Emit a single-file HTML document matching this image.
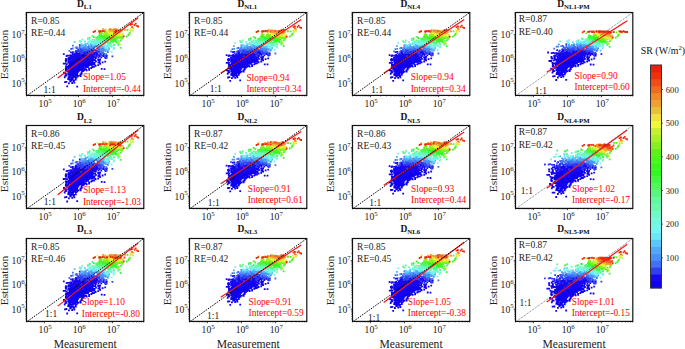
<!DOCTYPE html><html><head><meta charset="utf-8"><style>html,body{margin:0;padding:0;background:#fff;}svg{display:block}</style></head><body>
<svg xmlns="http://www.w3.org/2000/svg" width="685" height="349" viewBox="0 0 685 349" font-family='"Liberation Serif", serif'>
<rect width="685" height="349" fill="#fff"/>
<clipPath id="cp00"><rect x="26.5" y="12.5" width="117.3" height="82.9"/></clipPath>
<g stroke-width="1.8" stroke-linecap="square" fill="none"><path d="M80.8 60.4h0M72.1 62.6h0M78.9 57.2h0M79.7 56.2h0M71.3 62.2h0M78.6 71.2h0M85.4 69.4h0M70.5 55.5h0M78.9 60.8h0M95.1 60.1h0M82.5 63.9h0M85.4 64.0h0M75.1 72.2h0M77.4 62.5h0M82.4 62.9h0M88.0 67.0h0M78.5 65.1h0M82.1 64.0h0M75.1 67.5h0M73.0 70.4h0M92.9 59.0h0M75.9 72.4h0M84.0 64.5h0M80.1 63.3h0M83.7 58.2h0M84.9 60.2h0M77.6 66.3h0M76.7 64.5h0M84.4 61.1h0M77.4 70.0h0M69.3 75.5h0M78.2 65.5h0M72.9 72.0h0M80.7 62.1h0M92.3 55.8h0M77.5 63.7h0M85.7 57.1h0M74.0 76.0h0M72.7 66.3h0M70.3 64.3h0M78.9 67.6h0M81.5 61.0h0M71.7 66.8h0M72.7 60.6h0M77.5 57.9h0M75.2 67.6h0M78.3 67.3h0M81.8 63.8h0M78.1 68.9h0M72.7 63.4h0M89.4 63.0h0M74.4 61.0h0M83.5 60.5h0M73.8 62.9h0M77.9 65.2h0M77.6 67.0h0M76.2 72.0h0M84.4 55.3h0M85.2 61.7h0M77.4 63.1h0M82.4 68.2h0M66.3 66.3h0M85.0 62.9h0M83.2 65.8h0M81.9 64.4h0M81.5 62.8h0M86.3 59.3h0M74.6 73.2h0M82.7 62.2h0M77.8 68.8h0M86.4 58.4h0M76.2 62.3h0M78.5 71.1h0M80.7 66.2h0M78.8 60.9h0M70.4 61.3h0M70.9 66.2h0M80.1 68.4h0M83.2 60.0h0M84.6 66.8h0M98.4 62.7h0M89.8 61.2h0M73.4 58.7h0M80.5 61.1h0M79.0 66.2h0M65.7 60.3h0M76.6 59.6h0M90.1 59.3h0M78.6 64.6h0M81.2 60.0h0M76.8 75.3h0M75.6 70.0h0M80.1 65.9h0M81.0 56.6h0M77.0 65.3h0M80.4 65.8h0M83.9 57.6h0M81.4 62.8h0M88.0 66.1h0M74.6 73.4h0M80.4 63.8h0M80.4 64.0h0M86.6 58.3h0M82.0 56.8h0M75.4 67.9h0M80.8 62.2h0M70.2 76.4h0M77.0 64.1h0M84.4 60.2h0M84.0 70.3h0M76.7 58.8h0M86.4 66.2h0M73.6 65.5h0M71.6 64.9h0M92.3 60.9h0M71.8 62.5h0M78.1 67.2h0M74.0 68.1h0M76.5 73.9h0M75.8 66.8h0M73.5 68.3h0M71.6 75.1h0M83.0 69.4h0M80.3 60.4h0M79.6 70.4h0M79.4 61.8h0M72.8 66.2h0M78.3 56.9h0M73.7 74.6h0M85.3 56.6h0M76.8 59.8h0M66.4 81.8h0M68.4 71.9h0M88.9 65.3h0M76.3 71.7h0M70.2 66.7h0M79.1 60.0h0M80.1 61.9h0M73.4 70.4h0M76.7 63.8h0M81.0 61.0h0M68.2 79.0h0M75.6 60.5h0M77.4 58.5h0M72.8 62.2h0M73.7 72.1h0M64.7 77.4h0M73.7 67.1h0M77.2 56.4h0M70.9 79.6h0M91.5 59.9h0M75.2 69.3h0M76.6 70.0h0M78.1 60.7h0M75.9 70.9h0M76.7 65.4h0M78.8 63.1h0M78.1 61.0h0M94.6 62.7h0M65.9 73.9h0M80.8 56.8h0M68.5 61.3h0M73.5 62.4h0M72.4 75.5h0M76.4 73.4h0M78.3 64.1h0M77.1 74.3h0M74.0 80.3h0M77.7 61.4h0M74.8 76.2h0M72.9 76.4h0M78.7 71.1h0M75.4 62.0h0M86.2 62.9h0M79.6 62.3h0M76.3 59.6h0M76.3 63.8h0M78.2 67.9h0M75.3 68.8h0M71.7 67.6h0M93.9 59.9h0M74.3 61.2h0M73.9 57.4h0M82.3 60.0h0M76.8 70.2h0M77.1 56.5h0M86.8 62.5h0M68.3 59.0h0M78.2 64.9h0M99.6 62.0h0M68.6 61.2h0M81.6 61.0h0M95.8 58.2h0M84.7 62.8h0M78.8 69.4h0M77.3 68.1h0M85.3 65.2h0M73.0 57.4h0M91.2 68.0h0M90.0 64.7h0M71.7 65.1h0M75.9 69.4h0M85.4 57.9h0M78.8 59.7h0M78.0 62.8h0M74.2 66.5h0M75.9 62.4h0M94.2 53.2h0M74.5 71.1h0M76.5 66.2h0M79.1 61.3h0M73.1 70.2h0M76.7 59.9h0M71.8 64.9h0M71.4 78.0h0M74.3 65.4h0M74.4 69.7h0M70.5 74.1h0M78.1 67.7h0M81.6 57.9h0M79.8 61.8h0M90.5 59.9h0M71.5 64.8h0M81.8 61.0h0M77.0 66.0h0M85.2 55.3h0M84.9 54.7h0M75.4 70.1h0M81.8 73.4h0M78.7 62.9h0M68.9 59.0h0M75.6 66.6h0M71.1 70.3h0M65.9 69.7h0M81.1 63.8h0M81.5 56.1h0M80.2 60.6h0M66.4 75.7h0M68.8 61.8h0M100.1 59.5h0M78.1 60.8h0M80.2 65.2h0M73.5 60.0h0M74.8 76.5h0M87.1 65.6h0M78.2 59.6h0M73.4 65.1h0M76.1 69.4h0M81.5 63.4h0M74.6 69.9h0M81.3 63.7h0M75.0 65.0h0M94.5 57.5h0M81.0 59.3h0M82.5 67.3h0M82.9 64.2h0M82.0 58.3h0M73.2 64.1h0M78.8 62.9h0M71.9 68.1h0M83.9 61.8h0M80.1 64.6h0M70.8 68.8h0M83.9 60.0h0M80.8 62.7h0M82.2 58.5h0M91.4 56.3h0M88.0 60.3h0M83.0 66.5h0M77.3 66.1h0M78.6 63.6h0M91.5 65.0h0M77.8 62.6h0M76.2 69.3h0M87.0 61.6h0M73.7 64.4h0M73.4 73.0h0M75.4 65.3h0M81.1 63.0h0M81.4 57.7h0M77.4 67.0h0M76.5 68.4h0M75.4 74.4h0M75.7 73.9h0M74.5 74.8h0M79.6 68.6h0M86.9 56.2h0M75.9 67.8h0M81.4 57.6h0M81.7 59.0h0M75.8 63.6h0M81.3 73.8h0M76.8 60.6h0M89.2 61.4h0M78.1 64.5h0M84.2 61.0h0M77.4 59.8h0M86.5 62.2h0M79.1 63.1h0M79.9 66.7h0M80.6 65.8h0M78.7 56.5h0M82.3 64.5h0M73.2 67.9h0M85.3 62.2h0M79.6 65.2h0M86.9 63.0h0M66.3 60.3h0M78.2 68.0h0M76.4 68.1h0M69.2 76.4h0M86.3 62.1h0M78.5 66.3h0M73.2 77.7h0M87.6 59.0h0M77.0 59.5h0M75.6 70.0h0M73.8 60.6h0M70.0 64.2h0M79.0 61.9h0M69.2 79.3h0M92.2 67.2h0M73.7 65.2h0M75.4 57.0h0M76.4 75.1h0M77.8 58.6h0M76.1 60.8h0M74.4 82.6h0M82.1 58.6h0M66.8 66.7h0M74.1 70.0h0M66.8 64.1h0M80.0 58.9h0M78.1 63.1h0M93.3 60.3h0M76.4 62.2h0M85.1 62.1h0M76.8 67.5h0M74.2 71.8h0M89.6 56.1h0M82.9 61.6h0M98.2 65.2h0M93.7 64.3h0M75.1 57.8h0M72.7 63.8h0M76.5 66.5h0M83.0 68.6h0M75.0 59.5h0M72.6 64.4h0M79.0 64.9h0M76.0 67.0h0M89.1 68.6h0M68.6 79.0h0M69.7 74.3h0M75.7 74.4h0M69.0 58.0h0M71.9 62.1h0M74.7 54.5h0M73.6 64.9h0M84.2 57.9h0M72.5 67.1h0M68.8 67.3h0M74.3 59.4h0M72.9 71.8h0M77.4 65.6h0M88.5 63.9h0M81.3 57.2h0M74.9 70.9h0M87.4 56.4h0M73.3 66.7h0M79.2 62.4h0M73.6 81.1h0M77.7 64.5h0M87.3 58.1h0M75.7 58.2h0M72.9 69.8h0M78.2 66.8h0M80.5 58.5h0M82.2 71.2h0M79.1 68.7h0M77.1 68.0h0M75.8 66.5h0M90.7 60.5h0M77.1 68.4h0M74.0 70.9h0M73.9 63.7h0M70.6 64.1h0M73.6 65.1h0M75.5 60.8h0M74.8 71.4h0M79.0 64.2h0M70.5 70.1h0M63.7 63.7h0M70.8 80.1h0M84.1 54.2h0M71.3 70.5h0M86.0 61.7h0M72.2 77.0h0M67.4 70.4h0M80.8 63.3h0M77.7 61.9h0M76.3 65.8h0M85.9 57.8h0M79.9 64.7h0M76.2 67.4h0M80.1 60.7h0M68.4 66.7h0M75.3 67.0h0M98.4 60.1h0M74.1 69.8h0M71.4 72.5h0M76.8 68.3h0M81.7 70.6h0M73.7 73.3h0M78.5 75.8h0M71.9 70.1h0M79.5 62.5h0M83.4 61.4h0M76.9 61.3h0M81.3 69.2h0M69.7 66.7h0M71.6 65.6h0M72.4 72.8h0M84.7 56.9h0M75.6 68.8h0M79.2 65.0h0M75.6 64.9h0M86.9 59.3h0M74.9 76.7h0M85.2 58.0h0M71.6 64.9h0M70.9 70.2h0M80.4 74.4h0M69.6 63.1h0M77.5 62.1h0M81.7 61.7h0M78.6 60.2h0M73.6 68.0h0M73.7 60.6h0M69.0 65.4h0M94.3 64.3h0M68.7 61.0h0M76.6 62.5h0M72.2 68.0h0M72.6 66.6h0M66.0 59.0h0M75.0 64.2h0M79.2 59.4h0M76.3 70.8h0M80.0 62.6h0M85.6 63.1h0M78.6 63.1h0M87.0 59.1h0M67.4 71.6h0M71.8 66.2h0M78.1 60.0h0M84.4 63.4h0M77.4 76.6h0M89.1 69.8h0M87.7 59.9h0M89.1 57.9h0M88.4 59.2h0M74.0 60.6h0M71.5 68.8h0M70.3 64.9h0M79.7 58.6h0M78.1 61.5h0M85.5 55.6h0M77.6 64.7h0M80.6 67.2h0M83.3 59.6h0M88.1 60.9h0M66.1 66.2h0M81.1 64.2h0M73.3 65.4h0M73.1 65.9h0M73.6 64.3h0M76.6 69.6h0M77.6 65.3h0M73.6 60.2h0M82.1 66.2h0M79.7 69.9h0M75.5 67.7h0M88.2 63.0h0M78.0 61.7h0M88.0 62.2h0M70.2 65.8h0M83.6 66.6h0M88.8 57.7h0M77.4 56.8h0M74.0 76.2h0M67.6 71.6h0M71.1 66.9h0M75.3 65.2h0M77.3 74.6h0M77.0 58.8h0M75.3 67.4h0M76.8 60.1h0M77.9 71.2h0M68.3 62.5h0M71.2 64.0h0M80.0 63.3h0M89.2 62.1h0M75.2 71.9h0M87.1 61.1h0M84.9 66.6h0M95.6 65.8h0M80.6 61.9h0M84.8 56.3h0M70.8 60.2h0M91.0 58.8h0M86.7 70.3h0M79.2 66.0h0M67.8 66.6h0M88.6 60.4h0M79.5 60.9h0M78.9 64.0h0M76.0 73.6h0M75.1 71.0h0M77.4 69.6h0M76.0 70.7h0M72.6 63.8h0M92.1 62.0h0M71.6 65.3h0M74.1 58.9h0M95.9 57.2h0M77.1 73.0h0M69.7 71.4h0M69.4 61.5h0M75.1 61.7h0M81.4 69.6h0M83.6 60.1h0M77.9 68.1h0M82.4 62.3h0M86.1 67.0h0M93.9 54.0h0M74.5 65.2h0M71.0 75.3h0M72.8 66.7h0M86.9 59.2h0M89.5 64.8h0M79.0 65.1h0M72.6 66.4h0M76.0 66.2h0M75.2 66.7h0M81.9 64.8h0M74.9 62.3h0M75.7 68.7h0M74.5 71.1h0M83.3 65.1h0M78.9 61.2h0M78.8 64.3h0M92.7 66.7h0M70.5 59.0h0M74.8 71.1h0M95.3 65.5h0M79.6 68.6h0M79.9 63.9h0M77.0 62.6h0M88.1 57.3h0M76.3 72.2h0M75.6 62.5h0M70.4 81.0h0M83.2 66.4h0M65.0 63.6h0M81.3 58.2h0M65.3 75.9h0M89.2 55.7h0M83.8 64.0h0M74.9 62.1h0M71.5 74.7h0M77.3 61.7h0M77.7 65.1h0M79.1 62.2h0M75.9 60.5h0M77.5 62.6h0M73.5 65.0h0M77.1 65.2h0M73.2 63.8h0M69.4 75.4h0M65.0 82.1h0M92.1 64.4h0M66.1 67.6h0M72.2 83.0h0M76.3 58.1h0M73.2 68.8h0M79.6 66.0h0M75.0 61.4h0M78.2 63.9h0M74.1 63.9h0M91.5 62.3h0M83.8 60.3h0M78.7 58.7h0M80.3 69.2h0M75.8 66.8h0M85.7 63.7h0M99.0 60.5h0M80.6 67.1h0M70.6 71.5h0M70.3 74.3h0M66.3 69.3h0M76.2 56.7h0M100.1 63.8h0M69.2 78.2h0M78.7 67.3h0M83.2 62.5h0M80.8 64.1h0M87.9 59.4h0M77.9 65.7h0M81.1 66.9h0M74.0 72.7h0M70.0 71.8h0M76.2 67.2h0M64.3 73.0h0M75.8 67.4h0M75.0 60.5h0M81.0 63.8h0M87.5 66.5h0M83.4 63.9h0M70.5 72.0h0M75.2 69.3h0M75.8 79.7h0M83.1 63.4h0M77.1 67.8h0M75.1 62.1h0M81.4 60.6h0M80.5 68.8h0M76.4 67.7h0M70.0 65.6h0M71.9 60.9h0M74.3 66.2h0M94.0 55.8h0M80.4 69.8h0M73.9 71.3h0M92.4 63.8h0M80.6 60.9h0M78.5 70.3h0M74.0 70.1h0M77.1 60.6h0M80.9 60.4h0M73.9 60.2h0M72.7 79.7h0M78.9 63.8h0M84.0 65.4h0M72.6 69.8h0M80.0 59.5h0M77.9 64.4h0M74.7 61.3h0M68.2 74.1h0M78.5 65.2h0M78.5 70.7h0M76.7 66.7h0M86.7 57.1h0M73.6 75.8h0M70.2 74.0h0M85.3 56.9h0M74.9 65.3h0M74.6 71.9h0M73.4 60.8h0M83.9 59.4h0M73.7 66.0h0M81.9 62.3h0M78.0 63.9h0M77.5 67.7h0M77.5 67.0h0M82.5 61.0h0M74.4 65.9h0M83.9 56.1h0M72.1 73.5h0M84.1 58.5h0M101.7 68.8h0M71.1 71.7h0M81.8 55.3h0M77.0 70.3h0M82.6 58.2h0M73.9 63.6h0M73.8 66.6h0M84.5 57.6h0M68.2 69.8h0M87.0 58.2h0M83.1 59.5h0M72.4 68.6h0M74.5 68.4h0M92.1 60.9h0M76.6 69.1h0M72.0 77.8h0M81.5 72.8h0M70.5 69.5h0M69.4 67.4h0M80.2 69.3h0M89.0 51.6h0M71.9 66.5h0M78.6 66.5h0M74.6 68.7h0M76.1 75.1h0M68.7 74.2h0M73.8 70.9h0M82.7 62.4h0M93.9 66.9h0M74.2 59.4h0M77.7 65.4h0M73.8 67.5h0M69.4 75.4h0M80.7 56.2h0M79.8 61.5h0M76.4 65.7h0M82.6 69.6h0M81.5 59.2h0M77.0 58.6h0M83.7 56.7h0M73.8 74.5h0M76.5 60.5h0M90.8 62.4h0M80.2 68.6h0M70.5 67.8h0M85.1 53.3h0M92.5 57.4h0M98.1 59.4h0M80.6 68.2h0M88.9 61.0h0M85.3 58.6h0M69.8 71.6h0M70.2 81.4h0M78.5 69.6h0M74.1 68.2h0M74.8 69.2h0M74.6 76.5h0M90.9 63.2h0M77.4 64.2h0M83.5 60.8h0M74.0 65.6h0M73.0 73.8h0M68.7 78.4h0M69.3 65.3h0M75.3 61.1h0M70.3 65.6h0M79.6 57.9h0M75.2 75.7h0M86.5 58.2h0M79.6 65.2h0M77.4 65.5h0M85.9 57.9h0M71.0 69.7h0M77.3 69.2h0M76.2 70.6h0M76.4 59.0h0M75.2 77.1h0M83.4 67.0h0M74.1 61.6h0M85.7 61.6h0M85.5 59.5h0M76.8 66.8h0M78.0 66.4h0M92.6 53.1h0M71.0 67.6h0M73.3 63.6h0M104.5 69.1h0M75.1 67.7h0M85.2 58.9h0M81.7 65.9h0M74.4 58.4h0M81.0 63.7h0M70.2 70.5h0M80.4 74.8h0M75.3 64.9h0M77.3 65.5h0M80.4 64.2h0M76.5 77.6h0M79.8 61.6h0M77.2 63.5h0M72.6 74.1h0M73.8 62.9h0M86.0 64.0h0M72.1 70.6h0M82.2 67.0h0M88.1 65.3h0M76.4 66.9h0M69.2 71.4h0M84.7 68.8h0M80.7 76.0h0M66.0 61.7h0M82.7 71.1h0M84.0 61.5h0M79.4 66.5h0M71.1 68.1h0M72.1 64.8h0M68.9 67.0h0M96.0 61.4h0M89.7 59.9h0M79.3 63.9h0M86.1 69.5h0M75.2 68.2h0M68.6 74.3h0M75.1 67.2h0M79.4 63.2h0M79.9 68.4h0M73.5 62.9h0M68.7 66.5h0M83.0 65.9h0M73.3 64.7h0M79.5 65.2h0M73.5 71.2h0M71.7 58.1h0M72.0 56.6h0M86.9 59.1h0M89.5 61.5h0M77.4 65.3h0M87.0 58.0h0M70.0 77.3h0M78.5 68.8h0M81.6 61.0h0M77.9 72.4h0M82.9 71.2h0M73.5 67.7h0M77.1 63.0h0M79.8 66.5h0M74.4 63.1h0M71.3 70.9h0M77.7 61.8h0M70.5 70.5h0M88.1 58.7h0M86.9 59.1h0M77.9 59.0h0M69.0 67.4h0M81.7 63.6h0M74.1 62.7h0M68.7 74.4h0M83.0 57.7h0M90.2 58.6h0M74.1 72.4h0M82.8 58.3h0M78.1 57.4h0M86.4 61.7h0M73.2 75.2h0M93.3 62.7h0M83.5 65.8h0M94.6 56.5h0M81.4 69.4h0M82.5 69.3h0M81.9 64.2h0M82.8 59.4h0M80.7 65.4h0M78.4 62.4h0M73.1 72.2h0M74.3 66.8h0M79.9 56.7h0M77.7 67.5h0M74.9 62.9h0M79.6 68.9h0M75.0 59.8h0M71.7 70.3h0M70.8 61.4h0M68.5 77.5h0M68.4 73.9h0M70.5 71.6h0M70.6 63.8h0M85.6 59.9h0M92.4 64.3h0M73.8 73.5h0M82.5 64.1h0M84.5 61.3h0M102.6 62.4h0M79.7 64.0h0M85.3 60.9h0M77.7 61.4h0M98.7 62.6h0M68.2 68.1h0M80.3 63.7h0M77.0 64.5h0M70.1 70.8h0M65.8 70.7h0M64.6 73.4h0M82.5 59.1h0M77.5 60.8h0M87.4 59.2h0M78.2 66.6h0M80.1 57.5h0M84.3 57.4h0M74.7 58.7h0M75.6 77.8h0M69.5 72.3h0M76.2 69.3h0M78.0 65.0h0M68.5 62.0h0M75.2 72.7h0M78.5 64.2h0M90.8 64.3h0M78.3 63.9h0M80.2 55.1h0M74.7 70.9h0M74.8 66.3h0M63.9 72.7h0M83.8 63.0h0M75.2 68.4h0M70.0 68.1h0M80.2 59.6h0M82.4 59.2h0M76.7 72.7h0M87.8 64.3h0M81.5 63.4h0M89.2 58.9h0M81.8 64.5h0M81.0 59.8h0M80.1 60.7h0M78.1 63.2h0M81.6 62.0h0M74.8 57.3h0M82.1 64.6h0M68.9 79.2h0M67.2 86.4h0M71.3 80.6h0M74.4 82.6h0M77.2 86.6h0M68.9 83.3h0" stroke="#1000f0"/><path d="M76.2 59.4h0M83.9 57.7h0M92.0 54.4h0M90.4 57.2h0M73.2 54.5h0M91.2 57.5h0M72.3 59.5h0M100.6 54.0h0M88.8 53.7h0M88.6 55.1h0M76.3 63.5h0M93.9 53.5h0M69.0 55.7h0M87.3 49.8h0M72.9 52.2h0M100.0 54.6h0M77.8 57.2h0M87.4 56.4h0M81.4 60.9h0M98.6 52.2h0M81.4 56.8h0M86.6 54.0h0M78.6 55.3h0M77.5 51.0h0M81.7 57.3h0M96.7 55.8h0M83.6 56.9h0M92.6 49.0h0M92.0 49.6h0M106.8 55.8h0M75.6 55.8h0M79.0 57.9h0M89.8 45.8h0M83.1 56.8h0M85.4 55.5h0M98.5 57.2h0M89.6 56.1h0M75.6 55.4h0M83.1 49.8h0M89.1 54.6h0M82.3 55.2h0M105.6 58.2h0M80.0 62.2h0M79.4 57.9h0M82.9 51.5h0M88.0 54.7h0M93.2 53.0h0M82.6 55.6h0M81.5 52.7h0M77.1 57.9h0M92.9 53.9h0M96.2 53.4h0M78.7 58.3h0M76.8 54.0h0M90.7 59.5h0M78.3 55.1h0M80.9 62.6h0M101.9 52.3h0M92.1 54.0h0M72.4 57.2h0M84.6 56.2h0M85.7 55.7h0M81.0 55.5h0M88.8 57.2h0M89.7 57.7h0M84.8 52.2h0M103.1 55.6h0M81.4 55.4h0M95.5 56.6h0M75.9 51.1h0M84.3 56.3h0M71.0 52.3h0M84.8 54.6h0M80.8 56.1h0M99.7 56.0h0M94.8 56.0h0M86.8 57.6h0M87.4 51.4h0M73.7 58.0h0M92.7 56.9h0M81.8 57.5h0M99.6 60.1h0M84.3 59.4h0M87.1 53.5h0M76.7 55.8h0M68.6 58.2h0M86.9 56.8h0M77.6 55.7h0M82.7 53.7h0M79.6 55.8h0M79.2 56.3h0M77.1 57.2h0M95.0 55.6h0M77.8 56.3h0M76.7 56.0h0M103.6 53.9h0M101.3 57.4h0M77.4 56.8h0M76.7 54.9h0M75.9 60.6h0M99.0 55.1h0M85.4 53.5h0M82.9 51.8h0M79.1 55.4h0M73.9 55.8h0M78.0 58.3h0M86.4 56.9h0M91.6 54.9h0M86.1 52.0h0M79.8 53.6h0M103.4 56.2h0M70.9 61.1h0M77.3 61.0h0M88.8 57.2h0M85.0 55.1h0M106.3 56.3h0M96.7 52.2h0M92.6 53.3h0M87.1 50.4h0M86.0 58.2h0M94.1 57.0h0M89.1 58.1h0M83.3 51.6h0M76.1 61.4h0M83.6 52.1h0M86.8 54.7h0M84.4 50.7h0M87.1 53.9h0M87.2 54.2h0M82.9 55.1h0M90.8 59.8h0M87.1 57.3h0M88.1 55.9h0M80.8 52.5h0M87.9 56.2h0M95.8 52.4h0M73.9 59.8h0M89.8 54.4h0M83.9 52.7h0M78.9 58.6h0M76.1 72.8h0M74.8 58.8h0M70.5 57.4h0M73.7 58.3h0M86.2 55.5h0M97.3 54.6h0M75.1 53.8h0M90.7 50.2h0M86.6 55.7h0M86.3 54.3h0M83.6 53.4h0M87.6 50.6h0M85.3 53.1h0M72.6 58.4h0M67.4 55.7h0M89.8 54.1h0M79.6 58.9h0M92.8 51.3h0M93.3 51.7h0M82.5 54.6h0M96.4 54.2h0M74.2 54.7h0M86.4 56.2h0M92.5 55.2h0M84.5 57.9h0M95.2 57.2h0M80.8 52.8h0M78.9 56.5h0M72.6 53.8h0M82.3 56.5h0M92.7 55.1h0M87.6 60.7h0M76.0 53.2h0M94.2 55.8h0M76.8 54.4h0M73.5 55.6h0M88.5 57.9h0M79.0 55.4h0M80.1 62.9h0M93.2 51.2h0M78.7 56.0h0M89.4 57.0h0M82.7 55.3h0M81.2 55.7h0M93.4 56.9h0M71.3 55.7h0M76.9 52.0h0M86.0 51.8h0M90.9 55.4h0M80.4 58.3h0M105.2 61.6h0M85.5 51.9h0M84.3 56.6h0M85.9 54.8h0M83.0 62.1h0M85.8 58.3h0M63.8 54.1h0M81.9 54.5h0M85.0 55.6h0M82.9 53.1h0M79.5 54.6h0M81.0 53.2h0M73.0 56.7h0M92.4 58.3h0M97.4 53.0h0M71.0 55.6h0M93.6 54.3h0M73.1 54.5h0M83.3 58.9h0M89.4 49.0h0M84.2 54.8h0M82.5 56.4h0M85.0 53.7h0M80.8 54.5h0M81.2 50.5h0M83.9 50.6h0M90.5 56.6h0M75.8 56.9h0M85.0 51.2h0M80.6 57.4h0M77.0 55.5h0M96.8 55.4h0M83.9 53.1h0M74.9 55.3h0M92.1 50.3h0M87.5 54.1h0M81.1 59.1h0M74.5 56.7h0M82.5 56.7h0M85.7 60.4h0M93.7 52.4h0M81.6 56.6h0M85.6 51.0h0M88.6 50.8h0M85.2 57.1h0M81.4 54.5h0M83.1 57.7h0M88.5 53.8h0M77.3 55.7h0M92.4 51.5h0M83.1 52.9h0M91.7 55.6h0M74.7 54.5h0M80.9 58.8h0M79.7 58.6h0M82.3 56.2h0M75.4 53.7h0M77.9 56.4h0M83.7 54.1h0M92.5 49.5h0M81.2 57.7h0M77.7 57.5h0M78.9 55.7h0M92.9 56.5h0M96.4 53.6h0M94.8 54.5h0M96.3 53.8h0M75.2 56.9h0M86.7 57.4h0M79.1 55.8h0M83.6 56.6h0M66.6 56.0h0M74.1 57.0h0M81.1 58.4h0M94.1 53.9h0M79.6 52.9h0M98.6 49.6h0M82.8 57.7h0M79.8 55.8h0M88.6 57.5h0M82.5 53.3h0M98.8 51.5h0M80.3 50.3h0M78.4 53.7h0" stroke="#1808f0"/><path d="M95.2 55.7h0M98.5 51.7h0M87.1 48.8h0M89.5 48.8h0M101.7 55.4h0M80.4 51.0h0M80.9 52.0h0M96.7 50.8h0M88.5 49.4h0M91.1 53.1h0M79.5 51.2h0M85.7 50.4h0M101.1 54.5h0M88.2 53.7h0M99.1 51.1h0M90.1 51.8h0M89.2 47.2h0M81.2 53.7h0M112.4 56.3h0M99.4 54.2h0M82.2 49.2h0M80.7 50.1h0M80.9 57.3h0M82.1 53.0h0M79.2 51.8h0M90.1 50.8h0M82.3 50.0h0M78.3 49.4h0M82.6 49.4h0M85.3 48.8h0M89.3 51.1h0M95.5 50.6h0M98.3 50.5h0M98.6 51.4h0M87.2 50.9h0M86.3 52.8h0M103.8 53.7h0M89.0 50.7h0M102.0 48.1h0M89.3 52.0h0M85.1 54.2h0M86.6 50.9h0M87.8 47.2h0M93.1 52.7h0M99.6 51.8h0M77.9 51.2h0M91.5 51.3h0M88.0 49.8h0M99.5 52.0h0M89.3 52.6h0M86.7 51.5h0M89.9 49.5h0M71.2 48.8h0M91.8 53.0h0M84.2 49.8h0M98.0 52.1h0M94.0 50.1h0M84.1 50.1h0M93.5 48.5h0M78.1 49.5h0M79.4 51.5h0M86.8 50.5h0M105.0 55.6h0M97.0 51.2h0M82.4 51.2h0M82.6 53.2h0M97.9 52.1h0M78.3 51.1h0M85.8 54.1h0M92.9 49.2h0M82.8 51.8h0M77.2 50.6h0M75.4 52.1h0M79.8 45.0h0M102.5 52.9h0M81.1 52.5h0M83.7 51.2h0M90.2 49.7h0M79.3 51.1h0M104.9 57.4h0M80.2 48.5h0M90.3 48.9h0M88.8 48.4h0M106.7 57.8h0M86.9 48.9h0M76.7 48.1h0M83.2 51.3h0M76.8 47.3h0M96.9 46.1h0M89.2 50.9h0M81.5 50.2h0M94.5 49.8h0M83.0 50.8h0M83.8 50.0h0M83.5 48.2h0" stroke="#3040f0"/><path d="M101.3 52.0h0M100.0 49.7h0M89.2 47.9h0M106.4 54.4h0M91.5 46.0h0M88.1 48.4h0M92.3 46.1h0M106.4 54.3h0M90.3 44.5h0M82.0 48.4h0M96.0 45.7h0M102.4 53.5h0M89.9 50.0h0M89.2 46.8h0M99.1 47.7h0M89.3 45.0h0M105.7 50.7h0M91.0 46.2h0M81.8 48.7h0M72.7 48.5h0M99.7 48.2h0M91.4 49.0h0M106.1 54.2h0M99.2 47.1h0M100.2 48.0h0M92.7 48.9h0M94.1 46.5h0M89.6 50.6h0M97.5 48.4h0M101.5 50.7h0M91.4 49.2h0M103.3 52.3h0M84.8 47.2h0M104.4 49.6h0M85.1 47.6h0M100.8 47.7h0M72.9 45.7h0M97.6 45.9h0M86.5 48.9h0M93.0 47.0h0M99.5 48.9h0M87.6 49.4h0M98.8 49.8h0M93.7 48.4h0M92.5 49.1h0M101.5 50.4h0M103.1 48.5h0M93.8 47.5h0M81.3 45.6h0M105.5 48.3h0M87.0 47.1h0M99.2 48.8h0M103.6 49.8h0M99.3 48.9h0M93.3 46.6h0M79.6 46.9h0M84.0 50.4h0M79.5 47.9h0M82.4 48.6h0M85.2 50.3h0M107.8 52.0h0M90.2 45.1h0M104.3 49.5h0M92.9 46.8h0M91.9 44.6h0M69.4 50.9h0" stroke="#4070f8"/><path d="M81.9 46.7h0M103.2 50.8h0M103.8 46.9h0M91.4 47.3h0M98.6 45.8h0M97.3 46.7h0M87.2 48.0h0M94.8 44.2h0M91.9 45.6h0M96.2 45.1h0M98.9 47.2h0M101.5 49.9h0M83.3 46.9h0M102.1 46.5h0M100.7 48.8h0M85.7 44.6h0M104.1 50.2h0M95.4 46.3h0M82.3 45.3h0M90.9 47.6h0M84.9 45.7h0M92.6 48.4h0M86.7 46.9h0M93.0 46.3h0M90.0 47.1h0M90.0 45.9h0M95.4 44.8h0M75.6 47.6h0M96.5 42.4h0M85.6 45.7h0M81.2 45.6h0M86.0 47.8h0M100.4 47.9h0M99.2 46.8h0M106.0 48.8h0M84.0 47.8h0M83.1 46.8h0" stroke="#4890f8"/><path d="M95.1 45.0h0M105.0 49.3h0M98.7 45.6h0M86.6 46.8h0M100.4 46.0h0M104.4 44.8h0M105.7 51.1h0M95.3 44.2h0M97.9 44.6h0M97.4 42.9h0M92.6 45.9h0M109.1 48.9h0M92.2 45.4h0M97.1 44.3h0M89.6 45.7h0M96.6 44.2h0M93.8 47.7h0M100.7 47.5h0M90.3 46.9h0M83.6 46.1h0M87.7 43.6h0M103.4 47.7h0M97.5 44.0h0M94.7 45.3h0M94.2 45.3h0" stroke="#50a8f8"/><path d="M103.9 43.3h0M99.7 43.4h0M101.4 42.5h0M103.2 45.5h0M96.4 45.6h0M107.8 48.6h0M81.5 44.1h0M97.4 43.6h0M89.9 43.8h0M102.2 44.4h0M107.3 49.8h0M107.2 46.3h0M108.5 50.6h0M108.8 47.6h0M81.9 45.6h0M85.6 43.6h0M94.1 41.8h0M96.5 44.5h0M101.0 47.0h0M97.5 43.5h0M101.3 44.1h0M98.1 45.3h0M84.2 44.9h0M99.3 46.5h0M102.1 46.4h0M98.6 44.2h0M103.0 46.7h0M74.6 42.2h0" stroke="#58c8f8"/><path d="M102.8 43.1h0M107.7 44.2h0M100.8 42.2h0M107.5 46.1h0M111.2 46.4h0M102.7 44.9h0M84.9 41.5h0M100.7 42.3h0M94.5 44.4h0M89.8 44.4h0M98.2 44.4h0M97.1 41.7h0M100.8 42.5h0M98.5 41.6h0M96.7 44.4h0M101.2 42.8h0M106.5 46.7h0M95.8 41.6h0M96.2 43.5h0M91.7 41.8h0M81.2 41.3h0M93.5 44.8h0M107.1 46.3h0M94.2 43.7h0M98.5 43.5h0M96.6 41.5h0M96.8 43.6h0M92.1 43.6h0" stroke="#68e8f8"/><path d="M100.9 41.1h0M107.2 48.6h0M100.8 43.3h0M104.7 45.0h0M108.3 44.0h0M88.3 42.3h0M105.7 47.5h0M97.3 42.4h0M92.6 43.2h0M97.9 43.8h0M101.0 44.5h0M99.8 43.4h0M102.4 45.0h0M93.7 41.7h0M101.6 43.8h0M102.2 43.6h0M95.8 40.6h0M96.0 42.4h0M93.6 42.2h0M103.8 43.0h0M96.0 42.1h0M113.6 49.0h0M107.9 44.2h0M97.4 41.6h0M99.2 42.9h0M105.3 47.9h0M100.7 40.9h0M99.1 43.9h0M98.6 41.6h0M100.9 42.4h0M102.6 43.1h0M111.6 51.8h0M94.6 42.3h0M89.1 43.6h0M95.4 40.9h0M111.3 45.6h0" stroke="#70f8f0"/><path d="M108.9 46.8h0M109.1 45.1h0M82.2 39.6h0M105.5 41.8h0M101.6 42.0h0M90.2 41.6h0M103.0 42.5h0M98.3 39.6h0M95.0 40.5h0M95.6 42.0h0M98.6 40.7h0M97.8 43.0h0M112.0 46.6h0M99.8 41.5h0M89.7 41.9h0M97.5 43.1h0M100.6 41.2h0M90.5 41.6h0M100.6 41.1h0M109.7 44.9h0M89.4 39.3h0M90.5 40.8h0M111.3 46.4h0M103.5 44.2h0M118.1 45.6h0" stroke="#70f8e0"/><path d="M80.2 42.1h0M98.9 41.1h0M97.9 40.8h0M113.6 44.6h0M105.0 43.3h0M94.1 39.9h0M114.2 47.8h0M110.7 43.8h0M101.5 41.9h0M105.5 41.0h0M108.9 43.3h0M99.4 41.6h0M99.8 42.2h0M103.0 42.1h0M100.8 40.6h0M79.6 40.8h0M97.7 41.6h0M106.1 42.3h0M107.5 42.6h0M96.7 40.4h0M99.4 41.7h0M107.3 41.5h0M100.9 40.3h0M111.0 45.3h0M87.9 39.6h0M110.2 44.2h0M96.5 39.7h0M98.2 39.0h0M108.5 44.5h0M98.3 39.4h0M104.8 44.5h0M107.6 41.6h0" stroke="#70f8c8"/><path d="M103.9 41.1h0M99.0 41.0h0M105.5 42.0h0M105.0 42.7h0M102.4 40.6h0M108.1 43.0h0M105.4 41.8h0M101.4 38.6h0M92.3 39.9h0M102.7 40.7h0M105.4 40.9h0M105.5 40.4h0M88.0 38.2h0M115.4 41.7h0M102.4 40.2h0M98.1 39.3h0M105.3 43.1h0M93.6 41.8h0M105.8 41.0h0M103.9 40.1h0" stroke="#68f8b0"/><path d="M109.0 43.3h0M102.2 38.2h0M108.0 41.3h0M106.8 39.7h0M106.8 41.0h0M98.7 38.5h0M103.3 38.7h0M113.1 42.3h0M105.1 40.6h0M107.5 39.8h0M113.0 41.9h0M102.4 38.1h0M106.5 41.3h0M96.3 38.2h0M107.6 39.3h0M100.4 39.6h0M110.2 42.7h0M106.3 41.2h0M101.9 39.6h0M107.0 40.9h0M106.5 40.9h0" stroke="#60f8a0"/><path d="M103.7 39.4h0M96.8 38.9h0M98.9 38.5h0M100.3 37.0h0M110.6 39.2h0M100.3 39.5h0M111.0 41.5h0M99.4 38.1h0M109.4 42.4h0M112.3 41.3h0M110.2 43.0h0M101.6 38.4h0M114.2 45.0h0M102.8 37.7h0M107.8 39.6h0M98.6 38.9h0M100.0 38.8h0M107.3 42.1h0M118.6 44.2h0M118.7 44.4h0M108.0 41.8h0M99.7 37.6h0M99.6 38.3h0M112.1 40.1h0" stroke="#58f880"/><path d="M108.7 39.6h0M103.3 39.2h0M99.8 37.4h0M96.5 37.6h0M102.0 36.9h0M98.0 36.9h0M104.5 38.9h0M99.2 38.4h0M89.7 37.7h0M110.2 39.3h0M113.4 41.5h0M118.2 43.4h0M108.0 38.5h0M97.9 37.6h0M115.2 39.7h0M106.3 38.0h0M112.5 41.1h0M116.3 42.6h0M92.6 35.8h0M114.8 41.1h0M111.9 37.0h0M103.4 37.0h0" stroke="#50f860"/><path d="M107.2 39.4h0M104.8 37.5h0M111.4 41.5h0M103.0 37.6h0M113.6 39.2h0M112.7 40.9h0M115.5 40.7h0M120.6 47.8h0M110.5 39.9h0M118.5 41.3h0M106.4 37.9h0M101.9 36.3h0M110.3 37.9h0M109.9 37.8h0M120.9 40.5h0" stroke="#40f840"/><path d="M100.6 35.2h0M108.0 37.3h0M114.3 40.1h0M116.4 37.8h0M105.5 37.7h0M114.4 39.7h0M101.9 35.8h0M103.0 36.7h0M102.6 36.5h0M93.9 37.1h0M108.7 36.9h0M113.5 40.2h0M105.0 37.3h0M110.3 36.1h0M115.0 40.0h0M107.8 37.4h0M110.5 39.2h0M106.2 37.5h0M108.5 36.6h0M113.7 37.3h0M104.7 33.5h0M115.8 36.4h0M126.7 36.5h0" stroke="#30f820"/><path d="M113.9 37.5h0M104.9 35.0h0M110.0 36.6h0M114.5 39.0h0M109.2 35.5h0M109.9 37.1h0M109.1 36.8h0M112.6 38.6h0M99.2 35.3h0M108.4 35.2h0M107.1 35.6h0M116.6 38.1h0M111.8 38.6h0M116.9 38.9h0M104.1 34.3h0M112.2 36.5h0M117.9 37.9h0M100.2 35.9h0M100.3 35.3h0M104.5 36.3h0M115.3 36.6h0M107.1 35.0h0M104.2 36.4h0M116.4 41.3h0M111.9 39.9h0M128.5 35.0h0M122.0 38.7h0" stroke="#38f818"/><path d="M121.5 36.5h0M111.0 37.1h0M114.4 35.8h0M108.7 36.0h0M101.3 35.1h0M119.4 36.5h0M115.9 37.6h0M115.0 38.8h0M117.0 38.0h0M120.0 37.8h0M113.7 37.6h0M108.3 35.9h0M115.1 38.1h0M111.6 35.0h0M100.3 34.5h0M100.6 33.7h0M105.9 35.1h0M104.4 36.0h0M113.8 34.5h0M129.7 32.9h0M125.1 29.7h0M122.9 37.4h0" stroke="#48f818"/><path d="M105.0 32.4h0M106.3 34.7h0M112.7 34.7h0M120.3 36.8h0M113.1 36.1h0M101.8 33.0h0M108.6 35.5h0M120.6 36.6h0M110.2 37.8h0M99.7 33.6h0M115.4 36.9h0M106.7 35.2h0M117.3 37.8h0M102.9 36.0h0M107.8 34.0h0M106.1 34.8h0M100.5 34.9h0M108.6 36.0h0M115.8 36.7h0M107.6 35.6h0M119.4 37.3h0M109.5 34.6h0M127.5 30.0h0M129.4 33.8h0" stroke="#60f018"/><path d="M119.1 35.6h0M115.6 34.5h0M121.6 35.3h0M112.0 33.5h0M112.7 35.7h0M110.1 35.0h0M106.5 33.5h0M105.1 34.8h0M110.6 33.8h0M112.2 34.5h0M105.8 32.3h0M109.5 32.6h0M121.4 38.1h0M111.8 36.7h0M118.0 37.1h0M119.5 36.5h0M116.4 37.5h0M112.1 32.5h0M107.5 34.7h0M121.7 37.8h0M100.3 32.2h0M117.0 34.6h0" stroke="#88f020"/><path d="M108.0 32.3h0M113.0 34.9h0M104.5 33.9h0M106.2 32.0h0M118.1 35.7h0M115.1 34.2h0M114.7 34.6h0M109.2 32.8h0M119.8 35.9h0M115.5 35.2h0M109.3 32.5h0M112.0 33.7h0M120.6 35.8h0M110.2 32.6h0M107.2 32.7h0M109.0 35.0h0M107.8 33.6h0M115.3 35.9h0M119.8 44.4h0" stroke="#a8f028"/><path d="M118.4 34.3h0M119.4 34.1h0M116.2 33.8h0M115.0 33.8h0M116.4 33.1h0M110.1 33.4h0M111.4 33.2h0M110.7 33.7h0M116.0 34.2h0M114.5 33.1h0M117.5 34.8h0M115.6 32.4h0M133.0 30.5h0M130.8 30.8h0M119.0 42.5h0" stroke="#c8f030"/><path d="M105.3 30.1h0M115.6 32.9h0M121.4 34.9h0M118.1 33.9h0M108.8 31.2h0M110.5 32.9h0M119.9 33.1h0M118.9 34.6h0M110.6 30.9h0M108.7 32.4h0M112.8 33.7h0M109.3 33.0h0M110.8 35.6h0M113.7 32.1h0M97.5 29.6h0M119.9 32.7h0M121.1 34.4h0M113.9 34.3h0M117.3 32.9h0M109.8 33.1h0M112.1 29.9h0M131.8 29.1h0" stroke="#f0f838"/><path d="M112.7 29.7h0M119.2 32.6h0M113.0 31.6h0M120.8 32.1h0M110.1 30.5h0M113.0 31.1h0M115.7 32.3h0M114.9 32.2h0M119.3 30.6h0M118.9 31.9h0M114.7 31.5h0M108.9 30.9h0M115.5 30.5h0M108.0 30.4h0M107.8 30.8h0M113.1 30.3h0M113.3 32.6h0M113.6 31.6h0M109.2 29.6h0M123.0 34.0h0M109.3 31.9h0M115.2 31.0h0M114.7 32.9h0M111.8 29.7h0M130.3 28.6h0" stroke="#f0e040"/><path d="M110.8 30.3h0M110.3 31.7h0M118.9 30.8h0M117.7 32.8h0M115.8 29.5h0M113.6 29.5h0M113.9 29.5h0M111.9 30.6h0M133.3 27.9h0" stroke="#e8c038"/><path d="M116.0 30.8h0M105.4 29.6h0M103.1 29.2h0M114.1 30.6h0M117.5 30.5h0M111.5 29.6h0M110.3 29.5h0M119.8 31.6h0M110.5 29.9h0M115.8 29.5h0M115.9 30.7h0M113.1 30.5h0M115.0 33.0h0M118.1 30.1h0M124.5 29.7h0M117.6 29.7h0M118.5 30.6h0M117.2 29.5h0M112.1 30.6h0" stroke="#f0a030"/><path d="M109.8 29.6h0M110.1 29.1h0M115.8 30.1h0M121.5 30.5h0M119.9 30.2h0M115.1 30.1h0M113.8 29.6h0M121.8 30.5h0" stroke="#f08a28"/><path d="M119.5 31.6h0M115.4 29.6h0M132.0 27.0h0" stroke="#f06a20"/><path d="M114.4 31.8h0M116.3 31.4h0M104.3 31.1h0M104.4 31.3h0M136.8 25.8h0" stroke="#f04c18"/><path d="M102.8 31.0h0M93.6 32.0h0M95.1 31.1h0M99.1 31.5h0M100.8 31.1h0M130.5 24.8h0M134.6 25.0h0M135.7 23.6h0M123.7 36.3h0" stroke="#f0300e"/><path d="M116.2 30.9h0M99.8 31.5h0M131.9 24.2h0M138.1 26.5h0" stroke="#e8200c"/></g>
<line x1="57.7" y1="77.9" x2="138.2" y2="17.8" stroke="#ff1010" stroke-width="1.2"/>
<line x1="27.3" y1="95.4" x2="143.8" y2="12.5" stroke="#000" stroke-width="1.0" stroke-dasharray="1.5 1.2"/>
<rect x="26.5" y="12.5" width="117.3" height="82.9" fill="none" stroke="#111" stroke-width="1.2"/>
<path d="M26.6 95.4v1.0M30.8 95.4v1.0M26.5 92.9h-1.0M34.1 95.4v1.0M26.5 90.5h-1.0M36.8 95.4v1.0M26.5 88.6h-1.0M39.1 95.4v1.0M26.5 87.0h-1.0M41.1 95.4v1.0M26.5 85.6h-1.0M42.8 95.4v1.0M26.5 84.3h-1.0M44.4 95.4v1.8M26.5 83.2h-1.8M54.7 95.4v1.0M26.5 75.9h-1.0M60.7 95.4v1.0M26.5 71.6h-1.0M64.9 95.4v1.0M26.5 68.6h-1.0M68.2 95.4v1.0M26.5 66.2h-1.0M70.9 95.4v1.0M26.5 64.3h-1.0M73.2 95.4v1.0M26.5 62.7h-1.0M75.2 95.4v1.0M26.5 61.3h-1.0M76.9 95.4v1.0M26.5 60.1h-1.0M78.5 95.4v1.8M26.5 58.9h-1.8M88.8 95.4v1.0M26.5 51.6h-1.0M94.8 95.4v1.0M26.5 47.4h-1.0M99.0 95.4v1.0M26.5 44.3h-1.0M102.3 95.4v1.0M26.5 42.0h-1.0M105.0 95.4v1.0M26.5 40.1h-1.0M107.3 95.4v1.0M26.5 38.4h-1.0M109.3 95.4v1.0M26.5 37.0h-1.0M111.0 95.4v1.0M26.5 35.8h-1.0M112.6 95.4v1.8M26.5 34.7h-1.8M122.9 95.4v1.0M26.5 27.4h-1.0M128.9 95.4v1.0M26.5 23.1h-1.0M133.1 95.4v1.0M26.5 20.1h-1.0M136.4 95.4v1.0M26.5 17.7h-1.0M139.1 95.4v1.0M26.5 15.8h-1.0M141.4 95.4v1.0M26.5 14.2h-1.0M143.4 95.4v1.0M26.5 12.8h-1.0" stroke="#111" stroke-width="0.8" fill="none"/>
<text x="38.6" y="106.9" font-size="9.6" fill="#222">10<tspan font-size="6.8" dy="-4.4">5</tspan></text>
<text x="11.6" y="86.7" font-size="9.6" fill="#222">10<tspan font-size="6.8" dy="-4.4">5</tspan></text>
<text x="72.7" y="106.9" font-size="9.6" fill="#222">10<tspan font-size="6.8" dy="-4.4">6</tspan></text>
<text x="11.6" y="62.4" font-size="9.6" fill="#222">10<tspan font-size="6.8" dy="-4.4">6</tspan></text>
<text x="106.8" y="106.9" font-size="9.6" fill="#222">10<tspan font-size="6.8" dy="-4.4">7</tspan></text>
<text x="11.6" y="38.2" font-size="9.6" fill="#222">10<tspan font-size="6.8" dy="-4.4">7</tspan></text>
<text transform="translate(8.1,54.6) rotate(-90)" text-anchor="middle" font-size="11.4" fill="#222">Estimation</text>
<text x="84.4" y="6.9" text-anchor="middle" font-size="9.5" font-weight="bold" fill="#111">D<tspan font-size="6.8" dy="2.4">L1</tspan></text>
<text x="31.1" y="23.6" font-size="9.5" fill="#222">R=0.85</text>
<text x="31.1" y="36.1" font-size="9.5" fill="#222">RE=0.44</text>
<text x="82.9" y="80.4" font-size="9.4" fill="#f00">Slope=1.05</text>
<text x="82.9" y="91.7" font-size="9.4" fill="#f00">Intercept=-0.44</text>
<text x="43.5" y="92.8" font-size="9.5" fill="#222" clip-path="url(#cp00)">1:1</text>
<clipPath id="cp01"><rect x="189.5" y="12.5" width="117.3" height="82.9"/></clipPath>
<g stroke-width="1.8" stroke-linecap="square" fill="none"><path d="M243.8 59.0h0M234.9 61.4h0M241.7 56.5h0M242.5 55.7h0M234.0 61.0h0M241.6 67.8h0M248.4 65.9h0M232.8 55.4h0M241.8 59.4h0M258.1 57.8h0M248.4 61.7h0M238.1 68.9h0M240.4 60.9h0M245.4 60.9h0M251.0 63.8h0M241.5 63.0h0M245.1 61.8h0M238.1 65.2h0M236.0 67.6h0M255.9 57.1h0M238.9 69.0h0M247.0 62.1h0M243.1 61.4h0M246.7 57.1h0M247.9 58.6h0M240.6 64.0h0M239.7 62.6h0M247.4 59.3h0M240.4 67.0h0M232.3 72.0h0M241.2 63.3h0M235.9 68.9h0M243.7 60.5h0M240.5 62.0h0M248.7 56.1h0M237.0 72.0h0M235.6 64.3h0M233.3 62.9h0M241.9 64.9h0M244.5 59.5h0M234.5 64.8h0M235.6 59.8h0M240.1 57.0h0M238.2 65.3h0M241.3 64.8h0M244.8 61.7h0M241.1 66.1h0M235.3 61.8h0M252.4 60.6h0M237.2 59.9h0M246.5 59.0h0M236.7 61.5h0M240.9 63.1h0M240.6 64.6h0M239.2 68.7h0M247.4 54.8h0M248.2 59.8h0M240.4 61.5h0M245.4 65.2h0M229.3 64.9h0M248.0 60.7h0M246.2 63.2h0M244.9 62.2h0M244.5 60.9h0M249.3 57.8h0M237.6 69.8h0M245.7 60.4h0M240.8 66.0h0M249.4 57.1h0M239.2 60.9h0M241.5 67.8h0M243.7 63.7h0M241.7 59.6h0M233.7 64.3h0M243.1 65.6h0M246.2 58.5h0M247.6 63.9h0M261.4 59.7h0M252.8 59.1h0M236.0 58.0h0M243.5 59.7h0M242.0 63.8h0M227.9 59.6h0M253.1 57.5h0M241.6 62.6h0M244.2 58.7h0M239.8 71.3h0M238.6 67.1h0M243.1 63.6h0M243.8 55.8h0M240.0 63.3h0M243.4 63.4h0M244.4 61.0h0M251.0 63.1h0M237.6 69.9h0M243.4 61.8h0M243.4 62.0h0M244.9 56.0h0M238.4 65.5h0M243.8 60.5h0M233.2 72.6h0M240.0 62.3h0M247.4 58.6h0M247.0 66.8h0M239.6 58.1h0M249.4 63.3h0M236.5 63.6h0M234.5 63.2h0M255.3 58.7h0M234.6 61.3h0M241.1 64.7h0M237.0 65.7h0M239.5 70.2h0M238.8 64.6h0M236.5 65.9h0M234.6 71.5h0M246.0 66.1h0M243.3 59.1h0M242.6 67.1h0M242.4 60.3h0M235.8 64.3h0M241.0 56.2h0M236.7 71.0h0M248.3 55.7h0M239.6 58.6h0M229.4 77.2h0M231.4 69.1h0M251.9 62.4h0M239.3 68.4h0M233.2 64.9h0M242.1 58.9h0M243.1 60.4h0M236.4 67.6h0M239.7 62.1h0M244.0 59.6h0M231.2 74.9h0M238.5 59.5h0M240.2 57.7h0M235.4 60.9h0M236.7 69.0h0M227.7 73.8h0M236.7 64.9h0M240.2 56.1h0M233.9 75.1h0M254.5 57.9h0M238.2 66.6h0M239.6 67.1h0M240.9 59.4h0M238.9 67.8h0M239.7 63.4h0M241.8 61.4h0M241.1 59.7h0M257.6 59.9h0M228.9 70.9h0M243.6 56.0h0M231.3 60.6h0M236.3 61.1h0M235.4 71.7h0M239.4 69.8h0M241.3 62.2h0M240.1 70.5h0M237.0 75.5h0M240.6 60.1h0M237.8 72.1h0M235.9 72.5h0M241.7 67.8h0M238.3 60.7h0M249.2 60.7h0M242.6 60.7h0M239.1 58.6h0M239.3 62.1h0M241.2 65.3h0M238.3 66.2h0M234.7 65.4h0M256.9 57.8h0M237.2 60.1h0M236.6 57.1h0M245.3 58.6h0M239.8 67.2h0M239.6 55.9h0M231.3 58.8h0M241.2 62.8h0M262.6 59.0h0M231.3 60.5h0M244.6 59.5h0M258.8 56.3h0M247.7 60.7h0M241.8 66.4h0M240.3 65.4h0M248.3 62.5h0M235.6 57.1h0M254.2 64.4h0M253.0 61.9h0M234.6 63.4h0M238.9 66.6h0M248.4 56.8h0M241.7 58.6h0M241.0 61.2h0M237.1 64.4h0M238.8 61.0h0M237.5 68.1h0M239.5 64.0h0M242.1 59.9h0M236.1 67.4h0M239.4 58.8h0M234.7 63.3h0M234.4 73.8h0M237.3 63.5h0M237.4 67.0h0M233.5 70.8h0M241.1 65.1h0M244.6 57.0h0M242.8 60.2h0M253.5 58.0h0M234.4 63.2h0M244.8 59.5h0M240.0 63.9h0M248.2 54.6h0M238.4 67.2h0M244.8 69.4h0M241.7 61.2h0M231.6 58.7h0M238.6 64.4h0M234.0 67.7h0M228.7 67.4h0M244.1 61.8h0M244.4 55.5h0M243.2 59.3h0M229.4 72.3h0M231.6 61.0h0M263.1 56.9h0M241.1 59.5h0M243.2 62.9h0M236.4 59.2h0M237.8 72.4h0M250.1 62.8h0M236.3 63.3h0M239.1 66.6h0M244.5 61.4h0M237.6 67.1h0M244.3 61.7h0M238.0 63.2h0M244.0 58.2h0M245.5 64.5h0M245.9 62.0h0M245.0 57.3h0M236.2 62.6h0M241.8 61.2h0M234.9 65.9h0M246.9 60.0h0M243.1 62.5h0M233.8 66.5h0M246.9 58.5h0M243.8 60.9h0M254.4 55.0h0M251.0 58.5h0M246.0 63.8h0M240.3 63.9h0M241.6 61.8h0M254.5 62.0h0M240.8 61.1h0M239.2 66.5h0M250.0 59.6h0M236.6 62.7h0M236.4 69.7h0M238.4 63.4h0M244.1 61.2h0M240.4 64.6h0M239.5 65.8h0M238.4 70.7h0M238.7 70.3h0M237.5 71.1h0M242.6 65.8h0M249.9 55.3h0M238.9 65.3h0M244.7 57.9h0M238.8 62.0h0M244.3 69.7h0M239.6 59.4h0M252.2 59.3h0M241.1 62.5h0M247.2 59.3h0M240.2 58.7h0M249.5 60.1h0M242.1 61.4h0M242.9 64.1h0M243.6 63.4h0M245.3 62.2h0M236.2 65.6h0M248.3 60.2h0M242.6 63.0h0M249.9 60.7h0M229.3 60.0h0M241.2 65.3h0M239.4 65.5h0M232.2 72.7h0M249.3 60.0h0M241.5 63.9h0M236.2 73.5h0M250.6 57.5h0M239.7 58.4h0M238.6 67.1h0M236.7 59.7h0M233.0 62.8h0M242.0 60.4h0M232.2 75.0h0M255.2 63.7h0M236.6 63.4h0M237.7 56.1h0M239.4 71.2h0M240.6 57.8h0M238.9 59.6h0M237.4 77.3h0M245.1 57.6h0M229.6 65.0h0M237.1 67.2h0M243.0 57.9h0M241.1 61.5h0M256.3 58.1h0M239.4 60.8h0M248.1 60.1h0M239.8 65.0h0M237.2 68.7h0M252.6 55.0h0M245.9 59.9h0M261.2 61.6h0M256.7 61.3h0M235.7 62.3h0M239.5 64.2h0M246.0 65.5h0M235.5 62.8h0M242.0 62.8h0M239.0 64.7h0M252.1 65.1h0M231.6 74.8h0M232.7 71.0h0M238.7 70.6h0M231.2 57.5h0M234.5 60.9h0M236.4 63.1h0M247.2 56.8h0M235.5 65.1h0M231.8 65.4h0M236.9 58.5h0M235.9 68.8h0M240.4 63.5h0M251.5 61.3h0M237.9 67.9h0M250.4 55.4h0M236.3 64.6h0M242.2 60.8h0M236.6 76.1h0M240.7 62.6h0M250.3 56.8h0M238.7 57.7h0M235.9 67.1h0M241.2 64.3h0M243.5 57.6h0M245.2 67.6h0M242.1 65.9h0M240.1 65.4h0M238.8 64.3h0M253.7 58.5h0M240.1 65.7h0M237.0 68.0h0M236.8 62.1h0M233.5 62.7h0M236.5 63.3h0M238.3 59.6h0M237.8 68.3h0M242.0 62.2h0M233.5 67.6h0M226.7 62.9h0M233.8 75.5h0M246.9 53.6h0M234.3 67.9h0M249.0 59.8h0M235.2 72.9h0M230.4 68.0h0M243.8 61.4h0M240.6 60.5h0M239.3 63.7h0M248.9 56.6h0M242.9 62.6h0M239.2 65.0h0M243.1 59.4h0M231.3 65.0h0M238.3 64.7h0M261.4 57.5h0M237.1 67.0h0M234.4 69.4h0M239.8 65.6h0M244.7 67.2h0M236.7 69.9h0M241.5 71.6h0M234.8 67.4h0M242.5 60.9h0M246.4 59.7h0M239.8 60.0h0M244.3 66.1h0M232.6 64.9h0M234.5 63.9h0M235.4 69.6h0M247.7 56.0h0M238.6 66.1h0M242.2 62.9h0M238.6 63.0h0M249.9 57.7h0M237.9 72.5h0M248.2 56.9h0M234.4 63.2h0M233.9 67.6h0M243.4 70.3h0M232.2 61.8h0M240.5 60.6h0M244.7 60.1h0M241.5 59.0h0M236.6 65.7h0M236.7 59.7h0M231.7 63.7h0M257.3 61.2h0M231.2 60.2h0M239.6 61.0h0M235.1 65.7h0M235.6 64.6h0M228.8 58.9h0M238.0 62.5h0M242.1 58.3h0M239.3 67.7h0M243.0 60.9h0M248.6 60.9h0M241.6 61.4h0M250.0 57.6h0M230.4 69.0h0M234.7 64.3h0M240.9 58.8h0M247.4 61.2h0M240.4 72.2h0M252.1 66.0h0M252.1 56.5h0M251.4 57.5h0M236.6 59.5h0M234.4 66.4h0M233.3 63.4h0M242.5 57.6h0M241.1 60.1h0M248.5 54.9h0M240.6 62.8h0M243.6 64.5h0M246.3 58.3h0M251.1 58.9h0M228.8 64.7h0M244.1 62.1h0M236.3 63.6h0M236.1 64.0h0M236.6 62.7h0M239.6 66.7h0M240.6 63.2h0M236.6 59.5h0M245.1 63.6h0M242.7 66.8h0M238.5 65.3h0M251.2 60.7h0M240.9 60.3h0M251.0 60.0h0M233.2 64.1h0M246.6 63.8h0M251.8 56.4h0M240.0 56.2h0M237.0 72.2h0M230.6 69.0h0M234.1 65.0h0M238.3 63.3h0M240.3 70.7h0M239.8 58.0h0M238.3 65.1h0M239.5 59.0h0M240.9 68.0h0M231.2 61.6h0M233.9 62.5h0M243.0 61.4h0M252.2 59.8h0M238.2 68.7h0M250.1 59.2h0M247.9 63.7h0M258.6 62.4h0M243.6 60.3h0M247.8 55.5h0M233.3 59.4h0M254.0 57.1h0M249.7 66.6h0M242.2 63.7h0M230.8 64.9h0M251.6 58.5h0M242.5 59.5h0M241.9 62.1h0M239.0 70.0h0M238.1 67.9h0M240.4 66.6h0M239.0 67.6h0M235.5 62.3h0M255.1 59.5h0M234.4 63.6h0M236.8 58.1h0M240.1 69.5h0M232.6 68.6h0M232.4 60.8h0M238.1 60.5h0M244.4 66.4h0M246.6 58.6h0M240.9 65.5h0M245.4 60.5h0M249.1 63.9h0M256.9 53.0h0M237.4 63.4h0M234.0 71.7h0M235.7 64.7h0M249.9 57.7h0M252.5 61.9h0M235.6 64.5h0M239.0 64.0h0M238.2 64.5h0M244.9 62.5h0M237.8 61.0h0M238.7 66.1h0M237.5 68.1h0M246.3 62.7h0M241.9 59.8h0M241.8 62.4h0M255.7 63.3h0M232.9 58.3h0M237.8 68.1h0M258.3 62.1h0M242.6 65.7h0M242.9 61.9h0M240.0 61.0h0M251.1 56.1h0M239.3 68.9h0M238.5 61.0h0M233.4 76.3h0M246.2 63.7h0M228.0 62.8h0M244.3 57.2h0M228.3 72.6h0M252.2 54.7h0M246.8 61.8h0M237.6 60.7h0M234.5 71.1h0M240.3 60.3h0M240.7 63.1h0M242.1 60.6h0M238.6 59.3h0M240.5 61.1h0M236.5 63.2h0M240.1 63.2h0M236.1 62.3h0M232.4 71.9h0M228.0 77.5h0M255.1 61.4h0M229.1 65.8h0M235.2 77.8h0M239.2 57.5h0M236.2 66.3h0M242.6 63.6h0M237.7 60.1h0M241.2 62.0h0M237.0 62.3h0M254.5 59.9h0M246.8 58.8h0M241.5 57.7h0M243.3 66.2h0M238.8 64.5h0M248.7 61.4h0M262.0 57.9h0M243.6 64.4h0M233.6 68.7h0M233.3 70.9h0M229.3 67.2h0M239.0 56.3h0M263.1 60.4h0M232.2 74.1h0M241.7 64.8h0M246.2 60.6h0M243.8 62.0h0M250.9 57.8h0M240.9 63.5h0M244.1 64.3h0M237.0 69.4h0M233.0 69.0h0M239.2 64.8h0M227.3 70.3h0M238.8 65.0h0M237.6 59.3h0M244.0 61.8h0M250.5 63.5h0M246.4 61.7h0M233.5 69.1h0M238.2 66.6h0M238.8 74.8h0M246.1 61.3h0M240.1 65.3h0M237.8 60.7h0M244.4 59.2h0M243.5 65.8h0M239.4 65.2h0M233.0 64.0h0M234.7 60.0h0M237.3 64.1h0M257.0 54.4h0M243.4 66.6h0M236.9 68.3h0M255.4 61.0h0M243.6 59.5h0M241.5 67.2h0M237.0 67.4h0M240.0 59.4h0M243.9 59.1h0M236.8 59.4h0M235.7 75.1h0M241.9 61.9h0M247.0 62.9h0M235.6 67.2h0M243.0 58.4h0M240.9 62.5h0M237.6 60.2h0M231.2 70.9h0M241.5 63.1h0M241.5 67.5h0M239.7 64.4h0M249.7 56.0h0M236.6 71.9h0M233.2 70.7h0M248.3 55.9h0M237.9 63.4h0M237.6 68.7h0M236.4 59.9h0M246.9 58.1h0M236.7 64.0h0M244.9 60.5h0M241.0 62.1h0M240.5 65.1h0M240.5 64.6h0M245.5 59.4h0M237.4 63.9h0M246.8 55.4h0M235.1 70.2h0M247.1 57.3h0M264.7 64.3h0M234.1 68.8h0M244.4 54.6h0M240.0 67.3h0M245.6 57.2h0M236.8 62.1h0M236.7 64.5h0M247.5 56.5h0M231.2 67.5h0M250.0 56.9h0M246.1 58.2h0M235.4 66.2h0M237.5 65.9h0M239.6 66.3h0M235.0 73.6h0M244.5 68.9h0M233.4 67.0h0M232.4 65.5h0M243.2 66.3h0M251.9 51.4h0M234.8 64.6h0M241.6 64.1h0M237.6 66.1h0M239.1 71.1h0M231.7 71.0h0M236.8 68.0h0M245.7 60.5h0M256.9 63.3h0M236.9 58.6h0M240.7 63.3h0M236.8 65.2h0M232.4 71.9h0M243.4 55.4h0M242.8 60.0h0M239.4 63.6h0M245.6 66.3h0M244.5 58.1h0M239.6 57.6h0M246.7 55.9h0M236.8 70.9h0M239.2 59.2h0M253.8 59.9h0M243.2 65.6h0M233.5 65.7h0M247.8 52.9h0M255.5 55.8h0M261.1 57.1h0M243.6 65.3h0M251.9 59.0h0M248.3 57.3h0M232.8 68.8h0M233.2 76.6h0M241.5 66.6h0M237.1 65.8h0M237.8 66.5h0M237.6 72.4h0M253.9 60.6h0M240.4 62.4h0M246.5 59.2h0M237.0 63.7h0M236.0 70.3h0M231.7 74.4h0M232.3 63.8h0M238.0 59.8h0M233.3 64.0h0M242.4 57.0h0M238.2 71.7h0M249.5 56.9h0M242.6 63.0h0M240.4 63.4h0M248.9 56.7h0M234.0 67.2h0M240.3 66.3h0M239.2 67.6h0M239.3 58.3h0M238.2 72.8h0M246.4 64.1h0M236.9 60.4h0M248.7 59.7h0M248.5 58.0h0M239.8 64.5h0M241.0 64.1h0M234.0 65.5h0M236.1 62.0h0M267.5 64.4h0M238.1 65.3h0M248.2 57.6h0M244.7 63.4h0M237.2 57.8h0M244.0 61.7h0M233.2 67.9h0M243.4 70.6h0M238.3 63.1h0M240.3 63.4h0M243.4 62.2h0M239.5 73.1h0M242.8 60.1h0M240.2 61.8h0M235.6 70.6h0M236.7 61.5h0M249.0 61.6h0M235.1 67.9h0M245.2 64.2h0M251.1 62.5h0M239.4 64.6h0M232.2 68.7h0M247.7 65.5h0M243.7 71.6h0M228.5 60.9h0M245.7 67.5h0M247.0 59.7h0M242.4 64.0h0M234.1 65.9h0M235.1 63.2h0M231.7 65.1h0M252.7 58.0h0M242.3 62.0h0M249.1 66.0h0M238.2 65.7h0M231.6 71.1h0M238.1 64.9h0M242.4 61.4h0M242.9 65.5h0M236.5 61.6h0M231.7 64.8h0M246.0 63.3h0M236.1 63.0h0M242.5 63.0h0M236.5 68.2h0M234.2 56.2h0M249.9 57.6h0M252.5 59.3h0M240.4 63.3h0M250.0 56.7h0M233.0 73.3h0M241.5 65.9h0M244.6 59.5h0M240.9 68.9h0M245.9 67.6h0M236.5 65.5h0M240.1 61.4h0M242.8 64.1h0M237.3 61.6h0M234.3 68.1h0M240.7 60.4h0M233.5 67.9h0M251.1 57.2h0M249.9 57.6h0M240.8 58.2h0M232.0 65.5h0M244.7 61.5h0M237.0 61.4h0M231.7 71.1h0M246.0 56.7h0M253.2 56.9h0M237.1 69.1h0M245.8 57.2h0M240.7 56.6h0M249.4 59.7h0M236.2 71.5h0M256.3 60.0h0M246.5 63.2h0M257.6 55.0h0M244.4 66.2h0M245.5 66.1h0M244.9 62.0h0M245.8 58.1h0M243.7 63.1h0M241.4 60.9h0M236.1 69.1h0M237.3 64.7h0M242.5 55.9h0M240.7 65.0h0M237.7 61.5h0M242.6 66.0h0M237.8 58.9h0M234.7 67.6h0M231.5 73.6h0M231.4 70.8h0M233.4 68.7h0M233.3 62.3h0M248.6 58.4h0M255.4 61.4h0M236.8 70.0h0M245.5 61.9h0M247.5 59.5h0M265.6 59.1h0M242.7 62.0h0M248.3 59.1h0M240.7 60.1h0M261.7 59.6h0M231.2 66.1h0M243.3 61.7h0M240.0 62.6h0M233.1 68.1h0M228.6 68.3h0M227.6 70.6h0M245.5 57.9h0M250.4 57.6h0M241.2 64.2h0M242.9 56.7h0M247.3 56.4h0M237.3 57.9h0M238.6 73.4h0M232.5 69.4h0M239.2 66.5h0M241.0 63.0h0M231.4 61.2h0M238.2 69.3h0M241.5 62.3h0M253.8 61.4h0M241.3 62.1h0M243.0 54.7h0M237.7 67.9h0M237.8 64.2h0M226.9 70.1h0M246.8 60.9h0M238.2 65.8h0M233.0 66.0h0M243.2 58.4h0M245.4 58.0h0M239.7 69.2h0M250.8 61.7h0M244.5 61.4h0M244.8 62.3h0M244.0 58.6h0M243.1 59.4h0M241.1 61.5h0M244.6 60.3h0M237.1 56.5h0M245.1 62.4h0M231.9 74.9h0M230.2 80.9h0M234.3 75.9h0M237.4 77.3h0M240.2 80.3h0M231.9 78.2h0" stroke="#1000f0"/><path d="M239.1 58.5h0M245.5 61.7h0M246.9 56.7h0M255.0 53.4h0M253.4 55.8h0M235.9 54.8h0M254.2 56.0h0M255.3 54.6h0M235.0 58.9h0M263.6 52.6h0M251.8 53.1h0M251.6 54.3h0M239.3 61.9h0M256.9 52.6h0M231.0 55.6h0M249.9 49.8h0M234.4 51.8h0M263.0 53.0h0M240.3 56.3h0M250.4 55.4h0M244.4 59.4h0M233.4 60.5h0M244.2 56.0h0M249.5 53.5h0M239.3 58.5h0M241.1 54.7h0M239.4 50.9h0M244.6 56.5h0M259.7 54.3h0M246.9 56.6h0M246.6 56.1h0M249.6 57.0h0M255.5 49.1h0M254.9 49.6h0M269.8 53.6h0M238.5 55.8h0M241.8 57.1h0M246.0 56.0h0M248.4 54.8h0M261.5 55.2h0M252.6 55.0h0M238.3 55.3h0M252.1 53.9h0M244.9 54.5h0M268.6 55.5h0M243.0 60.6h0M242.2 57.0h0M245.2 51.2h0M251.0 54.0h0M256.2 52.2h0M249.8 60.4h0M245.3 54.8h0M244.0 52.5h0M239.9 57.2h0M259.2 52.4h0M241.5 57.4h0M239.1 53.6h0M257.2 52.3h0M253.7 57.6h0M241.2 55.0h0M243.9 60.9h0M264.9 51.1h0M255.1 53.2h0M247.8 54.1h0M234.9 56.7h0M247.6 55.4h0M248.7 55.0h0M243.6 54.8h0M251.8 55.9h0M252.7 56.3h0M241.0 58.5h0M257.5 55.8h0M247.3 51.8h0M266.1 53.6h0M244.2 54.9h0M245.2 57.5h0M258.5 54.9h0M237.9 51.3h0M247.3 55.5h0M232.6 52.1h0M247.6 54.0h0M243.6 55.5h0M257.8 54.5h0M244.4 56.8h0M244.3 56.7h0M249.8 56.4h0M250.1 51.1h0M241.3 55.7h0M236.5 57.6h0M255.7 55.4h0M244.7 56.6h0M262.6 57.5h0M247.3 58.0h0M250.1 53.0h0M239.1 55.2h0M231.1 58.0h0M249.9 55.7h0M240.0 55.0h0M245.2 53.2h0M242.4 55.4h0M229.4 62.8h0M242.2 55.9h0M239.8 56.6h0M258.0 54.2h0M240.3 55.7h0M237.5 57.1h0M239.2 55.5h0M266.6 52.2h0M237.8 58.7h0M264.3 55.3h0M237.0 54.4h0M240.0 56.2h0M238.9 54.3h0M238.9 59.6h0M262.0 53.6h0M244.1 56.4h0M248.2 53.0h0M245.3 51.6h0M241.7 54.9h0M236.5 55.6h0M240.7 57.4h0M249.4 55.9h0M254.6 53.9h0M248.8 51.7h0M242.2 53.2h0M266.4 54.1h0M233.3 60.0h0M240.2 59.8h0M251.8 56.0h0M247.9 54.5h0M269.3 53.9h0M259.7 51.4h0M255.6 52.5h0M249.6 50.2h0M250.7 58.2h0M249.0 57.0h0M257.1 55.4h0M252.1 56.7h0M238.8 60.0h0M249.8 54.1h0M246.7 50.4h0M250.1 53.4h0M250.2 53.6h0M245.7 54.5h0M253.8 57.9h0M250.1 56.2h0M251.1 55.0h0M243.1 52.1h0M250.9 55.2h0M258.8 51.6h0M236.8 59.1h0M252.8 53.6h0M246.4 52.3h0M241.7 57.7h0M239.1 69.3h0M237.8 58.2h0M232.8 56.9h0M236.0 57.4h0M249.2 54.7h0M260.3 53.3h0M258.9 55.5h0M253.6 50.1h0M249.6 54.9h0M249.3 53.7h0M246.2 52.9h0M242.0 62.9h0M250.3 50.4h0M248.0 52.7h0M234.9 57.7h0M229.1 55.3h0M252.8 53.4h0M242.5 57.8h0M255.8 51.0h0M256.3 51.2h0M245.1 54.0h0M259.4 53.0h0M236.3 54.2h0M249.4 55.3h0M255.5 54.1h0M247.5 56.8h0M258.2 55.5h0M243.3 52.6h0M241.6 55.9h0M245.1 55.7h0M255.7 54.0h0M250.6 58.8h0M238.0 52.8h0M257.2 54.4h0M239.0 53.9h0M235.7 55.3h0M251.5 56.5h0M241.6 54.9h0M243.1 61.1h0M241.2 55.3h0M252.4 55.7h0M245.6 54.8h0M244.0 55.1h0M233.2 55.0h0M239.2 52.2h0M248.7 51.5h0M253.9 54.4h0M243.2 57.3h0M268.2 58.3h0M248.1 51.5h0M247.3 55.8h0M248.8 54.2h0M246.0 60.3h0M248.8 57.1h0M226.6 55.2h0M244.5 53.8h0M247.9 54.9h0M245.4 52.8h0M242.0 54.2h0M243.7 53.1h0M235.4 56.3h0M255.4 56.6h0M260.4 51.9h0M233.5 55.7h0M255.1 58.6h0M256.6 53.3h0M235.9 54.8h0M246.3 57.7h0M252.0 49.0h0M247.0 54.2h0M245.5 55.7h0M247.8 53.3h0M243.3 54.0h0M246.4 50.7h0M253.5 55.4h0M238.3 56.2h0M247.4 50.9h0M243.6 56.6h0M239.4 54.8h0M259.8 53.9h0M237.4 55.1h0M255.1 50.2h0M250.5 53.5h0M244.1 58.0h0M237.0 56.3h0M255.6 52.4h0M245.4 55.9h0M248.7 58.8h0M256.7 51.8h0M244.4 55.8h0M251.3 50.6h0M248.2 56.1h0M259.0 58.8h0M244.1 54.2h0M246.1 56.8h0M251.5 53.3h0M240.0 55.4h0M255.4 51.1h0M234.0 57.4h0M245.9 52.7h0M254.7 54.4h0M237.2 54.5h0M243.8 57.8h0M242.7 57.7h0M245.2 55.5h0M237.6 53.6h0M240.4 55.7h0M246.4 53.6h0M255.5 49.5h0M244.1 56.8h0M240.3 56.6h0M241.4 55.0h0M255.9 55.1h0M259.4 52.5h0M233.2 60.3h0M257.8 53.4h0M259.3 52.7h0M238.0 56.6h0M249.7 56.3h0M241.6 55.0h0M246.6 55.8h0M228.7 56.0h0M236.9 56.8h0M244.1 57.4h0M257.1 52.9h0M241.9 52.5h0M240.4 59.6h0M261.6 49.1h0M245.8 56.8h0M242.4 55.2h0M251.6 56.2h0M245.0 52.9h0M261.8 50.7h0M252.2 57.3h0M242.5 50.4h0" stroke="#1808f0"/><path d="M258.2 54.3h0M261.5 50.9h0M249.4 48.7h0M252.1 48.8h0M261.6 51.3h0M264.7 53.6h0M242.5 50.8h0M252.0 46.0h0M243.5 52.1h0M259.7 50.2h0M245.2 49.6h0M251.2 49.4h0M254.1 52.5h0M241.7 51.3h0M255.9 53.0h0M264.1 52.9h0M251.2 53.2h0M262.1 50.3h0M253.1 51.5h0M251.5 47.2h0M243.6 53.2h0M262.4 52.8h0M244.0 49.1h0M242.5 49.8h0M243.8 56.5h0M244.5 52.5h0M242.1 52.3h0M262.7 54.2h0M253.0 50.6h0M244.3 49.7h0M244.6 49.3h0M252.1 50.9h0M258.5 50.2h0M261.6 50.6h0M249.8 50.7h0M249.1 52.4h0M266.8 52.1h0M251.8 50.5h0M265.0 47.7h0M252.3 51.8h0M247.9 53.7h0M249.2 50.7h0M245.7 51.4h0M246.0 51.7h0M250.2 47.5h0M256.1 52.0h0M262.6 50.8h0M240.0 51.2h0M254.5 51.0h0M237.2 53.5h0M250.6 49.7h0M262.5 51.1h0M252.3 52.2h0M249.3 51.2h0M254.8 52.4h0M246.3 49.6h0M261.0 51.2h0M257.0 49.9h0M246.4 50.0h0M234.5 53.5h0M256.2 50.8h0M256.5 48.6h0M256.4 55.3h0M241.6 51.5h0M249.3 50.2h0M268.0 53.5h0M260.0 50.5h0M244.9 51.3h0M245.1 52.7h0M260.9 51.2h0M240.2 50.9h0M248.7 53.6h0M255.9 49.3h0M245.0 51.4h0M239.5 51.0h0M243.2 50.3h0M237.2 51.7h0M246.6 52.8h0M243.6 52.4h0M246.1 51.0h0M248.1 50.7h0M253.0 49.6h0M267.9 55.0h0M253.0 48.8h0M251.3 48.4h0M269.7 55.2h0M249.3 48.8h0M245.5 51.0h0M238.5 47.9h0M259.9 46.5h0M252.1 50.7h0M243.5 50.0h0M257.5 49.6h0M245.3 50.7h0M246.2 50.0h0M240.7 53.3h0" stroke="#3040f0"/><path d="M264.3 50.9h0M263.0 49.1h0M251.7 48.0h0M269.4 52.4h0M253.8 46.2h0M250.4 48.3h0M254.8 46.3h0M269.4 52.4h0M252.4 44.8h0M258.8 46.1h0M265.4 52.0h0M252.7 49.9h0M262.1 47.6h0M248.1 50.2h0M251.4 45.2h0M268.7 49.5h0M275.4 53.5h0M240.3 49.7h0M262.7 48.0h0M254.2 49.0h0M247.4 48.7h0M269.1 52.3h0M261.3 49.9h0M262.2 47.1h0M263.2 47.7h0M255.6 48.9h0M256.8 46.7h0M252.5 50.5h0M260.5 48.2h0M254.2 49.2h0M266.3 51.0h0M246.7 47.2h0M252.6 49.4h0M232.5 49.1h0M247.1 47.6h0M263.8 47.5h0M260.6 46.3h0M239.9 49.5h0M248.8 48.8h0M255.7 47.2h0M262.5 48.5h0M250.1 49.4h0M256.6 48.5h0M255.4 49.2h0M264.5 49.6h0M241.4 45.5h0M266.1 48.0h0M265.5 51.6h0M256.6 47.6h0M268.5 47.6h0M249.1 47.1h0M262.2 48.5h0M241.2 50.9h0M262.3 48.5h0M256.0 46.8h0M241.7 48.4h0M246.3 50.2h0M241.2 48.0h0M247.5 50.1h0M238.0 48.1h0M267.3 48.7h0M255.6 47.0h0M231.0 51.4h0M245.3 48.0h0" stroke="#4070f8"/><path d="M261.7 46.0h0M266.2 49.8h0M243.8 48.3h0M266.8 46.6h0M251.4 46.9h0M254.0 47.4h0M261.6 46.1h0M260.3 46.9h0M249.4 48.0h0M257.2 44.6h0M253.4 46.4h0M243.6 48.6h0M234.2 48.9h0M258.9 45.5h0M261.9 47.2h0M264.5 49.2h0M265.1 46.4h0M263.7 48.4h0M267.1 49.3h0M264.5 49.8h0M258.2 46.6h0M267.4 48.8h0M255.4 48.4h0M248.8 47.1h0M255.6 46.5h0M261.8 49.3h0M252.4 47.2h0M252.2 46.0h0M258.1 45.2h0M237.2 48.3h0M242.7 45.7h0M266.6 49.0h0M248.1 47.7h0M241.4 47.3h0M244.3 48.7h0M270.8 50.4h0M263.4 47.7h0M252.3 45.3h0M262.2 46.8h0M254.1 44.9h0M269.0 48.0h0" stroke="#4890f8"/><path d="M268.0 48.5h0M248.5 46.8h0M243.5 46.9h0M263.4 46.2h0M267.4 44.9h0M268.7 49.9h0M257.8 44.6h0M260.8 45.1h0M260.0 43.6h0M255.1 46.1h0M272.1 47.8h0M254.6 45.7h0M254.3 45.8h0M259.8 44.8h0M259.3 44.6h0M245.0 47.0h0M256.7 47.9h0M247.3 44.8h0M244.1 45.8h0M253.5 47.7h0M246.5 45.8h0M233.9 46.1h0M263.7 47.4h0M252.6 47.0h0M258.9 43.0h0M247.4 46.0h0M242.4 45.6h0M260.3 44.6h0M261.5 44.7h0M257.3 45.6h0M256.8 45.6h0M245.8 47.8h0M244.8 46.9h0" stroke="#50a8f8"/><path d="M266.9 43.7h0M257.7 45.3h0M262.6 44.0h0M263.7 43.0h0M264.3 43.2h0M266.2 45.6h0M259.2 46.0h0M260.0 44.1h0M265.2 44.8h0M270.3 48.7h0M270.2 45.9h0M271.5 49.3h0M251.8 45.9h0M259.2 44.9h0M261.1 42.4h0M264.0 46.9h0M260.1 44.1h0M264.3 44.6h0M264.2 43.5h0M261.1 45.7h0M262.3 46.7h0M245.2 46.1h0M249.3 43.8h0M265.1 46.3h0M266.4 47.3h0M266.0 46.6h0" stroke="#58c8f8"/><path d="M265.8 43.7h0M270.7 44.2h0M270.5 45.7h0M274.2 45.7h0M265.7 45.1h0M270.8 47.7h0M243.2 44.8h0M263.6 43.1h0M251.7 44.0h0M271.8 46.9h0M243.3 45.9h0M257.0 44.8h0M251.7 44.6h0M261.1 44.9h0M259.5 42.4h0M247.0 43.8h0M263.7 43.3h0M256.2 42.4h0M259.4 44.8h0M269.5 46.3h0M258.8 44.1h0M245.7 45.1h0M255.9 45.1h0M261.3 44.1h0M259.0 42.3h0M259.4 44.1h0" stroke="#68e8f8"/><path d="M263.7 42.0h0M270.2 47.7h0M263.8 44.0h0M267.7 45.0h0M271.3 44.0h0M268.7 47.0h0M259.8 43.0h0M264.5 42.8h0M254.7 43.6h0M260.7 44.3h0M264.0 45.0h0M262.7 44.0h0M265.4 45.2h0M264.6 44.3h0M265.2 44.1h0M257.9 41.4h0M258.3 43.0h0M255.7 42.7h0M266.8 43.5h0M258.4 42.8h0M270.9 44.1h0M259.9 42.4h0M258.0 42.2h0M262.0 43.6h0M253.5 42.3h0M268.3 47.3h0M263.4 41.8h0M262.0 44.5h0M261.1 42.3h0M263.9 43.2h0M265.6 43.7h0M270.1 45.9h0M274.6 50.0h0M256.8 42.9h0M256.5 44.1h0M257.4 41.5h0M235.2 42.9h0M274.3 45.1h0M254.2 44.0h0" stroke="#70f8f0"/><path d="M271.9 46.2h0M249.8 42.7h0M268.5 42.4h0M266.0 43.2h0M260.5 40.5h0M246.0 41.9h0M268.0 43.7h0M257.0 41.2h0M255.7 42.2h0M261.1 41.6h0M260.4 43.7h0M275.0 45.8h0M262.5 42.3h0M276.6 47.6h0M260.2 43.7h0M263.4 42.0h0M263.5 41.3h0M263.4 42.0h0M272.7 44.6h0M242.2 42.1h0M274.3 45.7h0M251.0 43.9h0M266.5 44.5h0M281.1 44.6h0" stroke="#70f8e0"/><path d="M266.9 42.0h0M272.1 44.8h0M261.5 41.9h0M251.8 42.1h0M260.3 41.7h0M276.6 44.1h0M265.3 41.5h0M277.2 46.6h0M273.7 43.7h0M257.8 42.6h0M264.4 42.7h0M268.5 41.8h0M271.9 43.4h0M262.1 42.4h0M262.6 43.0h0M266.0 42.9h0M263.5 41.6h0M268.5 41.3h0M260.1 42.3h0M269.1 42.8h0M251.3 42.3h0M270.5 42.9h0M262.0 42.5h0M270.3 42.1h0M252.1 42.0h0M268.3 43.5h0M274.0 44.8h0M268.8 41.8h0M273.2 44.1h0M258.6 40.4h0M266.9 41.2h0M260.4 40.0h0M271.5 44.4h0M260.6 40.4h0M267.8 44.7h0M270.6 42.1h0" stroke="#70f8c8"/><path d="M242.8 40.3h0M261.5 41.8h0M271.0 41.8h0M268.5 42.6h0M268.0 43.2h0M269.8 41.7h0M256.0 40.7h0M271.1 43.2h0M266.0 39.9h0M268.4 42.5h0M263.9 39.7h0M265.6 41.7h0M268.4 41.8h0M258.8 41.1h0M278.4 41.7h0M265.3 41.3h0M260.4 40.3h0M270.6 40.3h0M255.5 42.3h0M250.5 39.8h0M252.0 41.3h0M269.3 41.9h0M269.5 41.7h0" stroke="#68f8b0"/><path d="M272.0 43.4h0M240.8 42.2h0M264.8 39.4h0M273.6 40.0h0M262.8 40.4h0M269.8 40.7h0M260.9 39.5h0M276.1 42.3h0M253.8 40.5h0M268.1 41.5h0M270.5 40.7h0M276.0 41.9h0M240.1 41.2h0M265.3 38.9h0M265.1 39.3h0M269.5 41.9h0M258.2 39.2h0M248.9 40.1h0M263.0 40.6h0M273.2 42.8h0M264.6 40.6h0M261.9 39.4h0M270.0 41.6h0" stroke="#60f8a0"/><path d="M266.5 40.5h0M261.2 39.5h0M262.4 38.2h0M266.0 40.3h0M267.3 40.1h0M273.2 40.1h0M274.0 41.8h0M261.7 39.3h0M272.4 42.7h0M275.3 41.6h0M273.2 43.1h0M264.1 39.6h0M277.2 44.4h0M248.8 38.8h0M270.8 40.5h0M262.5 39.9h0M270.3 42.6h0M281.6 43.4h0M281.7 43.5h0M271.0 42.2h0M262.0 38.8h0M275.1 40.6h0" stroke="#58f880"/><path d="M271.7 40.5h0M258.7 39.7h0M262.1 38.7h0M258.4 38.7h0M264.4 38.3h0M259.9 38.1h0M261.6 39.6h0M276.4 41.7h0M281.2 42.8h0M271.0 39.6h0M259.8 38.5h0M278.2 40.1h0M269.4 39.2h0M269.2 39.3h0M275.5 41.4h0M279.3 42.3h0M260.8 39.9h0M277.8 41.2h0M273.3 39.0h0M274.9 38.1h0M272.9 39.0h0M266.0 38.4h0" stroke="#50f860"/><path d="M270.2 40.4h0M267.5 38.7h0M274.4 41.8h0M268.4 39.0h0M265.6 38.9h0M276.6 39.8h0M275.7 41.2h0M278.5 40.8h0M273.5 40.6h0M281.5 41.1h0M271.7 38.3h0M267.6 38.5h0M270.8 38.8h0M273.5 40.0h0M253.7 36.8h0M264.3 37.7h0M271.5 38.1h0M283.9 40.3h0" stroke="#40f840"/><path d="M267.5 36.6h0M262.5 36.5h0M273.0 37.9h0M271.0 38.7h0M277.3 40.4h0M250.6 38.3h0M279.4 38.4h0M272.1 37.1h0M277.4 40.2h0M264.2 37.2h0M271.3 36.9h0M283.6 46.2h0M265.7 38.1h0M265.2 38.0h0M275.2 37.7h0M276.5 40.6h0M273.3 37.6h0M278.0 40.3h0M267.2 37.8h0M278.3 37.6h0M269.1 38.9h0M266.9 37.9h0M276.7 38.2h0M267.1 35.3h0M278.8 37.4h0M274.9 40.4h0M289.7 36.7h0" stroke="#30f820"/><path d="M276.9 38.4h0M277.5 39.6h0M272.9 38.4h0M272.1 38.2h0M274.0 38.3h0M275.6 39.4h0M277.4 37.0h0M271.6 37.5h0M261.0 36.6h0M269.8 37.1h0M279.6 38.7h0M274.8 39.5h0M279.9 39.3h0M266.5 35.9h0M280.9 38.4h0M255.3 38.0h0M262.4 36.8h0M269.9 36.6h0M278.1 38.8h0M274.6 36.6h0M279.4 41.3h0M266.9 37.4h0M291.5 35.4h0M285.0 38.8h0" stroke="#38f818"/><path d="M284.5 37.0h0M275.7 36.3h0M276.1 37.4h0M271.4 37.0h0M263.5 36.6h0M282.4 37.2h0M278.9 38.3h0M278.0 39.4h0M262.2 37.2h0M280.0 38.6h0M273.2 38.9h0M278.4 37.8h0M280.3 38.4h0M283.0 38.2h0M276.7 38.5h0M265.3 37.4h0M268.8 36.5h0M271.1 37.4h0M271.5 37.5h0M270.4 37.1h0M262.2 36.0h0M262.4 35.3h0M268.5 36.7h0M276.8 36.0h0M272.4 36.3h0M292.7 33.6h0M288.1 31.4h0M285.9 37.7h0" stroke="#48f818"/><path d="M267.4 34.4h0M268.9 36.3h0M283.3 37.4h0M275.0 35.3h0M275.7 37.1h0M273.0 36.6h0M263.7 34.6h0M269.1 35.3h0M267.7 36.4h0M283.6 37.2h0M275.2 36.1h0M272.4 34.6h0M274.8 37.9h0M261.6 35.2h0M269.4 36.8h0M270.3 35.6h0M270.3 36.3h0M262.7 36.5h0M278.8 37.6h0M282.4 37.8h0M290.5 31.4h0M292.4 34.4h0" stroke="#60f018"/><path d="M282.1 36.5h0M270.7 34.3h0M276.0 36.4h0M278.6 35.9h0M284.6 36.1h0M267.1 35.8h0M273.5 35.6h0M268.1 34.1h0M277.7 36.0h0M271.9 34.6h0M284.4 38.3h0M281.0 37.8h0M282.5 37.2h0M278.5 36.4h0M279.4 38.2h0M272.1 34.4h0M275.1 34.5h0M275.0 35.5h0M283.6 36.6h0M269.7 34.6h0M284.7 38.0h0M271.9 36.6h0M262.1 34.0h0M280.0 35.9h0M270.5 35.4h0M278.3 37.0h0" stroke="#88f020"/><path d="M279.2 35.3h0M268.4 33.8h0M281.1 36.7h0M278.1 35.7h0M282.8 36.7h0M279.4 34.7h0M272.9 35.2h0M272.9 34.5h0M274.3 35.1h0M273.6 35.6h0M279.0 35.6h0M280.5 36.0h0M278.6 34.2h0M282.8 43.5h0" stroke="#a8f028"/><path d="M269.4 31.8h0M281.4 35.5h0M282.4 35.3h0M278.6 34.6h0M281.1 35.2h0M271.3 33.2h0M273.4 34.8h0M281.9 35.7h0M273.5 33.2h0M271.4 34.4h0M275.8 35.5h0M278.0 35.4h0M273.8 37.1h0M276.7 34.0h0M276.9 35.8h0M272.7 34.9h0M277.5 34.9h0M275.1 32.4h0M296.0 31.4h0M293.8 31.9h0M282.0 42.0h0" stroke="#c8f030"/><path d="M275.6 32.2h0M267.6 32.4h0M276.0 33.7h0M275.8 33.2h0M284.4 35.8h0M278.7 34.1h0M277.9 34.1h0M282.3 32.5h0M281.9 33.5h0M282.9 34.5h0M277.7 33.5h0M271.6 33.2h0M278.4 32.7h0M270.4 33.1h0M276.0 32.5h0M276.6 33.6h0M272.1 34.9h0M272.0 32.2h0M282.9 34.2h0M284.1 35.4h0M272.1 34.0h0M278.2 33.0h0M280.3 34.5h0M277.7 34.7h0M274.8 32.3h0M294.8 30.4h0" stroke="#f0f838"/><path d="M273.6 32.7h0M282.2 34.1h0M273.1 33.9h0M281.9 32.7h0M283.8 33.6h0M272.8 32.7h0M280.7 34.4h0M278.8 31.9h0M270.6 32.7h0M276.6 32.0h0M276.7 31.8h0M276.2 34.5h0M286.0 35.0h0M258.6 31.5h0M274.9 33.0h0M293.3 30.1h0" stroke="#f0e040"/><path d="M278.9 32.9h0M267.4 31.7h0M280.3 31.2h0M277.1 32.9h0M280.5 32.6h0M269.6 31.4h0M273.0 31.9h0M273.3 32.3h0M278.8 31.8h0M278.9 32.8h0M276.0 32.8h0M273.3 30.7h0M278.0 34.8h0M281.1 32.2h0M280.6 31.9h0M278.3 31.4h0M281.5 32.6h0M277.0 31.2h0M280.2 31.7h0M275.1 33.0h0M270.6 31.9h0M296.3 29.4h0" stroke="#e8c038"/><path d="M281.4 31.1h0M282.2 31.2h0M272.5 32.2h0M265.1 31.5h0M276.5 31.1h0M274.1 31.8h0M272.8 31.6h0M278.8 32.3h0M282.8 33.2h0M284.5 32.3h0M282.9 32.1h0M278.1 32.4h0M268.7 29.8h0M281.7 31.2h0M287.5 31.4h0M276.7 32.0h0M275.1 30.6h0M267.8 31.0h0M284.8 32.2h0M276.6 31.1h0M274.8 31.1h0" stroke="#f0a030"/><path d="M279.1 31.3h0M276.5 31.1h0M275.1 31.0h0M283.6 30.1h0M278.3 31.8h0M272.3 30.3h0" stroke="#f08a28"/><path d="M284.9 30.2h0M274.8 31.0h0M270.8 30.6h0M281.2 30.3h0M270.7 31.6h0M295.0 28.7h0" stroke="#f06a20"/><path d="M282.5 30.4h0M281.7 30.1h0M267.3 31.1h0M267.4 31.3h0M299.8 27.4h0" stroke="#f04c18"/><path d="M265.8 31.0h0M256.6 32.0h0M258.1 31.1h0M262.1 31.5h0M263.8 31.1h0M293.5 27.1h0M297.6 26.9h0M298.7 25.7h0M286.7 36.7h0" stroke="#f0300e"/><path d="M279.2 31.1h0M262.8 31.5h0M294.9 26.5h0M301.1 27.9h0" stroke="#e8200c"/></g>
<line x1="220.7" y1="73.3" x2="301.2" y2="19.5" stroke="#ff1010" stroke-width="1.2"/>
<line x1="190.3" y1="95.4" x2="306.8" y2="12.5" stroke="#000" stroke-width="1.0" stroke-dasharray="1.5 1.2"/>
<rect x="189.5" y="12.5" width="117.3" height="82.9" fill="none" stroke="#111" stroke-width="1.2"/>
<path d="M189.6 95.4v1.0M193.8 95.4v1.0M189.5 92.9h-1.0M197.1 95.4v1.0M189.5 90.5h-1.0M199.8 95.4v1.0M189.5 88.6h-1.0M202.1 95.4v1.0M189.5 87.0h-1.0M204.1 95.4v1.0M189.5 85.6h-1.0M205.8 95.4v1.0M189.5 84.3h-1.0M207.4 95.4v1.8M189.5 83.2h-1.8M217.7 95.4v1.0M189.5 75.9h-1.0M223.7 95.4v1.0M189.5 71.6h-1.0M227.9 95.4v1.0M189.5 68.6h-1.0M231.2 95.4v1.0M189.5 66.2h-1.0M233.9 95.4v1.0M189.5 64.3h-1.0M236.2 95.4v1.0M189.5 62.7h-1.0M238.2 95.4v1.0M189.5 61.3h-1.0M239.9 95.4v1.0M189.5 60.1h-1.0M241.5 95.4v1.8M189.5 58.9h-1.8M251.8 95.4v1.0M189.5 51.6h-1.0M257.8 95.4v1.0M189.5 47.4h-1.0M262.0 95.4v1.0M189.5 44.3h-1.0M265.3 95.4v1.0M189.5 42.0h-1.0M268.0 95.4v1.0M189.5 40.1h-1.0M270.3 95.4v1.0M189.5 38.4h-1.0M272.3 95.4v1.0M189.5 37.0h-1.0M274.0 95.4v1.0M189.5 35.8h-1.0M275.6 95.4v1.8M189.5 34.7h-1.8M285.9 95.4v1.0M189.5 27.4h-1.0M291.9 95.4v1.0M189.5 23.1h-1.0M296.1 95.4v1.0M189.5 20.1h-1.0M299.4 95.4v1.0M189.5 17.7h-1.0M302.1 95.4v1.0M189.5 15.8h-1.0M304.4 95.4v1.0M189.5 14.2h-1.0M306.4 95.4v1.0M189.5 12.8h-1.0" stroke="#111" stroke-width="0.8" fill="none"/>
<text x="201.6" y="106.9" font-size="9.6" fill="#222">10<tspan font-size="6.8" dy="-4.4">5</tspan></text>
<text x="174.6" y="86.7" font-size="9.6" fill="#222">10<tspan font-size="6.8" dy="-4.4">5</tspan></text>
<text x="235.7" y="106.9" font-size="9.6" fill="#222">10<tspan font-size="6.8" dy="-4.4">6</tspan></text>
<text x="174.6" y="62.4" font-size="9.6" fill="#222">10<tspan font-size="6.8" dy="-4.4">6</tspan></text>
<text x="269.8" y="106.9" font-size="9.6" fill="#222">10<tspan font-size="6.8" dy="-4.4">7</tspan></text>
<text x="174.6" y="38.2" font-size="9.6" fill="#222">10<tspan font-size="6.8" dy="-4.4">7</tspan></text>
<text transform="translate(171.1,54.6) rotate(-90)" text-anchor="middle" font-size="11.4" fill="#222">Estimation</text>
<text x="247.3" y="6.9" text-anchor="middle" font-size="9.5" font-weight="bold" fill="#111">D<tspan font-size="6.8" dy="2.4">NL1</tspan></text>
<text x="194.1" y="23.6" font-size="9.5" fill="#222">R=0.85</text>
<text x="194.1" y="36.1" font-size="9.5" fill="#222">RE=0.44</text>
<text x="246.4" y="80.7" font-size="9.4" fill="#f00">Slope=0.94</text>
<text x="246.4" y="92.0" font-size="9.4" fill="#f00">Intercept=0.34</text>
<text x="209.7" y="92.1" font-size="9.5" fill="#222" clip-path="url(#cp01)">1:1</text>
<clipPath id="cp02"><rect x="352.5" y="12.5" width="117.3" height="82.9"/></clipPath>
<g stroke-width="1.8" stroke-linecap="square" fill="none"><path d="M406.8 59.0h0M397.9 61.4h0M404.7 56.5h0M405.5 55.7h0M397.0 61.0h0M404.6 67.8h0M411.4 65.9h0M395.8 55.4h0M404.8 59.4h0M421.1 57.8h0M411.4 61.7h0M401.1 68.9h0M403.4 60.9h0M408.4 60.9h0M414.0 63.8h0M404.5 63.0h0M408.1 61.8h0M401.1 65.2h0M399.0 67.6h0M418.9 57.1h0M401.9 69.0h0M410.0 62.1h0M406.1 61.4h0M409.7 57.1h0M410.9 58.6h0M403.6 64.0h0M402.7 62.6h0M410.4 59.3h0M403.4 67.0h0M395.3 72.0h0M404.2 63.3h0M398.9 68.9h0M406.7 60.5h0M403.5 62.0h0M411.7 56.1h0M400.0 72.0h0M398.6 64.3h0M396.3 62.9h0M404.9 64.9h0M407.5 59.5h0M397.5 64.8h0M398.6 59.8h0M403.1 57.0h0M401.2 65.3h0M404.3 64.8h0M407.8 61.7h0M404.1 66.1h0M398.3 61.8h0M415.4 60.6h0M400.2 59.9h0M409.5 59.0h0M399.7 61.5h0M403.9 63.1h0M403.6 64.6h0M402.2 68.7h0M410.4 54.8h0M411.2 59.8h0M403.4 61.5h0M408.4 65.2h0M392.3 64.9h0M411.0 60.7h0M409.2 63.2h0M407.9 62.2h0M407.5 60.9h0M412.3 57.8h0M400.6 69.8h0M408.7 60.4h0M403.8 66.0h0M412.4 57.1h0M402.2 60.9h0M404.5 67.8h0M406.7 63.7h0M404.7 59.6h0M396.7 64.3h0M406.1 65.6h0M409.2 58.5h0M410.6 63.9h0M424.4 59.7h0M415.8 59.1h0M399.0 58.0h0M406.5 59.7h0M405.0 63.8h0M390.9 59.6h0M416.1 57.5h0M404.6 62.6h0M407.2 58.7h0M402.8 71.3h0M401.6 67.1h0M406.1 63.6h0M406.8 55.8h0M403.0 63.3h0M406.4 63.4h0M407.4 61.0h0M414.0 63.1h0M400.6 69.9h0M406.4 61.8h0M406.4 62.0h0M407.9 56.0h0M401.4 65.5h0M406.8 60.5h0M396.2 72.6h0M403.0 62.3h0M410.4 58.6h0M410.0 66.8h0M402.6 58.1h0M412.4 63.3h0M399.5 63.6h0M397.5 63.2h0M418.3 58.7h0M397.6 61.3h0M404.1 64.7h0M400.0 65.7h0M402.5 70.2h0M401.8 64.6h0M399.5 65.9h0M397.6 71.5h0M409.0 66.1h0M406.3 59.1h0M405.6 67.1h0M405.4 60.3h0M398.8 64.3h0M404.0 56.2h0M399.7 71.0h0M411.3 55.7h0M402.6 58.6h0M392.4 77.2h0M394.4 69.1h0M414.9 62.4h0M402.3 68.4h0M396.2 64.9h0M405.1 58.9h0M406.1 60.4h0M399.4 67.6h0M402.7 62.1h0M407.0 59.6h0M394.2 74.9h0M401.5 59.5h0M403.2 57.7h0M398.4 60.9h0M399.7 69.0h0M390.7 73.8h0M399.7 64.9h0M403.2 56.1h0M396.9 75.1h0M417.5 57.9h0M401.2 66.6h0M402.6 67.1h0M403.9 59.4h0M401.9 67.8h0M402.7 63.4h0M404.8 61.4h0M404.1 59.7h0M420.6 59.9h0M391.9 70.9h0M406.6 56.0h0M394.3 60.6h0M399.3 61.1h0M398.4 71.7h0M402.4 69.8h0M404.3 62.2h0M403.1 70.5h0M400.0 75.5h0M403.6 60.1h0M400.8 72.1h0M398.9 72.5h0M404.7 67.8h0M401.3 60.7h0M412.2 60.7h0M405.6 60.7h0M402.1 58.6h0M402.3 62.1h0M404.2 65.3h0M401.3 66.2h0M397.7 65.4h0M419.9 57.8h0M400.2 60.1h0M399.6 57.1h0M408.3 58.6h0M402.8 67.2h0M402.6 55.9h0M394.3 58.8h0M404.2 62.8h0M425.6 59.0h0M394.3 60.5h0M407.6 59.5h0M421.8 56.3h0M410.7 60.7h0M404.8 66.4h0M403.3 65.4h0M411.3 62.5h0M398.6 57.1h0M417.2 64.4h0M416.0 61.9h0M397.6 63.4h0M401.9 66.6h0M411.4 56.8h0M404.7 58.6h0M404.0 61.2h0M400.1 64.4h0M401.8 61.0h0M400.5 68.1h0M402.5 64.0h0M405.1 59.9h0M399.1 67.4h0M402.4 58.8h0M397.7 63.3h0M397.4 73.8h0M400.3 63.5h0M400.4 67.0h0M396.5 70.8h0M404.1 65.1h0M407.6 57.0h0M405.8 60.2h0M416.5 58.0h0M397.4 63.2h0M407.8 59.5h0M403.0 63.9h0M411.2 54.6h0M401.4 67.2h0M407.8 69.4h0M404.7 61.2h0M394.6 58.7h0M401.6 64.4h0M397.0 67.7h0M391.7 67.4h0M407.1 61.8h0M407.4 55.5h0M406.2 59.3h0M392.4 72.3h0M394.6 61.0h0M426.1 56.9h0M404.1 59.5h0M406.2 62.9h0M399.4 59.2h0M400.8 72.4h0M413.1 62.8h0M399.3 63.3h0M402.1 66.6h0M407.5 61.4h0M400.6 67.1h0M407.3 61.7h0M401.0 63.2h0M407.0 58.2h0M408.5 64.5h0M408.9 62.0h0M408.0 57.3h0M399.2 62.6h0M404.8 61.2h0M397.9 65.9h0M409.9 60.0h0M406.1 62.5h0M396.8 66.5h0M409.9 58.5h0M406.8 60.9h0M417.4 55.0h0M414.0 58.5h0M409.0 63.8h0M403.3 63.9h0M404.6 61.8h0M417.5 62.0h0M403.8 61.1h0M402.2 66.5h0M413.0 59.6h0M399.6 62.7h0M399.4 69.7h0M401.4 63.4h0M407.1 61.2h0M403.4 64.6h0M402.5 65.8h0M401.4 70.7h0M401.7 70.3h0M400.5 71.1h0M405.6 65.8h0M412.9 55.3h0M401.9 65.3h0M407.7 57.9h0M401.8 62.0h0M407.3 69.7h0M402.6 59.4h0M415.2 59.3h0M404.1 62.5h0M410.2 59.3h0M403.2 58.7h0M412.5 60.1h0M405.1 61.4h0M405.9 64.1h0M406.6 63.4h0M408.3 62.2h0M399.2 65.6h0M411.3 60.2h0M405.6 63.0h0M412.9 60.7h0M392.3 60.0h0M404.2 65.3h0M402.4 65.5h0M395.2 72.7h0M412.3 60.0h0M404.5 63.9h0M399.2 73.5h0M413.6 57.5h0M402.7 58.4h0M401.6 67.1h0M399.7 59.7h0M396.0 62.8h0M405.0 60.4h0M395.2 75.0h0M418.2 63.7h0M399.6 63.4h0M400.7 56.1h0M402.4 71.2h0M403.6 57.8h0M401.9 59.6h0M400.4 77.3h0M408.1 57.6h0M392.6 65.0h0M400.1 67.2h0M406.0 57.9h0M404.1 61.5h0M419.3 58.1h0M402.4 60.8h0M411.1 60.1h0M402.8 65.0h0M400.2 68.7h0M415.6 55.0h0M408.9 59.9h0M424.2 61.6h0M419.7 61.3h0M398.7 62.3h0M402.5 64.2h0M409.0 65.5h0M398.5 62.8h0M405.0 62.8h0M402.0 64.7h0M415.1 65.1h0M394.6 74.8h0M395.7 71.0h0M401.7 70.6h0M394.2 57.5h0M397.5 60.9h0M399.4 63.1h0M410.2 56.8h0M398.5 65.1h0M394.8 65.4h0M399.9 58.5h0M398.9 68.8h0M403.4 63.5h0M414.5 61.3h0M400.9 67.9h0M413.4 55.4h0M399.3 64.6h0M405.2 60.8h0M399.6 76.1h0M403.7 62.6h0M413.3 56.8h0M401.7 57.7h0M398.9 67.1h0M404.2 64.3h0M406.5 57.6h0M408.2 67.6h0M405.1 65.9h0M403.1 65.4h0M401.8 64.3h0M416.7 58.5h0M403.1 65.7h0M400.0 68.0h0M399.8 62.1h0M396.5 62.7h0M399.5 63.3h0M401.3 59.6h0M400.8 68.3h0M405.0 62.2h0M396.5 67.6h0M389.7 62.9h0M396.8 75.5h0M409.9 53.6h0M397.3 67.9h0M412.0 59.8h0M398.2 72.9h0M393.4 68.0h0M406.8 61.4h0M403.6 60.5h0M402.3 63.7h0M411.9 56.6h0M405.9 62.6h0M402.2 65.0h0M406.1 59.4h0M394.3 65.0h0M401.3 64.7h0M424.4 57.5h0M400.1 67.0h0M397.4 69.4h0M402.8 65.6h0M407.7 67.2h0M399.7 69.9h0M404.5 71.6h0M397.8 67.4h0M405.5 60.9h0M409.4 59.7h0M402.8 60.0h0M407.3 66.1h0M395.6 64.9h0M397.5 63.9h0M398.4 69.6h0M410.7 56.0h0M401.6 66.1h0M405.2 62.9h0M401.6 63.0h0M412.9 57.7h0M400.9 72.5h0M411.2 56.9h0M397.4 63.2h0M396.9 67.6h0M406.4 70.3h0M395.2 61.8h0M403.5 60.6h0M407.7 60.1h0M404.5 59.0h0M399.6 65.7h0M399.7 59.7h0M394.7 63.7h0M420.3 61.2h0M394.2 60.2h0M402.6 61.0h0M398.1 65.7h0M398.6 64.6h0M391.8 58.9h0M401.0 62.5h0M405.1 58.3h0M402.3 67.7h0M406.0 60.9h0M411.6 60.9h0M404.6 61.4h0M413.0 57.6h0M393.4 69.0h0M397.7 64.3h0M403.9 58.8h0M410.4 61.2h0M403.4 72.2h0M415.1 66.0h0M415.1 56.5h0M414.4 57.5h0M399.6 59.5h0M397.4 66.4h0M396.3 63.4h0M405.5 57.6h0M404.1 60.1h0M411.5 54.9h0M403.6 62.8h0M406.6 64.5h0M409.3 58.3h0M414.1 58.9h0M391.8 64.7h0M407.1 62.1h0M399.3 63.6h0M399.1 64.0h0M399.6 62.7h0M402.6 66.7h0M403.6 63.2h0M399.6 59.5h0M408.1 63.6h0M405.7 66.8h0M401.5 65.3h0M414.2 60.7h0M403.9 60.3h0M414.0 60.0h0M396.2 64.1h0M409.6 63.8h0M414.8 56.4h0M403.0 56.2h0M400.0 72.2h0M393.6 69.0h0M397.1 65.0h0M401.3 63.3h0M403.3 70.7h0M402.8 58.0h0M401.3 65.1h0M402.5 59.0h0M403.9 68.0h0M394.2 61.6h0M396.9 62.5h0M406.0 61.4h0M415.2 59.8h0M401.2 68.7h0M413.1 59.2h0M410.9 63.7h0M421.6 62.4h0M406.6 60.3h0M410.8 55.5h0M396.3 59.4h0M417.0 57.1h0M412.7 66.6h0M405.2 63.7h0M393.8 64.9h0M414.6 58.5h0M405.5 59.5h0M404.9 62.1h0M402.0 70.0h0M401.1 67.9h0M403.4 66.6h0M402.0 67.6h0M398.5 62.3h0M418.1 59.5h0M397.4 63.6h0M399.8 58.1h0M403.1 69.5h0M395.6 68.6h0M395.4 60.8h0M401.1 60.5h0M407.4 66.4h0M409.6 58.6h0M403.9 65.5h0M408.4 60.5h0M412.1 63.9h0M419.9 53.0h0M400.4 63.4h0M397.0 71.7h0M398.7 64.7h0M412.9 57.7h0M415.5 61.9h0M398.6 64.5h0M402.0 64.0h0M401.2 64.5h0M407.9 62.5h0M400.8 61.0h0M401.7 66.1h0M400.5 68.1h0M409.3 62.7h0M404.9 59.8h0M404.8 62.4h0M418.7 63.3h0M395.9 58.3h0M400.8 68.1h0M421.3 62.1h0M405.6 65.7h0M405.9 61.9h0M403.0 61.0h0M414.1 56.1h0M402.3 68.9h0M401.5 61.0h0M396.4 76.3h0M409.2 63.7h0M391.0 62.8h0M407.3 57.2h0M391.3 72.6h0M415.2 54.7h0M409.8 61.8h0M400.6 60.7h0M397.5 71.1h0M403.3 60.3h0M403.7 63.1h0M405.1 60.6h0M401.6 59.3h0M403.5 61.1h0M399.5 63.2h0M403.1 63.2h0M399.1 62.3h0M395.4 71.9h0M391.0 77.5h0M418.1 61.4h0M392.1 65.8h0M398.2 77.8h0M402.2 57.5h0M399.2 66.3h0M405.6 63.6h0M400.7 60.1h0M404.2 62.0h0M400.0 62.3h0M417.5 59.9h0M409.8 58.8h0M404.5 57.7h0M406.3 66.2h0M401.8 64.5h0M411.7 61.4h0M425.0 57.9h0M406.6 64.4h0M396.6 68.7h0M396.3 70.9h0M392.3 67.2h0M402.0 56.3h0M426.1 60.4h0M395.2 74.1h0M404.7 64.8h0M409.2 60.6h0M406.8 62.0h0M413.9 57.8h0M403.9 63.5h0M407.1 64.3h0M400.0 69.4h0M396.0 69.0h0M402.2 64.8h0M390.3 70.3h0M401.8 65.0h0M400.6 59.3h0M407.0 61.8h0M413.5 63.5h0M409.4 61.7h0M396.5 69.1h0M401.2 66.6h0M401.8 74.8h0M409.1 61.3h0M403.1 65.3h0M400.8 60.7h0M407.4 59.2h0M406.5 65.8h0M402.4 65.2h0M396.0 64.0h0M397.7 60.0h0M400.3 64.1h0M420.0 54.4h0M406.4 66.6h0M399.9 68.3h0M418.4 61.0h0M406.6 59.5h0M404.5 67.2h0M400.0 67.4h0M403.0 59.4h0M406.9 59.1h0M399.8 59.4h0M398.7 75.1h0M404.9 61.9h0M410.0 62.9h0M398.6 67.2h0M406.0 58.4h0M403.9 62.5h0M400.6 60.2h0M394.2 70.9h0M404.5 63.1h0M404.5 67.5h0M402.7 64.4h0M412.7 56.0h0M399.6 71.9h0M396.2 70.7h0M411.3 55.9h0M400.9 63.4h0M400.6 68.7h0M399.4 59.9h0M409.9 58.1h0M399.7 64.0h0M407.9 60.5h0M404.0 62.1h0M403.5 65.1h0M403.5 64.6h0M408.5 59.4h0M400.4 63.9h0M409.8 55.4h0M398.1 70.2h0M410.1 57.3h0M427.7 64.3h0M397.1 68.8h0M407.4 54.6h0M403.0 67.3h0M408.6 57.2h0M399.8 62.1h0M399.7 64.5h0M410.5 56.5h0M394.2 67.5h0M413.0 56.9h0M409.1 58.2h0M398.4 66.2h0M400.5 65.9h0M402.6 66.3h0M398.0 73.6h0M407.5 68.9h0M396.4 67.0h0M395.4 65.5h0M406.2 66.3h0M414.9 51.4h0M397.8 64.6h0M404.6 64.1h0M400.6 66.1h0M402.1 71.1h0M394.7 71.0h0M399.8 68.0h0M408.7 60.5h0M419.9 63.3h0M399.9 58.6h0M403.7 63.3h0M399.8 65.2h0M395.4 71.9h0M406.4 55.4h0M405.8 60.0h0M402.4 63.6h0M408.6 66.3h0M407.5 58.1h0M402.6 57.6h0M409.7 55.9h0M399.8 70.9h0M402.2 59.2h0M416.8 59.9h0M406.2 65.6h0M396.5 65.7h0M410.8 52.9h0M418.5 55.8h0M424.1 57.1h0M406.6 65.3h0M414.9 59.0h0M411.3 57.3h0M395.8 68.8h0M396.2 76.6h0M404.5 66.6h0M400.1 65.8h0M400.8 66.5h0M400.6 72.4h0M416.9 60.6h0M403.4 62.4h0M409.5 59.2h0M400.0 63.7h0M399.0 70.3h0M394.7 74.4h0M395.3 63.8h0M401.0 59.8h0M396.3 64.0h0M405.4 57.0h0M401.2 71.7h0M412.5 56.9h0M405.6 63.0h0M403.4 63.4h0M411.9 56.7h0M397.0 67.2h0M403.3 66.3h0M402.2 67.6h0M402.3 58.3h0M401.2 72.8h0M409.4 64.1h0M399.9 60.4h0M411.7 59.7h0M411.5 58.0h0M402.8 64.5h0M404.0 64.1h0M397.0 65.5h0M399.1 62.0h0M430.5 64.4h0M401.1 65.3h0M411.2 57.6h0M407.7 63.4h0M400.2 57.8h0M407.0 61.7h0M396.2 67.9h0M406.4 70.6h0M401.3 63.1h0M403.3 63.4h0M406.4 62.2h0M402.5 73.1h0M405.8 60.1h0M403.2 61.8h0M398.6 70.6h0M399.7 61.5h0M412.0 61.6h0M398.1 67.9h0M408.2 64.2h0M414.1 62.5h0M402.4 64.6h0M395.2 68.7h0M410.7 65.5h0M406.7 71.6h0M391.5 60.9h0M408.7 67.5h0M410.0 59.7h0M405.4 64.0h0M397.1 65.9h0M398.1 63.2h0M394.7 65.1h0M415.7 58.0h0M405.3 62.0h0M412.1 66.0h0M401.2 65.7h0M394.6 71.1h0M401.1 64.9h0M405.4 61.4h0M405.9 65.5h0M399.5 61.6h0M394.7 64.8h0M409.0 63.3h0M399.1 63.0h0M405.5 63.0h0M399.5 68.2h0M397.2 56.2h0M412.9 57.6h0M415.5 59.3h0M403.4 63.3h0M413.0 56.7h0M396.0 73.3h0M404.5 65.9h0M407.6 59.5h0M403.9 68.9h0M408.9 67.6h0M399.5 65.5h0M403.1 61.4h0M405.8 64.1h0M400.3 61.6h0M397.3 68.1h0M403.7 60.4h0M396.5 67.9h0M414.1 57.2h0M412.9 57.6h0M403.8 58.2h0M395.0 65.5h0M407.7 61.5h0M400.0 61.4h0M394.7 71.1h0M409.0 56.7h0M416.2 56.9h0M400.1 69.1h0M408.8 57.2h0M403.7 56.6h0M412.4 59.7h0M399.2 71.5h0M419.3 60.0h0M409.5 63.2h0M420.6 55.0h0M407.4 66.2h0M408.5 66.1h0M407.9 62.0h0M408.8 58.1h0M406.7 63.1h0M404.4 60.9h0M399.1 69.1h0M400.3 64.7h0M405.5 55.9h0M403.7 65.0h0M400.7 61.5h0M405.6 66.0h0M400.8 58.9h0M397.7 67.6h0M394.5 73.6h0M394.4 70.8h0M396.4 68.7h0M396.3 62.3h0M411.6 58.4h0M418.4 61.4h0M399.8 70.0h0M408.5 61.9h0M410.5 59.5h0M428.6 59.1h0M405.7 62.0h0M411.3 59.1h0M403.7 60.1h0M424.7 59.6h0M394.2 66.1h0M406.3 61.7h0M403.0 62.6h0M396.1 68.1h0M391.6 68.3h0M390.6 70.6h0M408.5 57.9h0M413.4 57.6h0M404.2 64.2h0M405.9 56.7h0M410.3 56.4h0M400.3 57.9h0M401.6 73.4h0M395.5 69.4h0M402.2 66.5h0M404.0 63.0h0M394.4 61.2h0M401.2 69.3h0M404.5 62.3h0M416.8 61.4h0M404.3 62.1h0M406.0 54.7h0M400.7 67.9h0M400.8 64.2h0M389.9 70.1h0M409.8 60.9h0M401.2 65.8h0M396.0 66.0h0M406.2 58.4h0M408.4 58.0h0M402.7 69.2h0M413.8 61.7h0M407.5 61.4h0M407.8 62.3h0M407.0 58.6h0M406.1 59.4h0M404.1 61.5h0M407.6 60.3h0M400.1 56.5h0M408.1 62.4h0M394.9 74.9h0M393.2 80.9h0M397.3 75.9h0M400.4 77.3h0M403.2 80.3h0M394.9 78.2h0" stroke="#1000f0"/><path d="M402.1 58.5h0M408.5 61.7h0M409.9 56.7h0M418.0 53.4h0M416.4 55.8h0M398.9 54.8h0M417.2 56.0h0M418.3 54.6h0M398.0 58.9h0M426.6 52.6h0M414.8 53.1h0M414.6 54.3h0M402.3 61.9h0M419.9 52.6h0M394.0 55.6h0M412.9 49.8h0M397.4 51.8h0M426.0 53.0h0M403.3 56.3h0M413.4 55.4h0M407.4 59.4h0M396.4 60.5h0M407.2 56.0h0M412.5 53.5h0M402.3 58.5h0M404.1 54.7h0M402.4 50.9h0M407.6 56.5h0M422.7 54.3h0M409.9 56.6h0M409.6 56.1h0M412.6 57.0h0M418.5 49.1h0M417.9 49.6h0M432.8 53.6h0M401.5 55.8h0M404.8 57.1h0M409.0 56.0h0M411.4 54.8h0M424.5 55.2h0M415.6 55.0h0M401.3 55.3h0M415.1 53.9h0M407.9 54.5h0M431.6 55.5h0M406.0 60.6h0M405.2 57.0h0M408.2 51.2h0M414.0 54.0h0M419.2 52.2h0M412.8 60.4h0M408.3 54.8h0M407.0 52.5h0M402.9 57.2h0M422.2 52.4h0M404.5 57.4h0M402.1 53.6h0M420.2 52.3h0M416.7 57.6h0M404.2 55.0h0M406.9 60.9h0M427.9 51.1h0M418.1 53.2h0M410.8 54.1h0M397.9 56.7h0M410.6 55.4h0M411.7 55.0h0M406.6 54.8h0M414.8 55.9h0M415.7 56.3h0M404.0 58.5h0M420.5 55.8h0M410.3 51.8h0M429.1 53.6h0M407.2 54.9h0M408.2 57.5h0M421.5 54.9h0M400.9 51.3h0M410.3 55.5h0M395.6 52.1h0M410.6 54.0h0M406.6 55.5h0M420.8 54.5h0M407.4 56.8h0M407.3 56.7h0M412.8 56.4h0M413.1 51.1h0M404.3 55.7h0M399.5 57.6h0M418.7 55.4h0M407.7 56.6h0M425.6 57.5h0M410.3 58.0h0M413.1 53.0h0M402.1 55.2h0M394.1 58.0h0M412.9 55.7h0M403.0 55.0h0M408.2 53.2h0M405.4 55.4h0M392.4 62.8h0M405.2 55.9h0M402.8 56.6h0M421.0 54.2h0M403.3 55.7h0M400.5 57.1h0M402.2 55.5h0M429.6 52.2h0M400.8 58.7h0M427.3 55.3h0M400.0 54.4h0M403.0 56.2h0M401.9 54.3h0M401.9 59.6h0M425.0 53.6h0M407.1 56.4h0M411.2 53.0h0M408.3 51.6h0M404.7 54.9h0M399.5 55.6h0M403.7 57.4h0M412.4 55.9h0M417.6 53.9h0M411.8 51.7h0M405.2 53.2h0M429.4 54.1h0M396.3 60.0h0M403.2 59.8h0M414.8 56.0h0M410.9 54.5h0M432.3 53.9h0M422.7 51.4h0M418.6 52.5h0M412.6 50.2h0M413.7 58.2h0M412.0 57.0h0M420.1 55.4h0M415.1 56.7h0M401.8 60.0h0M412.8 54.1h0M409.7 50.4h0M413.1 53.4h0M413.2 53.6h0M408.7 54.5h0M416.8 57.9h0M413.1 56.2h0M414.1 55.0h0M406.1 52.1h0M413.9 55.2h0M421.8 51.6h0M399.8 59.1h0M415.8 53.6h0M409.4 52.3h0M404.7 57.7h0M402.1 69.3h0M400.8 58.2h0M395.8 56.9h0M399.0 57.4h0M412.2 54.7h0M423.3 53.3h0M421.9 55.5h0M416.6 50.1h0M412.6 54.9h0M412.3 53.7h0M409.2 52.9h0M405.0 62.9h0M413.3 50.4h0M411.0 52.7h0M397.9 57.7h0M392.1 55.3h0M415.8 53.4h0M405.5 57.8h0M418.8 51.0h0M419.3 51.2h0M408.1 54.0h0M422.4 53.0h0M399.3 54.2h0M412.4 55.3h0M418.5 54.1h0M410.5 56.8h0M421.2 55.5h0M406.3 52.6h0M404.6 55.9h0M408.1 55.7h0M418.7 54.0h0M413.6 58.8h0M401.0 52.8h0M420.2 54.4h0M402.0 53.9h0M398.7 55.3h0M414.5 56.5h0M404.6 54.9h0M406.1 61.1h0M404.2 55.3h0M415.4 55.7h0M408.6 54.8h0M407.0 55.1h0M396.2 55.0h0M402.2 52.2h0M411.7 51.5h0M416.9 54.4h0M406.2 57.3h0M431.2 58.3h0M411.1 51.5h0M410.3 55.8h0M411.8 54.2h0M409.0 60.3h0M411.8 57.1h0M389.6 55.2h0M407.5 53.8h0M410.9 54.9h0M408.4 52.8h0M405.0 54.2h0M406.7 53.1h0M398.4 56.3h0M418.4 56.6h0M423.4 51.9h0M396.5 55.7h0M418.1 58.6h0M419.6 53.3h0M398.9 54.8h0M409.3 57.7h0M415.0 49.0h0M410.0 54.2h0M408.5 55.7h0M410.8 53.3h0M406.3 54.0h0M409.4 50.7h0M416.5 55.4h0M401.3 56.2h0M410.4 50.9h0M406.6 56.6h0M402.4 54.8h0M422.8 53.9h0M400.4 55.1h0M418.1 50.2h0M413.5 53.5h0M407.1 58.0h0M400.0 56.3h0M418.6 52.4h0M408.4 55.9h0M411.7 58.8h0M419.7 51.8h0M407.4 55.8h0M414.3 50.6h0M411.2 56.1h0M422.0 58.8h0M407.1 54.2h0M409.1 56.8h0M414.5 53.3h0M403.0 55.4h0M418.4 51.1h0M397.0 57.4h0M408.9 52.7h0M417.7 54.4h0M400.2 54.5h0M406.8 57.8h0M405.7 57.7h0M408.2 55.5h0M400.6 53.6h0M403.4 55.7h0M409.4 53.6h0M418.5 49.5h0M407.1 56.8h0M403.3 56.6h0M404.4 55.0h0M418.9 55.1h0M422.4 52.5h0M396.2 60.3h0M420.8 53.4h0M422.3 52.7h0M401.0 56.6h0M412.7 56.3h0M404.6 55.0h0M409.6 55.8h0M391.7 56.0h0M399.9 56.8h0M407.1 57.4h0M420.1 52.9h0M404.9 52.5h0M403.4 59.6h0M424.6 49.1h0M408.8 56.8h0M405.4 55.2h0M414.6 56.2h0M408.0 52.9h0M424.8 50.7h0M415.2 57.3h0M405.5 50.4h0" stroke="#1808f0"/><path d="M421.2 54.3h0M424.5 50.9h0M412.4 48.7h0M415.1 48.8h0M424.6 51.3h0M427.7 53.6h0M405.5 50.8h0M415.0 46.0h0M406.5 52.1h0M422.7 50.2h0M408.2 49.6h0M414.2 49.4h0M417.1 52.5h0M404.7 51.3h0M418.9 53.0h0M427.1 52.9h0M414.2 53.2h0M425.1 50.3h0M416.1 51.5h0M414.5 47.2h0M406.6 53.2h0M425.4 52.8h0M407.0 49.1h0M405.5 49.8h0M406.8 56.5h0M407.5 52.5h0M405.1 52.3h0M425.7 54.2h0M416.0 50.6h0M407.3 49.7h0M407.6 49.3h0M415.1 50.9h0M421.5 50.2h0M424.6 50.6h0M412.8 50.7h0M412.1 52.4h0M429.8 52.1h0M414.8 50.5h0M428.0 47.7h0M415.3 51.8h0M410.9 53.7h0M412.2 50.7h0M408.7 51.4h0M409.0 51.7h0M413.2 47.5h0M419.1 52.0h0M425.6 50.8h0M403.0 51.2h0M417.5 51.0h0M400.2 53.5h0M413.6 49.7h0M425.5 51.1h0M415.3 52.2h0M412.3 51.2h0M417.8 52.4h0M409.3 49.6h0M424.0 51.2h0M420.0 49.9h0M409.4 50.0h0M397.5 53.5h0M419.2 50.8h0M419.5 48.6h0M419.4 55.3h0M404.6 51.5h0M412.3 50.2h0M431.0 53.5h0M423.0 50.5h0M407.9 51.3h0M408.1 52.7h0M423.9 51.2h0M403.2 50.9h0M411.7 53.6h0M418.9 49.3h0M408.0 51.4h0M402.5 51.0h0M406.2 50.3h0M400.2 51.7h0M409.6 52.8h0M406.6 52.4h0M409.1 51.0h0M411.1 50.7h0M416.0 49.6h0M430.9 55.0h0M416.0 48.8h0M414.3 48.4h0M432.7 55.2h0M412.3 48.8h0M408.5 51.0h0M401.5 47.9h0M422.9 46.5h0M415.1 50.7h0M406.5 50.0h0M420.5 49.6h0M408.3 50.7h0M409.2 50.0h0M403.7 53.3h0" stroke="#3040f0"/><path d="M427.3 50.9h0M426.0 49.1h0M414.7 48.0h0M432.4 52.4h0M416.8 46.2h0M413.4 48.3h0M417.8 46.3h0M432.4 52.4h0M415.4 44.8h0M421.8 46.1h0M428.4 52.0h0M415.7 49.9h0M425.1 47.6h0M411.1 50.2h0M414.4 45.2h0M431.7 49.5h0M438.4 53.5h0M403.3 49.7h0M425.7 48.0h0M417.2 49.0h0M410.4 48.7h0M432.1 52.3h0M424.3 49.9h0M425.2 47.1h0M426.2 47.7h0M418.6 48.9h0M419.8 46.7h0M415.5 50.5h0M423.5 48.2h0M417.2 49.2h0M429.3 51.0h0M409.7 47.2h0M415.6 49.4h0M395.5 49.1h0M410.1 47.6h0M426.8 47.5h0M423.6 46.3h0M402.9 49.5h0M411.8 48.8h0M418.7 47.2h0M425.5 48.5h0M413.1 49.4h0M419.6 48.5h0M418.4 49.2h0M427.5 49.6h0M404.4 45.5h0M429.1 48.0h0M428.5 51.6h0M419.6 47.6h0M431.5 47.6h0M412.1 47.1h0M425.2 48.5h0M404.2 50.9h0M425.3 48.5h0M419.0 46.8h0M404.7 48.4h0M409.3 50.2h0M404.2 48.0h0M410.5 50.1h0M401.0 48.1h0M430.3 48.7h0M418.6 47.0h0M394.0 51.4h0M408.3 48.0h0" stroke="#4070f8"/><path d="M424.7 46.0h0M429.2 49.8h0M406.8 48.3h0M429.8 46.6h0M414.4 46.9h0M417.0 47.4h0M424.6 46.1h0M423.3 46.9h0M412.4 48.0h0M420.2 44.6h0M416.4 46.4h0M406.6 48.6h0M397.2 48.9h0M421.9 45.5h0M424.9 47.2h0M427.5 49.2h0M428.1 46.4h0M426.7 48.4h0M430.1 49.3h0M427.5 49.8h0M421.2 46.6h0M430.4 48.8h0M418.4 48.4h0M411.8 47.1h0M418.6 46.5h0M424.8 49.3h0M415.4 47.2h0M415.2 46.0h0M421.1 45.2h0M400.2 48.3h0M405.7 45.7h0M429.6 49.0h0M411.1 47.7h0M404.4 47.3h0M407.3 48.7h0M433.8 50.4h0M426.4 47.7h0M415.3 45.3h0M425.2 46.8h0M417.1 44.9h0M432.0 48.0h0" stroke="#4890f8"/><path d="M431.0 48.5h0M411.5 46.8h0M406.5 46.9h0M426.4 46.2h0M430.4 44.9h0M431.7 49.9h0M420.8 44.6h0M423.8 45.1h0M423.0 43.6h0M418.1 46.1h0M435.1 47.8h0M417.6 45.7h0M417.3 45.8h0M422.8 44.8h0M422.3 44.6h0M408.0 47.0h0M419.7 47.9h0M410.3 44.8h0M407.1 45.8h0M416.5 47.7h0M409.5 45.8h0M396.9 46.1h0M426.7 47.4h0M415.6 47.0h0M421.9 43.0h0M410.4 46.0h0M405.4 45.6h0M423.3 44.6h0M424.5 44.7h0M420.3 45.6h0M419.8 45.6h0M408.8 47.8h0M407.8 46.9h0" stroke="#50a8f8"/><path d="M429.9 43.7h0M420.7 45.3h0M425.6 44.0h0M426.7 43.0h0M427.3 43.2h0M429.2 45.6h0M422.2 46.0h0M423.0 44.1h0M428.2 44.8h0M433.3 48.7h0M433.2 45.9h0M434.5 49.3h0M414.8 45.9h0M422.2 44.9h0M424.1 42.4h0M427.0 46.9h0M423.1 44.1h0M427.3 44.6h0M427.2 43.5h0M424.1 45.7h0M425.3 46.7h0M408.2 46.1h0M412.3 43.8h0M428.1 46.3h0M429.4 47.3h0M429.0 46.6h0" stroke="#58c8f8"/><path d="M428.8 43.7h0M433.7 44.2h0M433.5 45.7h0M437.2 45.7h0M428.7 45.1h0M433.8 47.7h0M406.2 44.8h0M426.6 43.1h0M414.7 44.0h0M434.8 46.9h0M406.3 45.9h0M420.0 44.8h0M414.7 44.6h0M424.1 44.9h0M422.5 42.4h0M410.0 43.8h0M426.7 43.3h0M419.2 42.4h0M422.4 44.8h0M432.5 46.3h0M421.8 44.1h0M408.7 45.1h0M418.9 45.1h0M424.3 44.1h0M422.0 42.3h0M422.4 44.1h0" stroke="#68e8f8"/><path d="M426.7 42.0h0M433.2 47.7h0M426.8 44.0h0M430.7 45.0h0M434.3 44.0h0M431.7 47.0h0M422.8 43.0h0M427.5 42.8h0M417.7 43.6h0M423.7 44.3h0M427.0 45.0h0M425.7 44.0h0M428.4 45.2h0M427.6 44.3h0M428.2 44.1h0M420.9 41.4h0M421.3 43.0h0M418.7 42.7h0M429.8 43.5h0M421.4 42.8h0M433.9 44.1h0M422.9 42.4h0M421.0 42.2h0M425.0 43.6h0M416.5 42.3h0M431.3 47.3h0M426.4 41.8h0M425.0 44.5h0M424.1 42.3h0M426.9 43.2h0M428.6 43.7h0M433.1 45.9h0M437.6 50.0h0M419.8 42.9h0M419.5 44.1h0M420.4 41.5h0M398.2 42.9h0M437.3 45.1h0M417.2 44.0h0" stroke="#70f8f0"/><path d="M434.9 46.2h0M412.8 42.7h0M431.5 42.4h0M429.0 43.2h0M423.5 40.5h0M409.0 41.9h0M431.0 43.7h0M420.0 41.2h0M418.7 42.2h0M424.1 41.6h0M423.4 43.7h0M438.0 45.8h0M425.5 42.3h0M439.6 47.6h0M423.2 43.7h0M426.4 42.0h0M426.5 41.3h0M426.4 42.0h0M435.7 44.6h0M405.2 42.1h0M437.3 45.7h0M414.0 43.9h0M429.5 44.5h0M444.1 44.6h0" stroke="#70f8e0"/><path d="M429.9 42.0h0M435.1 44.8h0M424.5 41.9h0M414.8 42.1h0M423.3 41.7h0M439.6 44.1h0M428.3 41.5h0M440.2 46.6h0M436.7 43.7h0M420.8 42.6h0M427.4 42.7h0M431.5 41.8h0M434.9 43.4h0M425.1 42.4h0M425.6 43.0h0M429.0 42.9h0M426.5 41.6h0M431.5 41.3h0M423.1 42.3h0M432.1 42.8h0M414.3 42.3h0M433.5 42.9h0M425.0 42.5h0M433.3 42.1h0M415.1 42.0h0M431.3 43.5h0M437.0 44.8h0M431.8 41.8h0M436.2 44.1h0M421.6 40.4h0M429.9 41.2h0M423.4 40.0h0M434.5 44.4h0M423.6 40.4h0M430.8 44.7h0M433.6 42.1h0" stroke="#70f8c8"/><path d="M405.8 40.3h0M424.5 41.8h0M434.0 41.8h0M431.5 42.6h0M431.0 43.2h0M432.8 41.7h0M419.0 40.7h0M434.1 43.2h0M429.0 39.9h0M431.4 42.5h0M426.9 39.7h0M428.6 41.7h0M431.4 41.8h0M421.8 41.1h0M441.4 41.7h0M428.3 41.3h0M423.4 40.3h0M433.6 40.3h0M418.5 42.3h0M413.5 39.8h0M415.0 41.3h0M432.3 41.9h0M432.5 41.7h0" stroke="#68f8b0"/><path d="M435.0 43.4h0M403.8 42.2h0M427.8 39.4h0M436.6 40.0h0M425.8 40.4h0M432.8 40.7h0M423.9 39.5h0M439.1 42.3h0M416.8 40.5h0M431.1 41.5h0M433.5 40.7h0M439.0 41.9h0M403.1 41.2h0M428.3 38.9h0M428.1 39.3h0M432.5 41.9h0M421.2 39.2h0M411.9 40.1h0M426.0 40.6h0M436.2 42.8h0M427.6 40.6h0M424.9 39.4h0M433.0 41.6h0" stroke="#60f8a0"/><path d="M429.5 40.5h0M424.2 39.5h0M425.4 38.2h0M429.0 40.3h0M430.3 40.1h0M436.2 40.1h0M437.0 41.8h0M424.7 39.3h0M435.4 42.7h0M438.3 41.6h0M436.2 43.1h0M427.1 39.6h0M440.2 44.4h0M411.8 38.8h0M433.8 40.5h0M425.5 39.9h0M433.3 42.6h0M444.6 43.4h0M444.7 43.5h0M434.0 42.2h0M425.0 38.8h0M438.1 40.6h0" stroke="#58f880"/><path d="M434.7 40.5h0M421.7 39.7h0M425.1 38.7h0M421.4 38.7h0M427.4 38.3h0M422.9 38.1h0M424.6 39.6h0M439.4 41.7h0M444.2 42.8h0M434.0 39.6h0M422.8 38.5h0M441.2 40.1h0M432.4 39.2h0M432.2 39.3h0M438.5 41.4h0M442.3 42.3h0M423.8 39.9h0M440.8 41.2h0M436.3 39.0h0M437.9 38.1h0M435.9 39.0h0M429.0 38.4h0" stroke="#50f860"/><path d="M433.2 40.4h0M430.5 38.7h0M437.4 41.8h0M431.4 39.0h0M428.6 38.9h0M439.6 39.8h0M438.7 41.2h0M441.5 40.8h0M436.5 40.6h0M444.5 41.1h0M434.7 38.3h0M430.6 38.5h0M433.8 38.8h0M436.5 40.0h0M416.7 36.8h0M427.3 37.7h0M434.5 38.1h0M446.9 40.3h0" stroke="#40f840"/><path d="M430.5 36.6h0M425.5 36.5h0M436.0 37.9h0M434.0 38.7h0M440.3 40.4h0M413.6 38.3h0M442.4 38.4h0M435.1 37.1h0M440.4 40.2h0M427.2 37.2h0M434.3 36.9h0M446.6 46.2h0M428.7 38.1h0M428.2 38.0h0M438.2 37.7h0M439.5 40.6h0M436.3 37.6h0M441.0 40.3h0M430.2 37.8h0M441.3 37.6h0M432.1 38.9h0M429.9 37.9h0M439.7 38.2h0M430.1 35.3h0M441.8 37.4h0M437.9 40.4h0M452.7 36.7h0" stroke="#30f820"/><path d="M439.9 38.4h0M440.5 39.6h0M435.9 38.4h0M435.1 38.2h0M437.0 38.3h0M438.6 39.4h0M440.4 37.0h0M434.6 37.5h0M424.0 36.6h0M432.8 37.1h0M442.6 38.7h0M437.8 39.5h0M442.9 39.3h0M429.5 35.9h0M443.9 38.4h0M418.3 38.0h0M425.4 36.8h0M432.9 36.6h0M441.1 38.8h0M437.6 36.6h0M442.4 41.3h0M429.9 37.4h0M454.5 35.4h0M448.0 38.8h0" stroke="#38f818"/><path d="M447.5 37.0h0M438.7 36.3h0M439.1 37.4h0M434.4 37.0h0M426.5 36.6h0M445.4 37.2h0M441.9 38.3h0M441.0 39.4h0M425.2 37.2h0M443.0 38.6h0M436.2 38.9h0M441.4 37.8h0M443.3 38.4h0M446.0 38.2h0M439.7 38.5h0M428.3 37.4h0M431.8 36.5h0M434.1 37.4h0M434.5 37.5h0M433.4 37.1h0M425.2 36.0h0M425.4 35.3h0M431.5 36.7h0M439.8 36.0h0M435.4 36.3h0M455.7 33.6h0M451.1 31.4h0M448.9 37.7h0" stroke="#48f818"/><path d="M430.4 34.4h0M431.9 36.3h0M446.3 37.4h0M438.0 35.3h0M438.7 37.1h0M436.0 36.6h0M426.7 34.6h0M432.1 35.3h0M430.7 36.4h0M446.6 37.2h0M438.2 36.1h0M435.4 34.6h0M437.8 37.9h0M424.6 35.2h0M432.4 36.8h0M433.3 35.6h0M433.3 36.3h0M425.7 36.5h0M441.8 37.6h0M445.4 37.8h0M453.5 31.4h0M455.4 34.4h0" stroke="#60f018"/><path d="M445.1 36.5h0M433.7 34.3h0M439.0 36.4h0M441.6 35.9h0M447.6 36.1h0M430.1 35.8h0M436.5 35.6h0M431.1 34.1h0M440.7 36.0h0M434.9 34.6h0M447.4 38.3h0M444.0 37.8h0M445.5 37.2h0M441.5 36.4h0M442.4 38.2h0M435.1 34.4h0M438.1 34.5h0M438.0 35.5h0M446.6 36.6h0M432.7 34.6h0M447.7 38.0h0M434.9 36.6h0M425.1 34.0h0M443.0 35.9h0M433.5 35.4h0M441.3 37.0h0" stroke="#88f020"/><path d="M442.2 35.3h0M431.4 33.8h0M444.1 36.7h0M441.1 35.7h0M445.8 36.7h0M442.4 34.7h0M435.9 35.2h0M435.9 34.5h0M437.3 35.1h0M436.6 35.6h0M442.0 35.6h0M443.5 36.0h0M441.6 34.2h0M445.8 43.5h0" stroke="#a8f028"/><path d="M432.4 31.8h0M444.4 35.5h0M445.4 35.3h0M441.6 34.6h0M444.1 35.2h0M434.3 33.2h0M436.4 34.8h0M444.9 35.7h0M436.5 33.2h0M434.4 34.4h0M438.8 35.5h0M441.0 35.4h0M436.8 37.1h0M439.7 34.0h0M439.9 35.8h0M435.7 34.9h0M440.5 34.9h0M438.1 32.4h0M459.0 31.4h0M456.8 31.9h0M445.0 42.0h0" stroke="#c8f030"/><path d="M438.6 32.2h0M430.6 32.4h0M439.0 33.7h0M438.8 33.2h0M447.4 35.8h0M441.7 34.1h0M440.9 34.1h0M445.3 32.5h0M444.9 33.5h0M445.9 34.5h0M440.7 33.5h0M434.6 33.2h0M441.4 32.7h0M433.4 33.1h0M439.0 32.5h0M439.6 33.6h0M435.1 34.9h0M435.0 32.2h0M445.9 34.2h0M447.1 35.4h0M435.1 34.0h0M441.2 33.0h0M443.3 34.5h0M440.7 34.7h0M437.8 32.3h0M457.8 30.4h0" stroke="#f0f838"/><path d="M436.6 32.7h0M445.2 34.1h0M436.1 33.9h0M444.9 32.7h0M446.8 33.6h0M435.8 32.7h0M443.7 34.4h0M441.8 31.9h0M433.6 32.7h0M439.6 32.0h0M439.7 31.8h0M439.2 34.5h0M449.0 35.0h0M421.6 31.5h0M437.9 33.0h0M456.3 30.1h0" stroke="#f0e040"/><path d="M441.9 32.9h0M430.4 31.7h0M443.3 31.2h0M440.1 32.9h0M443.5 32.6h0M432.6 31.4h0M436.0 31.9h0M436.3 32.3h0M441.8 31.8h0M441.9 32.8h0M439.0 32.8h0M436.3 30.7h0M441.0 34.8h0M444.1 32.2h0M443.6 31.9h0M441.3 31.4h0M444.5 32.6h0M440.0 31.2h0M443.2 31.7h0M438.1 33.0h0M433.6 31.9h0M459.3 29.4h0" stroke="#e8c038"/><path d="M444.4 31.1h0M445.2 31.2h0M435.5 32.2h0M428.1 31.5h0M439.5 31.1h0M437.1 31.8h0M435.8 31.6h0M441.8 32.3h0M445.8 33.2h0M447.5 32.3h0M445.9 32.1h0M441.1 32.4h0M431.7 29.8h0M444.7 31.2h0M450.5 31.4h0M439.7 32.0h0M438.1 30.6h0M430.8 31.0h0M447.8 32.2h0M439.6 31.1h0M437.8 31.1h0" stroke="#f0a030"/><path d="M442.1 31.3h0M439.5 31.1h0M438.1 31.0h0M446.6 30.1h0M441.3 31.8h0M435.3 30.3h0" stroke="#f08a28"/><path d="M447.9 30.2h0M430.4 31.9h0M437.8 31.0h0M433.8 30.6h0M444.2 30.3h0M458.0 28.7h0" stroke="#f06a20"/><path d="M445.5 30.4h0M444.7 30.1h0M430.3 31.1h0M430.4 31.3h0M462.8 27.4h0" stroke="#f04c18"/><path d="M428.8 31.0h0M419.6 32.0h0M421.1 31.1h0M425.1 31.5h0M426.8 31.1h0M456.5 27.1h0M460.6 26.9h0M461.7 25.7h0M449.7 36.7h0" stroke="#f0300e"/><path d="M425.8 31.5h0M457.9 26.5h0M464.1 27.9h0" stroke="#e8200c"/></g>
<line x1="383.7" y1="73.3" x2="464.2" y2="19.5" stroke="#ff1010" stroke-width="1.2"/>
<line x1="353.3" y1="95.4" x2="469.8" y2="12.5" stroke="#000" stroke-width="1.0" stroke-dasharray="1.5 1.2"/>
<rect x="352.5" y="12.5" width="117.3" height="82.9" fill="none" stroke="#111" stroke-width="1.2"/>
<path d="M352.6 95.4v1.0M356.8 95.4v1.0M352.5 92.9h-1.0M360.1 95.4v1.0M352.5 90.5h-1.0M362.8 95.4v1.0M352.5 88.6h-1.0M365.1 95.4v1.0M352.5 87.0h-1.0M367.1 95.4v1.0M352.5 85.6h-1.0M368.8 95.4v1.0M352.5 84.3h-1.0M370.4 95.4v1.8M352.5 83.2h-1.8M380.7 95.4v1.0M352.5 75.9h-1.0M386.7 95.4v1.0M352.5 71.6h-1.0M390.9 95.4v1.0M352.5 68.6h-1.0M394.2 95.4v1.0M352.5 66.2h-1.0M396.9 95.4v1.0M352.5 64.3h-1.0M399.2 95.4v1.0M352.5 62.7h-1.0M401.2 95.4v1.0M352.5 61.3h-1.0M402.9 95.4v1.0M352.5 60.1h-1.0M404.5 95.4v1.8M352.5 58.9h-1.8M414.8 95.4v1.0M352.5 51.6h-1.0M420.8 95.4v1.0M352.5 47.4h-1.0M425.0 95.4v1.0M352.5 44.3h-1.0M428.3 95.4v1.0M352.5 42.0h-1.0M431.0 95.4v1.0M352.5 40.1h-1.0M433.3 95.4v1.0M352.5 38.4h-1.0M435.3 95.4v1.0M352.5 37.0h-1.0M437.0 95.4v1.0M352.5 35.8h-1.0M438.6 95.4v1.8M352.5 34.7h-1.8M448.9 95.4v1.0M352.5 27.4h-1.0M454.9 95.4v1.0M352.5 23.1h-1.0M459.1 95.4v1.0M352.5 20.1h-1.0M462.4 95.4v1.0M352.5 17.7h-1.0M465.1 95.4v1.0M352.5 15.8h-1.0M467.4 95.4v1.0M352.5 14.2h-1.0M469.4 95.4v1.0M352.5 12.8h-1.0" stroke="#111" stroke-width="0.8" fill="none"/>
<text x="364.6" y="106.9" font-size="9.6" fill="#222">10<tspan font-size="6.8" dy="-4.4">5</tspan></text>
<text x="337.6" y="86.7" font-size="9.6" fill="#222">10<tspan font-size="6.8" dy="-4.4">5</tspan></text>
<text x="398.7" y="106.9" font-size="9.6" fill="#222">10<tspan font-size="6.8" dy="-4.4">6</tspan></text>
<text x="337.6" y="62.4" font-size="9.6" fill="#222">10<tspan font-size="6.8" dy="-4.4">6</tspan></text>
<text x="432.8" y="106.9" font-size="9.6" fill="#222">10<tspan font-size="6.8" dy="-4.4">7</tspan></text>
<text x="337.6" y="38.2" font-size="9.6" fill="#222">10<tspan font-size="6.8" dy="-4.4">7</tspan></text>
<text transform="translate(334.1,54.6) rotate(-90)" text-anchor="middle" font-size="11.4" fill="#222">Estimation</text>
<text x="410.3" y="6.9" text-anchor="middle" font-size="9.5" font-weight="bold" fill="#111">D<tspan font-size="6.8" dy="2.4">NL4</tspan></text>
<text x="357.1" y="23.6" font-size="9.5" fill="#222">R=0.85</text>
<text x="357.1" y="36.1" font-size="9.5" fill="#222">RE=0.44</text>
<text x="410.7" y="80.2" font-size="9.4" fill="#f00">Slope=0.94</text>
<text x="410.7" y="91.5" font-size="9.4" fill="#f00">Intercept=0.34</text>
<text x="371.0" y="93.0" font-size="9.5" fill="#222" clip-path="url(#cp02)">1:1</text>
<clipPath id="cp03"><rect x="515.5" y="12.5" width="117.3" height="82.9"/></clipPath>
<g stroke-width="1.8" stroke-linecap="square" fill="none"><path d="M569.8 58.6h0M559.6 60.0h0M567.0 55.6h0M567.8 54.8h0M558.5 59.5h0M567.6 67.4h0M574.4 65.6h0M556.4 53.1h0M567.7 58.9h0M584.1 57.8h0M564.2 57.6h0M571.5 61.4h0M574.4 61.4h0M564.1 68.3h0M566.2 60.3h0M571.4 60.6h0M577.0 63.6h0M567.5 62.5h0M571.1 61.5h0M572.9 56.3h0M564.1 64.6h0M561.8 66.9h0M581.9 57.0h0M564.9 68.5h0M573.0 61.8h0M569.1 61.0h0M572.7 56.7h0M573.9 58.3h0M566.6 63.5h0M565.7 62.1h0M573.4 59.0h0M566.4 66.5h0M579.4 55.7h0M557.6 71.1h0M567.2 62.8h0M561.9 68.2h0M569.7 60.1h0M581.3 54.5h0M566.5 61.5h0M574.7 55.8h0M563.0 71.4h0M560.8 63.4h0M558.1 61.9h0M567.9 64.5h0M570.5 59.1h0M560.0 63.8h0M560.0 58.5h0M565.4 56.0h0M564.2 64.7h0M567.3 64.3h0M570.8 61.3h0M567.1 65.6h0M589.6 52.7h0M560.6 60.7h0M578.4 60.4h0M562.1 58.7h0M572.5 58.6h0M561.8 60.6h0M566.9 62.6h0M566.6 64.1h0M565.2 68.1h0M573.4 54.5h0M565.3 61.3h0M574.2 59.5h0M566.4 60.9h0M571.4 64.8h0M553.3 63.5h0M574.0 60.4h0M572.2 62.8h0M570.9 61.8h0M570.5 60.5h0M575.3 57.5h0M566.1 55.6h0M563.6 69.2h0M571.7 60.1h0M566.8 65.5h0M575.4 56.8h0M564.7 60.1h0M570.4 59.0h0M567.5 67.3h0M569.7 63.3h0M567.6 59.0h0M558.0 59.4h0M558.5 63.1h0M569.1 65.1h0M572.2 58.2h0M573.6 63.6h0M587.4 59.7h0M570.0 55.5h0M578.8 58.9h0M560.6 56.4h0M569.5 59.2h0M568.0 63.3h0M551.4 57.0h0M564.7 57.5h0M579.1 57.4h0M567.6 62.1h0M566.6 53.7h0M570.2 58.3h0M565.8 70.7h0M564.6 66.6h0M570.4 55.9h0M569.1 63.1h0M569.6 55.2h0M585.7 54.3h0M566.0 62.8h0M569.4 63.0h0M572.9 56.3h0M570.4 60.6h0M577.0 62.9h0M563.6 69.3h0M569.4 61.4h0M572.6 55.7h0M569.4 61.6h0M575.6 56.7h0M570.7 55.5h0M564.4 64.9h0M569.8 60.1h0M558.9 71.8h0M566.0 61.8h0M573.4 58.3h0M573.0 66.4h0M564.9 57.3h0M575.4 63.1h0M561.9 62.7h0M559.3 62.1h0M581.3 58.6h0M559.0 60.0h0M567.1 64.2h0M562.9 65.1h0M565.5 69.7h0M564.8 64.0h0M562.2 65.1h0M560.4 70.7h0M572.0 65.7h0M569.3 58.6h0M568.6 66.7h0M568.4 59.9h0M561.0 63.3h0M566.3 55.2h0M562.7 70.3h0M574.3 55.4h0M565.2 57.8h0M554.7 76.2h0M556.4 67.9h0M577.9 62.2h0M565.3 67.9h0M557.9 63.7h0M568.1 58.4h0M569.1 59.9h0M571.9 55.6h0M562.4 66.9h0M565.7 61.6h0M570.0 59.2h0M556.6 74.0h0M563.6 58.5h0M565.4 56.6h0M560.5 59.6h0M562.7 68.3h0M587.5 55.3h0M552.5 72.6h0M562.3 64.2h0M565.6 55.5h0M559.9 74.4h0M580.5 57.8h0M564.2 66.0h0M565.6 66.5h0M566.7 58.7h0M564.9 67.3h0M565.7 62.8h0M567.8 60.9h0M566.8 59.1h0M583.6 59.9h0M553.3 69.7h0M569.4 55.4h0M554.8 58.8h0M561.4 59.9h0M561.4 71.1h0M565.4 69.2h0M567.3 61.7h0M566.1 69.9h0M563.0 74.9h0M566.4 59.4h0M563.8 71.5h0M569.0 60.1h0M561.9 71.8h0M567.7 67.3h0M563.6 59.8h0M575.2 60.4h0M568.6 60.2h0M564.3 57.6h0M565.3 61.5h0M567.2 64.8h0M564.3 65.6h0M559.9 64.4h0M582.9 57.7h0M562.1 59.0h0M560.8 55.6h0M571.3 58.3h0M565.8 66.7h0M564.7 54.7h0M575.8 60.1h0M554.7 57.2h0M567.2 62.4h0M588.6 59.1h0M554.8 58.7h0M571.3 54.5h0M570.6 59.1h0M584.8 56.3h0M564.9 56.2h0M573.7 60.4h0M567.8 65.9h0M566.3 64.9h0M574.3 62.3h0M559.6 55.5h0M580.2 64.3h0M579.0 61.7h0M559.5 62.3h0M564.9 66.1h0M574.4 56.5h0M567.4 57.9h0M567.0 56.6h0M567.0 60.7h0M562.7 63.6h0M564.3 60.2h0M583.2 52.3h0M563.5 67.5h0M565.5 63.5h0M568.0 59.4h0M562.1 66.8h0M564.8 57.9h0M559.5 62.2h0M560.4 73.1h0M563.0 62.8h0M563.4 66.4h0M559.1 70.0h0M567.1 64.6h0M570.5 56.5h0M568.8 59.8h0M579.5 57.8h0M559.1 61.9h0M570.8 59.1h0M566.0 63.3h0M569.9 60.4h0M574.2 54.3h0M581.1 53.1h0M573.7 53.8h0M564.4 66.6h0M570.8 69.0h0M567.7 60.7h0M573.6 55.1h0M554.9 56.8h0M577.8 55.7h0M564.6 63.8h0M559.4 66.7h0M552.7 65.8h0M570.1 61.4h0M570.0 54.9h0M569.2 58.8h0M554.3 71.2h0M555.3 59.3h0M589.1 57.1h0M566.8 58.9h0M578.7 56.1h0M569.2 62.5h0M560.9 58.0h0M563.8 71.8h0M576.1 62.6h0M566.6 57.7h0M561.6 62.4h0M565.1 66.1h0M570.5 61.0h0M563.6 66.5h0M570.3 61.3h0M563.7 62.4h0M583.5 55.7h0M570.0 57.8h0M571.5 64.1h0M571.9 61.6h0M571.0 56.9h0M561.5 61.7h0M567.8 60.7h0M560.2 65.0h0M572.9 59.6h0M569.1 62.1h0M559.1 65.6h0M572.9 58.2h0M569.8 60.5h0M571.2 57.1h0M580.4 54.9h0M577.0 58.3h0M572.0 63.4h0M566.3 63.4h0M567.6 61.3h0M580.5 61.8h0M566.8 60.6h0M565.2 66.0h0M583.8 54.5h0M576.0 59.4h0M561.9 61.7h0M562.4 69.1h0M564.2 62.7h0M570.1 60.8h0M570.2 56.3h0M566.4 64.1h0M565.5 65.2h0M564.4 70.1h0M564.7 69.7h0M563.5 70.5h0M568.6 65.3h0M575.9 55.1h0M564.9 64.8h0M570.2 56.2h0M570.7 57.5h0M575.8 56.2h0M564.4 61.2h0M570.3 69.3h0M565.2 58.6h0M578.2 59.1h0M567.1 62.0h0M573.2 59.0h0M565.7 57.8h0M575.5 59.9h0M568.1 60.9h0M568.9 63.7h0M569.6 63.0h0M566.9 54.9h0M571.3 61.9h0M561.8 64.8h0M574.3 59.9h0M568.6 62.5h0M575.9 60.5h0M552.7 58.5h0M567.2 64.8h0M565.4 65.0h0M557.7 71.8h0M588.6 57.6h0M575.3 59.8h0M576.1 52.8h0M567.5 63.4h0M562.2 72.8h0M576.6 57.3h0M565.1 57.5h0M564.6 66.5h0M561.4 58.6h0M557.4 61.6h0M568.0 59.9h0M558.1 74.2h0M581.2 63.6h0M575.9 55.5h0M561.9 62.4h0M563.2 55.1h0M565.4 70.6h0M565.9 56.8h0M564.3 58.6h0M563.4 76.7h0M571.1 57.2h0M553.5 63.3h0M563.1 66.6h0M569.0 57.4h0M567.1 61.0h0M582.3 58.0h0M564.9 60.1h0M567.8 55.3h0M574.1 59.8h0M565.8 64.5h0M563.2 68.1h0M578.6 54.8h0M571.9 59.5h0M587.2 61.7h0M582.7 61.2h0M562.5 55.8h0M560.6 61.3h0M565.5 63.7h0M572.0 65.1h0M562.6 57.4h0M560.4 61.7h0M568.0 62.3h0M565.0 64.1h0M578.1 64.9h0M557.1 73.9h0M558.1 70.1h0M564.7 70.1h0M555.1 55.3h0M559.4 59.4h0M565.1 55.0h0M562.0 62.2h0M573.2 56.5h0M560.8 64.1h0M556.4 64.3h0M561.8 57.1h0M561.8 68.1h0M564.1 58.7h0M588.0 53.7h0M566.4 63.0h0M577.5 61.1h0M569.9 55.8h0M563.9 67.3h0M576.4 55.2h0M561.8 63.9h0M568.2 60.3h0M574.2 52.8h0M562.6 75.5h0M566.7 62.1h0M576.3 56.6h0M563.6 56.7h0M561.7 66.4h0M567.2 63.8h0M569.5 57.1h0M571.2 67.2h0M568.1 65.4h0M566.1 64.9h0M564.8 63.7h0M579.7 58.3h0M566.1 65.2h0M563.0 67.4h0M562.2 61.1h0M558.0 61.4h0M561.8 62.4h0M563.6 58.6h0M563.8 67.7h0M568.0 61.8h0M558.7 66.6h0M549.4 61.0h0M559.8 74.8h0M572.7 53.2h0M559.6 67.0h0M575.0 59.5h0M561.2 72.3h0M555.3 66.9h0M569.8 61.0h0M566.4 59.8h0M565.3 63.2h0M574.9 56.4h0M568.9 62.2h0M565.2 64.4h0M569.1 59.0h0M555.6 63.6h0M564.3 64.1h0M587.4 57.6h0M563.1 66.4h0M560.0 68.7h0M565.8 65.1h0M570.7 66.8h0M562.7 69.3h0M567.5 71.1h0M560.4 66.6h0M568.5 60.4h0M572.4 59.3h0M565.4 59.3h0M570.3 65.7h0M557.2 63.6h0M559.4 62.8h0M561.2 68.9h0M573.7 55.7h0M564.6 65.6h0M568.2 62.4h0M564.4 62.4h0M575.9 57.5h0M563.9 71.9h0M574.2 56.6h0M559.7 62.0h0M559.1 66.7h0M569.4 69.9h0M556.8 60.1h0M566.4 60.0h0M570.7 59.7h0M567.4 58.3h0M562.4 65.0h0M561.9 58.9h0M556.4 62.1h0M583.3 61.2h0M554.9 58.1h0M565.3 60.3h0M560.5 64.8h0M560.9 63.8h0M551.5 56.8h0M563.6 61.7h0M567.8 57.7h0M565.3 67.1h0M569.0 60.4h0M574.6 60.6h0M567.6 60.9h0M576.0 57.4h0M554.9 67.8h0M559.7 63.2h0M566.7 58.1h0M573.4 60.9h0M566.4 71.7h0M578.1 65.8h0M576.7 58.0h0M578.1 56.3h0M577.4 57.3h0M561.7 58.2h0M575.0 56.7h0M559.6 65.4h0M578.1 56.5h0M558.3 62.4h0M568.2 56.9h0M566.9 59.5h0M574.5 54.6h0M566.6 62.3h0M569.6 64.1h0M572.3 57.9h0M577.1 58.7h0M552.4 62.8h0M570.1 61.7h0M561.6 62.7h0M561.4 63.1h0M561.8 61.8h0M565.6 66.2h0M566.6 62.7h0M561.4 58.4h0M571.1 63.2h0M568.7 66.3h0M564.5 64.7h0M577.2 60.4h0M566.7 59.7h0M577.0 59.8h0M557.8 62.9h0M572.6 63.5h0M577.8 56.2h0M565.0 55.1h0M563.0 71.6h0M555.2 67.8h0M559.0 64.0h0M576.1 55.9h0M564.0 62.6h0M566.3 70.2h0M565.0 56.9h0M564.3 64.5h0M565.0 58.1h0M566.9 67.5h0M567.3 56.9h0M554.9 59.9h0M558.8 61.1h0M569.0 61.0h0M563.0 57.4h0M578.2 59.6h0M564.2 68.1h0M576.1 58.9h0M573.9 63.4h0M584.6 62.4h0M569.6 59.8h0M573.8 55.2h0M557.7 57.5h0M580.0 57.0h0M575.7 66.3h0M568.2 63.2h0M554.9 63.4h0M577.6 58.3h0M568.5 59.1h0M567.9 61.6h0M565.0 69.4h0M564.1 67.4h0M566.4 66.1h0M565.0 67.1h0M560.3 61.2h0M581.1 59.4h0M559.2 62.4h0M561.5 56.6h0M584.9 55.5h0M566.1 68.9h0M558.1 67.6h0M575.6 54.7h0M556.3 59.3h0M563.3 59.6h0M570.4 66.0h0M572.6 58.3h0M566.9 65.0h0M571.4 60.1h0M575.1 63.7h0M582.9 53.0h0M563.0 62.6h0M559.8 70.9h0M561.0 63.7h0M575.9 57.4h0M578.5 61.8h0M568.0 62.5h0M560.8 63.5h0M565.0 63.5h0M564.2 64.0h0M570.9 62.1h0M576.3 50.2h0M563.1 60.1h0M564.7 65.5h0M563.5 67.5h0M572.3 62.3h0M567.9 59.4h0M567.8 61.9h0M581.7 63.2h0M557.1 56.3h0M563.8 67.5h0M584.3 62.1h0M568.6 65.2h0M568.9 61.5h0M565.8 60.4h0M577.1 55.9h0M565.3 68.3h0M564.0 60.1h0M559.4 75.6h0M572.2 63.3h0M551.1 61.0h0M570.3 56.8h0M553.0 71.4h0M582.3 51.2h0M578.2 54.6h0M572.8 61.4h0M563.1 59.7h0M571.0 53.5h0M585.4 53.0h0M560.3 70.4h0M566.0 59.7h0M566.7 62.6h0M568.1 60.2h0M564.2 58.3h0M566.4 60.5h0M562.1 62.5h0M566.1 62.7h0M561.2 61.3h0M557.9 71.0h0M553.1 76.4h0M581.1 61.3h0M552.9 64.2h0M561.2 77.1h0M564.3 56.6h0M561.8 65.6h0M568.6 63.2h0M584.2 55.5h0M563.0 59.1h0M567.2 61.5h0M562.2 61.4h0M566.9 55.0h0M580.5 59.7h0M572.8 58.4h0M567.2 57.0h0M569.3 65.8h0M564.8 64.0h0M574.7 61.1h0M588.0 58.0h0M569.6 64.0h0M558.9 67.8h0M559.0 70.1h0M553.3 65.8h0M563.6 54.9h0M583.2 54.4h0M589.1 60.6h0M557.9 73.3h0M567.7 64.3h0M572.2 60.2h0M569.8 61.6h0M576.9 57.6h0M566.9 63.0h0M570.1 63.9h0M563.0 68.7h0M558.4 68.0h0M565.2 64.3h0M551.2 68.9h0M564.8 64.5h0M562.9 58.3h0M570.0 61.4h0M576.5 63.3h0M572.4 61.4h0M559.0 68.2h0M564.2 66.0h0M564.8 74.3h0M572.1 61.0h0M569.1 60.7h0M566.1 64.8h0M563.3 59.7h0M570.4 58.8h0M569.5 65.4h0M565.4 64.7h0M557.5 62.9h0M569.5 54.4h0M559.0 58.7h0M563.0 63.5h0M583.0 54.4h0M569.4 66.2h0M562.9 67.6h0M581.4 60.9h0M569.6 59.1h0M567.5 66.7h0M563.0 66.7h0M565.4 58.6h0M569.9 58.7h0M561.6 58.3h0M561.7 74.5h0M567.9 61.4h0M573.0 62.5h0M561.3 66.4h0M569.0 58.0h0M566.9 62.0h0M573.3 55.4h0M562.6 59.2h0M556.4 69.9h0M567.5 62.6h0M567.5 67.0h0M565.7 63.9h0M575.7 55.7h0M562.6 71.3h0M558.7 69.9h0M574.3 55.6h0M563.6 62.7h0M563.6 68.1h0M561.1 58.7h0M572.9 57.7h0M562.3 63.3h0M570.9 60.1h0M567.0 61.6h0M566.5 64.6h0M566.5 64.0h0M571.5 59.0h0M563.1 63.2h0M572.7 55.0h0M561.0 69.5h0M573.1 57.0h0M590.7 64.5h0M559.6 68.0h0M570.4 54.2h0M566.0 66.7h0M571.6 56.8h0M562.0 61.0h0M581.4 56.5h0M562.2 63.7h0M573.5 56.2h0M556.1 66.4h0M576.0 56.6h0M572.1 57.8h0M561.0 65.5h0M563.5 65.3h0M581.1 58.5h0M565.6 65.8h0M561.0 72.9h0M570.5 68.5h0M558.4 65.9h0M557.0 64.3h0M569.2 65.8h0M577.9 51.2h0M559.9 63.6h0M572.3 57.3h0M567.6 63.6h0M563.6 65.5h0M565.1 70.6h0M556.8 70.0h0M562.8 67.4h0M571.7 60.2h0M582.9 63.3h0M561.7 57.2h0M566.7 62.8h0M562.5 64.5h0M557.9 71.0h0M569.1 54.8h0M571.3 55.2h0M568.8 59.6h0M565.4 63.1h0M571.6 66.0h0M570.5 57.7h0M565.3 56.8h0M572.7 55.6h0M562.8 70.3h0M564.8 58.4h0M579.8 59.8h0M569.2 65.2h0M558.4 64.7h0M573.7 52.4h0M581.5 55.7h0M587.1 57.1h0M569.6 64.9h0M577.9 58.8h0M574.3 57.0h0M558.1 67.9h0M559.2 75.9h0M567.5 66.1h0M563.0 65.2h0M563.8 65.9h0M563.6 71.8h0M579.9 60.5h0M566.4 61.8h0M572.5 58.9h0M562.6 63.0h0M562.0 69.7h0M557.2 73.5h0M556.8 62.7h0M563.6 58.9h0M557.8 62.7h0M568.1 56.3h0M564.2 71.2h0M575.5 56.7h0M568.6 62.6h0M566.4 62.9h0M574.9 56.5h0M559.8 66.4h0M566.3 65.8h0M565.2 67.0h0M564.5 57.4h0M564.2 72.2h0M572.4 63.8h0M561.9 59.2h0M574.7 59.4h0M576.5 53.3h0M574.5 57.8h0M565.8 63.9h0M567.0 63.6h0M581.6 52.3h0M559.0 64.6h0M561.4 60.9h0M593.5 64.6h0M564.1 64.7h0M574.2 57.3h0M570.7 63.0h0M561.7 56.6h0M570.0 61.3h0M558.4 67.0h0M569.4 70.2h0M564.1 62.4h0M566.3 62.9h0M569.4 61.7h0M565.5 72.6h0M568.8 59.6h0M566.1 61.2h0M561.6 70.0h0M561.7 60.5h0M575.0 61.3h0M560.7 67.1h0M571.2 63.8h0M577.1 62.2h0M565.4 64.1h0M557.3 67.7h0M573.7 65.2h0M569.7 71.2h0M551.7 58.6h0M571.7 67.1h0M573.0 59.4h0M568.4 63.6h0M559.2 64.9h0M560.1 62.2h0M556.2 63.7h0M585.0 58.8h0M578.7 57.9h0M568.3 61.6h0M575.1 65.7h0M564.2 65.1h0M556.7 70.1h0M564.1 64.3h0M568.4 60.9h0M568.9 65.1h0M561.9 60.8h0M556.2 63.7h0M572.0 63.0h0M561.5 61.9h0M568.5 62.6h0M562.5 67.6h0M558.4 55.6h0M558.5 54.3h0M575.9 57.4h0M578.5 59.1h0M566.4 62.7h0M576.0 56.4h0M558.7 72.5h0M567.5 65.5h0M570.6 59.1h0M566.9 68.4h0M571.9 67.2h0M562.2 64.7h0M565.9 60.8h0M568.8 63.6h0M562.5 60.7h0M560.2 67.4h0M566.7 59.9h0M558.7 66.9h0M577.1 57.0h0M575.9 57.3h0M566.4 57.5h0M556.7 64.4h0M570.7 61.2h0M562.2 60.4h0M557.0 70.2h0M572.0 56.4h0M579.2 56.8h0M563.1 68.5h0M571.8 56.9h0M568.6 57.2h0M566.0 55.6h0M575.4 59.4h0M562.2 70.8h0M582.3 59.9h0M572.5 62.9h0M583.6 55.0h0M569.9 56.3h0M570.4 65.8h0M571.5 65.7h0M570.9 61.6h0M571.8 57.8h0M569.7 62.6h0M567.4 60.4h0M581.9 55.0h0M562.1 68.4h0M563.0 63.9h0M568.4 55.3h0M566.7 64.5h0M563.1 60.5h0M568.6 65.5h0M562.7 57.7h0M560.6 66.9h0M557.9 58.6h0M556.9 72.7h0M583.8 53.4h0M562.6 55.4h0M556.7 69.8h0M558.9 67.8h0M558.2 60.8h0M574.6 58.1h0M581.4 61.3h0M562.8 69.4h0M575.7 56.0h0M571.5 61.6h0M573.5 59.2h0M591.6 59.3h0M568.7 61.5h0M574.3 58.9h0M566.7 59.6h0M587.7 59.6h0M555.6 64.8h0M569.3 61.3h0M566.0 62.1h0M570.0 56.9h0M558.4 67.2h0M583.1 52.9h0M553.0 66.6h0M551.7 69.3h0M571.5 57.5h0M566.0 58.8h0M576.4 57.4h0M567.2 63.7h0M568.5 56.0h0M573.3 56.1h0M562.1 56.5h0M564.6 72.8h0M557.7 68.4h0M565.2 66.0h0M587.6 49.2h0M567.0 62.5h0M555.1 59.5h0M564.2 68.7h0M567.5 61.8h0M579.8 61.3h0M567.3 61.6h0M568.2 53.8h0M563.7 67.3h0M567.9 54.4h0M563.6 63.5h0M551.2 68.7h0M572.8 60.6h0M564.2 65.3h0M558.1 65.1h0M569.2 58.0h0M571.4 57.6h0M565.7 68.7h0M576.8 61.5h0M570.5 61.0h0M578.2 57.1h0M570.8 61.9h0M570.0 58.1h0M569.1 58.9h0M567.1 61.0h0M570.6 59.9h0M562.4 55.2h0M571.1 62.0h0M557.9 74.2h0M556.2 80.0h0M560.3 75.2h0M563.4 76.7h0M566.2 79.8h0M557.9 77.5h0" stroke="#1000f0"/><path d="M584.2 54.3h0M575.6 48.6h0M581.0 53.3h0M559.5 53.2h0M580.2 55.9h0M559.2 57.3h0M578.3 48.8h0M577.8 52.9h0M577.6 54.1h0M582.9 52.6h0M554.6 53.1h0M575.7 49.4h0M559.8 50.6h0M589.0 53.2h0M576.4 55.2h0M587.6 51.4h0M590.7 53.8h0M575.5 53.3h0M564.6 49.6h0M581.6 49.1h0M578.8 45.0h0M580.9 49.5h0M595.8 53.9h0M563.2 54.7h0M567.2 56.3h0M578.7 46.5h0M574.4 54.5h0M578.6 54.9h0M562.6 53.9h0M571.4 49.4h0M578.1 53.7h0M580.1 52.3h0M570.9 54.1h0M594.6 55.8h0M568.0 56.3h0M571.2 50.8h0M577.0 53.8h0M582.2 52.2h0M569.2 51.6h0M581.9 52.9h0M585.2 52.4h0M590.1 53.1h0M564.1 52.3h0M577.2 53.0h0M579.7 57.5h0M566.3 54.1h0M590.9 51.2h0M559.1 54.8h0M574.7 54.7h0M569.4 54.3h0M579.1 51.4h0M577.9 47.4h0M569.3 52.6h0M573.4 51.5h0M592.1 53.8h0M569.7 54.1h0M588.4 52.9h0M584.5 54.9h0M562.2 49.5h0M570.1 48.8h0M568.6 49.5h0M573.3 55.2h0M557.2 50.2h0M573.6 53.7h0M569.1 54.7h0M569.5 55.9h0M570.6 52.2h0M566.9 51.3h0M588.7 54.3h0M579.1 50.5h0M576.2 51.0h0M560.8 56.3h0M581.7 55.3h0M570.6 56.1h0M573.3 57.7h0M564.3 54.0h0M554.2 56.0h0M565.5 54.0h0M571.3 52.9h0M567.6 54.4h0M553.5 60.7h0M564.7 55.3h0M584.0 54.2h0M565.5 54.6h0M564.1 54.3h0M592.6 52.5h0M590.3 55.4h0M561.3 52.6h0M564.4 53.3h0M578.2 50.8h0M571.0 50.9h0M566.8 53.9h0M560.6 53.8h0M566.2 56.5h0M575.4 55.6h0M587.6 50.7h0M575.8 50.4h0M580.6 53.8h0M574.7 51.4h0M575.1 52.2h0M577.9 50.5h0M567.6 52.2h0M592.4 54.3h0M558.0 58.3h0M565.9 59.1h0M578.3 51.6h0M577.8 55.8h0M573.9 54.2h0M595.3 54.3h0M585.7 51.4h0M573.9 53.4h0M581.6 52.4h0M575.9 50.2h0M583.1 55.4h0M571.4 50.7h0M564.4 59.2h0M572.0 51.3h0M575.8 53.8h0M572.8 50.1h0M576.1 53.1h0M576.2 53.4h0M571.5 54.0h0M579.8 57.8h0M582.1 52.0h0M577.1 54.8h0M568.9 51.5h0M576.9 55.0h0M584.8 51.6h0M561.4 57.9h0M578.8 53.4h0M572.4 51.9h0M565.1 68.7h0M556.7 54.8h0M561.0 56.0h0M575.2 54.5h0M580.5 50.9h0M586.3 53.3h0M562.1 51.9h0M579.7 50.0h0M578.3 52.1h0M575.3 53.5h0M572.2 52.6h0M575.5 51.1h0M573.9 52.3h0M559.5 56.0h0M553.0 52.8h0M578.8 53.2h0M568.2 57.2h0M580.8 52.3h0M581.8 50.9h0M561.4 52.8h0M583.0 49.8h0M572.3 49.5h0M575.4 55.0h0M581.5 54.0h0M573.5 56.5h0M568.5 51.5h0M571.0 55.2h0M581.7 53.9h0M576.6 58.6h0M563.4 51.7h0M564.5 52.9h0M560.1 53.5h0M577.5 56.3h0M566.7 53.9h0M582.2 50.7h0M566.7 54.3h0M578.4 55.6h0M571.3 54.2h0M582.4 55.3h0M558.3 53.5h0M563.5 50.5h0M574.7 51.3h0M579.9 54.2h0M569.1 56.7h0M594.2 58.5h0M574.2 51.4h0M575.5 50.2h0M574.8 53.9h0M572.0 60.0h0M574.8 56.8h0M548.1 52.5h0M570.7 53.6h0M573.9 54.6h0M571.0 52.0h0M567.2 53.1h0M586.0 50.6h0M570.0 50.3h0M568.8 52.1h0M559.7 54.5h0M586.4 52.0h0M556.8 53.5h0M574.7 53.3h0M582.6 53.2h0M571.2 51.2h0M559.6 53.2h0M578.3 49.0h0M573.1 53.9h0M573.6 52.9h0M568.9 53.2h0M569.1 49.8h0M562.6 50.6h0M571.7 49.8h0M579.5 55.2h0M563.6 55.0h0M573.6 50.7h0M569.3 56.0h0M564.7 53.7h0M585.8 54.0h0M572.3 52.1h0M561.7 53.4h0M581.1 50.1h0M570.1 57.6h0M561.5 54.7h0M571.2 55.4h0M574.7 58.5h0M582.7 51.7h0M570.2 55.2h0M574.2 50.5h0M577.4 50.5h0M579.1 49.5h0M574.2 55.8h0M569.5 53.3h0M572.1 56.4h0M577.5 53.1h0M564.7 54.0h0M581.4 51.0h0M571.3 52.0h0M580.7 54.3h0M561.3 52.6h0M569.8 57.3h0M577.6 48.5h0M595.7 55.5h0M571.0 55.0h0M562.1 51.9h0M565.8 54.7h0M572.3 53.2h0M581.5 49.5h0M566.0 55.8h0M567.1 54.2h0M585.4 52.6h0M585.3 52.7h0M567.3 54.3h0M572.6 55.4h0M551.6 53.1h0M561.2 55.5h0M567.4 51.5h0M571.8 56.4h0M577.6 56.0h0M570.8 52.4h0M587.8 50.8h0M567.4 49.1h0M565.7 52.1h0M571.9 48.3h0" stroke="#1808f0"/><path d="M590.3 51.0h0M587.5 51.0h0M589.0 49.3h0M577.7 47.8h0M595.4 52.8h0M580.4 46.6h0M577.0 48.6h0M581.3 46.7h0M595.4 52.7h0M568.2 50.0h0M592.8 46.9h0M568.4 50.9h0M584.9 46.2h0M585.7 50.3h0M591.4 52.2h0M577.0 49.0h0M566.6 49.9h0M578.9 49.9h0M578.0 47.3h0M588.1 47.7h0M574.2 50.0h0M577.8 45.4h0M588.1 50.4h0M583.8 45.1h0M601.4 54.0h0M586.4 44.0h0M569.8 48.3h0M570.5 49.5h0M588.7 48.1h0M570.5 48.8h0M580.4 49.0h0M573.8 48.7h0M595.1 52.6h0M584.5 50.2h0M587.3 49.9h0M588.2 47.2h0M589.2 47.9h0M592.8 52.3h0M591.0 47.9h0M581.7 48.9h0M582.9 46.8h0M575.1 50.4h0M578.5 50.4h0M574.0 45.1h0M586.5 48.3h0M575.6 46.8h0M590.5 50.0h0M588.6 50.9h0M580.3 49.1h0M564.8 49.7h0M592.3 51.2h0M576.7 49.5h0M588.5 51.2h0M572.9 47.1h0M578.8 49.4h0M573.5 47.6h0M572.4 49.4h0M587.0 51.2h0M559.0 51.6h0M589.8 47.7h0M586.6 46.4h0M582.5 48.5h0M565.2 48.4h0M575.1 48.7h0M566.5 50.1h0M581.8 47.3h0M594.0 53.8h0M588.5 48.6h0M571.0 52.2h0M586.9 51.3h0M565.8 50.0h0M581.9 49.2h0M563.6 49.2h0M582.7 48.5h0M581.5 49.1h0M590.5 49.8h0M566.3 44.1h0M592.1 48.2h0M591.5 51.8h0M582.8 47.7h0M585.4 43.5h0M568.8 51.3h0M571.8 50.4h0M594.5 47.9h0M575.3 47.1h0M588.2 48.6h0M566.9 50.1h0M593.9 55.2h0M588.3 48.6h0M582.3 47.0h0M567.9 48.0h0M579.2 48.9h0M572.3 49.9h0M573.6 49.9h0M575.4 48.7h0M563.7 47.2h0M571.4 50.6h0M562.6 45.9h0M585.9 46.5h0M578.1 50.5h0M578.7 45.5h0M593.3 49.0h0M581.8 47.1h0M580.7 45.3h0M569.3 49.4h0M583.5 49.6h0M570.8 49.9h0M571.6 49.1h0" stroke="#3040f0"/><path d="M587.7 46.1h0M575.1 47.1h0M592.2 50.0h0M570.0 48.1h0M584.3 45.0h0M594.7 49.8h0M580.3 47.6h0M587.6 46.2h0M586.3 47.0h0M575.7 48.0h0M586.9 45.3h0M579.7 46.5h0M581.4 46.3h0M598.1 48.2h0M581.1 46.1h0M580.8 46.2h0M564.8 48.0h0M586.1 45.1h0M585.2 45.7h0M587.9 47.3h0M590.5 49.4h0M585.5 44.9h0M591.1 46.6h0M582.8 47.9h0M589.7 48.5h0M593.1 49.5h0M584.4 46.7h0M556.7 46.7h0M593.4 49.0h0M579.8 47.8h0M573.2 46.1h0M581.6 48.5h0M574.7 46.8h0M576.1 49.1h0M581.8 46.6h0M587.8 49.4h0M579.2 47.4h0M578.7 47.4h0M578.9 46.6h0M584.4 45.5h0M576.5 44.7h0M568.7 45.3h0M592.6 49.2h0M568.9 45.6h0M574.4 47.7h0M566.2 45.8h0M586.5 44.8h0M566.7 47.1h0M570.0 48.0h0M596.8 50.8h0M589.4 47.8h0M588.2 47.0h0M595.0 48.3h0M554.2 48.7h0M572.1 47.7h0M570.8 46.6h0" stroke="#4070f8"/><path d="M584.0 45.7h0M588.7 44.2h0M594.0 48.7h0M569.4 46.3h0M589.4 46.3h0M593.4 45.1h0M594.7 50.2h0M590.4 43.4h0M585.4 46.2h0M586.4 44.5h0M578.9 45.0h0M558.2 46.6h0M597.5 49.6h0M578.4 46.3h0M574.1 44.5h0M571.0 46.7h0M582.8 42.9h0M585.4 45.1h0M587.5 42.9h0M590.0 47.1h0M586.5 44.4h0M590.3 44.7h0M569.1 44.5h0M558.8 44.4h0M589.7 47.5h0M587.1 45.8h0M561.1 46.2h0M588.3 46.8h0M571.7 46.2h0M591.1 46.5h0M573.3 45.5h0M592.4 47.5h0M587.6 44.9h0M583.6 45.9h0M585.6 42.9h0M583.2 46.0h0" stroke="#4890f8"/><path d="M592.9 44.0h0M596.7 44.5h0M589.8 43.2h0M596.5 46.1h0M592.2 45.8h0M581.3 44.1h0M596.8 48.0h0M589.7 43.3h0M591.2 45.0h0M596.3 49.0h0M596.2 46.2h0M597.8 47.2h0M569.3 45.3h0M583.4 45.1h0M578.7 45.3h0M587.2 45.1h0M586.1 43.0h0M584.8 42.2h0M585.0 43.6h0M589.8 43.5h0M585.7 45.1h0M585.0 43.4h0M590.2 43.7h0M584.8 43.0h0M585.2 44.5h0M580.3 43.0h0M571.9 44.9h0M582.4 45.5h0M583.2 44.7h0M584.4 42.4h0M587.5 44.4h0M592.0 46.8h0M585.8 44.5h0M580.8 44.4h0" stroke="#50a8f8"/><path d="M589.9 42.3h0M596.2 48.0h0M591.8 43.9h0M589.8 44.1h0M593.7 45.3h0M600.2 46.2h0M576.9 43.4h0M586.3 43.5h0M591.7 45.3h0M586.9 44.6h0M587.3 41.3h0M590.0 45.1h0M572.8 42.3h0M588.8 44.2h0M591.4 45.4h0M584.0 42.1h0M582.5 43.0h0M587.6 42.1h0M591.2 44.3h0M582.5 43.4h0M578.6 43.3h0M595.5 46.6h0M586.4 42.9h0M588.2 43.9h0M594.3 47.6h0M579.5 43.1h0M589.7 42.2h0M588.1 44.6h0M587.6 42.8h0M591.6 43.9h0M596.1 46.3h0M578.3 41.2h0M600.6 50.5h0M583.3 43.3h0M577.6 44.3h0" stroke="#58c8f8"/><path d="M597.3 44.3h0M594.7 47.2h0M590.6 43.0h0M578.7 42.7h0M592.0 43.4h0M586.9 42.2h0M568.1 43.4h0M583.1 41.7h0M584.5 43.2h0M588.4 42.8h0M586.8 44.0h0M590.6 44.5h0M592.8 43.8h0M588.8 42.7h0M602.6 48.1h0M596.9 44.5h0M586.5 44.1h0M589.6 42.4h0M589.9 41.7h0M589.6 42.4h0M589.9 43.4h0M567.9 41.3h0M579.4 42.5h0M585.3 41.2h0M592.5 44.7h0M587.2 40.8h0M560.2 41.3h0M600.3 45.5h0" stroke="#68e8f8"/><path d="M597.9 46.6h0M568.3 43.2h0M598.1 45.2h0M569.2 40.2h0M594.5 42.7h0M588.0 42.3h0M587.9 42.4h0M594.0 43.9h0M590.5 42.9h0M601.0 46.3h0M581.0 41.5h0M588.8 43.3h0M592.0 43.1h0M589.8 42.0h0M586.7 42.9h0M585.7 41.9h0M576.9 40.6h0M588.4 42.9h0M587.1 41.0h0M585.3 40.3h0M582.5 43.2h0M598.7 45.0h0M576.4 41.3h0M600.3 46.1h0M587.3 41.1h0M593.8 44.9h0" stroke="#70f8f0"/><path d="M592.9 42.2h0M594.5 42.9h0M594.0 43.4h0M587.7 40.4h0M591.4 41.9h0M603.2 47.2h0M599.7 44.1h0M594.4 42.8h0M594.5 42.1h0M597.9 43.7h0M590.4 40.3h0M591.7 42.0h0M566.8 41.3h0M594.5 41.6h0M595.1 43.1h0M596.5 43.3h0M591.4 41.6h0M596.3 42.4h0M594.3 43.8h0M581.6 38.5h0M600.0 45.2h0M589.4 41.2h0M594.8 42.1h0M599.2 44.5h0M592.9 41.4h0M597.5 44.7h0M596.6 42.4h0M607.1 45.2h0" stroke="#70f8e0"/><path d="M591.2 39.9h0M585.7 40.7h0M589.3 39.1h0M585.5 39.7h0M589.3 41.1h0M602.6 44.6h0M595.8 42.0h0M597.1 43.6h0M592.3 40.3h0M588.4 40.1h0M594.4 42.0h0M591.8 39.6h0M591.4 39.9h0M595.3 42.2h0M588.7 39.6h0M590.9 41.1h0M588.6 40.1h0M595.5 42.0h0" stroke="#70f8c8"/><path d="M592.7 40.9h0M598.0 43.7h0M587.9 40.3h0M597.0 42.2h0M587.0 39.1h0M588.2 40.3h0M578.7 40.1h0M595.8 41.0h0M602.1 42.8h0M586.8 39.5h0M594.1 41.8h0M590.6 40.2h0M595.5 42.2h0M604.4 42.2h0M596.6 40.7h0M587.6 40.7h0M589.0 40.6h0M599.2 43.2h0M596.0 42.0h0" stroke="#68f8b0"/><path d="M592.3 40.7h0M588.8 39.4h0M591.0 39.0h0M593.5 40.5h0M600.0 42.3h0M596.5 41.1h0M598.4 43.0h0M602.0 42.4h0M599.2 43.5h0M603.2 44.9h0M596.8 40.9h0M590.9 38.5h0M596.3 42.9h0M597.0 42.6h0M592.4 39.0h0" stroke="#60f8a0"/><path d="M589.6 37.6h0M599.6 40.4h0M592.0 39.5h0M588.2 37.8h0M582.5 39.1h0M601.3 42.1h0M595.3 39.7h0M607.6 44.1h0M607.7 44.2h0" stroke="#58f880"/><path d="M597.7 40.8h0M596.2 40.7h0M593.8 39.3h0M600.4 42.2h0M599.2 40.5h0M602.4 42.2h0M594.5 39.5h0M590.9 38.1h0M607.2 43.5h0M592.0 38.7h0M591.6 38.6h0M597.0 40.0h0M589.2 38.3h0M595.4 39.6h0M594.0 39.1h0M589.3 37.7h0M601.5 41.9h0M605.3 42.9h0M603.8 41.8h0M593.7 36.1h0M601.1 41.1h0" stroke="#50f860"/><path d="M593.9 37.3h0M601.7 41.7h0M609.6 46.9h0M590.3 37.6h0M599.5 41.0h0M593.1 36.7h0M588.7 36.4h0M604.2 40.7h0M593.5 38.4h0M596.8 39.1h0M595.2 39.3h0M589.3 37.1h0M593.2 38.4h0M597.5 38.5h0M589.6 36.5h0M599.3 39.4h0M600.9 38.6h0M598.9 39.4h0M609.9 41.1h0" stroke="#40f840"/><path d="M597.0 39.0h0M603.3 41.0h0M602.6 40.3h0M604.5 41.4h0M597.4 37.3h0M596.1 37.7h0M607.5 41.8h0M597.7 38.6h0M591.9 38.2h0M596.1 37.2h0M589.5 37.4h0M599.5 40.4h0M593.4 38.1h0M615.7 37.6h0" stroke="#30f820"/><path d="M599.0 38.3h0M598.2 37.5h0M598.9 38.8h0M590.8 35.8h0M598.1 38.6h0M603.4 40.7h0M600.8 39.9h0M602.5 41.1h0M599.3 38.0h0M604.0 40.9h0M595.1 37.1h0M589.3 35.3h0M602.7 38.8h0M605.4 41.9h0M594.9 37.4h0M600.9 40.9h0M617.5 36.3h0M611.0 39.5h0" stroke="#38f818"/><path d="M602.9 38.9h0M594.0 35.2h0M595.3 37.0h0M603.5 40.1h0M605.4 39.0h0M600.0 38.7h0M601.6 39.9h0M597.7 37.9h0M594.1 37.1h0M601.2 38.2h0M595.7 37.4h0M604.3 38.2h0M596.8 36.4h0M597.3 37.9h0M597.6 37.9h0M596.6 37.7h0M600.6 37.0h0M604.8 38.0h0M618.7 34.6h0M614.1 32.2h0M611.9 38.5h0" stroke="#48f818"/><path d="M602.1 37.9h0M597.6 37.5h0M593.5 36.4h0M603.4 37.5h0M595.5 36.0h0M605.6 39.3h0M605.9 39.9h0M606.9 39.0h0M594.8 35.1h0M604.0 39.9h0M599.2 39.3h0M602.7 39.0h0M596.5 37.0h0M604.1 39.3h0M586.5 33.3h0M602.8 36.5h0M598.5 36.8h0M616.5 32.3h0M618.4 35.3h0" stroke="#60f018"/><path d="M601.7 36.8h0M597.0 35.0h0M601.0 35.8h0M601.7 37.5h0M599.1 37.1h0M595.2 34.8h0M599.6 36.1h0M601.2 36.6h0M604.9 38.9h0M598.5 35.2h0M598.2 35.4h0M600.8 38.4h0M606.0 39.2h0M604.4 38.4h0M606.3 39.0h0M598.3 35.1h0M596.2 35.3h0M598.0 37.1h0M596.8 36.0h0" stroke="#88f020"/><path d="M594.3 33.4h0M602.0 36.9h0M608.4 37.9h0M609.0 38.9h0M605.4 38.8h0M601.1 35.0h0M601.0 36.0h0M599.1 35.8h0M604.8 38.2h0M599.2 35.2h0M608.4 38.5h0M608.8 44.2h0" stroke="#a8f028"/><path d="M608.1 37.2h0M610.5 37.8h0M609.3 38.1h0M604.6 36.4h0M597.8 34.1h0M609.6 37.9h0M604.1 36.2h0M603.7 36.6h0M610.4 39.1h0M599.6 33.8h0M607.0 38.4h0M604.5 37.0h0M597.7 35.1h0M606.0 36.5h0M600.4 35.6h0M599.7 36.0h0M604.3 37.6h0M622.0 32.5h0M619.8 32.9h0M608.0 42.7h0" stroke="#c8f030"/><path d="M610.6 36.9h0M599.5 35.4h0M607.1 37.3h0M597.9 33.8h0M608.5 37.9h0M597.0 33.5h0M596.8 33.8h0M601.8 36.0h0M609.6 37.3h0M605.4 35.3h0M598.3 35.5h0M610.7 38.8h0M599.8 37.6h0M602.9 36.3h0M598.3 34.6h0M598.8 35.5h0M605.0 36.2h0M603.5 35.4h0M606.5 36.6h0M604.6 34.8h0M620.8 31.5h0" stroke="#f0f838"/><path d="M607.4 36.2h0M599.3 34.4h0M608.4 36.0h0M605.2 35.9h0M599.1 33.5h0M602.0 33.9h0M604.6 35.2h0M603.7 34.1h0M608.8 37.4h0M602.1 33.2h0M604.0 35.9h0M602.6 34.2h0M602.7 34.6h0M619.3 31.1h0" stroke="#f0e040"/><path d="M599.8 33.3h0M602.0 34.2h0M604.7 34.7h0M607.1 35.8h0M603.9 34.7h0M608.9 35.1h0M607.9 36.4h0M604.5 33.3h0M602.3 35.0h0M608.9 34.8h0M604.2 33.7h0M606.3 35.1h0M603.7 35.2h0M600.9 33.5h0" stroke="#e8c038"/><path d="M605.0 33.5h0M608.2 34.8h0M607.9 33.4h0M609.8 34.3h0M610.4 36.5h0M608.3 33.1h0M606.7 35.0h0M607.9 34.2h0M604.9 33.4h0M602.1 33.3h0M610.1 36.2h0M601.1 33.5h0" stroke="#f0a030"/><path d="M603.1 33.4h0M606.5 33.2h0M604.0 35.3h0M612.0 35.7h0M607.5 33.2h0" stroke="#f08a28"/><path d="M601.8 32.0h0M600.5 31.7h0M599.3 31.9h0M608.8 33.9h0M608.9 31.7h0M607.2 31.4h0" stroke="#f06a20"/><path d="M603.4 31.3h0M608.2 31.3h0M598.8 31.1h0M604.8 31.5h0M610.5 33.0h0M609.6 31.9h0M607.1 31.9h0M601.5 31.7h0M606.6 32.0h0M603.1 31.3h0M593.3 31.4h0M593.4 31.6h0" stroke="#f04c18"/><path d="M592.1 32.1h0M594.1 32.1h0M605.2 31.7h0M604.8 32.2h0M607.7 31.4h0M613.5 32.2h0M591.8 31.3h0M582.6 32.3h0M584.1 31.4h0M588.1 31.8h0M589.8 31.4h0M596.8 31.5h0M619.5 31.3h0M625.8 32.0h0M621.0 31.9h0M624.7 31.9h0M622.3 31.8h0M612.7 37.5h0" stroke="#f0300e"/><path d="M608.5 31.9h0M596.2 31.4h0M602.6 31.6h0M599.1 32.0h0M599.7 31.4h0M604.4 31.8h0M610.8 32.1h0M588.8 31.8h0M600.8 31.5h0M620.9 31.4h0M623.6 31.2h0M627.1 32.0h0" stroke="#e8200c"/></g>
<line x1="546.7" y1="72.3" x2="627.2" y2="20.7" stroke="#ff1010" stroke-width="1.2"/>
<line x1="516.3" y1="95.4" x2="632.8" y2="12.5" stroke="#555" stroke-width="0.75" stroke-dasharray="1 0.9"/>
<rect x="515.5" y="12.5" width="117.3" height="82.9" fill="none" stroke="#111" stroke-width="1.2"/>
<path d="M515.6 95.4v1.0M519.8 95.4v1.0M515.5 92.9h-1.0M523.1 95.4v1.0M515.5 90.5h-1.0M525.8 95.4v1.0M515.5 88.6h-1.0M528.1 95.4v1.0M515.5 87.0h-1.0M530.1 95.4v1.0M515.5 85.6h-1.0M531.8 95.4v1.0M515.5 84.3h-1.0M533.4 95.4v1.8M515.5 83.2h-1.8M543.7 95.4v1.0M515.5 75.9h-1.0M549.7 95.4v1.0M515.5 71.6h-1.0M553.9 95.4v1.0M515.5 68.6h-1.0M557.2 95.4v1.0M515.5 66.2h-1.0M559.9 95.4v1.0M515.5 64.3h-1.0M562.2 95.4v1.0M515.5 62.7h-1.0M564.2 95.4v1.0M515.5 61.3h-1.0M565.9 95.4v1.0M515.5 60.1h-1.0M567.5 95.4v1.8M515.5 58.9h-1.8M577.8 95.4v1.0M515.5 51.6h-1.0M583.8 95.4v1.0M515.5 47.4h-1.0M588.0 95.4v1.0M515.5 44.3h-1.0M591.3 95.4v1.0M515.5 42.0h-1.0M594.0 95.4v1.0M515.5 40.1h-1.0M596.3 95.4v1.0M515.5 38.4h-1.0M598.3 95.4v1.0M515.5 37.0h-1.0M600.0 95.4v1.0M515.5 35.8h-1.0M601.6 95.4v1.8M515.5 34.7h-1.8M611.9 95.4v1.0M515.5 27.4h-1.0M617.9 95.4v1.0M515.5 23.1h-1.0M622.1 95.4v1.0M515.5 20.1h-1.0M625.4 95.4v1.0M515.5 17.7h-1.0M628.1 95.4v1.0M515.5 15.8h-1.0M630.4 95.4v1.0M515.5 14.2h-1.0M632.4 95.4v1.0M515.5 12.8h-1.0" stroke="#111" stroke-width="0.8" fill="none"/>
<text x="527.6" y="106.9" font-size="9.6" fill="#222">10<tspan font-size="6.8" dy="-4.4">5</tspan></text>
<text x="500.6" y="86.7" font-size="9.6" fill="#222">10<tspan font-size="6.8" dy="-4.4">5</tspan></text>
<text x="561.7" y="106.9" font-size="9.6" fill="#222">10<tspan font-size="6.8" dy="-4.4">6</tspan></text>
<text x="500.6" y="62.4" font-size="9.6" fill="#222">10<tspan font-size="6.8" dy="-4.4">6</tspan></text>
<text x="595.8" y="106.9" font-size="9.6" fill="#222">10<tspan font-size="6.8" dy="-4.4">7</tspan></text>
<text x="500.6" y="38.2" font-size="9.6" fill="#222">10<tspan font-size="6.8" dy="-4.4">7</tspan></text>
<text transform="translate(497.1,54.6) rotate(-90)" text-anchor="middle" font-size="11.4" fill="#222">Estimation</text>
<text x="573.4" y="6.9" text-anchor="middle" font-size="9.5" font-weight="bold" fill="#111">D<tspan font-size="6.8" dy="2.4">NL1-PM</tspan></text>
<text x="518.7" y="22.0" font-size="9.5" fill="#222">R=0.87</text>
<text x="518.7" y="34.5" font-size="9.5" fill="#222">RE=0.40</text>
<text x="574.6" y="78.9" font-size="9.4" fill="#f00">Slope=0.90</text>
<text x="574.6" y="90.2" font-size="9.4" fill="#f00">Intercept=0.60</text>
<text x="534.8" y="93.5" font-size="9.5" fill="#222" clip-path="url(#cp03)">1:1</text>
<clipPath id="cp10"><rect x="26.5" y="125.5" width="117.3" height="82.9"/></clipPath>
<g stroke-width="1.8" stroke-linecap="square" fill="none"><path d="M80.8 174.7h0M72.1 177.5h0M78.9 171.6h0M79.7 170.6h0M71.3 177.1h0M78.6 185.6h0M85.4 183.4h0M70.5 170.4h0M78.9 175.2h0M95.1 173.6h0M76.2 174.0h0M82.5 178.1h0M85.4 178.1h0M75.1 186.8h0M77.4 177.0h0M82.4 177.1h0M88.0 180.9h0M78.5 179.5h0M82.1 178.2h0M83.9 171.8h0M75.1 182.2h0M73.0 185.1h0M92.9 172.6h0M75.9 187.0h0M84.0 178.7h0M80.1 177.6h0M83.7 172.3h0M84.9 174.3h0M77.6 180.8h0M76.7 179.0h0M84.4 175.2h0M77.4 184.5h0M69.3 190.5h0M78.2 180.0h0M72.9 186.7h0M80.7 176.5h0M92.3 169.4h0M77.5 178.2h0M85.7 171.1h0M74.0 190.7h0M72.7 181.0h0M70.3 179.2h0M78.9 182.0h0M81.5 175.3h0M71.7 181.7h0M72.7 175.4h0M77.5 172.4h0M75.2 182.3h0M78.3 181.8h0M81.8 178.0h0M78.1 183.4h0M72.7 178.2h0M89.4 176.9h0M74.4 175.7h0M83.5 174.7h0M73.8 177.6h0M77.9 179.7h0M77.6 181.5h0M76.2 186.6h0M84.4 169.5h0M85.2 175.8h0M77.4 177.6h0M82.4 182.4h0M66.3 181.5h0M85.0 176.9h0M83.2 180.0h0M81.9 178.7h0M81.5 177.1h0M86.3 173.3h0M72.9 167.0h0M77.8 171.7h0M74.6 187.9h0M82.7 176.5h0M77.8 183.3h0M86.4 172.4h0M76.2 176.9h0M78.5 185.6h0M80.7 180.5h0M78.8 175.4h0M70.4 176.2h0M70.9 181.1h0M80.1 182.8h0M83.2 174.1h0M84.6 180.9h0M98.4 176.0h0M89.8 175.0h0M73.4 173.5h0M80.5 175.5h0M79.0 180.6h0M65.7 175.5h0M76.6 174.1h0M90.1 173.1h0M78.6 179.0h0M78.6 169.8h0M81.2 174.3h0M76.8 189.9h0M75.6 184.6h0M81.7 171.5h0M80.1 180.3h0M81.0 170.9h0M77.0 179.9h0M80.4 180.2h0M83.9 171.8h0M81.4 177.1h0M88.0 180.0h0M74.6 188.1h0M80.4 178.2h0M80.4 178.4h0M86.6 172.3h0M82.0 171.1h0M75.4 182.6h0M80.8 176.5h0M70.2 191.3h0M77.0 178.7h0M84.4 174.3h0M84.0 184.5h0M76.7 173.4h0M86.4 180.2h0M73.6 180.2h0M71.6 179.7h0M92.3 174.6h0M71.8 177.3h0M78.1 181.7h0M74.0 182.8h0M76.5 188.5h0M75.8 181.5h0M73.5 183.0h0M71.6 189.9h0M83.0 183.6h0M80.3 174.7h0M79.6 184.7h0M79.4 176.2h0M72.8 181.0h0M78.3 171.3h0M73.7 189.3h0M85.3 170.7h0M76.8 174.3h0M66.4 197.0h0M68.4 186.9h0M88.9 179.1h0M76.3 186.3h0M70.2 181.6h0M79.1 174.5h0M80.1 176.3h0M73.4 185.1h0M76.7 178.4h0M81.0 175.4h0M68.2 194.1h0M75.6 175.1h0M77.4 173.0h0M72.8 177.0h0M73.7 186.8h0M64.7 192.6h0M73.7 181.8h0M77.2 170.9h0M70.9 194.5h0M91.5 173.6h0M75.2 183.9h0M76.6 184.6h0M78.1 175.1h0M75.9 185.5h0M76.7 180.0h0M78.8 177.5h0M78.1 175.5h0M94.6 176.2h0M65.9 189.1h0M80.8 171.1h0M68.5 176.3h0M73.5 177.2h0M72.4 190.3h0M76.4 187.9h0M78.3 178.5h0M77.1 188.8h0M74.0 195.0h0M77.7 175.9h0M74.8 190.8h0M80.0 176.6h0M72.9 191.2h0M78.7 185.5h0M75.4 176.6h0M86.2 176.9h0M79.6 176.7h0M76.3 174.2h0M76.3 178.4h0M78.2 182.4h0M75.3 183.5h0M71.7 182.4h0M93.9 173.5h0M74.3 175.8h0M73.9 172.2h0M82.3 174.2h0M76.8 184.7h0M77.1 171.0h0M86.8 176.5h0M68.3 174.0h0M78.2 179.4h0M99.6 175.3h0M68.6 176.2h0M81.6 175.3h0M95.8 171.7h0M77.1 172.4h0M84.7 176.9h0M78.8 183.8h0M77.3 182.6h0M85.3 179.2h0M73.0 172.2h0M91.2 181.7h0M90.0 178.5h0M71.7 179.9h0M75.9 184.0h0M85.4 172.0h0M78.8 174.1h0M78.7 172.7h0M78.0 177.3h0M74.2 181.2h0M75.9 177.0h0M94.2 166.7h0M74.5 185.8h0M76.5 180.8h0M79.1 175.7h0M73.1 184.9h0M76.7 174.5h0M71.8 179.8h0M71.4 192.9h0M74.3 180.1h0M74.4 184.4h0M70.5 189.1h0M78.1 182.2h0M81.6 172.2h0M79.8 176.2h0M90.5 173.7h0M71.5 179.6h0M81.8 175.3h0M77.0 180.6h0M85.2 169.4h0M84.9 168.8h0M75.4 184.7h0M81.8 187.7h0M78.7 177.3h0M68.9 174.0h0M75.6 181.2h0M71.1 185.2h0M65.9 184.8h0M81.1 178.1h0M81.5 170.4h0M80.2 175.0h0M66.4 190.8h0M68.8 176.8h0M100.1 172.7h0M78.1 175.2h0M89.7 171.5h0M80.2 179.5h0M73.5 174.7h0M74.8 191.2h0M87.1 179.6h0M78.2 174.1h0M73.4 179.9h0M76.1 184.0h0M81.5 177.7h0M74.6 184.6h0M81.3 178.0h0M75.0 179.7h0M94.5 171.0h0M81.0 173.6h0M82.5 181.5h0M82.9 178.4h0M82.0 172.6h0M73.2 178.8h0M78.8 177.3h0M71.9 182.9h0M83.9 175.9h0M80.1 179.0h0M70.8 183.7h0M83.9 174.1h0M80.8 177.0h0M82.2 172.8h0M91.4 170.0h0M88.0 174.2h0M83.0 180.7h0M77.3 180.6h0M78.6 178.1h0M91.5 178.7h0M77.8 177.1h0M76.2 183.9h0M87.0 175.6h0M73.7 179.1h0M73.4 187.8h0M75.4 179.9h0M81.1 177.3h0M81.4 172.0h0M77.4 181.5h0M76.5 183.0h0M75.4 189.0h0M75.7 188.6h0M74.5 189.5h0M79.6 183.0h0M86.9 170.2h0M75.9 182.4h0M81.4 171.9h0M81.7 173.3h0M75.8 178.2h0M81.3 188.1h0M76.8 175.2h0M89.2 175.3h0M78.1 179.0h0M84.2 175.1h0M77.4 174.3h0M86.5 176.2h0M79.1 177.5h0M79.9 181.0h0M80.6 180.2h0M78.7 170.9h0M82.3 178.7h0M73.2 182.7h0M85.3 176.3h0M79.6 179.6h0M86.9 177.0h0M66.3 175.5h0M78.2 182.5h0M76.4 182.7h0M69.2 191.4h0M86.3 176.1h0M78.5 180.7h0M73.2 192.5h0M87.6 173.0h0M77.0 174.0h0M75.6 184.6h0M68.6 173.3h0M73.8 175.4h0M70.0 179.1h0M79.0 176.3h0M69.2 194.3h0M92.2 180.9h0M86.9 170.7h0M73.7 179.9h0M75.4 171.6h0M76.4 189.7h0M77.8 173.1h0M76.1 175.4h0M74.4 197.3h0M82.1 172.9h0M66.8 181.8h0M74.1 184.7h0M66.8 179.2h0M80.0 173.2h0M78.1 177.6h0M93.3 173.9h0M76.4 176.8h0M85.1 176.2h0M76.8 182.0h0M74.2 186.5h0M89.6 169.9h0M82.9 175.8h0M98.2 178.5h0M93.7 177.9h0M75.1 172.5h0M72.7 178.6h0M76.5 181.0h0M83.0 182.8h0M75.0 174.2h0M72.6 179.2h0M79.0 179.3h0M76.0 181.6h0M89.1 182.5h0M68.6 194.0h0M69.7 189.3h0M75.7 189.0h0M69.0 173.0h0M71.9 177.0h0M74.7 169.2h0M77.4 171.3h0M73.6 179.7h0M84.2 172.0h0M72.5 181.9h0M68.8 182.3h0M74.3 174.1h0M72.9 186.6h0M75.9 175.2h0M77.4 180.1h0M88.5 177.8h0M81.3 171.5h0M74.9 185.5h0M87.4 170.4h0M73.3 181.4h0M79.2 176.8h0M73.6 195.8h0M77.7 179.0h0M87.3 172.1h0M75.7 172.8h0M72.9 184.5h0M78.2 181.2h0M80.5 172.8h0M82.2 185.4h0M79.1 183.2h0M77.1 182.5h0M75.8 181.1h0M90.7 174.3h0M77.1 182.9h0M74.0 185.6h0M73.9 178.4h0M70.6 179.0h0M73.6 179.9h0M75.5 175.4h0M74.8 186.0h0M79.0 178.6h0M70.5 185.0h0M63.7 179.0h0M70.8 195.0h0M84.1 168.3h0M71.3 185.4h0M86.0 175.7h0M72.2 191.8h0M67.4 185.5h0M80.8 177.7h0M77.7 176.4h0M76.3 180.4h0M85.9 171.8h0M79.9 179.1h0M76.2 182.0h0M80.1 175.1h0M68.4 181.7h0M75.3 181.6h0M98.4 173.4h0M74.1 184.5h0M71.4 187.4h0M76.8 182.8h0M81.7 184.9h0M73.7 188.0h0M78.5 190.3h0M71.9 184.9h0M79.5 176.9h0M83.4 175.6h0M76.9 175.8h0M81.3 183.5h0M69.7 181.7h0M71.6 180.5h0M70.9 176.0h0M72.4 187.6h0M84.7 171.0h0M75.6 183.4h0M79.2 179.5h0M75.6 179.5h0M86.9 173.3h0M74.9 191.3h0M85.2 172.1h0M71.6 179.7h0M70.9 185.1h0M80.4 188.7h0M69.6 178.1h0M77.5 176.6h0M81.7 176.0h0M78.6 174.6h0M73.6 182.8h0M73.7 175.3h0M69.0 180.4h0M94.3 177.8h0M68.7 176.0h0M76.6 177.0h0M72.2 182.8h0M72.6 181.4h0M66.0 174.1h0M75.0 178.8h0M79.2 173.8h0M76.3 185.3h0M80.0 176.9h0M85.6 177.2h0M78.6 177.6h0M87.0 173.1h0M67.4 186.7h0M71.8 181.0h0M78.1 174.5h0M84.4 177.5h0M77.4 191.1h0M89.1 183.7h0M87.7 173.9h0M89.1 171.8h0M88.4 173.0h0M74.0 175.3h0M71.5 183.6h0M89.1 172.0h0M70.3 179.8h0M79.7 173.0h0M78.1 176.0h0M85.5 169.7h0M77.6 179.2h0M80.6 181.5h0M83.3 173.8h0M88.1 174.8h0M66.1 181.4h0M81.1 178.5h0M73.3 180.1h0M73.1 180.7h0M73.6 179.0h0M76.6 184.1h0M77.6 179.8h0M73.6 175.0h0M82.1 180.4h0M79.7 184.3h0M75.5 182.3h0M88.2 176.9h0M78.0 176.2h0M88.0 176.1h0M70.2 180.7h0M83.6 180.8h0M88.8 171.6h0M77.4 171.4h0M74.0 190.9h0M67.6 186.7h0M71.1 181.8h0M87.1 171.3h0M75.3 179.8h0M77.3 189.1h0M77.0 173.3h0M75.3 182.0h0M76.8 174.7h0M77.9 185.7h0M78.9 173.1h0M68.3 177.5h0M71.2 178.8h0M80.0 177.6h0M74.8 173.5h0M89.2 175.9h0M75.2 186.6h0M87.1 175.1h0M84.9 180.6h0M95.6 179.3h0M80.6 176.2h0M84.8 170.4h0M70.8 175.1h0M91.0 172.6h0M86.7 184.3h0M79.2 180.4h0M67.8 181.6h0M88.6 174.3h0M79.5 175.3h0M78.9 178.4h0M76.0 188.2h0M75.1 185.6h0M77.4 184.1h0M76.0 185.3h0M72.6 178.6h0M92.1 175.6h0M71.6 180.2h0M74.1 173.6h0M95.9 170.7h0M77.1 187.6h0M69.7 186.3h0M69.4 176.5h0M75.1 176.3h0M81.4 183.9h0M83.6 174.3h0M77.9 182.6h0M82.4 176.5h0M86.1 181.0h0M93.9 167.6h0M74.5 179.9h0M71.0 190.1h0M72.8 181.5h0M86.9 173.2h0M89.5 178.6h0M79.0 179.5h0M72.6 181.2h0M76.0 180.8h0M75.2 181.4h0M81.9 179.0h0M87.6 164.5h0M74.9 177.0h0M75.7 183.3h0M74.5 185.8h0M72.6 173.2h0M83.3 179.3h0M78.9 175.6h0M78.8 178.8h0M92.7 180.4h0M70.5 173.9h0M74.8 185.8h0M95.3 179.0h0M79.6 182.9h0M79.9 178.3h0M77.0 177.1h0M88.1 171.2h0M76.3 186.8h0M75.6 177.1h0M70.4 196.0h0M83.2 180.6h0M65.0 178.8h0M81.3 172.4h0M65.3 191.1h0M89.2 169.6h0M83.8 178.2h0M74.9 176.8h0M71.5 189.5h0M77.3 176.2h0M77.7 179.6h0M79.1 176.6h0M75.9 175.1h0M77.5 177.1h0M73.5 179.7h0M77.1 179.8h0M73.2 178.6h0M69.4 190.4h0M65.0 197.3h0M92.1 178.1h0M66.1 182.7h0M72.2 197.8h0M76.3 172.7h0M73.2 183.5h0M79.6 180.4h0M75.0 176.0h0M78.2 178.4h0M74.1 178.6h0M78.9 171.0h0M91.5 176.0h0M83.8 174.4h0M78.7 173.2h0M80.3 183.6h0M75.8 181.4h0M85.7 177.8h0M99.0 173.8h0M80.6 181.4h0M70.6 186.4h0M70.3 189.2h0M66.3 184.4h0M76.2 171.3h0M94.2 169.3h0M100.1 177.1h0M69.2 193.2h0M78.7 181.8h0M83.2 176.7h0M80.8 178.4h0M87.9 173.3h0M77.9 180.1h0M81.1 181.2h0M74.0 187.4h0M70.0 186.8h0M76.2 181.8h0M64.3 188.2h0M75.8 182.0h0M75.0 175.2h0M81.0 178.1h0M87.5 180.5h0M83.4 178.1h0M70.5 186.9h0M75.2 183.9h0M75.8 194.3h0M83.1 177.6h0M77.1 182.4h0M75.1 176.8h0M81.4 174.9h0M80.5 183.1h0M76.4 182.2h0M70.0 180.5h0M71.9 175.7h0M74.3 180.9h0M94.0 169.3h0M71.3 170.6h0M80.4 184.2h0M73.9 186.0h0M92.4 177.5h0M80.6 175.3h0M78.5 184.8h0M74.0 184.9h0M77.1 175.1h0M80.9 174.8h0M73.9 175.0h0M72.7 194.5h0M78.9 178.2h0M84.0 179.6h0M72.6 184.6h0M80.0 173.9h0M77.9 178.9h0M74.7 176.0h0M68.2 189.1h0M78.5 179.7h0M78.5 185.2h0M76.7 181.2h0M86.7 171.1h0M73.6 190.5h0M70.2 188.9h0M85.3 170.9h0M74.9 179.9h0M74.6 186.6h0M73.4 175.5h0M83.9 173.5h0M73.7 180.7h0M81.9 176.5h0M78.0 178.4h0M77.5 182.2h0M77.5 181.5h0M82.5 175.2h0M74.4 180.6h0M83.9 170.3h0M72.1 188.3h0M84.1 172.6h0M101.7 181.9h0M71.1 186.6h0M81.8 169.6h0M77.0 184.9h0M82.6 172.5h0M73.9 178.3h0M92.4 172.0h0M73.8 181.3h0M84.5 171.7h0M68.2 184.8h0M87.0 172.2h0M83.1 173.7h0M72.4 183.4h0M74.5 183.1h0M92.1 174.6h0M76.6 183.6h0M72.0 192.6h0M81.5 187.0h0M70.5 184.4h0M69.4 182.4h0M80.2 183.7h0M89.0 165.5h0M71.9 181.4h0M83.3 173.1h0M78.6 181.0h0M74.6 183.3h0M76.1 189.7h0M68.7 189.3h0M73.8 185.6h0M82.7 176.6h0M93.9 180.5h0M74.2 174.1h0M77.7 179.9h0M73.8 182.2h0M69.4 190.4h0M80.7 170.5h0M82.5 170.7h0M79.8 175.9h0M76.4 180.3h0M82.6 183.9h0M81.5 173.5h0M77.0 173.2h0M83.7 170.9h0M73.8 189.3h0M76.5 175.0h0M90.8 176.1h0M80.2 182.9h0M70.5 182.7h0M85.1 167.4h0M92.5 171.0h0M98.1 172.8h0M80.6 182.5h0M88.9 174.9h0M85.3 172.7h0M69.8 186.5h0M70.2 196.3h0M78.5 184.1h0M74.1 182.9h0M74.8 183.8h0M74.6 191.1h0M90.9 177.0h0M77.4 178.7h0M83.5 175.0h0M74.0 180.3h0M73.0 188.6h0M68.7 193.5h0M69.3 180.3h0M75.3 175.8h0M70.3 180.5h0M79.6 172.3h0M75.2 190.4h0M86.5 172.2h0M79.6 179.6h0M77.4 180.0h0M85.9 172.0h0M71.0 184.6h0M77.3 183.7h0M76.2 185.2h0M76.4 173.6h0M75.2 191.7h0M83.4 181.1h0M74.1 176.3h0M85.7 175.7h0M85.5 173.6h0M76.8 181.3h0M74.5 171.4h0M78.0 180.9h0M92.6 166.7h0M71.0 182.5h0M73.3 178.3h0M104.5 182.1h0M75.1 182.4h0M85.2 173.0h0M81.7 180.2h0M74.4 173.1h0M81.0 178.0h0M70.2 185.4h0M80.4 189.2h0M75.3 179.6h0M77.3 180.0h0M80.4 178.6h0M76.5 192.1h0M79.8 176.0h0M77.2 178.0h0M72.6 188.9h0M73.8 177.6h0M86.0 178.0h0M72.1 185.4h0M82.2 181.2h0M88.1 179.2h0M76.4 181.5h0M69.2 186.3h0M84.7 182.9h0M80.7 190.4h0M66.0 176.9h0M82.7 185.3h0M84.0 175.6h0M79.4 180.9h0M71.1 183.0h0M72.1 179.6h0M68.9 182.1h0M96.0 174.9h0M89.7 173.7h0M79.3 178.4h0M86.1 183.5h0M75.2 182.8h0M68.6 189.3h0M75.1 181.8h0M79.4 177.6h0M79.9 182.8h0M73.5 177.6h0M68.7 181.5h0M83.0 180.1h0M73.3 179.4h0M79.5 179.6h0M73.5 185.9h0M71.7 172.9h0M72.0 171.5h0M86.9 173.1h0M89.5 175.3h0M77.4 179.9h0M87.0 171.9h0M70.0 192.2h0M78.5 183.2h0M81.6 175.3h0M77.9 186.9h0M82.9 185.4h0M73.5 182.5h0M77.1 177.5h0M79.8 180.9h0M74.4 177.8h0M71.3 185.7h0M77.7 176.3h0M70.5 185.4h0M88.1 172.6h0M86.9 173.1h0M77.9 173.5h0M69.0 182.4h0M81.7 177.8h0M74.1 177.4h0M68.7 189.4h0M83.0 171.9h0M90.2 172.4h0M74.1 187.1h0M82.8 172.5h0M78.1 171.8h0M86.4 175.7h0M73.2 190.0h0M93.3 176.3h0M83.5 180.0h0M94.6 170.1h0M81.2 172.0h0M81.4 183.7h0M82.5 183.5h0M81.9 178.4h0M82.8 173.6h0M80.7 179.7h0M78.4 176.9h0M92.9 170.2h0M73.1 187.0h0M74.3 181.5h0M79.9 171.1h0M77.7 182.0h0M74.9 177.6h0M79.6 183.3h0M75.0 174.5h0M71.7 185.1h0M70.8 176.3h0M68.5 192.5h0M75.2 171.5h0M68.4 188.9h0M70.5 186.5h0M70.6 178.7h0M85.6 174.0h0M92.4 178.0h0M73.8 188.2h0M82.5 178.3h0M84.5 175.4h0M102.6 175.5h0M79.7 178.3h0M85.3 175.0h0M77.7 175.9h0M98.7 175.9h0M68.2 183.1h0M80.3 178.0h0M77.0 179.1h0M81.1 172.7h0M70.1 185.7h0M94.1 167.4h0M65.8 185.9h0M64.6 188.6h0M82.5 173.3h0M77.5 175.3h0M87.4 173.1h0M78.2 181.1h0M80.1 171.9h0M84.3 171.5h0M74.7 173.4h0M75.6 192.4h0M69.5 187.2h0M76.2 183.9h0M78.0 179.5h0M68.5 177.0h0M75.2 187.3h0M78.5 178.7h0M90.8 178.0h0M78.3 178.4h0M80.2 169.4h0M74.7 185.6h0M74.8 180.9h0M63.9 187.9h0M83.8 177.1h0M75.2 183.0h0M70.0 183.1h0M80.2 174.0h0M82.4 173.4h0M76.7 187.3h0M87.8 178.2h0M81.5 177.7h0M89.2 172.8h0M81.8 178.8h0M81.0 174.1h0M80.1 175.1h0M78.1 177.7h0M81.6 176.3h0M74.8 172.0h0M82.1 178.9h0M68.9 194.2h0M67.2 201.5h0M71.3 195.5h0M74.4 197.3h0M77.2 201.1h0M68.9 198.3h0" stroke="#1000f0"/><path d="M95.2 169.2h0M92.0 168.0h0M90.4 171.0h0M73.2 169.3h0M91.2 171.2h0M72.3 174.3h0M100.6 167.2h0M88.8 167.6h0M88.6 169.0h0M76.3 178.1h0M93.9 167.1h0M69.0 170.7h0M87.3 163.8h0M100.0 167.8h0M87.4 170.4h0M81.4 175.2h0M98.6 165.5h0M81.4 171.1h0M86.6 168.0h0M77.5 165.5h0M96.7 169.2h0M83.6 171.1h0M92.6 162.7h0M92.0 163.3h0M106.8 168.7h0M75.6 170.5h0M79.0 172.3h0M89.8 159.7h0M83.1 171.0h0M85.4 169.6h0M98.5 170.5h0M89.6 169.9h0M75.6 170.0h0M83.1 164.0h0M89.1 168.5h0M82.3 169.4h0M105.6 171.1h0M79.4 172.3h0M82.9 165.7h0M88.0 168.6h0M93.2 166.6h0M82.6 169.8h0M81.5 167.0h0M92.9 167.5h0M96.2 166.9h0M76.8 168.6h0M90.7 173.2h0M78.3 169.6h0M80.9 177.0h0M101.9 165.4h0M92.1 167.7h0M72.4 172.0h0M84.6 170.3h0M85.7 169.7h0M81.0 169.8h0M88.8 171.0h0M84.8 166.2h0M103.1 168.6h0M81.4 169.7h0M95.5 170.0h0M75.9 165.7h0M82.2 163.5h0M84.3 170.4h0M71.0 167.2h0M84.8 168.7h0M80.8 170.4h0M99.7 169.2h0M94.8 169.5h0M86.8 171.6h0M87.4 165.3h0M73.7 172.7h0M92.7 170.5h0M81.8 171.7h0M99.6 173.3h0M84.3 173.5h0M87.1 167.4h0M76.7 170.4h0M77.6 170.2h0M82.7 168.0h0M79.6 170.2h0M79.2 170.7h0M77.1 171.7h0M95.0 169.1h0M77.8 170.8h0M76.7 170.6h0M103.6 166.9h0M101.3 170.6h0M76.7 169.5h0M99.0 168.4h0M85.4 167.6h0M82.9 166.0h0M79.1 169.8h0M73.9 170.5h0M78.0 172.8h0M86.4 170.9h0M87.2 164.8h0M91.6 168.6h0M86.1 166.1h0M79.8 168.0h0M103.4 169.2h0M77.3 175.5h0M89.3 165.9h0M88.8 171.1h0M85.0 169.2h0M106.3 169.1h0M96.7 165.7h0M92.6 166.9h0M87.1 164.3h0M86.0 172.2h0M94.1 170.6h0M83.3 165.8h0M76.1 176.0h0M83.6 166.2h0M86.8 168.7h0M84.4 164.8h0M87.1 167.8h0M87.2 168.1h0M82.9 169.3h0M90.8 173.6h0M88.1 169.8h0M80.8 166.8h0M87.9 170.1h0M95.8 165.9h0M73.9 174.6h0M89.8 168.2h0M83.9 166.9h0M76.1 187.3h0M70.5 172.3h0M73.7 173.0h0M86.2 169.5h0M97.3 168.0h0M75.1 168.5h0M90.7 164.0h0M86.6 169.7h0M89.3 166.5h0M86.3 168.3h0M83.6 167.6h0M86.7 165.5h0M85.3 167.2h0M67.4 170.8h0M89.8 167.9h0M79.6 173.3h0M92.8 165.0h0M93.3 165.3h0M82.5 168.9h0M96.4 167.6h0M74.2 169.4h0M84.1 164.3h0M86.4 170.2h0M92.5 168.9h0M84.5 172.0h0M95.2 170.7h0M80.8 167.1h0M72.6 168.6h0M82.3 170.7h0M92.7 168.7h0M87.6 174.6h0M76.0 167.8h0M76.8 169.0h0M73.5 170.3h0M88.5 171.7h0M79.0 169.8h0M80.1 177.2h0M93.2 164.8h0M78.7 170.4h0M89.4 170.8h0M82.7 169.5h0M81.2 170.0h0M93.4 170.5h0M76.9 166.6h0M86.0 165.8h0M90.9 169.2h0M80.4 172.6h0M105.2 174.5h0M85.5 165.9h0M84.3 170.7h0M85.9 168.8h0M83.0 176.3h0M85.8 172.4h0M63.8 169.4h0M81.9 168.7h0M85.0 169.7h0M82.9 167.3h0M79.5 169.0h0M81.0 167.5h0M73.0 171.5h0M97.4 166.3h0M71.0 170.5h0M78.3 165.6h0M93.6 167.9h0M73.1 169.2h0M89.4 162.9h0M84.2 168.9h0M85.0 167.8h0M80.8 168.8h0M81.2 164.8h0M75.4 166.7h0M79.8 159.4h0M83.9 164.8h0M90.5 170.4h0M75.8 171.5h0M85.0 165.3h0M80.6 171.7h0M77.0 170.0h0M96.8 168.8h0M83.9 167.3h0M74.9 170.0h0M92.1 163.9h0M87.5 168.0h0M81.1 173.4h0M82.5 170.9h0M85.7 174.5h0M93.7 166.0h0M81.6 170.8h0M85.6 165.0h0M88.6 164.7h0M90.2 163.4h0M85.2 171.2h0M81.4 168.8h0M83.1 171.9h0M88.5 167.7h0M77.3 170.2h0M92.4 165.2h0M83.1 167.1h0M91.7 169.3h0M74.7 169.2h0M80.9 173.1h0M79.7 173.0h0M82.3 170.4h0M75.4 168.3h0M77.9 170.9h0M83.7 168.3h0M92.5 163.2h0M77.7 172.0h0M78.9 170.1h0M96.4 167.1h0M94.8 168.1h0M96.3 167.2h0M86.7 171.4h0M79.1 170.2h0M83.6 170.8h0M66.6 171.1h0M74.1 171.7h0M79.6 167.3h0M98.6 162.9h0M82.8 171.9h0M79.8 170.2h0M88.6 171.4h0M82.5 167.6h0M98.8 164.8h0M80.3 164.6h0M78.4 168.1h0" stroke="#1808f0"/><path d="M101.3 165.1h0M98.5 165.1h0M87.1 162.8h0M88.1 162.3h0M92.3 159.8h0M89.5 162.6h0M101.7 168.5h0M90.3 158.3h0M80.4 165.3h0M80.9 166.3h0M96.0 159.2h0M96.7 164.2h0M88.5 163.3h0M91.1 166.8h0M79.5 165.6h0M89.9 163.8h0M85.7 164.5h0M89.3 158.9h0M101.1 167.7h0M88.2 167.6h0M99.1 164.4h0M90.1 165.6h0M89.2 161.0h0M81.2 168.0h0M112.4 168.8h0M99.4 167.5h0M80.7 164.4h0M80.9 171.6h0M82.1 167.3h0M79.2 166.2h0M90.1 164.6h0M82.3 164.3h0M78.3 163.9h0M82.6 163.6h0M85.3 162.9h0M89.3 165.0h0M95.5 164.1h0M98.3 163.8h0M98.6 164.7h0M86.3 166.8h0M103.8 166.7h0M89.0 164.6h0M102.0 161.2h0M85.1 168.3h0M86.6 164.9h0M87.8 161.1h0M93.1 166.3h0M99.6 165.0h0M77.9 165.7h0M91.5 165.0h0M88.0 163.7h0M99.5 165.3h0M89.9 163.3h0M71.2 163.7h0M91.8 166.7h0M85.1 161.7h0M84.2 164.0h0M98.0 165.4h0M94.0 163.7h0M93.5 162.1h0M78.1 164.0h0M86.5 162.9h0M79.4 165.9h0M86.8 164.5h0M105.0 168.6h0M97.0 164.6h0M82.4 165.4h0M82.6 167.4h0M97.9 165.5h0M85.8 168.1h0M92.9 162.9h0M82.8 166.0h0M77.2 165.1h0M102.5 166.0h0M81.1 166.8h0M83.7 165.4h0M79.3 165.5h0M104.9 170.3h0M80.2 162.9h0M90.3 162.6h0M88.8 162.3h0M106.7 170.7h0M79.5 162.3h0M86.9 162.9h0M76.7 162.7h0M83.2 165.5h0M76.8 161.9h0M96.9 159.5h0M89.2 164.7h0M81.5 164.5h0M94.5 163.3h0M83.0 165.0h0M83.8 164.2h0M69.4 165.9h0M83.5 162.4h0" stroke="#3040f0"/><path d="M100.0 162.9h0M89.2 161.7h0M106.4 167.3h0M91.5 159.7h0M106.4 167.2h0M82.0 162.7h0M102.4 166.6h0M89.2 160.7h0M99.1 161.0h0M105.7 163.6h0M87.2 162.0h0M91.0 159.9h0M81.8 163.0h0M72.7 163.3h0M99.7 161.5h0M91.4 162.7h0M106.1 167.1h0M99.2 160.3h0M100.2 161.2h0M92.7 162.5h0M94.1 160.1h0M89.6 164.5h0M85.7 158.7h0M97.5 161.7h0M101.5 163.9h0M91.4 162.9h0M103.3 165.3h0M84.8 161.3h0M104.4 162.6h0M100.8 160.9h0M72.9 160.5h0M97.6 159.3h0M86.7 160.9h0M93.0 160.7h0M99.5 162.1h0M87.6 163.4h0M98.8 163.1h0M93.7 162.0h0M92.5 162.8h0M101.5 163.6h0M103.1 161.6h0M75.6 162.3h0M93.8 161.1h0M81.3 159.8h0M105.5 161.2h0M87.0 161.0h0M99.2 162.1h0M103.6 162.8h0M99.3 162.2h0M93.3 160.2h0M81.2 159.9h0M86.0 161.8h0M79.6 161.3h0M84.0 164.6h0M82.4 162.9h0M85.2 164.4h0M107.8 164.8h0M90.2 158.9h0M104.3 162.5h0M92.9 160.4h0M91.9 158.3h0" stroke="#4070f8"/><path d="M86.6 160.8h0M81.9 161.0h0M103.2 163.8h0M103.8 159.9h0M91.4 161.0h0M98.6 159.1h0M97.3 160.1h0M94.8 157.7h0M92.6 159.6h0M91.9 159.3h0M96.2 158.5h0M98.9 160.4h0M101.5 163.0h0M83.3 161.1h0M102.1 159.6h0M100.7 162.0h0M104.1 163.2h0M95.4 159.8h0M82.3 159.5h0M90.9 161.3h0M84.9 159.8h0M92.6 162.0h0M93.0 159.9h0M90.3 160.7h0M90.0 160.9h0M90.0 159.7h0M95.4 158.3h0M96.5 155.9h0M85.6 159.7h0M100.4 161.1h0M99.2 160.0h0M106.0 161.7h0M84.0 162.0h0M83.1 161.0h0" stroke="#4890f8"/><path d="M95.1 158.5h0M105.0 162.3h0M98.7 159.0h0M100.4 159.2h0M104.4 157.7h0M105.7 164.1h0M95.3 157.7h0M97.9 157.9h0M97.4 156.3h0M109.1 161.6h0M92.2 159.1h0M97.1 157.7h0M89.6 159.5h0M85.6 157.7h0M96.6 157.6h0M93.8 161.3h0M96.5 157.9h0M101.0 160.2h0M100.7 160.7h0M84.2 159.0h0M83.6 160.2h0M87.7 157.5h0M103.4 160.7h0M97.5 157.4h0M98.6 157.5h0M94.7 158.8h0M94.2 158.9h0" stroke="#50a8f8"/><path d="M103.9 156.3h0M99.7 156.6h0M101.4 155.6h0M103.2 158.6h0M96.4 159.0h0M107.8 161.4h0M81.5 158.4h0M97.4 156.9h0M89.9 157.6h0M102.2 157.5h0M107.3 162.6h0M107.2 159.1h0M108.5 163.4h0M81.9 159.9h0M89.8 158.2h0M94.1 155.4h0M98.5 155.0h0M97.5 156.9h0M101.3 157.2h0M98.1 158.6h0M93.5 158.4h0M99.3 159.8h0M102.1 159.5h0M103.0 159.8h0M74.6 156.9h0" stroke="#58c8f8"/><path d="M102.8 156.2h0M107.7 157.0h0M100.8 155.4h0M107.5 158.9h0M111.2 159.0h0M92.6 156.8h0M102.7 158.0h0M84.9 155.6h0M100.7 155.5h0M108.8 160.4h0M94.5 158.0h0M98.2 157.7h0M97.1 155.1h0M100.8 155.7h0M96.7 157.8h0M101.2 155.9h0M106.5 159.5h0M95.8 155.1h0M96.2 156.9h0M91.7 155.5h0M81.2 155.6h0M107.1 159.2h0M94.6 155.9h0M94.2 157.2h0M95.4 154.3h0M98.5 156.8h0M96.6 154.9h0M96.8 157.0h0M92.1 157.3h0" stroke="#68e8f8"/><path d="M100.9 154.3h0M107.2 161.4h0M100.8 156.5h0M104.7 157.9h0M108.3 156.7h0M88.3 156.2h0M105.7 160.4h0M97.3 155.8h0M97.9 157.1h0M101.0 157.7h0M99.8 156.6h0M102.4 158.1h0M93.7 155.3h0M101.6 156.9h0M102.2 156.7h0M95.8 154.1h0M96.0 155.9h0M93.6 155.8h0M103.8 156.0h0M96.0 155.6h0M113.6 161.5h0M89.7 155.8h0M107.9 156.9h0M97.4 155.0h0M99.2 156.2h0M105.3 160.8h0M90.5 155.4h0M100.7 154.1h0M99.1 157.1h0M98.6 154.9h0M100.9 155.6h0M102.6 156.1h0M111.6 164.4h0M89.1 157.5h0M111.3 158.2h0" stroke="#70f8f0"/><path d="M108.9 159.5h0M80.2 156.4h0M82.2 153.9h0M101.6 155.1h0M90.2 155.4h0M103.0 155.5h0M98.3 152.9h0M97.9 154.1h0M95.0 154.0h0M95.6 155.5h0M98.6 154.0h0M97.8 156.4h0M112.0 159.2h0M99.8 154.7h0M97.5 156.5h0M100.6 154.4h0M100.9 153.5h0M100.6 154.3h0M109.7 157.6h0M89.4 153.1h0M90.5 154.6h0M111.3 159.0h0M103.5 157.2h0M118.1 157.8h0" stroke="#70f8e0"/><path d="M109.1 157.8h0M105.5 154.7h0M98.9 154.4h0M113.6 157.1h0M105.0 156.2h0M94.1 153.5h0M114.2 160.3h0M110.7 156.4h0M101.5 155.0h0M105.5 153.9h0M108.9 156.0h0M99.4 154.8h0M99.8 155.5h0M103.0 155.2h0M100.8 153.8h0M79.6 155.2h0M97.7 155.0h0M106.1 155.2h0M107.5 155.4h0M96.7 153.8h0M99.4 155.0h0M107.3 154.3h0M93.6 155.4h0M111.0 157.9h0M87.9 153.5h0M110.2 156.9h0M96.5 153.1h0M98.2 152.3h0M108.5 157.2h0M98.3 152.8h0M104.8 157.5h0M107.6 154.4h0" stroke="#70f8c8"/><path d="M103.9 154.1h0M99.0 154.3h0M105.5 154.9h0M105.0 155.6h0M102.4 153.7h0M108.1 155.8h0M103.3 151.7h0M105.4 154.8h0M101.4 151.7h0M92.3 153.5h0M102.7 153.8h0M105.4 153.9h0M105.5 153.3h0M88.0 152.1h0M115.4 154.1h0M102.4 153.3h0M98.1 152.6h0M96.3 151.7h0M105.3 156.0h0M105.8 153.9h0M103.9 153.1h0" stroke="#68f8b0"/><path d="M102.2 151.3h0M108.0 154.0h0M100.3 152.7h0M106.8 152.6h0M106.8 153.9h0M98.7 151.8h0M113.1 154.8h0M105.1 153.6h0M113.0 154.3h0M102.4 151.2h0M106.5 154.1h0M107.6 152.1h0M100.4 152.8h0M110.2 155.3h0M106.3 154.0h0M101.9 152.7h0M99.6 151.5h0M107.0 153.8h0M106.5 153.8h0" stroke="#60f8a0"/><path d="M103.7 152.4h0M109.0 156.0h0M96.8 152.3h0M98.9 151.7h0M100.3 150.2h0M96.5 151.0h0M110.6 151.9h0M111.0 154.1h0M99.4 151.4h0M97.9 150.9h0M107.5 152.6h0M109.4 155.1h0M112.3 153.9h0M110.2 155.7h0M101.6 151.5h0M114.2 157.4h0M102.8 150.8h0M107.8 152.4h0M98.6 152.2h0M100.0 152.0h0M92.6 149.4h0M118.6 156.4h0M118.7 156.5h0M108.0 154.5h0M99.7 150.9h0" stroke="#58f880"/><path d="M108.7 152.3h0M103.3 152.2h0M99.8 150.6h0M102.0 150.1h0M98.0 150.3h0M104.5 151.9h0M99.2 151.7h0M89.7 151.5h0M110.2 151.9h0M113.4 154.0h0M118.2 155.6h0M108.0 151.3h0M115.2 152.1h0M106.3 150.9h0M112.5 153.6h0M116.3 154.9h0M107.3 154.9h0M114.8 153.5h0M111.9 149.5h0M103.4 150.1h0M112.1 152.6h0" stroke="#50f860"/><path d="M107.2 152.2h0M104.8 150.4h0M111.4 154.1h0M103.0 150.7h0M112.7 153.4h0M115.5 153.0h0M120.6 159.9h0M118.5 153.5h0M93.9 150.7h0M106.4 150.8h0M101.9 149.4h0M110.3 150.6h0M109.9 150.5h0M120.9 152.6h0" stroke="#40f840"/><path d="M100.6 148.4h0M108.0 150.1h0M114.3 152.5h0M105.5 150.7h0M114.4 152.2h0M113.6 151.6h0M101.9 148.9h0M103.0 149.7h0M102.6 149.6h0M110.5 152.5h0M108.7 149.6h0M105.0 150.2h0M115.0 152.4h0M107.8 150.2h0M110.5 151.9h0M106.2 150.4h0M108.5 149.4h0M113.7 149.7h0M104.7 146.5h0M126.7 148.2h0" stroke="#30f820"/><path d="M113.9 150.0h0M104.9 148.0h0M110.0 149.2h0M116.4 150.1h0M109.2 148.2h0M109.9 149.8h0M109.1 149.6h0M112.6 151.2h0M99.2 148.6h0M108.4 148.0h0M107.1 148.4h0M111.8 151.2h0M116.9 151.2h0M104.1 147.3h0M112.2 149.0h0M117.9 150.1h0M100.2 149.2h0M113.5 152.7h0M110.3 148.8h0M100.3 148.5h0M104.5 149.3h0M115.3 149.0h0M107.1 147.8h0M104.2 149.4h0M116.4 153.6h0M115.8 148.8h0M111.9 152.4h0M128.5 146.6h0M122.0 150.7h0" stroke="#38f818"/><path d="M114.5 151.4h0M111.0 149.7h0M114.4 148.2h0M108.7 148.7h0M101.3 148.3h0M116.6 150.4h0M115.9 149.9h0M117.0 150.3h0M113.7 150.0h0M115.1 150.5h0M111.6 147.6h0M100.3 147.7h0M100.6 146.9h0M104.4 149.0h0M129.7 144.5h0M125.1 141.5h0M122.9 149.4h0" stroke="#48f818"/><path d="M121.5 148.5h0M105.0 145.4h0M106.3 147.5h0M112.7 147.2h0M120.3 148.9h0M113.1 148.6h0M101.8 146.1h0M108.6 148.2h0M119.4 148.6h0M115.0 151.2h0M110.2 150.5h0M99.7 146.9h0M115.4 149.3h0M106.7 148.1h0M117.3 150.1h0M120.0 149.8h0M102.9 149.1h0M107.8 146.8h0M106.1 147.7h0M108.3 148.7h0M100.5 148.1h0M108.6 148.7h0M115.8 149.0h0M107.6 148.4h0M119.4 149.4h0M105.9 148.0h0M113.8 147.0h0M109.5 147.3h0M127.5 141.6h0M129.4 145.4h0" stroke="#60f018"/><path d="M121.6 147.3h0M112.0 146.0h0M112.7 148.2h0M110.1 147.7h0M106.5 146.3h0M105.1 147.7h0M120.6 148.7h0M112.2 147.0h0M105.8 145.2h0M109.5 145.3h0M121.4 150.1h0M111.8 149.3h0M118.0 149.3h0M119.5 148.7h0M116.4 149.8h0M107.5 147.5h0M121.7 149.8h0M100.3 145.4h0" stroke="#88f020"/><path d="M119.1 147.8h0M108.0 145.1h0M113.0 147.4h0M115.6 146.8h0M104.5 146.8h0M110.6 146.4h0M114.7 147.0h0M109.2 145.5h0M115.5 147.5h0M109.3 145.2h0M112.1 145.0h0M112.0 146.3h0M120.6 147.8h0M110.2 145.3h0M107.2 145.5h0M109.0 147.7h0M117.0 146.9h0M107.8 146.3h0M115.3 148.3h0M119.8 156.6h0" stroke="#a8f028"/><path d="M118.4 146.5h0M106.2 144.8h0M118.1 147.9h0M115.1 146.6h0M119.8 148.0h0M116.4 145.4h0M110.1 146.1h0M111.4 145.8h0M110.7 146.4h0M116.0 146.5h0M117.5 147.0h0M133.0 141.8h0M130.8 142.3h0M119.0 154.6h0" stroke="#c8f030"/><path d="M105.3 143.0h0M119.4 146.2h0M116.2 146.1h0M115.6 145.3h0M121.4 146.9h0M118.1 146.1h0M108.8 143.9h0M110.5 145.6h0M118.9 146.7h0M110.6 143.6h0M108.7 145.1h0M112.8 146.2h0M115.0 146.2h0M110.8 148.2h0M113.7 144.5h0M97.5 143.0h0M113.9 146.7h0M109.8 145.7h0M114.5 145.5h0M115.6 144.8h0M112.1 142.4h0M131.8 140.5h0" stroke="#f0f838"/><path d="M112.7 142.2h0M113.0 144.1h0M113.0 143.6h0M114.9 144.6h0M119.3 142.7h0M118.9 144.0h0M119.9 145.2h0M114.7 143.9h0M108.9 143.6h0M115.5 142.9h0M108.0 143.2h0M107.8 143.6h0M113.1 142.7h0M113.6 144.0h0M109.3 145.7h0M109.2 142.3h0M119.9 144.8h0M121.1 146.5h0M109.3 144.6h0M115.2 143.4h0M117.3 145.2h0M114.7 145.3h0M130.3 140.1h0" stroke="#f0e040"/><path d="M110.8 142.9h0M119.2 144.8h0M110.3 144.3h0M118.9 143.0h0M120.8 144.1h0M110.1 143.1h0M115.7 144.7h0M117.7 145.1h0M113.3 145.1h0M123.0 145.9h0M111.9 143.2h0M111.8 142.2h0M133.3 139.3h0" stroke="#e8c038"/><path d="M116.0 143.1h0M105.4 142.5h0M103.1 142.2h0M117.5 142.8h0M110.3 142.2h0M110.5 142.5h0M115.9 143.1h0M113.1 143.0h0M118.1 142.3h0M118.5 142.8h0M112.1 143.2h0" stroke="#f0a030"/><path d="M109.8 142.3h0M114.1 143.1h0M111.5 142.2h0M115.8 142.4h0M119.8 143.7h0M121.5 142.6h0M119.9 142.3h0M115.0 145.4h0M115.1 142.5h0M113.8 142.1h0" stroke="#f08a28"/><path d="M115.4 144.4h0M121.8 142.5h0M132.0 138.4h0" stroke="#f06a20"/><path d="M120.6 145.5h0M118.8 144.5h0M112.5 143.6h0M118.7 143.3h0M104.3 144.1h0M104.4 144.3h0M136.8 136.9h0" stroke="#f04c18"/><path d="M106.5 144.0h0M102.8 144.0h0M93.6 145.0h0M95.1 144.1h0M99.1 144.5h0M100.8 144.1h0M130.5 136.3h0M134.6 136.2h0M135.7 134.8h0M123.7 148.1h0" stroke="#f0300e"/><path d="M112.2 144.6h0M110.1 145.3h0M110.7 144.2h0M114.1 144.3h0M99.8 144.5h0M118.2 144.4h0M131.9 135.6h0M138.1 137.6h0" stroke="#e8200c"/></g>
<line x1="57.7" y1="194.7" x2="138.2" y2="130" stroke="#ff1010" stroke-width="1.2"/>
<line x1="27.3" y1="208.4" x2="143.8" y2="125.5" stroke="#000" stroke-width="1.0" stroke-dasharray="1.5 1.2"/>
<rect x="26.5" y="125.5" width="117.3" height="82.9" fill="none" stroke="#111" stroke-width="1.2"/>
<path d="M26.6 208.4v1.0M30.8 208.4v1.0M26.5 205.9h-1.0M34.1 208.4v1.0M26.5 203.5h-1.0M36.8 208.4v1.0M26.5 201.6h-1.0M39.1 208.4v1.0M26.5 200.0h-1.0M41.1 208.4v1.0M26.5 198.6h-1.0M42.8 208.4v1.0M26.5 197.3h-1.0M44.4 208.4v1.8M26.5 196.2h-1.8M54.7 208.4v1.0M26.5 188.9h-1.0M60.7 208.4v1.0M26.5 184.6h-1.0M64.9 208.4v1.0M26.5 181.6h-1.0M68.2 208.4v1.0M26.5 179.2h-1.0M70.9 208.4v1.0M26.5 177.3h-1.0M73.2 208.4v1.0M26.5 175.7h-1.0M75.2 208.4v1.0M26.5 174.3h-1.0M76.9 208.4v1.0M26.5 173.1h-1.0M78.5 208.4v1.8M26.5 171.9h-1.8M88.8 208.4v1.0M26.5 164.6h-1.0M94.8 208.4v1.0M26.5 160.4h-1.0M99.0 208.4v1.0M26.5 157.3h-1.0M102.3 208.4v1.0M26.5 155.0h-1.0M105.0 208.4v1.0M26.5 153.1h-1.0M107.3 208.4v1.0M26.5 151.4h-1.0M109.3 208.4v1.0M26.5 150.0h-1.0M111.0 208.4v1.0M26.5 148.8h-1.0M112.6 208.4v1.8M26.5 147.7h-1.8M122.9 208.4v1.0M26.5 140.4h-1.0M128.9 208.4v1.0M26.5 136.1h-1.0M133.1 208.4v1.0M26.5 133.1h-1.0M136.4 208.4v1.0M26.5 130.7h-1.0M139.1 208.4v1.0M26.5 128.8h-1.0M141.4 208.4v1.0M26.5 127.2h-1.0M143.4 208.4v1.0M26.5 125.8h-1.0" stroke="#111" stroke-width="0.8" fill="none"/>
<text x="38.6" y="219.9" font-size="9.6" fill="#222">10<tspan font-size="6.8" dy="-4.4">5</tspan></text>
<text x="11.6" y="199.7" font-size="9.6" fill="#222">10<tspan font-size="6.8" dy="-4.4">5</tspan></text>
<text x="72.7" y="219.9" font-size="9.6" fill="#222">10<tspan font-size="6.8" dy="-4.4">6</tspan></text>
<text x="11.6" y="175.4" font-size="9.6" fill="#222">10<tspan font-size="6.8" dy="-4.4">6</tspan></text>
<text x="106.8" y="219.9" font-size="9.6" fill="#222">10<tspan font-size="6.8" dy="-4.4">7</tspan></text>
<text x="11.6" y="151.2" font-size="9.6" fill="#222">10<tspan font-size="6.8" dy="-4.4">7</tspan></text>
<text transform="translate(8.1,167.5) rotate(-90)" text-anchor="middle" font-size="11.4" fill="#222">Estimation</text>
<text x="84.4" y="120.4" text-anchor="middle" font-size="9.5" font-weight="bold" fill="#111">D<tspan font-size="6.8" dy="2.4">L2</tspan></text>
<text x="31.1" y="136.6" font-size="9.5" fill="#222">R=0.86</text>
<text x="31.1" y="149.1" font-size="9.5" fill="#222">RE=0.45</text>
<text x="82.9" y="193.2" font-size="9.4" fill="#f00">Slope=1.13</text>
<text x="82.9" y="204.5" font-size="9.4" fill="#f00">Intercept=-1.03</text>
<text x="43.8" y="204.9" font-size="9.5" fill="#222" clip-path="url(#cp10)">1:1</text>
<clipPath id="cp11"><rect x="189.5" y="125.5" width="117.3" height="82.9"/></clipPath>
<g stroke-width="1.8" stroke-linecap="square" fill="none"><path d="M243.8 169.9h0M234.9 172.1h0M241.7 167.3h0M234.0 171.7h0M241.6 178.7h0M248.4 176.9h0M241.8 170.3h0M258.1 169.0h0M248.4 172.6h0M238.1 179.7h0M240.4 171.7h0M245.4 171.8h0M251.0 174.8h0M241.5 173.8h0M245.1 172.7h0M238.1 175.9h0M236.0 178.3h0M255.9 168.2h0M238.9 179.8h0M247.0 173.1h0M243.1 172.3h0M247.9 169.5h0M240.6 174.8h0M239.7 173.4h0M247.4 170.3h0M240.4 177.8h0M232.3 182.6h0M241.2 174.1h0M235.9 179.6h0M243.7 171.3h0M240.5 172.8h0M248.7 167.0h0M237.0 182.8h0M235.6 175.0h0M233.3 173.5h0M241.9 175.8h0M244.5 170.4h0M234.5 175.5h0M235.6 170.5h0M240.1 167.8h0M238.2 176.0h0M241.3 175.6h0M244.8 172.6h0M241.1 176.9h0M235.3 172.5h0M252.4 171.6h0M237.2 170.6h0M246.5 169.9h0M236.7 172.2h0M240.9 173.9h0M240.6 175.4h0M239.2 179.4h0M248.2 170.8h0M240.4 172.3h0M245.4 176.1h0M229.3 175.4h0M248.0 171.7h0M246.2 174.1h0M244.9 173.1h0M244.5 171.8h0M249.3 168.8h0M237.6 180.5h0M245.7 171.3h0M240.8 176.8h0M249.4 168.0h0M239.2 171.6h0M241.5 178.6h0M243.7 174.6h0M241.7 170.4h0M233.7 175.0h0M243.1 176.4h0M247.6 174.8h0M261.4 170.9h0M252.8 170.1h0M236.0 168.7h0M243.5 170.5h0M242.0 174.6h0M227.9 170.1h0M253.1 168.6h0M241.6 173.4h0M239.8 182.1h0M238.6 177.9h0M243.1 174.4h0M243.8 166.7h0M240.0 174.1h0M243.4 174.3h0M244.4 171.8h0M251.0 174.2h0M237.6 180.7h0M243.4 172.7h0M243.4 172.9h0M244.9 166.9h0M238.4 176.2h0M243.8 171.4h0M233.2 183.2h0M240.0 173.1h0M247.4 169.6h0M247.0 177.7h0M236.5 174.3h0M234.5 173.9h0M255.3 169.8h0M234.6 171.9h0M241.1 175.5h0M237.0 176.4h0M239.5 181.0h0M238.8 175.3h0M236.5 176.6h0M234.6 182.1h0M246.0 177.0h0M243.3 169.9h0M242.6 178.0h0M242.4 171.1h0M235.8 175.0h0M236.7 181.7h0M239.6 169.4h0M229.4 187.8h0M231.4 179.7h0M251.9 173.4h0M239.3 179.2h0M233.2 175.5h0M242.1 169.7h0M243.1 171.2h0M236.4 178.3h0M239.7 172.9h0M244.0 170.4h0M231.2 185.5h0M238.5 170.2h0M240.2 168.5h0M235.4 171.6h0M236.7 179.7h0M227.7 184.3h0M236.7 175.6h0M240.2 166.9h0M233.9 185.8h0M254.5 169.0h0M238.2 177.3h0M239.6 177.9h0M240.9 170.2h0M238.9 178.6h0M239.7 174.1h0M241.8 172.2h0M241.1 170.5h0M257.6 171.1h0M228.9 181.5h0M243.6 166.8h0M231.3 171.2h0M236.3 171.8h0M235.4 182.4h0M239.4 180.5h0M241.3 173.0h0M240.1 181.2h0M237.0 186.2h0M240.6 170.9h0M237.8 182.8h0M235.9 183.2h0M241.7 178.6h0M238.3 171.4h0M249.2 171.6h0M242.6 171.5h0M239.3 172.9h0M241.2 176.1h0M238.3 177.0h0M234.7 176.1h0M256.9 168.9h0M237.2 170.8h0M236.6 167.8h0M239.8 178.0h0M239.6 166.6h0M231.3 169.4h0M241.2 173.7h0M262.6 170.3h0M231.3 171.1h0M244.6 170.4h0M258.8 167.5h0M247.7 171.7h0M241.8 177.2h0M240.3 176.2h0M248.3 173.5h0M235.6 167.8h0M254.2 175.5h0M253.0 172.9h0M234.6 174.1h0M238.9 177.4h0M248.4 167.7h0M241.7 169.4h0M241.0 172.0h0M237.1 175.1h0M238.8 171.8h0M237.5 178.8h0M239.5 174.8h0M242.1 170.7h0M236.1 178.1h0M239.4 169.6h0M234.7 174.0h0M234.4 184.5h0M237.3 174.3h0M237.4 177.7h0M233.5 181.4h0M241.1 175.9h0M244.6 167.8h0M242.8 171.1h0M253.5 169.1h0M234.4 173.8h0M244.8 170.4h0M240.0 174.6h0M248.2 165.6h0M238.4 178.0h0M244.8 180.3h0M241.7 172.0h0M231.6 169.3h0M238.6 175.2h0M234.0 178.3h0M228.7 178.0h0M244.1 172.7h0M243.2 170.1h0M229.4 182.9h0M231.6 171.6h0M263.1 168.2h0M241.1 170.3h0M243.2 173.8h0M236.4 169.9h0M237.8 183.1h0M250.1 173.8h0M236.3 174.0h0M239.1 177.4h0M244.5 172.3h0M237.6 177.8h0M244.3 172.6h0M238.0 173.9h0M245.5 175.4h0M245.9 172.9h0M236.2 173.3h0M241.8 172.0h0M234.9 176.5h0M246.9 170.9h0M243.1 173.4h0M233.8 177.2h0M246.9 169.4h0M243.8 171.8h0M254.4 166.1h0M251.0 169.5h0M246.0 174.7h0M240.3 174.7h0M241.6 172.6h0M254.5 173.1h0M240.8 171.9h0M239.2 177.3h0M250.0 170.6h0M236.6 173.4h0M236.4 180.4h0M238.4 174.1h0M244.1 172.0h0M240.4 175.4h0M239.5 176.5h0M238.4 181.4h0M238.7 181.0h0M237.5 181.8h0M242.6 176.6h0M238.9 176.1h0M244.7 168.8h0M238.8 172.7h0M244.3 180.6h0M239.6 170.2h0M252.2 170.3h0M241.1 173.3h0M247.2 170.2h0M240.2 169.5h0M249.5 171.1h0M242.1 172.2h0M242.9 175.0h0M243.6 174.3h0M245.3 173.1h0M236.2 176.3h0M248.3 171.1h0M242.6 173.8h0M249.9 171.7h0M241.2 176.1h0M239.4 176.3h0M232.2 183.3h0M249.3 171.0h0M241.5 174.7h0M236.2 184.2h0M250.6 168.5h0M239.7 169.2h0M238.6 177.8h0M236.7 170.5h0M233.0 173.5h0M242.0 171.2h0M232.2 185.6h0M255.2 174.8h0M236.6 174.1h0M239.4 182.0h0M240.6 168.6h0M238.9 170.3h0M237.4 188.0h0M245.1 168.4h0M229.6 175.6h0M237.1 177.9h0M241.1 172.3h0M256.3 169.2h0M239.4 171.6h0M248.1 171.1h0M239.8 175.8h0M237.2 179.4h0M245.9 170.8h0M261.2 172.9h0M256.7 172.4h0M235.7 173.0h0M239.5 175.0h0M246.0 176.4h0M235.5 173.5h0M242.0 173.6h0M239.0 175.4h0M252.1 176.1h0M231.6 185.4h0M232.7 181.6h0M238.7 181.4h0M231.2 168.1h0M234.5 171.5h0M235.5 175.7h0M231.8 176.0h0M236.9 169.3h0M235.9 179.5h0M240.4 174.3h0M251.5 172.4h0M237.9 178.6h0M250.4 166.4h0M236.3 175.3h0M236.6 186.9h0M240.7 173.4h0M238.7 168.4h0M235.9 177.8h0M241.2 175.1h0M245.2 178.5h0M242.1 176.7h0M240.1 176.2h0M238.8 175.1h0M253.7 169.6h0M240.1 176.5h0M237.0 178.7h0M236.8 172.8h0M233.5 173.4h0M236.5 174.1h0M238.3 170.4h0M237.8 179.0h0M242.0 173.1h0M233.5 178.2h0M226.7 173.4h0M233.8 186.2h0M246.9 164.6h0M234.3 178.5h0M249.0 170.7h0M235.2 183.6h0M230.4 178.6h0M243.8 172.3h0M240.6 171.3h0M239.3 174.5h0M248.9 167.6h0M242.9 173.4h0M239.2 175.8h0M243.1 170.3h0M231.3 175.6h0M238.3 175.5h0M261.4 168.8h0M237.1 177.8h0M234.4 180.1h0M239.8 176.4h0M244.7 178.1h0M236.7 180.6h0M241.5 182.4h0M234.8 178.1h0M242.5 171.7h0M246.4 170.6h0M239.8 170.8h0M244.3 177.0h0M232.6 175.5h0M234.5 174.5h0M235.4 180.3h0M238.6 176.9h0M242.2 173.7h0M238.6 173.8h0M237.9 183.2h0M248.2 167.8h0M234.4 173.8h0M233.9 178.2h0M243.4 181.2h0M232.2 172.4h0M240.5 171.4h0M244.7 170.9h0M241.5 169.8h0M236.6 176.4h0M236.7 170.4h0M231.7 174.3h0M257.3 172.4h0M231.2 170.8h0M239.6 171.8h0M235.1 176.4h0M235.6 175.3h0M238.0 173.2h0M239.3 178.5h0M243.0 171.7h0M248.6 171.9h0M241.6 172.2h0M250.0 168.6h0M230.4 179.6h0M234.7 175.0h0M240.9 169.6h0M247.4 172.1h0M240.4 183.0h0M252.1 177.1h0M252.1 167.6h0M251.4 168.6h0M236.6 170.2h0M234.4 177.0h0M233.3 174.1h0M241.1 170.9h0M240.6 173.6h0M243.6 175.4h0M246.3 169.2h0M251.1 169.9h0M228.8 175.2h0M244.1 173.0h0M236.3 174.3h0M236.1 174.7h0M236.6 173.4h0M239.6 177.5h0M240.6 174.0h0M236.6 170.2h0M245.1 174.5h0M242.7 177.6h0M238.5 176.0h0M251.2 171.7h0M240.9 171.1h0M251.0 171.0h0M233.2 174.7h0M246.6 174.8h0M251.8 167.4h0M240.0 167.0h0M237.0 182.9h0M230.6 179.6h0M234.1 175.6h0M238.3 174.0h0M240.3 181.5h0M238.3 175.8h0M239.5 169.8h0M240.9 178.8h0M231.2 172.2h0M233.9 173.1h0M243.0 172.3h0M252.2 170.9h0M238.2 179.4h0M250.1 170.2h0M247.9 174.7h0M258.6 173.6h0M243.6 171.1h0M247.8 166.4h0M249.7 177.6h0M242.2 174.5h0M230.8 175.5h0M251.6 169.5h0M242.5 170.4h0M241.9 172.9h0M239.0 180.8h0M238.1 178.7h0M240.4 177.4h0M239.0 178.4h0M235.5 173.0h0M255.1 170.6h0M234.4 174.3h0M240.1 180.2h0M232.6 179.2h0M232.4 171.4h0M238.1 171.2h0M244.4 177.3h0M246.6 169.6h0M240.9 176.3h0M245.4 171.4h0M249.1 174.9h0M256.9 164.2h0M237.4 174.1h0M234.0 182.3h0M235.7 175.3h0M252.5 173.0h0M235.6 175.1h0M239.0 174.8h0M238.2 175.3h0M244.9 173.4h0M238.7 176.8h0M237.5 178.8h0M246.3 173.6h0M241.9 170.7h0M241.8 173.2h0M255.7 174.4h0M232.9 168.9h0M237.8 178.8h0M258.3 173.3h0M242.6 176.5h0M242.9 172.8h0M240.0 171.8h0M251.1 167.1h0M239.3 179.6h0M238.5 171.8h0M233.4 187.0h0M246.2 174.6h0M228.0 173.3h0M244.3 168.1h0M228.3 183.1h0M246.8 172.7h0M237.6 171.4h0M234.5 181.8h0M240.3 171.1h0M240.7 173.9h0M242.1 171.5h0M238.6 170.0h0M240.5 171.9h0M236.5 173.9h0M240.1 174.0h0M232.4 182.5h0M228.0 188.0h0M255.1 172.6h0M229.1 176.4h0M235.2 188.5h0M236.2 177.0h0M242.6 174.4h0M237.7 170.8h0M241.2 172.9h0M237.0 173.1h0M254.5 171.0h0M246.8 169.7h0M241.5 168.5h0M243.3 177.0h0M238.8 175.3h0M248.7 172.3h0M262.0 169.1h0M243.6 175.3h0M233.6 179.3h0M233.3 181.6h0M229.3 177.8h0M239.0 167.0h0M263.1 171.7h0M232.2 184.7h0M241.7 175.6h0M246.2 171.5h0M243.8 172.9h0M250.9 168.8h0M240.9 174.3h0M244.1 175.1h0M237.0 180.1h0M233.0 179.6h0M239.2 175.6h0M227.3 180.8h0M238.8 175.8h0M237.6 170.1h0M244.0 172.7h0M250.5 174.5h0M246.4 172.6h0M233.5 179.8h0M238.2 177.3h0M238.8 185.6h0M246.1 172.3h0M240.1 176.1h0M237.8 171.4h0M244.4 170.1h0M243.5 176.7h0M239.4 176.0h0M233.0 174.6h0M234.7 170.7h0M237.3 174.9h0M257.0 165.6h0M243.4 177.5h0M236.9 179.0h0M255.4 172.1h0M243.6 170.4h0M241.5 178.0h0M237.0 178.1h0M240.0 170.2h0M243.9 170.0h0M236.8 170.1h0M235.7 185.8h0M241.9 172.7h0M247.0 173.8h0M235.6 177.9h0M243.0 169.2h0M240.9 173.3h0M237.6 170.9h0M231.2 181.5h0M241.5 173.9h0M241.5 178.3h0M239.7 175.2h0M249.7 167.0h0M236.6 182.6h0M233.2 181.4h0M248.3 166.9h0M237.9 174.1h0M237.6 179.5h0M236.4 170.6h0M246.9 169.0h0M236.7 174.7h0M244.9 171.4h0M241.0 172.9h0M240.5 175.9h0M240.5 175.4h0M237.4 174.7h0M246.8 166.3h0M235.1 180.9h0M247.1 168.2h0M264.7 175.6h0M234.1 179.5h0M244.4 165.5h0M240.0 178.1h0M245.6 168.1h0M236.8 172.8h0M236.7 175.2h0M247.5 167.5h0M231.2 178.1h0M250.0 167.9h0M235.4 176.9h0M237.5 176.7h0M239.6 177.1h0M235.0 184.3h0M244.5 179.8h0M233.4 177.6h0M232.4 176.1h0M243.2 177.1h0M251.9 162.4h0M234.8 175.3h0M241.6 174.9h0M237.6 176.8h0M239.1 181.9h0M231.7 181.6h0M236.8 178.7h0M256.9 174.5h0M236.9 169.3h0M240.7 174.1h0M236.8 175.9h0M232.4 182.5h0M243.4 166.3h0M239.4 174.4h0M245.6 177.2h0M244.5 169.0h0M239.6 168.4h0M246.7 166.8h0M236.8 181.6h0M239.2 170.0h0M253.8 171.0h0M243.2 176.5h0M233.5 176.4h0M247.8 163.8h0M261.1 168.3h0M243.6 176.2h0M251.9 170.0h0M248.3 168.3h0M232.8 179.4h0M233.2 187.2h0M241.5 177.4h0M237.1 176.5h0M237.8 177.3h0M237.6 183.1h0M253.9 171.7h0M240.4 173.2h0M246.5 170.2h0M237.0 174.4h0M236.0 181.0h0M231.7 185.0h0M232.3 174.4h0M238.0 170.6h0M233.3 174.6h0M238.2 182.5h0M249.5 167.9h0M242.6 173.9h0M240.4 174.2h0M234.0 177.9h0M240.3 177.1h0M239.2 178.4h0M239.3 169.0h0M238.2 183.6h0M246.4 175.1h0M236.9 171.1h0M248.7 170.7h0M248.5 169.0h0M239.8 175.2h0M241.0 174.9h0M234.0 176.2h0M236.1 172.7h0M267.5 175.7h0M238.1 176.1h0M244.7 174.3h0M244.0 172.6h0M233.2 178.6h0M243.4 181.5h0M238.3 173.8h0M240.3 174.2h0M243.4 173.0h0M239.5 183.9h0M242.8 170.9h0M240.2 172.6h0M235.6 181.3h0M236.7 172.2h0M249.0 172.6h0M235.1 178.5h0M245.2 175.1h0M251.1 173.5h0M239.4 175.4h0M232.2 179.3h0M247.7 176.5h0M243.7 182.4h0M228.5 171.5h0M245.7 178.4h0M247.0 170.7h0M242.4 174.9h0M234.1 176.6h0M235.1 173.9h0M231.7 175.7h0M252.7 169.1h0M249.1 176.9h0M238.2 176.5h0M231.6 181.7h0M238.1 175.7h0M242.4 172.2h0M242.9 176.4h0M236.5 172.3h0M231.7 175.4h0M246.0 174.2h0M236.1 173.7h0M242.5 173.9h0M236.5 178.9h0M234.2 166.8h0M249.9 168.6h0M252.5 170.4h0M233.0 184.0h0M241.5 176.8h0M244.6 170.4h0M240.9 179.7h0M245.9 178.5h0M236.5 176.2h0M242.8 174.9h0M237.3 172.3h0M234.3 178.8h0M240.7 171.2h0M233.5 178.5h0M251.1 168.2h0M249.9 168.6h0M240.8 169.0h0M232.0 176.1h0M244.7 172.4h0M237.0 172.1h0M231.7 181.8h0M253.2 168.0h0M237.1 179.8h0M245.8 168.1h0M249.4 170.7h0M236.2 182.2h0M256.3 171.1h0M246.5 174.2h0M257.6 166.2h0M244.4 177.1h0M245.5 177.0h0M244.9 172.9h0M245.8 169.0h0M243.7 173.9h0M241.4 171.7h0M236.1 179.8h0M237.3 175.4h0M242.5 166.7h0M240.7 175.8h0M237.7 172.2h0M242.6 176.8h0M234.7 178.3h0M231.5 184.2h0M231.4 181.4h0M233.4 179.4h0M233.3 172.9h0M248.6 169.3h0M255.4 172.5h0M236.8 180.8h0M245.5 172.8h0M265.6 170.4h0M242.7 172.8h0M248.3 170.1h0M240.7 170.9h0M261.7 170.8h0M231.2 176.7h0M243.3 172.6h0M240.0 173.4h0M233.1 178.8h0M228.6 178.8h0M227.6 181.1h0M245.5 168.8h0M241.2 175.0h0M242.9 167.6h0M237.3 168.6h0M238.6 184.1h0M232.5 180.0h0M239.2 177.3h0M241.0 173.8h0M231.4 171.8h0M238.2 180.0h0M241.5 173.1h0M253.8 172.5h0M241.3 172.9h0M237.7 178.6h0M237.8 174.9h0M226.9 180.6h0M246.8 171.8h0M238.2 176.6h0M233.0 176.7h0M243.2 169.3h0M245.4 168.9h0M239.7 180.0h0M250.8 172.7h0M244.5 172.3h0M244.8 173.2h0M244.0 169.4h0M243.1 170.2h0M241.1 172.3h0M244.6 171.2h0M245.1 173.3h0M231.9 185.5h0M230.2 191.4h0M234.3 186.6h0M237.4 188.0h0M240.2 191.1h0M231.9 188.8h0" stroke="#1000f0"/><path d="M242.5 166.5h0M232.8 166.1h0M239.1 169.3h0M245.5 172.6h0M246.9 167.6h0M255.0 164.5h0M246.7 168.0h0M253.4 166.9h0M254.2 167.1h0M255.3 165.7h0M235.0 169.5h0M263.6 163.9h0M251.8 164.2h0M251.6 165.3h0M247.4 165.7h0M239.3 172.6h0M231.0 166.2h0M234.4 162.5h0M240.3 167.1h0M250.4 166.4h0M244.4 170.3h0M233.4 171.2h0M246.2 169.5h0M244.2 166.9h0M239.3 169.3h0M241.1 165.5h0M244.2 169.6h0M239.4 161.6h0M244.6 167.3h0M259.7 165.5h0M246.9 167.6h0M246.6 167.0h0M249.6 168.0h0M255.5 160.2h0M239.6 168.9h0M249.4 174.3h0M238.5 166.5h0M241.0 167.0h0M248.3 166.7h0M241.8 167.9h0M246.0 166.9h0M248.4 165.8h0M261.5 166.5h0M252.6 166.1h0M238.3 166.1h0M252.1 164.9h0M244.9 165.4h0M268.6 166.9h0M243.0 171.4h0M239.1 169.4h0M242.2 167.8h0M245.2 162.1h0M251.0 165.0h0M245.3 169.5h0M256.2 163.4h0M249.8 171.3h0M245.3 165.7h0M244.0 163.4h0M239.9 168.0h0M241.5 168.2h0M239.1 164.4h0M257.2 163.5h0M253.7 168.7h0M241.2 165.8h0M243.9 171.7h0M255.1 164.3h0M247.8 165.1h0M234.9 167.4h0M247.6 166.4h0M248.7 165.9h0M243.6 165.7h0M251.8 167.0h0M244.4 166.4h0M252.7 167.3h0M241.0 169.3h0M257.5 166.9h0M244.0 169.1h0M266.1 165.0h0M245.0 168.2h0M244.2 165.7h0M245.2 168.4h0M258.5 166.1h0M247.3 166.5h0M232.6 162.7h0M247.6 165.0h0M243.6 166.3h0M257.8 165.7h0M244.4 167.7h0M249.9 166.3h0M244.3 167.6h0M249.8 167.4h0M250.1 162.1h0M241.3 166.6h0M236.5 168.3h0M255.7 166.5h0M229.3 170.6h0M244.7 167.5h0M262.6 168.8h0M247.3 169.0h0M250.1 164.0h0M239.1 166.0h0M231.1 168.6h0M249.9 166.7h0M237.7 166.8h0M240.0 165.8h0M245.2 164.1h0M242.4 166.2h0M229.4 173.3h0M243.0 168.8h0M242.2 166.7h0M239.8 167.4h0M252.6 166.1h0M258.0 165.4h0M240.3 166.5h0M237.5 167.8h0M239.2 166.3h0M266.6 163.6h0M237.8 169.4h0M264.3 166.6h0M237.0 165.1h0M240.0 166.9h0M236.4 173.8h0M247.2 167.8h0M238.9 165.1h0M238.9 170.3h0M262.0 164.8h0M244.1 167.3h0M242.2 171.6h0M248.2 164.0h0M250.3 167.8h0M243.5 168.4h0M241.7 165.8h0M236.5 166.3h0M240.7 168.2h0M249.4 166.9h0M254.6 165.0h0M248.8 162.7h0M242.2 164.0h0M266.4 165.4h0M233.3 170.6h0M247.7 167.0h0M249.9 168.7h0M240.2 170.5h0M251.8 167.0h0M247.9 165.4h0M269.3 165.4h0M228.8 169.5h0M242.1 169.2h0M255.6 163.6h0M250.7 169.2h0M249.0 167.9h0M257.1 166.6h0M252.1 167.7h0M242.5 168.4h0M248.5 165.9h0M238.8 170.8h0M249.8 165.1h0M250.1 164.4h0M250.2 164.6h0M245.7 165.4h0M253.8 169.0h0M250.1 167.2h0M250.9 166.2h0M258.8 162.8h0M239.8 168.7h0M236.8 169.8h0M252.8 164.7h0M241.7 168.5h0M239.1 180.1h0M237.8 169.0h0M232.8 167.6h0M236.0 168.1h0M233.3 170.0h0M254.0 168.2h0M249.2 165.7h0M260.3 164.5h0M236.8 168.8h0M258.9 166.6h0M249.6 165.9h0M249.3 164.7h0M249.9 168.7h0M242.0 173.7h0M250.3 161.4h0M237.8 171.8h0M248.0 163.6h0M234.9 168.3h0M229.1 165.8h0M252.8 164.4h0M242.5 168.7h0M255.8 162.1h0M256.3 162.4h0M252.2 165.8h0M245.1 164.9h0M259.4 164.2h0M236.3 164.9h0M236.1 173.0h0M249.4 166.3h0M255.5 165.2h0M247.5 167.8h0M239.2 168.3h0M258.2 166.7h0M241.6 166.7h0M245.1 166.6h0M255.7 165.1h0M250.6 169.8h0M238.0 163.5h0M257.2 165.6h0M239.0 164.6h0M235.7 166.0h0M251.5 167.5h0M241.6 165.7h0M243.1 171.9h0M241.2 166.1h0M252.4 166.8h0M245.6 165.7h0M244.0 166.0h0M233.2 165.7h0M239.2 163.0h0M248.7 162.4h0M253.9 165.5h0M243.2 168.2h0M268.2 169.6h0M247.3 166.7h0M248.8 165.2h0M246.0 171.2h0M248.8 168.0h0M226.6 165.7h0M247.9 165.9h0M245.4 163.7h0M245.5 170.3h0M243.7 163.9h0M235.4 167.0h0M255.4 167.7h0M260.4 163.2h0M246.1 169.1h0M233.5 166.3h0M255.1 169.8h0M246.3 168.6h0M245.7 171.4h0M247.0 165.1h0M245.5 166.6h0M242.8 170.9h0M247.8 164.3h0M243.3 164.9h0M255.5 166.9h0M246.4 161.6h0M242.4 167.8h0M253.5 166.5h0M238.3 166.9h0M247.4 161.8h0M243.6 167.5h0M248.9 167.7h0M239.4 165.6h0M259.8 165.1h0M237.4 165.9h0M255.1 161.3h0M250.5 164.5h0M244.1 168.9h0M237.0 167.0h0M255.6 163.5h0M245.4 166.8h0M248.7 169.7h0M256.7 162.9h0M248.2 168.5h0M237.2 168.6h0M244.4 166.7h0M248.2 167.1h0M259.0 170.0h0M244.1 165.0h0M242.3 172.8h0M246.1 167.7h0M251.5 164.3h0M240.0 166.2h0M255.4 162.2h0M234.0 168.0h0M254.7 165.5h0M240.4 174.1h0M237.2 165.2h0M250.0 167.7h0M240.1 172.2h0M243.8 168.6h0M246.0 167.6h0M242.7 168.6h0M240.7 167.4h0M245.2 166.4h0M237.6 164.3h0M240.4 166.5h0M246.4 164.5h0M244.1 167.7h0M240.3 167.4h0M255.9 166.2h0M259.4 163.7h0M237.8 169.7h0M233.2 170.9h0M257.8 164.5h0M238.0 167.4h0M249.7 167.3h0M247.5 170.5h0M241.6 165.9h0M246.6 166.7h0M228.7 166.5h0M244.1 168.3h0M257.1 164.1h0M241.9 163.4h0M240.4 170.4h0M250.4 168.6h0M247.3 167.4h0M261.6 160.4h0M245.8 167.7h0M243.0 165.6h0M242.4 166.1h0M251.6 167.2h0M245.0 163.8h0M261.8 161.9h0M252.2 168.3h0M237.1 167.2h0" stroke="#1808f0"/><path d="M258.2 165.4h0M249.4 159.7h0M235.9 165.5h0M252.1 159.8h0M256.9 163.8h0M249.9 160.8h0M263.0 164.3h0M261.6 162.5h0M264.7 164.9h0M249.5 164.5h0M254.9 160.7h0M269.8 165.0h0M252.0 157.0h0M243.5 162.9h0M259.7 161.4h0M245.2 160.5h0M251.2 160.4h0M254.1 163.6h0M255.9 164.1h0M259.2 163.6h0M264.1 164.2h0M251.2 164.2h0M262.1 161.6h0M264.9 162.4h0M253.1 162.6h0M251.5 158.3h0M243.6 164.1h0M247.3 162.7h0M262.4 164.1h0M237.9 162.0h0M244.0 160.0h0M242.5 160.7h0M243.8 167.4h0M244.5 163.4h0M242.1 163.1h0M262.7 165.4h0M253.0 161.7h0M252.1 162.0h0M258.5 161.3h0M245.3 162.4h0M261.6 161.8h0M249.8 161.7h0M249.1 163.4h0M251.8 161.6h0M252.3 162.8h0M259.7 162.6h0M247.9 164.6h0M249.2 161.7h0M249.6 161.1h0M245.7 162.3h0M246.0 162.6h0M246.7 161.3h0M256.1 163.2h0M251.1 166.0h0M243.1 163.0h0M262.6 162.1h0M246.4 163.2h0M240.0 162.0h0M254.5 162.1h0M237.2 164.2h0M253.6 161.2h0M262.5 162.3h0M252.3 163.3h0M246.2 163.8h0M249.3 162.2h0M254.8 163.5h0M261.0 162.4h0M257.0 161.0h0M246.4 160.9h0M243.3 163.4h0M234.5 164.2h0M256.2 161.9h0M256.4 166.5h0M241.6 162.3h0M248.1 162.5h0M249.3 161.2h0M244.5 164.7h0M242.0 165.0h0M260.0 161.7h0M244.9 162.2h0M240.2 161.7h0M248.7 164.5h0M255.9 160.4h0M256.6 164.4h0M245.0 162.2h0M235.9 165.5h0M239.5 161.8h0M252.0 160.0h0M243.2 161.1h0M237.2 162.4h0M246.6 163.7h0M243.6 163.2h0M246.1 162.0h0M248.1 161.6h0M251.3 161.6h0M253.0 160.6h0M267.9 166.3h0M245.9 163.7h0M269.7 166.6h0M255.5 160.6h0M241.4 165.8h0M245.5 162.0h0M238.5 158.7h0M259.3 163.9h0M236.9 167.5h0M257.5 160.7h0M245.3 161.6h0M246.2 160.9h0M242.5 161.2h0M240.7 164.1h0" stroke="#3040f0"/><path d="M264.3 162.2h0M261.5 162.1h0M251.7 159.0h0M250.4 159.3h0M254.8 157.4h0M269.4 163.8h0M242.5 161.6h0M258.8 157.3h0M265.4 163.4h0M241.7 162.1h0M252.7 161.0h0M262.1 158.8h0M248.1 161.2h0M275.4 165.1h0M244.3 160.6h0M240.3 160.5h0M262.7 159.3h0M244.6 160.1h0M254.2 160.1h0M247.4 159.6h0M261.3 161.1h0M262.2 158.4h0M266.8 163.5h0M265.0 159.0h0M256.8 157.9h0M252.5 161.5h0M250.2 158.5h0M266.3 162.3h0M250.6 160.7h0M252.6 160.5h0M247.1 158.5h0M246.3 160.5h0M256.5 159.7h0M239.9 160.3h0M248.8 159.7h0M268.0 164.9h0M262.5 159.8h0M245.1 163.6h0M260.9 162.5h0M264.5 160.9h0M241.4 156.3h0M266.1 159.3h0M265.5 162.9h0M256.6 158.8h0M268.5 159.0h0M262.2 159.8h0M241.2 161.7h0M256.0 158.0h0M241.7 159.2h0M253.0 159.9h0M251.3 159.4h0M246.3 161.1h0M249.3 159.8h0M238.0 158.8h0M259.9 157.7h0M252.1 161.8h0M255.6 158.1h0M243.5 160.9h0M231.0 162.0h0M245.3 158.9h0" stroke="#4070f8"/><path d="M263.0 160.4h0M269.4 163.9h0M253.8 157.3h0M252.4 155.9h0M266.8 158.0h0M251.4 157.9h0M251.4 156.3h0M268.7 160.9h0M260.3 158.2h0M253.4 157.5h0M243.6 159.4h0M234.2 159.6h0M261.9 158.4h0M269.1 163.7h0M263.2 159.0h0M255.6 160.1h0M263.7 159.7h0M267.1 160.6h0M260.5 159.5h0M264.5 161.2h0M254.2 160.3h0M246.7 158.1h0M258.2 157.8h0M232.5 159.7h0M267.4 160.1h0M263.8 158.8h0M260.6 157.5h0M248.8 158.0h0M255.7 158.3h0M250.1 160.4h0M255.6 157.6h0M261.8 160.5h0M256.6 159.7h0M255.4 160.3h0M237.2 159.1h0M249.1 158.1h0M266.6 160.3h0M262.3 159.8h0M241.4 158.1h0M241.2 158.8h0M244.3 159.6h0M247.5 161.1h0M270.8 161.9h0M252.3 156.4h0M267.3 160.1h0M254.1 156.0h0M269.0 159.4h0" stroke="#4890f8"/><path d="M261.7 157.2h0M243.5 157.7h0M266.2 161.1h0M243.8 159.2h0M254.0 158.5h0M261.6 157.4h0M249.4 159.0h0M260.8 156.3h0M257.2 155.7h0M260.0 154.8h0M255.1 157.3h0M272.1 159.3h0M254.3 156.9h0M258.9 156.7h0M264.5 160.5h0M265.1 157.7h0M256.7 159.0h0M247.3 155.7h0M253.5 158.8h0M233.9 156.8h0M263.7 158.7h0M255.4 159.6h0M252.4 158.2h0M252.2 157.1h0M258.1 156.3h0M258.9 154.2h0M242.7 156.6h0M248.1 158.7h0M263.4 159.0h0M262.2 158.1h0M245.8 158.7h0M244.8 157.8h0" stroke="#50a8f8"/><path d="M257.7 156.5h0M268.0 159.9h0M248.5 157.8h0M263.4 157.5h0M267.4 156.2h0M268.7 161.3h0M264.3 154.5h0M257.8 155.8h0M259.2 157.2h0M254.6 156.8h0M271.5 160.7h0M259.8 156.0h0M259.3 155.8h0M245.0 157.9h0M259.2 156.1h0M264.0 158.2h0M260.1 155.3h0M264.3 155.9h0M244.1 156.7h0M246.5 156.7h0M252.6 158.0h0M262.3 157.9h0M247.4 156.9h0M266.4 158.7h0M242.4 156.5h0M260.3 155.8h0M261.5 156.0h0M257.3 156.8h0M256.8 156.8h0" stroke="#58c8f8"/><path d="M266.9 155.1h0M262.6 155.3h0M270.7 155.6h0M263.7 154.3h0M270.5 157.2h0M274.2 157.3h0M266.2 156.9h0M270.8 159.1h0M260.0 155.3h0M251.7 155.1h0M265.2 156.1h0M270.3 160.1h0M270.2 157.3h0M271.8 158.3h0M251.8 156.9h0M261.1 156.2h0M261.1 153.7h0M259.4 156.0h0M264.2 154.8h0M258.8 155.3h0M261.1 157.0h0M245.7 156.0h0M245.2 157.0h0M249.3 154.8h0M265.1 157.7h0M266.0 157.9h0" stroke="#68e8f8"/><path d="M270.2 159.1h0M265.8 155.0h0M263.8 155.3h0M267.7 156.4h0M265.7 156.4h0M260.7 155.5h0M243.2 155.6h0M264.0 156.3h0M262.7 155.3h0M263.6 154.4h0M265.4 156.5h0M243.3 156.7h0M257.0 156.0h0M251.7 155.7h0M265.2 155.4h0M259.5 153.6h0M247.0 154.7h0M263.7 154.6h0M256.2 153.5h0M269.5 157.7h0M262.0 154.9h0M268.3 158.7h0M262.0 155.7h0M255.9 156.3h0M270.1 157.4h0M256.5 155.2h0M261.3 155.4h0M259.0 153.4h0M259.4 155.3h0" stroke="#70f8f0"/><path d="M263.7 153.3h0M271.3 155.4h0M268.7 158.4h0M259.8 154.2h0M264.5 154.1h0M254.7 154.7h0M260.4 154.9h0M264.6 155.6h0M275.0 157.4h0M257.9 152.5h0M258.3 154.2h0M255.7 153.8h0M266.8 154.9h0M262.5 153.5h0M258.4 154.0h0M276.6 159.2h0M270.9 155.6h0M260.2 154.9h0M259.9 153.6h0M258.0 153.4h0M253.5 153.4h0M263.4 153.0h0M261.1 153.6h0M263.9 154.5h0M272.7 156.1h0M265.6 155.0h0M274.6 161.5h0M256.8 154.0h0M266.5 155.9h0M257.4 152.6h0M235.2 153.6h0M274.3 156.6h0M254.2 155.1h0M281.1 156.2h0" stroke="#70f8e0"/><path d="M271.9 157.6h0M272.1 156.3h0M249.8 153.6h0M268.5 153.8h0M266.0 154.5h0M260.5 151.7h0M260.3 152.9h0M246.0 152.8h0M268.0 155.0h0M277.2 158.2h0M257.0 152.3h0M257.8 153.8h0M255.7 153.3h0M262.1 153.6h0M261.1 152.8h0M262.6 154.3h0M266.0 154.2h0M263.5 152.9h0M269.1 154.2h0M251.3 153.3h0M270.5 154.4h0M263.4 153.3h0M263.5 152.6h0M263.4 153.3h0M242.2 152.9h0M274.3 157.2h0M251.0 155.0h0M267.8 156.1h0" stroke="#70f8c8"/><path d="M266.9 153.4h0M261.5 153.1h0M261.5 153.1h0M251.8 153.1h0M268.5 154.0h0M268.0 154.6h0M276.6 155.7h0M265.3 152.9h0M273.7 155.2h0M268.4 153.9h0M264.4 154.0h0M268.5 153.2h0M271.9 154.8h0M265.6 153.0h0M268.5 152.7h0M260.1 153.6h0M262.0 153.7h0M278.4 153.3h0M265.3 152.6h0M270.3 153.5h0M252.1 153.1h0M268.3 154.9h0M274.0 156.3h0M252.0 152.3h0M268.8 153.2h0M273.2 155.6h0M258.6 151.6h0M266.9 152.5h0M260.4 151.2h0M271.5 155.8h0M260.6 151.6h0M270.6 153.5h0" stroke="#68f8b0"/><path d="M242.8 151.1h0M271.0 153.3h0M269.8 152.1h0M269.8 153.1h0M256.0 151.8h0M271.1 154.7h0M266.0 151.2h0M276.1 153.9h0M263.9 151.0h0M276.0 153.5h0M268.4 153.1h0M258.8 152.3h0M260.4 151.5h0M270.6 151.8h0M255.5 153.4h0M250.5 150.8h0M263.0 151.9h0M269.3 153.3h0M269.5 153.1h0" stroke="#60f8a0"/><path d="M266.5 151.9h0M272.0 154.8h0M240.8 153.0h0M264.8 150.7h0M273.6 151.5h0M262.8 151.7h0M260.9 150.7h0M274.0 153.3h0M253.8 151.5h0M268.1 152.9h0M270.5 152.1h0M272.4 154.1h0M240.1 151.9h0M265.3 150.3h0M265.1 150.6h0M269.5 153.3h0M258.2 150.4h0M248.9 151.0h0M281.6 155.1h0M281.7 155.2h0M273.2 154.3h0M264.6 151.9h0M261.9 150.6h0M270.0 153.1h0" stroke="#58f880"/><path d="M258.7 150.9h0M261.2 150.8h0M262.4 149.5h0M266.0 151.7h0M267.3 151.4h0M273.2 151.6h0M281.2 154.5h0M261.7 150.6h0M275.3 153.1h0M273.2 154.6h0M278.2 151.7h0M264.1 150.9h0M277.2 156.0h0M248.8 149.7h0M270.8 152.0h0M275.5 152.9h0M260.8 151.1h0M262.5 151.2h0M270.3 154.0h0M277.8 152.8h0M271.0 153.7h0M262.0 150.1h0M274.9 149.6h0M266.0 149.7h0M275.1 152.1h0" stroke="#50f860"/><path d="M271.7 151.9h0M270.2 151.8h0M262.1 149.9h0M274.4 153.3h0M258.4 149.9h0M264.4 149.6h0M259.9 149.3h0M261.6 150.9h0M276.4 153.2h0M265.6 150.2h0M275.7 152.7h0M278.5 152.4h0M271.0 151.1h0M281.5 152.8h0M259.8 149.7h0M269.4 150.6h0M269.2 150.7h0M279.3 153.9h0M273.3 150.5h0M272.9 150.4h0M283.9 152.1h0" stroke="#40f840"/><path d="M271.0 150.1h0M267.5 150.1h0M277.3 152.0h0M268.4 150.4h0M276.6 151.3h0M283.6 157.9h0M273.5 152.1h0M271.7 149.7h0M267.6 149.9h0M278.0 151.9h0M270.8 150.2h0M273.5 151.5h0M253.7 147.9h0M264.3 149.0h0M269.1 150.3h0M271.5 149.5h0M276.7 149.8h0M267.1 146.6h0M289.7 148.5h0" stroke="#30f820"/><path d="M276.9 150.0h0M267.5 148.0h0M262.5 147.8h0M273.0 149.4h0M250.6 149.3h0M279.4 150.1h0M272.1 148.5h0M272.9 149.9h0M272.1 149.7h0M277.4 151.7h0M264.2 148.5h0M275.6 150.9h0M271.3 148.3h0M265.7 149.4h0M265.2 149.4h0M274.8 151.0h0M279.9 150.9h0M266.5 147.2h0M275.2 149.2h0M280.9 150.1h0M276.5 152.2h0M273.3 149.1h0M267.2 149.1h0M278.3 149.2h0M269.9 148.0h0M266.9 149.3h0M279.4 152.9h0M278.8 149.0h0M274.9 152.0h0M291.5 147.3h0M285.0 150.5h0" stroke="#38f818"/><path d="M277.5 151.2h0M274.0 149.8h0M277.4 148.6h0M271.6 148.9h0M261.0 147.8h0M269.8 148.5h0M279.6 150.3h0M278.9 149.9h0M255.3 149.1h0M280.0 150.2h0M276.7 150.0h0M262.4 148.0h0M278.1 150.4h0M274.6 148.1h0M266.9 148.8h0M276.8 147.6h0M292.7 145.5h0M288.1 143.2h0M285.9 149.5h0" stroke="#48f818"/><path d="M284.5 148.8h0M268.9 147.7h0M275.7 147.8h0M283.3 149.1h0M276.1 148.9h0M271.4 148.5h0M263.5 147.9h0M282.4 148.9h0M278.0 151.0h0M262.2 148.5h0M273.2 150.4h0M278.4 149.4h0M280.3 150.1h0M283.0 149.9h0M265.3 148.8h0M268.8 147.9h0M271.1 148.9h0M271.5 148.9h0M278.8 149.2h0M270.4 148.6h0M262.2 147.2h0M262.4 146.6h0M282.4 149.5h0M268.5 148.1h0M272.4 147.8h0M290.5 143.3h0M292.4 146.3h0" stroke="#60f018"/><path d="M282.1 148.2h0M267.4 145.7h0M276.0 147.9h0M278.6 147.5h0M284.6 147.8h0M275.0 146.8h0M275.7 148.6h0M273.0 148.1h0M263.7 145.9h0M269.1 146.7h0M267.7 147.8h0M273.5 147.1h0M283.6 148.9h0M275.2 147.6h0M272.4 146.1h0M284.4 150.1h0M274.8 149.4h0M281.0 149.4h0M261.6 146.5h0M282.5 148.9h0M269.4 148.2h0M279.4 149.8h0M275.1 146.0h0M270.3 147.0h0M270.3 147.8h0M262.7 147.8h0M284.7 149.8h0M280.0 147.5h0" stroke="#88f020"/><path d="M270.7 145.8h0M267.1 147.1h0M281.1 148.4h0M278.1 147.3h0M268.1 145.5h0M277.7 147.6h0M271.9 146.1h0M282.8 148.4h0M278.5 148.0h0M272.1 145.9h0M275.0 147.0h0M283.6 148.3h0M272.9 146.0h0M269.7 146.0h0M271.9 148.1h0M262.1 145.3h0M270.5 146.8h0M278.3 148.6h0M282.8 155.2h0" stroke="#a8f028"/><path d="M281.4 147.2h0M282.4 147.0h0M279.2 146.9h0M278.6 146.2h0M268.4 145.2h0M278.0 147.0h0M279.4 146.3h0M272.9 146.7h0M274.3 146.6h0M273.6 147.1h0M279.0 147.2h0M277.5 146.4h0M280.5 147.6h0M278.6 145.8h0M296.0 143.4h0M293.8 143.8h0M282.0 153.7h0" stroke="#c8f030"/><path d="M275.6 143.7h0M267.6 143.8h0M269.4 143.2h0M284.4 147.5h0M281.1 146.8h0M271.3 144.7h0M273.4 146.3h0M282.9 146.2h0M277.7 145.1h0M281.9 147.4h0M273.5 144.7h0M276.0 144.1h0M271.4 145.8h0M275.8 147.0h0M276.6 145.2h0M272.1 146.4h0M272.0 143.7h0M273.8 148.6h0M276.7 145.6h0M282.9 145.9h0M276.9 147.4h0M272.1 145.5h0M280.3 146.1h0M272.7 146.4h0M275.1 144.0h0M294.8 142.4h0" stroke="#f0f838"/><path d="M282.2 145.8h0M276.0 145.3h0M281.9 144.4h0M283.8 145.3h0M272.8 144.2h0M275.8 144.7h0M278.7 145.8h0M277.9 145.7h0M282.3 144.2h0M281.9 145.2h0M271.6 144.7h0M278.4 144.3h0M270.6 144.1h0M270.4 144.5h0M276.2 146.0h0M286.0 146.7h0M258.6 142.7h0M284.1 147.2h0M278.2 144.6h0M277.7 146.3h0M274.9 144.6h0M274.8 143.8h0M293.3 142.1h0" stroke="#f0e040"/><path d="M278.9 144.5h0M273.6 144.2h0M273.1 145.4h0M280.7 146.0h0M278.8 143.5h0M278.9 144.5h0M276.6 143.6h0M276.7 143.3h0M281.5 144.3h0M275.1 144.6h0M296.3 141.4h0" stroke="#e8c038"/><path d="M267.4 143.1h0M281.4 142.7h0M282.2 142.8h0M272.5 143.7h0M265.1 142.8h0M280.3 142.9h0M277.1 144.4h0M280.5 144.2h0M274.1 143.3h0M269.6 142.9h0M273.0 143.4h0M282.8 144.9h0M273.3 143.8h0M278.8 143.4h0M276.0 144.3h0M282.9 143.8h0M273.3 142.2h0M278.0 146.4h0M281.1 143.9h0M278.1 144.0h0M281.7 142.8h0M287.5 143.2h0M280.6 143.6h0M278.3 143.0h0M277.0 142.8h0M280.2 143.4h0M270.6 143.4h0" stroke="#f0a030"/><path d="M276.5 142.7h0M279.1 142.9h0M272.8 143.1h0M278.8 143.9h0M275.1 142.5h0M284.5 144.0h0M276.7 143.6h0M275.1 142.1h0M267.8 142.4h0M284.8 144.0h0M276.6 142.7h0M274.8 142.6h0" stroke="#f08a28"/><path d="M276.5 142.6h0M268.7 144.3h0M281.7 145.0h0M279.2 144.6h0M278.3 143.4h0M295.0 140.6h0" stroke="#f06a20"/><path d="M282.5 142.1h0M274.8 142.6h0M267.3 144.1h0M267.4 144.3h0M270.8 142.0h0M299.8 139.4h0" stroke="#f04c18"/><path d="M265.8 144.0h0M256.6 145.0h0M258.1 144.1h0M262.1 144.5h0M263.8 144.1h0M270.7 144.6h0M293.5 139.0h0M297.6 138.9h0M298.7 137.8h0M286.7 148.5h0" stroke="#f0300e"/><path d="M262.8 144.5h0M294.9 138.5h0M301.1 140.0h0" stroke="#e8200c"/></g>
<line x1="220.7" y1="183.7" x2="301.2" y2="131.6" stroke="#ff1010" stroke-width="1.2"/>
<line x1="190.3" y1="208.4" x2="306.8" y2="125.5" stroke="#000" stroke-width="1.0" stroke-dasharray="1.5 1.2"/>
<rect x="189.5" y="125.5" width="117.3" height="82.9" fill="none" stroke="#111" stroke-width="1.2"/>
<path d="M189.6 208.4v1.0M193.8 208.4v1.0M189.5 205.9h-1.0M197.1 208.4v1.0M189.5 203.5h-1.0M199.8 208.4v1.0M189.5 201.6h-1.0M202.1 208.4v1.0M189.5 200.0h-1.0M204.1 208.4v1.0M189.5 198.6h-1.0M205.8 208.4v1.0M189.5 197.3h-1.0M207.4 208.4v1.8M189.5 196.2h-1.8M217.7 208.4v1.0M189.5 188.9h-1.0M223.7 208.4v1.0M189.5 184.6h-1.0M227.9 208.4v1.0M189.5 181.6h-1.0M231.2 208.4v1.0M189.5 179.2h-1.0M233.9 208.4v1.0M189.5 177.3h-1.0M236.2 208.4v1.0M189.5 175.7h-1.0M238.2 208.4v1.0M189.5 174.3h-1.0M239.9 208.4v1.0M189.5 173.1h-1.0M241.5 208.4v1.8M189.5 171.9h-1.8M251.8 208.4v1.0M189.5 164.6h-1.0M257.8 208.4v1.0M189.5 160.4h-1.0M262.0 208.4v1.0M189.5 157.3h-1.0M265.3 208.4v1.0M189.5 155.0h-1.0M268.0 208.4v1.0M189.5 153.1h-1.0M270.3 208.4v1.0M189.5 151.4h-1.0M272.3 208.4v1.0M189.5 150.0h-1.0M274.0 208.4v1.0M189.5 148.8h-1.0M275.6 208.4v1.8M189.5 147.7h-1.8M285.9 208.4v1.0M189.5 140.4h-1.0M291.9 208.4v1.0M189.5 136.1h-1.0M296.1 208.4v1.0M189.5 133.1h-1.0M299.4 208.4v1.0M189.5 130.7h-1.0M302.1 208.4v1.0M189.5 128.8h-1.0M304.4 208.4v1.0M189.5 127.2h-1.0M306.4 208.4v1.0M189.5 125.8h-1.0" stroke="#111" stroke-width="0.8" fill="none"/>
<text x="201.6" y="219.9" font-size="9.6" fill="#222">10<tspan font-size="6.8" dy="-4.4">5</tspan></text>
<text x="174.6" y="199.7" font-size="9.6" fill="#222">10<tspan font-size="6.8" dy="-4.4">5</tspan></text>
<text x="235.7" y="219.9" font-size="9.6" fill="#222">10<tspan font-size="6.8" dy="-4.4">6</tspan></text>
<text x="174.6" y="175.4" font-size="9.6" fill="#222">10<tspan font-size="6.8" dy="-4.4">6</tspan></text>
<text x="269.8" y="219.9" font-size="9.6" fill="#222">10<tspan font-size="6.8" dy="-4.4">7</tspan></text>
<text x="174.6" y="151.2" font-size="9.6" fill="#222">10<tspan font-size="6.8" dy="-4.4">7</tspan></text>
<text transform="translate(171.1,167.5) rotate(-90)" text-anchor="middle" font-size="11.4" fill="#222">Estimation</text>
<text x="247.3" y="120.4" text-anchor="middle" font-size="9.5" font-weight="bold" fill="#111">D<tspan font-size="6.8" dy="2.4">NL2</tspan></text>
<text x="194.1" y="136.6" font-size="9.5" fill="#222">R=0.87</text>
<text x="194.1" y="149.1" font-size="9.5" fill="#222">RE=0.42</text>
<text x="247.7" y="191.9" font-size="9.4" fill="#f00">Slope=0.91</text>
<text x="247.7" y="203.2" font-size="9.4" fill="#f00">Intercept=0.61</text>
<text x="207.7" y="205.7" font-size="9.5" fill="#222" clip-path="url(#cp11)">1:1</text>
<clipPath id="cp12"><rect x="352.5" y="125.5" width="117.3" height="82.9"/></clipPath>
<g stroke-width="1.8" stroke-linecap="square" fill="none"><path d="M406.8 171.2h0M397.9 173.2h0M404.7 168.3h0M405.5 167.5h0M397.0 172.8h0M404.6 180.4h0M411.4 178.7h0M404.8 171.5h0M421.1 170.6h0M411.4 174.2h0M401.1 181.4h0M403.4 173.0h0M408.4 173.2h0M414.0 176.6h0M404.5 175.2h0M408.1 174.2h0M401.1 177.4h0M399.0 179.9h0M418.9 169.7h0M401.9 181.5h0M410.0 174.6h0M406.1 173.7h0M409.7 169.2h0M410.9 170.9h0M403.6 176.3h0M402.7 174.7h0M410.4 171.7h0M403.4 179.4h0M395.3 184.3h0M404.2 175.6h0M398.9 181.2h0M406.7 172.7h0M403.5 174.1h0M411.7 168.2h0M400.0 184.6h0M398.6 176.4h0M396.3 174.7h0M404.9 177.3h0M407.5 171.7h0M397.5 176.8h0M398.6 171.5h0M403.1 168.9h0M401.2 177.5h0M404.3 177.1h0M407.8 174.0h0M404.1 178.5h0M398.3 173.7h0M415.4 173.2h0M400.2 171.8h0M409.5 171.2h0M399.7 173.5h0M403.9 175.4h0M403.6 176.9h0M402.2 181.2h0M411.2 172.2h0M403.4 173.6h0M408.4 177.8h0M392.3 176.6h0M411.0 173.2h0M409.2 175.7h0M407.9 174.6h0M407.5 173.2h0M412.3 170.1h0M400.6 182.3h0M408.7 172.7h0M403.8 178.5h0M412.4 169.3h0M402.2 172.9h0M404.5 180.3h0M406.7 176.1h0M404.7 171.7h0M396.7 176.3h0M406.1 178.0h0M410.6 176.5h0M424.4 172.7h0M415.8 171.6h0M399.0 169.7h0M406.5 171.8h0M405.0 176.1h0M390.9 171.0h0M416.1 170.0h0M404.6 174.8h0M402.8 184.0h0M401.6 179.5h0M406.1 175.9h0M406.8 167.7h0M403.0 175.5h0M406.4 175.8h0M407.4 173.2h0M414.0 175.9h0M400.6 182.4h0M406.4 174.1h0M406.4 174.3h0M407.9 168.0h0M401.4 177.7h0M406.8 172.7h0M396.2 185.0h0M403.0 174.4h0M410.4 170.9h0M410.0 179.5h0M402.6 170.0h0M412.4 176.0h0M399.5 175.7h0M397.5 175.2h0M418.3 171.3h0M397.6 173.1h0M404.1 177.1h0M400.0 177.9h0M402.5 182.8h0M401.8 176.8h0M399.5 178.1h0M397.6 183.9h0M409.0 178.8h0M406.3 171.2h0M405.6 179.7h0M405.4 172.4h0M398.8 176.3h0M404.0 168.0h0M399.7 183.5h0M411.3 167.9h0M402.6 170.5h0M392.4 189.8h0M394.4 181.3h0M414.9 175.1h0M402.3 180.9h0M396.2 176.8h0M405.1 170.9h0M406.1 172.5h0M399.4 179.9h0M402.7 174.2h0M407.0 171.7h0M394.2 187.4h0M401.5 171.3h0M403.2 169.5h0M398.4 172.7h0M399.7 181.3h0M390.7 186.0h0M399.7 177.0h0M403.2 167.9h0M396.9 187.8h0M417.5 170.5h0M401.2 178.9h0M402.6 179.5h0M403.9 171.4h0M401.9 180.3h0M402.7 175.6h0M404.8 173.5h0M404.1 171.7h0M420.6 172.8h0M391.9 183.1h0M406.6 167.9h0M394.3 172.2h0M399.3 173.0h0M398.4 184.2h0M402.4 182.3h0M404.3 174.4h0M403.1 183.1h0M400.0 188.3h0M403.6 172.1h0M400.8 184.7h0M398.9 185.0h0M404.7 180.3h0M401.3 172.6h0M412.2 173.1h0M405.6 172.9h0M402.1 170.5h0M402.3 174.2h0M404.2 177.6h0M401.3 178.5h0M397.7 177.5h0M419.9 170.4h0M400.2 171.9h0M399.6 168.7h0M402.8 179.6h0M402.6 167.6h0M394.3 170.3h0M404.2 175.1h0M425.6 172.1h0M394.3 172.1h0M407.6 171.7h0M421.8 169.0h0M410.7 173.1h0M404.8 178.9h0M403.3 177.8h0M411.3 175.1h0M398.6 168.7h0M417.2 177.3h0M416.0 174.6h0M397.6 175.4h0M401.9 179.0h0M411.4 169.0h0M404.7 170.5h0M404.0 173.3h0M400.1 176.5h0M401.8 173.0h0M400.5 180.5h0M402.5 176.3h0M405.1 172.0h0M399.1 179.7h0M402.4 170.7h0M397.7 175.2h0M397.4 186.4h0M400.3 175.6h0M400.4 179.3h0M396.5 183.2h0M404.1 177.5h0M407.6 169.0h0M405.8 172.4h0M416.5 170.5h0M397.4 175.1h0M407.8 171.7h0M403.0 176.1h0M411.2 166.7h0M401.4 179.6h0M407.8 182.2h0M404.7 173.3h0M394.6 170.2h0M401.6 176.6h0M397.0 179.9h0M391.7 179.4h0M407.1 174.1h0M406.2 171.4h0M392.4 184.5h0M394.6 172.6h0M426.1 169.9h0M404.1 171.5h0M406.2 175.3h0M399.4 171.0h0M400.8 185.0h0M413.1 175.5h0M399.3 175.3h0M402.1 179.0h0M407.5 173.7h0M400.6 179.4h0M407.3 174.0h0M401.0 175.2h0M408.5 177.0h0M408.9 174.4h0M399.2 174.5h0M404.8 173.3h0M397.9 178.0h0M409.9 172.3h0M406.1 174.8h0M396.8 178.6h0M409.9 170.7h0M406.8 173.1h0M417.4 167.4h0M414.0 170.9h0M409.0 176.3h0M403.3 176.1h0M404.6 174.0h0M417.5 174.8h0M403.8 173.2h0M402.2 178.9h0M413.0 172.1h0M399.6 174.7h0M399.4 182.1h0M401.4 175.5h0M407.1 173.4h0M403.4 176.9h0M402.5 178.1h0M401.4 183.2h0M401.7 182.8h0M400.5 183.6h0M405.6 178.2h0M401.9 177.6h0M407.7 170.0h0M401.8 174.0h0M407.3 182.5h0M402.6 171.3h0M415.2 171.8h0M404.1 174.7h0M410.2 171.6h0M403.2 170.6h0M412.5 172.6h0M405.1 173.5h0M405.9 176.5h0M406.6 175.8h0M408.3 174.6h0M399.2 177.8h0M411.3 172.6h0M405.6 175.3h0M412.9 173.2h0M392.3 171.5h0M404.2 177.7h0M402.4 177.8h0M395.2 185.1h0M412.3 172.5h0M404.5 176.2h0M399.2 186.1h0M413.6 169.9h0M402.7 170.3h0M401.6 179.5h0M399.7 171.6h0M396.0 174.7h0M405.0 172.5h0M395.2 187.6h0M418.2 176.7h0M399.6 175.4h0M402.4 183.8h0M403.6 169.7h0M401.9 171.5h0M400.4 190.2h0M408.1 169.6h0M392.6 176.8h0M400.1 179.5h0M406.0 169.9h0M404.1 173.6h0M419.3 170.7h0M402.4 172.8h0M411.1 172.5h0M402.8 177.3h0M400.2 181.1h0M415.6 167.3h0M408.9 172.2h0M424.2 174.8h0M419.7 174.2h0M398.7 174.3h0M402.5 176.5h0M409.0 178.1h0M398.5 174.8h0M405.0 175.1h0M402.0 176.9h0M415.1 178.0h0M394.6 187.3h0M395.7 183.3h0M401.7 183.2h0M394.2 168.9h0M397.5 172.6h0M399.4 175.1h0M398.5 177.1h0M394.8 177.4h0M399.9 170.3h0M398.9 181.1h0M403.4 175.7h0M414.5 174.0h0M400.9 180.2h0M413.4 167.6h0M399.3 176.7h0M405.2 172.9h0M399.6 189.0h0M403.7 174.8h0M401.7 169.5h0M398.9 179.4h0M404.2 176.7h0M406.5 169.6h0M408.2 180.3h0M405.1 178.3h0M403.1 177.7h0M401.8 176.5h0M416.7 171.1h0M403.1 178.1h0M400.0 180.3h0M399.8 174.0h0M396.5 174.6h0M399.5 175.4h0M401.3 171.5h0M400.8 180.7h0M405.0 174.5h0M396.5 179.7h0M389.7 174.4h0M396.8 188.2h0M409.9 165.6h0M397.3 180.1h0M412.0 172.2h0M398.2 185.5h0M393.4 180.0h0M406.8 173.7h0M403.6 172.5h0M402.3 175.9h0M411.9 168.9h0M405.9 174.9h0M402.2 177.3h0M406.1 171.5h0M394.3 176.9h0M401.3 176.9h0M424.4 170.4h0M400.1 179.3h0M397.4 181.7h0M402.8 178.0h0M407.7 179.9h0M399.7 182.3h0M404.5 184.4h0M397.8 179.6h0M405.5 173.0h0M409.4 172.0h0M402.8 172.0h0M407.3 178.7h0M395.6 176.8h0M397.5 175.8h0M398.4 182.0h0M410.7 168.1h0M401.6 178.5h0M405.2 175.2h0M401.6 175.1h0M412.9 170.1h0M400.9 185.2h0M411.2 169.0h0M397.4 175.1h0M396.9 179.8h0M406.4 183.1h0M395.2 173.5h0M403.5 172.6h0M407.7 172.3h0M404.5 171.0h0M399.6 177.9h0M399.7 171.5h0M394.7 175.5h0M420.3 174.1h0M394.2 171.8h0M402.6 173.0h0M398.1 177.8h0M398.6 176.7h0M391.8 170.3h0M401.0 174.5h0M405.1 170.3h0M402.3 180.1h0M406.0 173.1h0M411.6 173.4h0M404.6 173.6h0M413.0 170.0h0M393.4 181.1h0M397.7 176.3h0M403.9 170.8h0M410.4 173.6h0M403.4 185.0h0M415.1 179.0h0M415.1 168.9h0M414.4 169.9h0M399.6 171.3h0M397.4 178.5h0M396.3 175.3h0M404.1 172.2h0M403.6 175.0h0M406.6 177.0h0M409.3 170.5h0M414.1 171.4h0M391.8 176.4h0M407.1 174.4h0M399.3 175.6h0M399.1 176.1h0M399.6 174.7h0M402.6 179.1h0M403.6 175.4h0M399.6 171.2h0M408.1 176.1h0M405.7 179.3h0M401.5 177.5h0M414.2 173.2h0M403.9 172.4h0M414.0 172.5h0M396.2 176.0h0M409.6 176.4h0M414.8 168.7h0M403.0 168.0h0M400.0 184.8h0M393.6 181.1h0M397.1 177.0h0M401.3 175.4h0M403.3 183.3h0M401.3 177.3h0M402.5 170.9h0M403.9 180.5h0M394.2 173.2h0M396.9 174.3h0M406.0 173.6h0M415.2 172.4h0M401.2 181.1h0M413.1 171.6h0M410.9 176.3h0M421.6 175.4h0M406.6 172.4h0M410.8 167.6h0M396.3 171.0h0M417.0 169.6h0M412.7 179.4h0M405.2 176.0h0M393.8 176.8h0M414.6 171.0h0M405.5 171.6h0M404.9 174.3h0M402.0 182.6h0M401.1 180.3h0M403.4 179.1h0M402.0 180.0h0M398.5 174.2h0M418.1 172.2h0M397.4 175.6h0M403.1 182.0h0M395.6 180.8h0M395.4 172.4h0M401.1 172.4h0M407.4 179.0h0M409.6 170.9h0M403.9 177.8h0M408.4 172.8h0M412.1 176.6h0M419.9 165.4h0M400.4 175.4h0M397.0 184.1h0M398.7 176.7h0M412.9 170.0h0M415.5 174.7h0M398.6 176.5h0M402.0 176.2h0M401.2 176.7h0M407.9 174.9h0M400.8 173.0h0M401.7 178.4h0M400.5 180.5h0M409.3 175.1h0M404.9 171.9h0M404.8 174.6h0M418.7 176.3h0M395.9 169.8h0M400.8 180.5h0M421.3 175.2h0M405.6 178.2h0M405.9 174.2h0M403.0 173.1h0M414.1 168.4h0M402.3 181.4h0M401.5 173.0h0M396.4 189.0h0M409.2 176.2h0M391.0 174.3h0M407.3 169.3h0M391.3 184.8h0M415.2 167.0h0M409.8 174.2h0M400.6 172.6h0M397.5 183.6h0M403.3 172.4h0M403.7 175.3h0M405.1 172.8h0M401.6 171.1h0M403.5 173.1h0M399.5 175.3h0M403.1 175.4h0M399.1 174.3h0M395.4 184.3h0M391.0 190.0h0M418.1 174.3h0M392.1 177.7h0M398.2 190.7h0M402.2 169.3h0M399.2 178.5h0M405.6 176.0h0M400.7 172.0h0M404.2 174.2h0M400.0 174.3h0M417.5 172.5h0M409.8 171.0h0M404.5 169.6h0M406.3 178.7h0M401.8 176.7h0M411.7 173.9h0M425.0 170.8h0M406.6 176.9h0M396.6 180.9h0M396.3 183.3h0M392.3 179.1h0M402.0 168.0h0M426.1 173.6h0M395.2 186.6h0M404.7 177.1h0M409.2 172.9h0M406.8 174.3h0M413.9 170.2h0M403.9 175.7h0M407.1 176.7h0M400.0 181.8h0M396.0 181.2h0M402.2 177.1h0M390.3 182.3h0M401.8 177.3h0M400.6 171.2h0M407.0 174.1h0M413.5 176.2h0M409.4 174.1h0M396.5 181.4h0M401.2 178.9h0M401.8 187.7h0M409.1 173.7h0M403.1 177.6h0M400.8 172.6h0M407.4 171.4h0M406.5 178.3h0M402.4 177.5h0M396.0 175.9h0M397.7 171.8h0M400.3 176.3h0M420.0 166.9h0M406.4 179.2h0M399.9 180.6h0M418.4 173.8h0M406.6 171.6h0M404.5 179.7h0M400.0 179.7h0M403.0 171.4h0M406.9 171.2h0M399.8 171.2h0M398.7 187.8h0M404.9 174.1h0M410.0 175.4h0M398.6 179.4h0M406.0 170.4h0M403.9 174.7h0M400.6 172.1h0M394.2 183.2h0M404.5 175.3h0M404.5 180.0h0M402.7 176.6h0M412.7 168.2h0M399.6 184.4h0M396.2 183.0h0M411.3 168.1h0M400.9 175.5h0M400.6 181.2h0M399.4 171.7h0M409.9 170.3h0M399.7 176.1h0M407.9 172.8h0M404.0 174.3h0M403.5 177.5h0M403.5 176.9h0M408.5 171.6h0M400.4 176.0h0M409.8 167.4h0M398.1 182.6h0M410.1 169.5h0M427.7 177.8h0M397.1 181.1h0M407.4 166.5h0M403.0 179.7h0M408.6 169.3h0M399.8 174.0h0M399.7 176.6h0M410.5 168.7h0M394.2 179.5h0M413.0 169.2h0M409.1 170.3h0M398.4 178.4h0M400.5 178.2h0M402.6 178.7h0M398.0 186.2h0M407.5 181.7h0M396.4 179.1h0M395.4 177.5h0M406.2 178.8h0M414.9 163.4h0M397.8 176.6h0M404.6 176.4h0M400.6 178.4h0M402.1 183.8h0M394.7 183.3h0M399.8 180.3h0M408.7 172.8h0M419.9 176.4h0M399.9 170.3h0M403.7 175.6h0M399.8 177.4h0M395.4 184.3h0M406.4 167.3h0M405.8 172.2h0M402.4 175.8h0M408.6 179.0h0M407.5 170.2h0M402.6 169.4h0M409.7 168.0h0M399.8 183.4h0M402.2 171.1h0M416.8 172.6h0M406.2 178.1h0M396.5 177.8h0M410.8 164.8h0M418.5 168.3h0M424.1 169.9h0M406.6 177.8h0M414.9 171.5h0M411.3 169.5h0M395.8 181.0h0M396.2 189.3h0M404.5 179.1h0M400.1 178.0h0M400.8 178.8h0M400.6 185.0h0M416.9 173.3h0M403.4 174.5h0M409.5 171.5h0M400.0 175.8h0M399.0 182.8h0M394.7 186.9h0M395.3 175.7h0M401.0 171.7h0M396.3 175.9h0M401.2 184.4h0M412.5 169.2h0M405.6 175.3h0M403.4 175.6h0M411.9 169.0h0M397.0 179.4h0M403.3 178.7h0M402.2 180.0h0M402.3 170.1h0M401.2 185.5h0M409.4 176.7h0M399.9 172.3h0M411.7 172.1h0M411.5 170.3h0M402.8 176.7h0M404.0 176.4h0M397.0 177.6h0M399.1 173.9h0M430.5 178.0h0M401.1 177.6h0M411.2 169.8h0M407.7 175.9h0M407.0 174.0h0M396.2 180.1h0M406.4 183.5h0M401.3 175.2h0M403.3 175.6h0M406.4 174.5h0M402.5 185.9h0M405.8 172.2h0M403.2 173.9h0M398.6 183.1h0M399.7 173.4h0M412.0 174.1h0M398.1 180.1h0M408.2 176.7h0M414.1 175.1h0M402.4 176.8h0M395.2 180.8h0M410.7 178.2h0M406.7 184.5h0M391.5 172.4h0M408.7 180.2h0M410.0 172.0h0M405.4 176.4h0M397.1 178.0h0M398.1 175.1h0M394.7 177.0h0M415.7 170.5h0M412.1 178.8h0M401.2 178.0h0M394.6 183.3h0M401.1 177.1h0M405.4 173.6h0M405.9 178.0h0M399.5 173.5h0M394.7 176.7h0M409.0 175.8h0M399.1 174.9h0M405.5 175.3h0M399.5 180.5h0M397.2 167.6h0M412.9 169.9h0M415.5 171.9h0M396.0 185.8h0M404.5 178.4h0M407.6 171.7h0M403.9 181.5h0M408.9 180.3h0M399.5 177.6h0M403.1 173.5h0M405.8 176.4h0M400.3 173.6h0M397.3 180.3h0M403.7 172.4h0M396.5 180.0h0M414.1 169.5h0M412.9 169.9h0M403.8 170.1h0M395.0 177.4h0M407.7 173.9h0M400.0 173.3h0M394.7 183.4h0M409.0 168.8h0M416.2 169.4h0M400.1 181.5h0M408.8 169.3h0M403.7 168.4h0M412.4 172.1h0M399.2 184.0h0M419.3 172.8h0M409.5 175.7h0M420.6 167.5h0M407.4 178.8h0M408.5 178.7h0M407.9 174.4h0M408.8 170.3h0M406.7 175.4h0M404.4 173.0h0M399.1 181.4h0M400.3 176.8h0M405.5 167.7h0M403.7 177.3h0M400.7 173.4h0M405.6 178.5h0M397.7 179.8h0M394.5 186.1h0M394.4 183.0h0M396.4 180.9h0M396.3 174.1h0M411.6 170.7h0M418.4 174.2h0M399.8 182.5h0M408.5 174.3h0M410.5 171.9h0M428.6 172.3h0M405.7 174.2h0M411.3 171.5h0M403.7 172.1h0M424.7 172.6h0M394.2 178.0h0M406.3 174.0h0M403.0 174.8h0M396.1 180.3h0M391.6 180.2h0M390.6 182.7h0M408.5 170.0h0M413.4 170.0h0M404.2 176.5h0M405.9 168.7h0M400.3 169.6h0M401.6 186.1h0M395.5 181.6h0M402.2 178.9h0M404.0 175.2h0M394.4 172.8h0M401.2 181.8h0M404.5 174.5h0M416.8 174.2h0M404.3 174.3h0M406.0 166.5h0M400.7 180.3h0M400.8 176.3h0M389.9 182.1h0M409.8 173.3h0M401.2 178.1h0M396.0 178.1h0M406.2 170.5h0M408.4 170.1h0M402.7 181.8h0M413.8 174.3h0M407.5 173.7h0M407.8 174.7h0M407.0 170.7h0M406.1 171.5h0M404.1 173.6h0M407.6 172.5h0M408.1 174.8h0M394.9 187.5h0M393.2 193.7h0M397.3 188.6h0M400.4 190.2h0M403.2 193.6h0M394.9 191.0h0" stroke="#1000f0"/><path d="M395.8 166.8h0M402.1 170.4h0M408.5 174.1h0M409.9 168.8h0M418.0 165.8h0M416.4 168.2h0M417.2 168.4h0M418.3 167.0h0M398.0 170.5h0M426.6 165.3h0M414.8 165.3h0M414.6 166.5h0M410.4 166.8h0M402.3 173.9h0M419.9 165.0h0M394.0 166.8h0M397.4 163.0h0M426.0 165.7h0M403.3 168.1h0M413.4 167.6h0M407.4 171.6h0M396.4 172.2h0M409.2 170.8h0M407.2 168.0h0M412.5 165.6h0M402.3 170.4h0M404.1 166.4h0M407.2 170.9h0M402.4 162.3h0M407.6 168.5h0M422.7 166.9h0M409.9 168.8h0M409.6 168.1h0M412.6 169.3h0M418.5 161.1h0M417.9 161.6h0M432.8 166.6h0M401.5 167.4h0M404.8 169.0h0M409.0 168.0h0M411.4 166.9h0M424.5 168.0h0M415.6 167.3h0M401.3 166.9h0M415.1 166.1h0M407.9 166.4h0M431.6 168.7h0M406.0 172.8h0M405.2 168.9h0M408.2 162.9h0M414.0 166.2h0M408.3 170.8h0M419.2 164.5h0M412.8 172.8h0M408.3 166.7h0M407.0 164.3h0M402.9 169.0h0M404.5 169.3h0M402.1 165.2h0M420.2 164.7h0M416.7 170.2h0M404.2 166.7h0M406.9 173.1h0M418.1 165.5h0M410.8 166.1h0M397.9 168.3h0M410.6 167.5h0M411.7 167.1h0M406.6 166.7h0M414.8 168.2h0M407.4 167.4h0M415.7 168.6h0M404.0 170.5h0M420.5 168.4h0M407.0 170.3h0M429.1 166.5h0M408.0 169.4h0M407.2 166.7h0M408.2 169.6h0M421.5 167.5h0M400.9 162.6h0M410.3 167.6h0M395.6 163.2h0M410.6 166.0h0M406.6 167.3h0M420.8 167.1h0M407.4 168.8h0M412.9 167.5h0M407.3 168.7h0M412.8 168.7h0M413.1 163.0h0M404.3 167.5h0M399.5 169.2h0M418.7 167.9h0M407.7 168.6h0M425.6 170.4h0M410.3 170.3h0M413.1 165.1h0M402.1 166.9h0M394.1 169.5h0M412.9 167.9h0M400.7 167.7h0M403.0 166.7h0M408.2 165.0h0M405.4 167.2h0M392.4 174.4h0M405.2 167.8h0M402.8 168.3h0M421.0 166.7h0M403.3 167.5h0M400.5 168.8h0M402.2 167.2h0M429.6 165.0h0M400.8 170.5h0M427.3 168.1h0M400.0 165.9h0M403.0 167.9h0M410.2 169.0h0M401.9 165.9h0M401.9 171.5h0M425.0 166.2h0M407.1 168.4h0M411.2 165.0h0M413.3 169.1h0M404.7 166.7h0M399.5 167.2h0M403.7 169.2h0M412.4 168.1h0M417.6 166.2h0M411.8 163.6h0M405.2 164.9h0M429.4 167.0h0M396.3 171.6h0M403.2 171.7h0M414.8 168.3h0M410.9 166.5h0M432.3 167.0h0M422.7 163.8h0M418.6 164.8h0M413.7 170.6h0M412.0 169.2h0M420.1 167.9h0M415.1 169.1h0M405.5 169.6h0M411.5 167.0h0M401.8 172.0h0M412.8 166.2h0M409.7 162.1h0M413.1 165.4h0M413.2 165.7h0M408.7 166.4h0M416.8 170.4h0M413.1 168.4h0M414.1 167.2h0M406.1 163.8h0M413.9 167.4h0M421.8 164.0h0M402.8 169.8h0M399.8 170.8h0M415.8 165.8h0M404.7 169.6h0M402.1 181.8h0M400.8 170.0h0M395.8 168.4h0M399.0 169.0h0M412.2 166.8h0M423.3 165.8h0M399.8 169.8h0M421.9 168.1h0M416.6 162.1h0M412.6 167.1h0M412.3 165.8h0M409.2 164.8h0M405.0 175.2h0M413.3 162.3h0M411.0 164.6h0M397.9 169.3h0M392.1 166.4h0M415.8 165.6h0M405.5 169.8h0M418.8 163.2h0M419.3 163.5h0M408.1 165.9h0M422.4 165.5h0M399.3 165.6h0M412.4 167.5h0M418.5 166.5h0M410.5 169.0h0M421.2 168.1h0M404.6 167.7h0M408.1 167.7h0M418.7 166.3h0M413.6 171.3h0M401.0 164.2h0M420.2 166.9h0M402.0 165.4h0M398.7 166.8h0M414.5 168.8h0M404.6 166.7h0M406.1 173.3h0M404.2 167.1h0M415.4 168.1h0M408.6 166.7h0M407.0 167.0h0M396.2 166.4h0M402.2 163.7h0M411.7 163.3h0M416.9 166.7h0M406.2 169.3h0M431.2 171.5h0M411.1 163.4h0M410.3 167.9h0M411.8 166.3h0M409.0 172.6h0M411.8 169.3h0M389.6 166.2h0M407.5 165.6h0M410.9 167.0h0M408.4 164.6h0M405.0 165.9h0M406.7 164.8h0M398.4 167.8h0M418.4 169.1h0M423.4 164.4h0M396.5 167.1h0M418.1 171.3h0M419.6 165.7h0M398.9 166.2h0M409.3 169.9h0M415.0 160.9h0M410.0 166.1h0M408.5 167.7h0M410.8 165.3h0M406.3 165.8h0M409.4 162.4h0M405.4 168.9h0M416.5 167.7h0M401.3 167.8h0M410.4 162.7h0M406.6 168.6h0M402.4 166.5h0M422.8 166.5h0M400.4 166.7h0M418.1 162.3h0M413.5 165.6h0M407.1 170.1h0M400.0 167.9h0M418.6 164.6h0M408.4 167.9h0M411.7 171.1h0M419.7 164.1h0M400.2 169.6h0M407.4 167.8h0M411.2 168.3h0M422.0 171.6h0M407.1 166.0h0M405.3 174.2h0M409.1 168.9h0M414.5 165.4h0M403.0 167.1h0M418.4 163.3h0M397.0 168.9h0M417.7 166.8h0M403.4 175.5h0M400.2 166.0h0M413.0 169.0h0M406.8 169.8h0M405.7 169.7h0M408.2 167.4h0M400.6 165.0h0M403.4 167.5h0M409.4 165.5h0M418.5 161.6h0M407.1 168.8h0M403.3 168.4h0M404.4 166.7h0M418.9 167.6h0M422.4 165.0h0M400.8 170.7h0M396.2 172.0h0M420.8 165.8h0M422.3 165.1h0M401.0 168.3h0M412.7 168.5h0M404.6 166.8h0M409.6 167.8h0M391.7 167.2h0M399.9 168.4h0M407.1 169.5h0M420.1 165.3h0M404.9 164.2h0M403.4 171.6h0M410.3 168.6h0M424.6 161.5h0M408.8 168.8h0M405.4 167.1h0M414.6 168.5h0M408.0 164.7h0M424.8 163.2h0M415.2 169.7h0M400.1 168.1h0" stroke="#1808f0"/><path d="M421.2 166.8h0M424.5 163.4h0M412.4 160.4h0M398.9 166.2h0M415.1 160.6h0M412.9 161.6h0M424.6 163.8h0M427.7 166.4h0M405.5 162.3h0M415.0 157.7h0M406.5 163.7h0M422.7 162.6h0M408.2 161.2h0M414.2 161.3h0M417.1 164.7h0M418.9 165.3h0M422.2 164.8h0M427.1 165.6h0M414.2 165.3h0M425.1 162.8h0M427.9 163.7h0M416.1 163.6h0M414.5 159.0h0M406.6 165.0h0M410.3 163.6h0M425.4 165.4h0M407.0 160.6h0M405.5 161.3h0M406.8 168.4h0M407.5 164.3h0M405.1 163.9h0M425.7 166.9h0M416.0 162.7h0M415.1 162.9h0M421.5 162.4h0M408.3 163.3h0M424.6 163.0h0M412.8 162.6h0M412.1 164.4h0M414.8 162.5h0M415.3 163.8h0M410.9 165.6h0M412.2 162.6h0M412.6 162.0h0M408.7 163.1h0M409.0 163.5h0M419.1 164.3h0M425.6 163.3h0M409.4 164.1h0M403.0 162.7h0M417.5 163.1h0M400.2 164.9h0M425.5 163.6h0M415.3 164.4h0M412.3 163.1h0M417.8 164.6h0M424.0 163.6h0M420.0 162.1h0M409.4 161.7h0M406.3 164.3h0M397.5 164.8h0M419.2 163.0h0M419.5 160.6h0M419.4 167.8h0M404.6 163.0h0M412.3 162.1h0M431.0 166.5h0M423.0 162.9h0M407.9 163.0h0M408.1 164.5h0M423.9 163.7h0M403.2 162.3h0M411.7 165.6h0M418.9 161.4h0M408.0 163.1h0M402.5 162.4h0M406.2 161.8h0M400.2 163.0h0M409.6 164.6h0M406.6 164.1h0M409.1 162.8h0M411.1 162.5h0M414.3 162.6h0M416.0 161.6h0M430.9 168.0h0M408.9 164.6h0M414.3 160.2h0M432.7 168.3h0M408.5 162.8h0M401.5 159.1h0M422.9 158.6h0M420.5 161.8h0M408.3 162.3h0M409.2 161.7h0M405.5 161.9h0M403.7 165.0h0" stroke="#3040f0"/><path d="M427.3 163.5h0M426.0 161.6h0M414.7 159.8h0M432.4 165.4h0M413.4 160.1h0M417.8 158.2h0M432.4 165.3h0M421.8 158.1h0M428.4 164.8h0M404.7 162.8h0M415.7 161.9h0M425.1 159.9h0M411.1 162.0h0M438.4 166.8h0M407.3 161.3h0M403.3 161.0h0M425.7 160.3h0M407.6 160.8h0M417.2 161.0h0M410.4 160.3h0M432.1 165.3h0M424.3 162.3h0M425.2 159.4h0M426.2 160.1h0M429.8 164.9h0M428.0 160.1h0M419.8 158.7h0M415.5 162.5h0M413.2 159.2h0M417.2 161.2h0M429.3 163.7h0M413.6 161.5h0M415.6 161.4h0M395.5 160.0h0M410.1 159.1h0M409.3 161.3h0M426.8 159.9h0M402.9 160.8h0M411.8 160.5h0M425.5 160.9h0M418.4 161.2h0M427.5 162.1h0M404.4 156.7h0M429.1 160.5h0M428.5 164.3h0M419.6 159.7h0M431.5 160.2h0M412.1 158.7h0M425.2 160.9h0M404.2 162.3h0M425.3 160.9h0M419.0 158.8h0M404.7 159.7h0M416.0 160.8h0M409.3 161.9h0M410.5 161.9h0M412.3 160.6h0M401.0 159.2h0M415.1 162.8h0M430.3 161.3h0M418.6 158.9h0M406.5 161.6h0M394.0 162.4h0M408.3 159.5h0" stroke="#4070f8"/><path d="M416.8 158.0h0M429.2 162.4h0M415.4 156.5h0M429.8 159.1h0M414.4 158.6h0M414.4 156.9h0M431.7 162.3h0M423.3 159.1h0M416.4 158.2h0M406.6 160.0h0M397.2 159.9h0M424.9 159.4h0M427.5 161.7h0M418.6 161.0h0M428.1 158.8h0M426.7 160.8h0M430.1 161.9h0M423.5 160.5h0M427.5 162.4h0M409.7 158.7h0M421.2 158.6h0M430.4 161.4h0M418.4 160.5h0M423.6 158.4h0M411.8 158.7h0M418.7 159.2h0M413.1 161.2h0M418.6 158.4h0M424.8 161.7h0M419.6 160.6h0M400.2 159.5h0M429.6 161.6h0M404.4 158.6h0M404.2 159.3h0M407.3 160.2h0M433.8 163.3h0M415.3 157.0h0M425.2 159.1h0M417.1 156.7h0M432.0 160.7h0" stroke="#4890f8"/><path d="M431.0 161.1h0M424.7 158.2h0M406.5 158.2h0M431.7 162.7h0M406.8 159.7h0M417.0 159.3h0M424.6 158.3h0M412.4 159.7h0M423.8 157.1h0M420.2 156.5h0M423.0 155.5h0M418.1 158.0h0M435.1 160.6h0M417.3 157.6h0M422.8 156.8h0M421.9 157.5h0M422.3 156.6h0M419.7 159.9h0M410.3 156.2h0M416.5 159.6h0M396.9 156.9h0M426.7 159.7h0M415.6 158.8h0M415.4 159.0h0M415.2 157.8h0M421.1 157.1h0M421.9 154.9h0M405.7 157.0h0M405.4 156.8h0M411.1 159.3h0M423.3 156.6h0M426.4 160.0h0M408.8 159.3h0M407.8 158.3h0" stroke="#50a8f8"/><path d="M420.7 157.3h0M425.6 156.1h0M411.5 158.4h0M426.4 158.4h0M430.4 157.3h0M427.3 155.4h0M429.2 158.0h0M420.8 156.5h0M422.2 158.0h0M417.6 157.5h0M433.3 161.4h0M434.5 162.1h0M414.8 157.5h0M408.0 158.4h0M422.2 156.9h0M427.0 159.3h0M423.1 156.0h0M427.3 156.8h0M407.1 157.1h0M409.5 157.2h0M424.1 157.9h0M425.3 158.9h0M428.1 158.7h0M410.4 157.5h0M429.4 159.8h0M424.5 156.8h0M420.3 157.6h0M419.8 157.6h0" stroke="#58c8f8"/><path d="M428.8 155.9h0M429.9 156.0h0M433.7 156.7h0M426.7 155.1h0M433.5 158.3h0M437.2 158.5h0M433.8 160.4h0M423.0 156.1h0M426.6 155.2h0M414.7 155.6h0M428.2 157.0h0M433.2 158.5h0M434.8 159.6h0M424.1 157.0h0M426.7 155.4h0M424.1 154.4h0M422.4 156.8h0M427.2 155.7h0M432.5 158.8h0M421.8 156.0h0M408.7 156.4h0M418.9 157.0h0M408.2 157.4h0M412.3 155.2h0M424.3 156.2h0M429.0 159.0h0M422.0 154.1h0" stroke="#68e8f8"/><path d="M433.2 160.4h0M426.8 156.1h0M430.7 157.4h0M434.3 156.5h0M422.8 154.9h0M428.7 157.4h0M423.7 156.3h0M406.2 156.0h0M427.0 157.2h0M425.7 156.1h0M428.4 157.5h0M406.3 157.1h0M420.0 156.7h0M414.7 156.2h0M427.6 156.5h0M428.2 156.3h0M422.5 154.3h0M410.0 155.1h0M421.3 154.8h0M419.2 154.0h0M421.4 154.6h0M433.9 156.7h0M421.0 154.0h0M425.0 155.7h0M416.5 153.9h0M431.3 159.9h0M426.4 153.8h0M425.0 156.6h0M424.1 154.3h0M426.9 155.3h0M428.6 155.9h0M433.1 158.5h0M437.6 163.1h0M419.8 154.6h0M419.5 155.9h0M422.4 156.0h0M437.3 157.8h0M417.2 155.6h0" stroke="#70f8f0"/><path d="M426.7 154.0h0M434.9 158.9h0M431.7 159.5h0M427.5 154.9h0M417.7 155.3h0M429.0 155.4h0M409.0 153.0h0M424.1 153.5h0M423.4 155.6h0M438.0 158.6h0M420.9 153.1h0M418.7 154.4h0M429.8 155.8h0M425.5 154.3h0M439.6 160.6h0M423.2 155.7h0M422.9 154.3h0M426.4 154.0h0M435.7 157.2h0M414.0 155.5h0M429.5 156.8h0M420.4 153.2h0M398.2 153.6h0M444.1 157.6h0" stroke="#70f8e0"/><path d="M435.1 157.4h0M412.8 154.0h0M431.5 154.7h0M423.5 152.3h0M423.3 153.5h0M439.6 156.9h0M431.0 156.0h0M440.2 159.6h0M436.7 156.3h0M420.0 152.8h0M420.8 154.4h0M427.4 154.8h0M418.7 153.9h0M431.5 154.0h0M434.9 155.9h0M425.1 154.3h0M425.6 155.0h0M429.0 155.1h0M426.5 153.6h0M432.1 155.1h0M414.3 153.8h0M433.5 155.4h0M425.0 154.4h0M426.4 154.0h0M433.3 154.4h0M415.1 153.5h0M426.5 153.3h0M405.2 153.0h0M437.3 158.5h0M436.2 156.7h0M434.5 156.9h0M430.8 157.1h0M433.6 154.5h0" stroke="#70f8c8"/><path d="M429.9 154.2h0M424.5 153.8h0M424.5 153.8h0M414.8 153.5h0M431.5 154.9h0M431.0 155.5h0M428.3 153.6h0M419.0 152.2h0M434.1 155.7h0M431.4 154.8h0M428.6 153.8h0M431.4 154.0h0M431.5 153.5h0M423.1 154.2h0M421.8 152.8h0M441.4 154.4h0M428.3 153.3h0M433.6 152.6h0M431.3 155.8h0M437.0 157.5h0M413.5 151.0h0M415.0 152.7h0M431.8 154.1h0M421.6 152.1h0M429.9 153.3h0M423.4 151.8h0M423.6 152.2h0" stroke="#68f8b0"/><path d="M405.8 151.2h0M434.0 154.2h0M432.8 152.9h0M432.8 154.0h0M429.0 151.9h0M439.1 155.0h0M426.9 151.6h0M431.1 153.7h0M433.5 153.0h0M439.0 154.6h0M432.5 154.2h0M423.4 152.0h0M418.5 154.0h0M426.0 152.5h0M436.2 155.4h0M432.3 154.2h0M427.6 152.6h0M433.0 153.9h0M432.5 153.9h0" stroke="#60f8a0"/><path d="M429.5 152.6h0M435.0 155.9h0M403.8 153.1h0M427.8 151.3h0M436.6 152.4h0M425.8 152.3h0M423.9 151.2h0M437.0 154.3h0M416.8 151.9h0M435.4 155.1h0M438.3 154.2h0M403.1 152.0h0M436.2 155.6h0M427.1 151.5h0M440.2 157.2h0M428.3 150.8h0M428.1 151.2h0M433.8 152.8h0M421.2 150.8h0M411.9 151.3h0M433.3 155.0h0M444.6 156.4h0M444.7 156.5h0M434.0 154.6h0M424.9 151.1h0M438.1 153.1h0" stroke="#58f880"/><path d="M434.7 152.8h0M421.7 151.4h0M424.2 151.3h0M425.4 149.9h0M429.0 152.3h0M427.4 150.1h0M430.3 152.2h0M424.6 151.4h0M436.2 152.4h0M439.4 154.3h0M444.2 155.8h0M424.7 151.1h0M434.0 151.8h0M441.2 152.7h0M411.8 149.8h0M432.2 151.4h0M438.5 153.9h0M442.3 155.1h0M423.8 151.6h0M425.5 151.8h0M440.8 153.9h0M436.3 151.3h0M425.0 150.6h0M437.9 150.4h0M429.0 150.3h0" stroke="#50f860"/><path d="M433.2 152.6h0M425.1 150.4h0M430.5 150.7h0M437.4 154.3h0M421.4 150.2h0M422.9 149.7h0M428.6 150.8h0M439.6 152.3h0M438.7 153.8h0M441.5 153.5h0M446.6 159.4h0M436.5 153.0h0M444.5 153.9h0M422.8 150.1h0M432.4 151.3h0M433.8 151.0h0M427.3 149.4h0M434.5 150.2h0M435.9 151.2h0M446.9 153.2h0" stroke="#40f840"/><path d="M436.0 150.2h0M434.0 150.9h0M440.3 153.0h0M442.4 151.0h0M431.4 151.1h0M440.4 152.7h0M428.7 150.0h0M428.2 149.9h0M434.7 150.4h0M439.5 153.2h0M430.6 150.5h0M436.3 149.8h0M441.0 153.0h0M441.3 150.1h0M436.5 152.4h0M416.7 148.0h0M432.1 151.0h0M439.7 150.7h0M430.1 147.0h0M441.8 149.9h0M452.7 149.6h0" stroke="#30f820"/><path d="M439.9 150.9h0M430.5 148.5h0M425.5 148.2h0M413.6 149.4h0M440.5 152.1h0M435.1 149.2h0M435.9 150.6h0M435.1 150.4h0M427.2 148.9h0M438.6 151.8h0M440.4 149.4h0M434.3 148.9h0M432.8 149.1h0M442.6 151.3h0M437.8 151.9h0M442.9 152.0h0M429.5 147.7h0M438.2 150.0h0M443.9 151.0h0M430.2 149.7h0M432.9 148.6h0M441.1 151.3h0M429.9 149.8h0M442.4 154.0h0M437.9 152.9h0M454.5 148.3h0M448.0 151.7h0" stroke="#38f818"/><path d="M447.5 149.8h0M439.1 149.7h0M437.0 150.6h0M434.6 149.6h0M424.0 148.2h0M426.5 148.3h0M445.4 149.9h0M441.9 150.9h0M441.0 151.9h0M418.3 149.3h0M425.2 148.9h0M443.0 151.2h0M446.0 150.9h0M439.7 150.9h0M425.4 148.4h0M434.1 149.5h0M434.5 149.6h0M437.6 148.8h0M429.9 149.3h0M439.8 148.3h0M455.7 146.5h0M451.1 143.9h0M448.9 150.5h0" stroke="#48f818"/><path d="M430.4 146.1h0M431.9 148.2h0M438.7 148.5h0M446.3 150.1h0M438.0 147.5h0M438.7 149.4h0M434.4 149.1h0M446.6 149.9h0M438.2 148.3h0M437.8 150.2h0M436.2 151.2h0M441.4 150.3h0M432.4 148.8h0M443.3 151.0h0M428.3 149.2h0M433.3 147.5h0M433.3 148.3h0M431.8 148.4h0M441.8 150.1h0M433.4 149.2h0M425.2 147.6h0M425.4 146.9h0M445.4 150.5h0M431.5 148.6h0M435.4 148.4h0M453.5 144.1h0M455.4 147.3h0" stroke="#60f018"/><path d="M445.1 149.1h0M439.0 148.6h0M441.6 148.2h0M447.6 148.8h0M436.0 148.8h0M426.7 146.2h0M432.1 147.1h0M430.7 148.3h0M436.5 147.7h0M431.1 145.8h0M435.4 146.6h0M447.4 151.1h0M444.0 150.4h0M424.6 146.7h0M445.5 149.9h0M441.5 148.8h0M442.4 150.7h0M438.1 146.6h0M438.0 147.6h0M425.7 148.2h0M447.7 150.9h0M434.9 148.7h0M443.0 148.3h0M441.3 149.5h0" stroke="#88f020"/><path d="M433.7 146.2h0M430.1 147.6h0M444.1 149.2h0M441.1 148.0h0M440.7 148.4h0M434.9 146.6h0M445.8 149.3h0M435.1 146.4h0M446.6 149.2h0M442.4 147.0h0M435.9 147.3h0M435.9 146.5h0M432.7 146.4h0M425.1 145.5h0M433.5 147.3h0M436.6 147.7h0M443.5 148.4h0M445.8 156.6h0" stroke="#a8f028"/><path d="M444.4 148.0h0M445.4 147.8h0M442.2 147.7h0M441.6 146.9h0M431.4 145.6h0M436.4 146.9h0M444.9 148.2h0M436.5 145.2h0M438.8 147.7h0M441.0 147.7h0M436.8 149.3h0M437.3 147.2h0M439.9 148.1h0M442.0 148.0h0M440.5 147.1h0M441.6 146.5h0M459.0 144.4h0M456.8 144.7h0M445.0 154.9h0" stroke="#c8f030"/><path d="M438.6 144.2h0M430.6 144.0h0M432.4 143.5h0M447.4 148.4h0M444.1 147.6h0M434.3 145.1h0M445.9 146.9h0M440.7 145.7h0M439.0 144.6h0M434.4 146.3h0M439.6 145.8h0M435.1 146.9h0M435.0 144.0h0M439.7 146.2h0M445.9 146.6h0M447.1 148.0h0M435.1 146.0h0M441.2 145.2h0M443.3 146.9h0M440.7 146.9h0M435.7 147.0h0M438.1 144.4h0M457.8 143.2h0" stroke="#f0f838"/><path d="M445.2 146.6h0M439.0 145.8h0M436.1 145.8h0M444.9 145.0h0M446.8 146.1h0M435.8 144.6h0M438.8 145.2h0M441.7 146.4h0M440.9 146.3h0M445.3 144.8h0M443.7 146.8h0M444.9 145.9h0M441.8 144.0h0M434.6 145.1h0M441.4 144.8h0M433.6 144.4h0M433.4 144.9h0M439.2 146.6h0M449.0 147.6h0M421.6 142.6h0M437.9 145.1h0M437.8 144.2h0M456.3 142.9h0" stroke="#f0e040"/><path d="M441.9 145.1h0M436.6 144.6h0M443.5 144.8h0M441.9 145.0h0M439.6 144.0h0M439.7 143.8h0M444.1 144.5h0M443.6 144.1h0M444.5 144.9h0M438.1 145.1h0M459.3 142.2h0" stroke="#e8c038"/><path d="M430.4 143.3h0M444.4 143.3h0M445.2 143.4h0M435.5 144.0h0M428.1 143.0h0M443.3 143.4h0M440.1 145.0h0M437.1 143.7h0M432.6 143.1h0M435.8 143.5h0M436.0 143.8h0M445.8 145.7h0M436.3 144.2h0M447.5 144.7h0M441.8 144.0h0M439.0 144.8h0M445.9 144.4h0M436.3 142.5h0M441.0 147.0h0M441.1 144.5h0M444.7 143.4h0M450.5 143.9h0M441.3 143.5h0M440.0 143.2h0M443.2 143.9h0M433.6 143.6h0" stroke="#f0a030"/><path d="M439.5 143.1h0M442.1 143.4h0M441.8 144.4h0M438.1 142.9h0M446.6 142.3h0M439.7 144.0h0M438.1 142.5h0M430.8 142.5h0M447.8 144.7h0M439.6 143.1h0M437.8 143.0h0M435.3 142.0h0" stroke="#f08a28"/><path d="M447.9 142.5h0M437.8 142.9h0M439.5 143.0h0M431.7 144.5h0M441.3 143.9h0M444.2 142.5h0M458.0 141.4h0" stroke="#f06a20"/><path d="M445.5 142.6h0M444.7 142.3h0M430.3 144.1h0M430.4 144.3h0M433.8 142.2h0M462.8 140.3h0" stroke="#f04c18"/><path d="M428.8 144.0h0M419.6 145.0h0M421.1 144.1h0M425.1 144.5h0M426.8 144.1h0M433.7 143.7h0M456.5 139.6h0M460.6 139.6h0M461.7 138.5h0M449.7 149.5h0" stroke="#f0300e"/><path d="M425.8 144.5h0M457.9 139.1h0M464.1 140.9h0" stroke="#e8200c"/></g>
<line x1="383.7" y1="185.2" x2="464.2" y2="132" stroke="#ff1010" stroke-width="1.2"/>
<line x1="353.3" y1="208.4" x2="469.8" y2="125.5" stroke="#000" stroke-width="1.0" stroke-dasharray="1.5 1.2"/>
<rect x="352.5" y="125.5" width="117.3" height="82.9" fill="none" stroke="#111" stroke-width="1.2"/>
<path d="M352.6 208.4v1.0M356.8 208.4v1.0M352.5 205.9h-1.0M360.1 208.4v1.0M352.5 203.5h-1.0M362.8 208.4v1.0M352.5 201.6h-1.0M365.1 208.4v1.0M352.5 200.0h-1.0M367.1 208.4v1.0M352.5 198.6h-1.0M368.8 208.4v1.0M352.5 197.3h-1.0M370.4 208.4v1.8M352.5 196.2h-1.8M380.7 208.4v1.0M352.5 188.9h-1.0M386.7 208.4v1.0M352.5 184.6h-1.0M390.9 208.4v1.0M352.5 181.6h-1.0M394.2 208.4v1.0M352.5 179.2h-1.0M396.9 208.4v1.0M352.5 177.3h-1.0M399.2 208.4v1.0M352.5 175.7h-1.0M401.2 208.4v1.0M352.5 174.3h-1.0M402.9 208.4v1.0M352.5 173.1h-1.0M404.5 208.4v1.8M352.5 171.9h-1.8M414.8 208.4v1.0M352.5 164.6h-1.0M420.8 208.4v1.0M352.5 160.4h-1.0M425.0 208.4v1.0M352.5 157.3h-1.0M428.3 208.4v1.0M352.5 155.0h-1.0M431.0 208.4v1.0M352.5 153.1h-1.0M433.3 208.4v1.0M352.5 151.4h-1.0M435.3 208.4v1.0M352.5 150.0h-1.0M437.0 208.4v1.0M352.5 148.8h-1.0M438.6 208.4v1.8M352.5 147.7h-1.8M448.9 208.4v1.0M352.5 140.4h-1.0M454.9 208.4v1.0M352.5 136.1h-1.0M459.1 208.4v1.0M352.5 133.1h-1.0M462.4 208.4v1.0M352.5 130.7h-1.0M465.1 208.4v1.0M352.5 128.8h-1.0M467.4 208.4v1.0M352.5 127.2h-1.0M469.4 208.4v1.0M352.5 125.8h-1.0" stroke="#111" stroke-width="0.8" fill="none"/>
<text x="364.6" y="219.9" font-size="9.6" fill="#222">10<tspan font-size="6.8" dy="-4.4">5</tspan></text>
<text x="337.6" y="199.7" font-size="9.6" fill="#222">10<tspan font-size="6.8" dy="-4.4">5</tspan></text>
<text x="398.7" y="219.9" font-size="9.6" fill="#222">10<tspan font-size="6.8" dy="-4.4">6</tspan></text>
<text x="337.6" y="175.4" font-size="9.6" fill="#222">10<tspan font-size="6.8" dy="-4.4">6</tspan></text>
<text x="432.8" y="219.9" font-size="9.6" fill="#222">10<tspan font-size="6.8" dy="-4.4">7</tspan></text>
<text x="337.6" y="151.2" font-size="9.6" fill="#222">10<tspan font-size="6.8" dy="-4.4">7</tspan></text>
<text transform="translate(334.1,167.5) rotate(-90)" text-anchor="middle" font-size="11.4" fill="#222">Estimation</text>
<text x="410.3" y="120.4" text-anchor="middle" font-size="9.5" font-weight="bold" fill="#111">D<tspan font-size="6.8" dy="2.4">NL5</tspan></text>
<text x="357.1" y="136.6" font-size="9.5" fill="#222">R=0.86</text>
<text x="357.1" y="149.1" font-size="9.5" fill="#222">RE=0.43</text>
<text x="411.1" y="191.9" font-size="9.4" fill="#f00">Slope=0.93</text>
<text x="411.1" y="203.2" font-size="9.4" fill="#f00">Intercept=0.44</text>
<text x="369.2" y="205.7" font-size="9.5" fill="#222" clip-path="url(#cp12)">1:1</text>
<clipPath id="cp13"><rect x="515.5" y="125.5" width="117.3" height="82.9"/></clipPath>
<g stroke-width="1.8" stroke-linecap="square" fill="none"><path d="M569.8 172.8h0M558.4 173.8h0M566.4 168.9h0M557.2 172.9h0M567.6 182.6h0M574.4 180.6h0M567.6 173.0h0M584.1 171.8h0M571.5 175.9h0M574.4 175.9h0M564.1 183.7h0M566.1 174.6h0M571.4 175.0h0M577.0 178.4h0M567.5 177.2h0M571.1 176.0h0M564.1 179.5h0M561.6 182.1h0M581.9 170.9h0M564.9 183.9h0M573.0 176.4h0M569.1 175.4h0M572.7 170.7h0M573.9 172.4h0M566.6 178.3h0M565.7 176.7h0M573.4 173.2h0M566.4 181.6h0M557.2 186.7h0M567.2 177.5h0M561.9 183.6h0M569.7 174.4h0M566.5 176.0h0M574.7 169.6h0M563.0 187.2h0M560.3 177.9h0M557.5 176.3h0M567.9 179.4h0M570.5 173.4h0M559.5 178.3h0M558.9 172.2h0M564.6 169.3h0M564.2 179.6h0M567.3 179.2h0M570.8 175.8h0M567.1 180.6h0M559.9 174.6h0M578.4 174.7h0M561.2 172.4h0M572.5 172.8h0M561.2 174.7h0M566.9 177.3h0M566.6 178.9h0M565.2 183.5h0M573.4 168.1h0M574.2 173.8h0M566.3 175.3h0M571.4 179.7h0M552.1 178.0h0M574.0 174.8h0M572.2 177.5h0M570.9 176.4h0M570.5 174.9h0M575.3 171.5h0M563.6 184.7h0M571.7 174.4h0M566.8 180.6h0M575.4 170.7h0M564.3 174.2h0M567.5 182.6h0M569.7 178.0h0M567.5 173.2h0M557.4 177.4h0M569.1 180.1h0M572.2 172.3h0M573.6 178.3h0M587.4 173.9h0M578.8 173.0h0M559.2 169.3h0M569.5 173.5h0M568.0 178.1h0M579.1 171.3h0M567.6 176.7h0M570.2 172.5h0M565.8 186.4h0M564.6 181.7h0M569.1 177.8h0M569.2 168.6h0M566.0 177.5h0M569.4 177.7h0M572.9 170.2h0M570.4 175.0h0M577.0 177.6h0M563.6 184.9h0M569.4 175.9h0M569.4 176.1h0M575.6 170.6h0M570.5 169.0h0M564.4 179.9h0M569.8 174.4h0M558.7 187.6h0M566.0 176.4h0M573.4 172.4h0M573.0 181.6h0M575.4 177.7h0M561.4 177.2h0M558.3 176.3h0M581.3 172.7h0M557.7 173.7h0M567.1 179.1h0M562.8 180.0h0M565.5 185.2h0M564.8 178.9h0M562.0 180.1h0M560.4 186.5h0M572.0 180.8h0M569.3 172.8h0M568.6 181.8h0M568.4 174.2h0M560.5 177.9h0M562.7 186.0h0M574.3 169.2h0M564.8 171.4h0M554.4 192.6h0M555.6 183.0h0M577.9 176.8h0M565.3 183.2h0M557.0 178.3h0M568.0 172.5h0M569.1 174.2h0M562.4 182.2h0M565.7 176.1h0M570.0 173.4h0M556.3 190.0h0M562.9 172.4h0M564.7 170.0h0M559.6 173.2h0M562.7 183.7h0M551.8 188.4h0M562.0 179.0h0M565.3 169.2h0M559.9 190.6h0M580.5 171.8h0M564.2 181.1h0M565.6 181.7h0M566.5 172.7h0M564.9 182.5h0M565.7 177.5h0M567.8 175.3h0M566.6 173.2h0M583.6 174.2h0M552.3 185.0h0M569.0 168.8h0M552.8 172.2h0M560.6 173.6h0M561.4 186.8h0M565.4 184.7h0M567.3 176.3h0M566.1 185.5h0M563.0 191.1h0M566.1 173.5h0M563.8 187.3h0M561.9 187.7h0M567.7 182.5h0M563.1 173.9h0M575.2 174.7h0M568.6 174.6h0M565.3 176.1h0M567.2 179.7h0M564.3 180.7h0M559.3 179.1h0M582.9 171.7h0M561.1 172.8h0M559.3 168.7h0M571.3 172.4h0M565.8 181.8h0M563.6 167.5h0M575.8 174.4h0M552.9 170.6h0M567.2 177.0h0M588.6 173.3h0M552.8 172.1h0M570.6 173.3h0M584.8 170.1h0M573.7 174.8h0M567.8 181.0h0M566.3 179.9h0M574.3 176.8h0M580.2 179.1h0M579.0 176.2h0M558.6 176.6h0M564.9 181.2h0M574.4 170.3h0M567.1 171.7h0M567.0 175.1h0M562.4 178.3h0M563.8 174.3h0M563.5 182.8h0M565.5 178.3h0M568.0 173.6h0M562.1 182.0h0M564.1 171.5h0M558.6 176.4h0M560.4 189.2h0M562.8 177.5h0M563.4 181.5h0M558.9 185.6h0M567.1 179.6h0M570.4 170.3h0M568.8 174.1h0M579.5 171.9h0M558.0 176.1h0M570.8 173.3h0M566.0 178.1h0M574.1 167.9h0M564.4 181.8h0M570.8 184.5h0M567.7 175.1h0M552.6 169.8h0M564.6 178.7h0M558.9 181.7h0M551.1 180.2h0M570.1 175.9h0M569.2 173.0h0M553.7 186.8h0M553.4 172.8h0M589.1 170.9h0M566.6 172.9h0M569.2 177.1h0M559.7 171.6h0M563.8 187.6h0M576.1 177.2h0M560.9 176.7h0M565.1 181.2h0M570.5 175.5h0M563.6 181.7h0M570.3 175.8h0M563.5 177.0h0M570.0 171.8h0M571.5 178.9h0M571.9 176.2h0M571.0 170.9h0M561.1 176.2h0M567.8 175.1h0M559.8 179.9h0M572.9 173.9h0M569.1 176.7h0M558.8 180.6h0M572.9 172.3h0M569.8 174.9h0M571.2 171.1h0M580.4 168.5h0M577.0 172.4h0M572.0 178.2h0M566.3 178.1h0M567.6 175.8h0M580.5 176.3h0M566.8 175.0h0M565.2 181.1h0M576.0 173.6h0M561.2 176.0h0M562.4 184.6h0M564.0 177.3h0M570.1 175.2h0M566.4 178.9h0M565.5 180.2h0M564.4 185.7h0M564.7 185.3h0M563.5 186.1h0M568.6 180.3h0M575.9 168.7h0M564.9 179.7h0M570.7 171.5h0M564.1 175.6h0M570.3 184.8h0M564.7 172.4h0M578.2 173.3h0M567.1 176.6h0M573.2 173.1h0M565.1 171.5h0M575.5 174.2h0M568.1 175.4h0M568.9 178.5h0M569.6 177.7h0M571.3 176.4h0M561.4 179.6h0M574.3 174.2h0M568.6 177.2h0M575.9 174.8h0M567.2 179.8h0M565.4 180.0h0M557.4 187.6h0M575.3 174.0h0M567.5 178.2h0M562.2 188.8h0M576.6 171.2h0M564.4 171.0h0M564.6 181.7h0M560.5 172.4h0M556.3 175.7h0M568.0 174.3h0M558.0 190.4h0M581.2 178.3h0M561.3 176.9h0M565.4 186.3h0M565.3 170.3h0M563.7 172.4h0M563.4 193.2h0M571.1 171.1h0M551.8 177.4h0M563.1 181.8h0M569.0 171.5h0M567.1 175.4h0M582.3 172.0h0M564.6 174.3h0M574.1 174.1h0M565.8 179.4h0M563.2 183.5h0M578.6 168.5h0M571.9 173.8h0M587.2 176.2h0M582.7 175.6h0M559.9 175.5h0M565.5 178.5h0M572.0 180.1h0M559.5 175.9h0M568.0 177.0h0M565.0 179.0h0M578.1 179.8h0M556.8 189.9h0M557.8 185.7h0M564.7 185.7h0M558.3 172.9h0M561.6 176.6h0M573.2 170.4h0M560.4 178.8h0M555.6 179.0h0M561.8 183.5h0M566.4 177.7h0M577.5 175.6h0M563.9 182.5h0M576.4 168.9h0M561.6 178.6h0M568.2 174.7h0M562.6 191.8h0M566.7 176.7h0M576.3 170.4h0M562.8 170.3h0M561.5 181.5h0M567.2 178.7h0M569.5 171.1h0M571.2 182.5h0M568.1 180.4h0M566.1 179.8h0M564.8 178.6h0M579.7 172.4h0M566.1 180.2h0M563.0 182.7h0M561.6 175.2h0M556.8 175.4h0M561.2 176.8h0M562.9 172.2h0M563.8 183.0h0M568.0 176.3h0M558.3 181.7h0M547.3 174.8h0M559.8 191.1h0M572.4 166.4h0M559.2 182.1h0M575.0 173.7h0M561.2 188.2h0M554.7 182.0h0M569.8 175.5h0M566.2 174.0h0M565.3 177.9h0M574.9 170.2h0M568.9 176.8h0M565.2 179.4h0M569.1 173.2h0M554.4 177.9h0M564.3 179.0h0M587.4 171.6h0M563.1 181.6h0M559.8 184.1h0M565.8 180.1h0M570.7 182.0h0M562.7 184.8h0M567.5 186.8h0M560.0 181.6h0M568.5 174.8h0M572.4 173.6h0M565.1 173.4h0M570.3 180.7h0M556.2 178.0h0M558.7 177.1h0M561.1 184.4h0M573.7 169.5h0M564.6 180.6h0M568.2 177.1h0M564.2 176.9h0M575.9 171.5h0M563.9 187.8h0M574.2 170.4h0M558.9 176.0h0M558.6 181.7h0M569.4 185.4h0M555.4 173.5h0M566.3 174.3h0M570.7 174.0h0M567.1 172.3h0M562.2 179.9h0M561.4 173.0h0M555.1 176.0h0M583.3 175.6h0M552.9 171.1h0M565.0 174.5h0M560.0 179.6h0M560.6 178.5h0M563.2 176.2h0M567.5 171.5h0M565.3 182.4h0M569.0 174.8h0M574.6 175.0h0M567.6 175.4h0M576.0 171.4h0M554.0 183.0h0M558.9 177.6h0M566.4 172.0h0M573.4 175.3h0M566.4 187.5h0M578.1 180.9h0M578.1 170.2h0M577.4 171.3h0M560.7 171.6h0M559.0 180.2h0M557.7 177.0h0M566.8 173.7h0M574.5 168.3h0M566.6 176.9h0M569.6 178.9h0M572.3 172.0h0M577.1 172.8h0M550.4 176.7h0M570.1 176.3h0M561.1 177.3h0M560.8 177.6h0M561.3 176.1h0M565.6 181.3h0M566.6 177.4h0M560.5 172.3h0M571.1 178.0h0M568.7 181.5h0M564.5 179.6h0M577.2 174.8h0M566.6 173.9h0M577.0 174.0h0M556.9 177.3h0M572.6 178.3h0M577.8 170.0h0M563.0 187.4h0M554.3 183.0h0M558.3 178.7h0M563.8 177.2h0M566.3 185.8h0M564.3 179.4h0M564.4 171.8h0M566.9 182.7h0M553.2 173.5h0M557.7 174.9h0M569.0 175.4h0M578.2 173.9h0M564.2 183.5h0M576.1 173.1h0M573.9 178.1h0M584.6 176.9h0M569.6 174.1h0M573.8 168.9h0M580.0 170.8h0M575.7 181.4h0M568.2 178.0h0M553.6 177.7h0M577.6 172.4h0M568.5 173.3h0M567.9 176.1h0M565.0 185.0h0M564.1 182.6h0M566.4 181.2h0M565.0 182.3h0M559.4 175.3h0M581.1 173.6h0M558.2 176.6h0M584.9 169.1h0M566.1 184.4h0M557.7 182.7h0M554.8 173.1h0M562.8 173.7h0M570.4 181.1h0M572.6 172.4h0M566.9 179.9h0M571.4 174.4h0M575.1 178.4h0M582.9 166.4h0M562.6 177.1h0M559.7 186.6h0M560.5 178.3h0M575.9 171.4h0M578.5 176.3h0M560.2 178.0h0M565.0 178.3h0M564.2 178.8h0M570.9 176.7h0M562.5 174.3h0M564.7 180.6h0M563.5 182.8h0M572.3 176.9h0M567.9 173.6h0M567.8 176.5h0M581.7 177.9h0M555.2 168.9h0M563.8 182.8h0M584.3 176.6h0M568.6 180.2h0M568.9 176.0h0M565.6 174.7h0M577.1 169.6h0M565.3 183.7h0M563.6 174.2h0M559.4 191.9h0M572.2 178.1h0M549.1 174.8h0M570.3 170.8h0M552.4 187.0h0M578.2 168.2h0M572.8 175.9h0M562.5 173.6h0M560.1 186.0h0M565.8 173.9h0M566.7 177.2h0M568.1 174.5h0M563.7 172.0h0M566.4 174.9h0M561.8 177.1h0M566.1 177.4h0M560.4 175.5h0M557.7 186.7h0M552.6 192.7h0M581.1 175.8h0M551.4 178.5h0M561.2 193.6h0M561.6 180.5h0M568.6 177.9h0M562.3 172.8h0M567.2 176.1h0M561.5 175.7h0M580.5 174.0h0M572.8 172.6h0M566.9 170.6h0M569.3 180.8h0M564.8 178.8h0M574.7 175.5h0M588.0 172.0h0M569.6 178.9h0M558.5 183.0h0M558.8 185.7h0M552.0 180.6h0M589.1 174.9h0M557.7 189.3h0M567.7 179.2h0M572.2 174.6h0M569.8 176.1h0M576.9 171.5h0M566.9 177.7h0M570.1 178.7h0M563.0 184.2h0M557.9 183.2h0M565.2 179.2h0M549.9 184.0h0M564.8 179.4h0M562.1 171.8h0M570.0 175.9h0M576.5 178.0h0M572.4 175.9h0M558.7 183.6h0M564.2 181.1h0M564.8 190.4h0M572.1 175.4h0M566.1 179.7h0M562.7 173.6h0M570.4 173.0h0M569.5 180.4h0M565.4 179.6h0M556.6 177.3h0M557.7 172.3h0M562.8 178.2h0M583.0 167.9h0M569.4 181.3h0M562.9 183.0h0M581.4 175.3h0M569.6 173.3h0M567.5 181.9h0M563.0 181.9h0M564.9 172.4h0M569.9 172.8h0M560.7 172.0h0M561.7 190.6h0M567.9 176.0h0M573.0 177.2h0M561.1 181.5h0M569.0 172.0h0M566.9 176.6h0M561.8 173.1h0M556.0 185.5h0M567.5 177.3h0M567.5 182.3h0M565.7 178.7h0M575.7 169.5h0M562.6 187.0h0M558.3 185.4h0M574.3 169.4h0M563.3 177.2h0M563.6 183.5h0M560.1 172.5h0M572.9 171.8h0M562.0 178.0h0M570.9 174.4h0M567.0 176.1h0M566.5 179.6h0M566.5 178.9h0M571.5 173.3h0M562.9 178.0h0M572.6 168.6h0M560.9 185.0h0M573.1 170.9h0M590.7 179.2h0M559.2 183.3h0M570.1 167.5h0M566.0 181.9h0M571.6 170.8h0M561.4 175.1h0M561.9 178.4h0M573.5 170.1h0M555.6 181.5h0M576.0 170.5h0M572.1 171.9h0M560.7 180.4h0M563.5 180.3h0M581.1 172.6h0M565.6 180.9h0M561.0 188.9h0M570.5 183.9h0M557.7 180.7h0M556.0 178.9h0M569.2 180.9h0M577.8 164.3h0M559.2 178.1h0M567.6 178.4h0M563.6 180.6h0M565.1 186.3h0M556.3 185.5h0M562.8 182.6h0M571.7 174.5h0M582.9 178.0h0M566.7 177.5h0M562.4 179.4h0M557.6 186.7h0M568.7 168.1h0M568.8 173.9h0M565.4 177.8h0M571.6 181.0h0M570.5 171.7h0M564.7 170.2h0M572.7 169.3h0M562.8 185.9h0M564.3 172.1h0M579.8 174.0h0M569.2 180.2h0M557.7 179.4h0M573.3 165.4h0M581.5 169.5h0M587.1 171.0h0M569.6 179.8h0M577.9 172.9h0M574.3 171.0h0M557.8 183.2h0M559.2 192.2h0M567.5 181.3h0M562.9 180.2h0M563.8 181.0h0M563.6 187.6h0M579.9 174.8h0M566.4 176.4h0M572.5 173.1h0M562.4 177.7h0M562.0 185.3h0M557.0 189.5h0M555.9 177.2h0M563.1 172.7h0M556.9 177.0h0M564.2 186.9h0M575.5 170.5h0M568.6 177.2h0M566.4 177.6h0M574.9 170.3h0M559.7 181.5h0M566.3 180.9h0M565.2 182.3h0M563.9 171.1h0M564.2 188.1h0M572.4 178.6h0M560.9 173.0h0M574.7 173.7h0M574.5 171.8h0M565.8 178.8h0M567.0 178.4h0M558.4 179.4h0M560.7 174.9h0M593.5 179.4h0M564.1 179.7h0M574.2 171.2h0M570.7 177.8h0M570.0 175.8h0M557.9 182.1h0M569.4 185.8h0M563.9 177.0h0M566.3 177.6h0M569.4 176.3h0M565.5 188.5h0M568.8 173.9h0M566.1 175.7h0M561.6 185.6h0M561.0 174.6h0M575.0 175.8h0M560.5 182.3h0M571.2 178.6h0M577.1 176.8h0M565.4 178.9h0M556.7 182.9h0M573.7 180.2h0M569.7 186.9h0M549.2 171.4h0M571.7 182.3h0M573.0 173.6h0M568.4 178.3h0M558.6 179.6h0M559.3 176.6h0M554.9 177.9h0M585.0 172.9h0M578.7 171.9h0M568.3 176.1h0M575.1 180.7h0M564.2 180.1h0M556.2 185.6h0M564.0 179.2h0M568.4 175.4h0M568.9 180.1h0M561.6 175.2h0M555.3 178.3h0M572.0 177.6h0M560.9 176.2h0M568.5 177.2h0M562.5 182.9h0M556.6 166.6h0M575.9 171.3h0M578.5 173.3h0M566.4 177.4h0M576.0 170.3h0M558.5 188.4h0M567.5 180.5h0M570.6 173.3h0M566.9 183.8h0M571.9 182.4h0M561.9 179.5h0M565.8 175.2h0M568.8 178.4h0M561.8 174.8h0M560.1 182.6h0M566.6 174.2h0M558.2 181.9h0M577.1 170.9h0M575.9 171.3h0M566.0 171.4h0M555.9 179.1h0M570.7 175.6h0M561.5 174.5h0M556.6 185.8h0M572.0 170.2h0M579.2 170.7h0M563.1 183.9h0M571.8 170.8h0M575.4 173.7h0M562.2 186.6h0M582.3 174.2h0M572.5 177.6h0M583.6 168.6h0M570.4 180.9h0M571.5 180.7h0M570.9 176.1h0M571.8 171.8h0M569.7 177.3h0M567.4 174.8h0M562.1 183.8h0M562.7 178.7h0M568.0 168.7h0M566.7 179.4h0M562.5 174.6h0M568.6 180.6h0M560.5 182.0h0M556.6 188.6h0M556.3 185.3h0M558.4 182.9h0M557.1 174.5h0M574.6 172.1h0M581.4 175.7h0M562.8 185.0h0M571.5 176.1h0M573.5 173.4h0M591.6 173.4h0M568.7 176.1h0M574.3 173.0h0M566.7 173.9h0M587.7 173.8h0M554.5 179.4h0M569.3 175.8h0M566.0 176.7h0M558.0 182.4h0M551.6 181.1h0M550.6 184.5h0M571.5 171.6h0M576.4 171.4h0M567.2 178.5h0M568.1 169.5h0M573.3 169.9h0M564.6 188.8h0M557.2 183.7h0M565.2 181.1h0M567.0 177.1h0M553.4 173.1h0M564.2 184.1h0M567.5 176.4h0M579.8 175.8h0M567.3 176.1h0M563.7 182.6h0M563.4 178.3h0M550.3 184.0h0M572.8 175.0h0M564.2 180.3h0M557.6 180.0h0M569.1 172.0h0M571.4 171.6h0M565.7 184.1h0M576.8 175.9h0M570.5 175.5h0M570.8 176.5h0M570.0 172.2h0M569.1 173.1h0M567.1 175.5h0M570.6 174.2h0M571.1 176.6h0M557.9 190.3h0M556.2 197.0h0M560.3 191.5h0M563.4 193.1h0M566.2 196.6h0M557.9 194.0h0" stroke="#1000f0"/><path d="M567.1 167.9h0M554.1 164.9h0M563.6 171.4h0M572.9 170.2h0M581.0 166.8h0M579.4 169.4h0M580.2 169.6h0M581.3 168.0h0M557.6 170.6h0M589.6 166.0h0M577.8 166.3h0M577.6 167.7h0M565.2 175.8h0M582.9 165.9h0M558.1 162.1h0M589.0 166.5h0M565.5 168.8h0M576.4 168.9h0M570.4 173.2h0M557.3 173.6h0M569.8 169.0h0M575.5 166.7h0M549.0 169.3h0M564.0 171.1h0M565.7 166.5h0M570.2 169.6h0M585.7 167.8h0M572.6 169.5h0M581.5 161.9h0M564.3 171.0h0M580.9 162.4h0M595.8 167.3h0M562.2 168.0h0M565.4 168.4h0M566.7 169.8h0M578.4 158.8h0M571.8 169.2h0M574.4 168.2h0M587.5 169.0h0M578.6 168.5h0M561.1 166.7h0M578.1 167.2h0M570.6 167.4h0M594.6 169.5h0M569.0 174.5h0M563.6 171.1h0M567.6 169.8h0M570.5 163.3h0M577.0 167.3h0M582.2 165.5h0M571.1 167.9h0M568.3 164.1h0M564.1 169.6h0M585.2 165.7h0M557.9 168.3h0M566.4 170.1h0M583.2 165.6h0M579.7 171.5h0M565.6 167.4h0M569.9 174.8h0M590.9 164.4h0M581.1 166.5h0M573.6 167.1h0M557.3 167.3h0M573.6 168.8h0M574.7 168.3h0M569.0 167.4h0M577.8 169.5h0M569.7 168.3h0M578.7 169.9h0M566.1 171.4h0M583.5 169.5h0M592.1 167.3h0M569.2 167.3h0M584.5 168.6h0M573.3 168.9h0M573.4 167.1h0M568.6 168.0h0M588.7 167.8h0M583.8 168.1h0M570.0 170.1h0M570.0 169.9h0M575.8 170.0h0M576.1 164.0h0M566.2 167.9h0M559.4 169.5h0M581.7 169.0h0M551.2 172.3h0M570.4 169.8h0M588.6 171.5h0M573.3 171.7h0M576.0 166.1h0M563.2 166.6h0M551.7 168.7h0M575.9 169.2h0M562.3 167.9h0M564.6 166.7h0M570.9 165.9h0M566.9 167.4h0M551.8 174.0h0M567.5 169.0h0M563.8 168.4h0M584.0 167.7h0M564.5 167.5h0M561.2 168.7h0M562.9 167.0h0M592.6 165.7h0M561.6 170.8h0M590.3 169.1h0M552.9 167.5h0M559.5 164.8h0M564.2 168.1h0M563.4 165.8h0M560.6 170.3h0M563.6 172.7h0M588.0 167.1h0M569.6 169.4h0M574.1 166.0h0M565.9 166.8h0M558.8 166.3h0M565.5 169.9h0M575.4 169.4h0M580.6 167.3h0M574.4 164.3h0M566.7 164.6h0M592.4 167.8h0M556.5 171.4h0M565.6 173.2h0M577.8 169.5h0M573.9 167.7h0M595.3 167.7h0M585.7 164.6h0M549.2 169.7h0M581.6 165.8h0M575.7 163.0h0M576.7 172.0h0M575.0 170.6h0M583.1 169.0h0M578.1 170.3h0M567.9 170.6h0M564.0 173.1h0M575.8 167.4h0M576.0 166.6h0M576.2 166.9h0M564.1 168.1h0M571.2 167.2h0M579.8 171.8h0M576.1 169.7h0M577.1 168.4h0M576.9 168.7h0M584.8 164.8h0M564.2 170.3h0M560.3 171.5h0M578.8 166.9h0M566.9 170.5h0M565.1 184.2h0M562.4 171.3h0M554.6 167.0h0M559.7 168.8h0M556.1 170.4h0M575.2 168.1h0M586.3 166.7h0M560.3 169.7h0M579.6 163.0h0M575.6 168.3h0M575.2 166.9h0M571.8 165.6h0M568.0 177.1h0M575.9 162.9h0M573.6 165.3h0M557.9 168.8h0M578.8 166.6h0M567.9 171.0h0M581.8 164.0h0M582.3 164.3h0M570.6 166.6h0M585.4 166.4h0M560.0 164.9h0M575.4 168.7h0M581.5 167.5h0M573.5 170.4h0M563.5 170.2h0M584.2 169.2h0M566.2 168.1h0M570.8 168.7h0M581.7 167.4h0M576.6 172.7h0M562.4 167.9h0M583.2 167.9h0M563.4 165.3h0M577.5 170.1h0M565.8 166.8h0M569.1 175.1h0M565.9 167.2h0M578.4 169.3h0M571.0 167.6h0M568.9 167.6h0M556.8 165.5h0M574.5 164.2h0M579.9 167.8h0M568.9 170.5h0M594.2 172.6h0M573.9 164.3h0M573.3 169.2h0M574.8 167.5h0M572.0 174.3h0M574.8 170.7h0M570.4 166.8h0M573.9 168.2h0M570.4 164.7h0M567.9 164.8h0M557.9 166.9h0M581.4 170.3h0M586.4 165.2h0M582.6 166.6h0M572.3 171.3h0M578.0 161.7h0M560.6 170.3h0M572.9 167.2h0M571.1 168.8h0M573.4 166.1h0M568.2 166.0h0M570.8 162.1h0M567.7 169.8h0M579.5 168.9h0M562.6 167.8h0M573.1 163.4h0M569.0 169.7h0M563.8 166.3h0M585.8 167.5h0M581.1 163.1h0M576.5 166.7h0M570.1 171.6h0M560.0 167.3h0M581.6 165.6h0M571.1 168.9h0M574.7 172.6h0M582.7 165.0h0M560.4 169.9h0M569.9 168.6h0M574.2 169.6h0M568.8 166.3h0M572.1 170.3h0M577.5 166.5h0M563.5 166.8h0M581.4 164.2h0M556.6 168.2h0M580.7 167.9h0M559.5 164.7h0M569.7 171.2h0M568.5 171.2h0M565.2 168.9h0M570.8 168.4h0M560.3 164.0h0M565.0 167.6h0M572.0 166.3h0M581.5 162.4h0M569.7 170.0h0M565.4 169.1h0M581.9 168.7h0M585.4 165.9h0M561.7 171.1h0M556.5 171.8h0M583.8 166.8h0M585.3 166.0h0M561.4 168.7h0M575.7 169.8h0M566.6 167.3h0M572.5 169.1h0M569.9 170.8h0M583.1 166.2h0M565.6 172.7h0M561.0 169.6h0M587.6 162.1h0M571.8 170.3h0M567.5 166.7h0M567.1 167.4h0M577.6 169.8h0M570.3 165.2h0M587.8 163.9h0M578.2 171.0h0M561.3 168.0h0" stroke="#1808f0"/><path d="M584.2 167.8h0M587.5 164.1h0M575.1 161.0h0M557.6 165.8h0M578.1 161.4h0M552.1 164.8h0M575.3 161.9h0M587.6 164.5h0M590.7 167.2h0M563.1 161.2h0M585.7 163.3h0M570.7 161.6h0M576.6 161.5h0M580.1 165.7h0M581.9 166.3h0M590.1 166.4h0M562.8 164.4h0M577.2 166.4h0M588.1 163.4h0M579.1 164.6h0M577.5 159.7h0M568.7 165.3h0M573.1 164.4h0M588.4 166.2h0M569.2 160.7h0M555.1 161.2h0M569.1 169.4h0M570.1 165.1h0M566.0 164.2h0M579.0 163.6h0M578.1 163.8h0M584.5 163.2h0M570.3 163.4h0M587.6 163.7h0M575.4 163.1h0M575.0 165.4h0M592.8 165.6h0M577.8 163.5h0M578.3 164.8h0M573.8 166.7h0M574.6 163.0h0M570.7 163.2h0M571.4 164.0h0M572.2 162.6h0M582.1 165.2h0M568.0 163.9h0M588.6 164.0h0M571.9 164.8h0M580.5 164.0h0M560.6 163.8h0M588.5 164.3h0M578.3 165.4h0M575.2 164.0h0M550.3 164.2h0M580.8 165.6h0M587.0 164.4h0M583.0 162.8h0M571.5 161.8h0M567.5 163.9h0M562.1 163.7h0M558.3 165.7h0M582.2 163.8h0M582.5 161.3h0M582.4 169.0h0M561.7 162.4h0M575.2 162.9h0M594.0 167.2h0M544.9 164.5h0M566.3 165.8h0M586.0 163.6h0M569.0 162.6h0M570.4 165.0h0M586.9 164.5h0M554.5 165.6h0M574.6 166.6h0M581.9 162.1h0M570.7 163.8h0M557.7 165.9h0M568.2 161.9h0M591.5 164.9h0M571.8 165.0h0M560.1 165.7h0M567.8 163.7h0M571.0 162.8h0M573.8 163.2h0M577.2 163.3h0M578.9 162.3h0M593.9 168.8h0M570.7 164.9h0M579.0 161.6h0M577.3 161.1h0M595.7 169.1h0M566.4 167.1h0M585.9 159.1h0M577.9 163.5h0M548.7 164.5h0M559.7 168.6h0M566.3 163.8h0M583.5 162.5h0M565.9 160.7h0M564.5 164.4h0" stroke="#3040f0"/><path d="M590.3 164.1h0M589.0 162.1h0M577.3 160.1h0M595.4 166.0h0M580.1 158.9h0M576.7 161.2h0M581.1 159.1h0M595.4 166.0h0M567.1 162.1h0M567.3 163.3h0M584.8 158.6h0M591.4 165.5h0M578.7 162.8h0M588.1 160.4h0M573.7 162.6h0M601.4 167.4h0M560.2 160.9h0M567.7 161.5h0M569.7 161.8h0M588.7 160.9h0M569.5 160.7h0M580.3 161.8h0M573.2 161.0h0M595.1 165.9h0M587.3 162.9h0M588.2 159.8h0M589.2 160.6h0M591.0 160.6h0M581.6 161.8h0M582.8 159.3h0M578.4 163.3h0M574.7 158.5h0M580.2 161.9h0M563.2 161.3h0M592.3 164.3h0M576.3 162.2h0M578.6 162.2h0M572.8 159.6h0M571.7 161.7h0M557.0 163.2h0M589.8 160.4h0M586.6 158.9h0M574.6 161.1h0M565.1 162.0h0M588.5 161.5h0M564.5 161.8h0M561.6 160.8h0M582.7 161.3h0M581.4 162.0h0M590.5 162.7h0M561.2 162.4h0M592.1 160.9h0M582.7 160.4h0M594.5 160.6h0M588.2 161.4h0M588.3 161.5h0M582.1 159.5h0M571.6 162.2h0M574.9 161.1h0M570.7 163.0h0M593.3 161.8h0M581.6 159.5h0M568.2 161.3h0M569.9 162.0h0M570.7 161.2h0M571.2 160.4h0" stroke="#4070f8"/><path d="M592.2 163.0h0M578.2 156.8h0M592.8 159.4h0M565.1 161.7h0M577.7 159.6h0M577.2 157.2h0M594.7 162.7h0M580.1 160.0h0M586.3 159.6h0M583.6 157.3h0M579.3 158.7h0M568.7 160.1h0M585.1 158.1h0M587.9 159.9h0M590.5 162.3h0M589.7 161.3h0M593.1 162.4h0M586.5 161.1h0M590.5 163.0h0M572.1 158.9h0M584.3 159.3h0M593.4 161.9h0M581.5 161.2h0M563.7 159.7h0M581.6 159.7h0M575.6 161.6h0M581.6 159.0h0M587.8 162.3h0M578.6 158.8h0M584.3 157.8h0M574.7 159.1h0M565.7 162.0h0M592.6 162.1h0M566.7 159.7h0M573.1 162.4h0M596.8 163.8h0M578.1 157.4h0M588.2 159.6h0M580.3 157.3h0M595.0 161.0h0" stroke="#4890f8"/><path d="M594.0 161.5h0M587.7 158.6h0M594.7 163.2h0M569.0 159.9h0M584.2 157.3h0M587.6 158.7h0M575.1 160.2h0M586.8 157.6h0M586.3 156.1h0M581.1 158.6h0M580.8 158.3h0M580.5 158.4h0M563.0 159.2h0M586.0 157.4h0M585.4 157.1h0M591.1 159.2h0M582.8 160.7h0M573.2 156.7h0M579.5 160.3h0M589.7 160.2h0M573.9 158.6h0M578.9 159.8h0M578.4 159.7h0M585.2 155.5h0M573.7 159.8h0M586.4 157.1h0M565.2 158.3h0M568.9 159.7h0M562.0 158.3h0M583.4 158.1h0M560.2 156.4h0M589.4 160.5h0M583.0 158.3h0M571.3 159.6h0" stroke="#50a8f8"/><path d="M583.9 157.9h0M588.7 156.5h0M574.4 159.1h0M568.1 157.7h0M589.4 158.8h0M593.4 157.5h0M585.3 158.6h0M586.2 156.7h0M598.1 160.9h0M578.5 157.0h0M597.5 162.5h0M577.9 158.3h0M569.9 158.2h0M585.3 157.4h0M590.0 159.7h0M586.4 156.6h0M590.3 157.0h0M572.4 157.8h0M587.1 158.3h0M564.3 154.5h0M588.3 159.4h0M575.9 156.4h0M567.3 156.4h0M592.4 160.2h0M567.6 156.7h0M587.5 157.2h0M569.6 158.1h0" stroke="#58c8f8"/><path d="M589.8 155.3h0M590.4 155.6h0M592.2 158.2h0M596.8 160.7h0M591.2 157.3h0M596.3 161.8h0M596.2 158.7h0M597.8 159.8h0M578.2 157.3h0M587.2 157.5h0M586.0 155.0h0M573.2 156.0h0M582.4 154.6h0M587.5 154.9h0M585.6 157.4h0M554.1 156.8h0M584.6 154.8h0M585.2 156.7h0M582.1 157.7h0M570.8 157.8h0M591.1 159.1h0M572.2 156.9h0M564.4 156.5h0M583.0 156.8h0M587.5 156.6h0M592.0 159.3h0M585.5 154.9h0M585.6 156.6h0M551.0 159.3h0" stroke="#68e8f8"/><path d="M596.2 160.7h0M591.8 156.1h0M592.9 156.2h0M589.8 156.3h0M596.7 156.8h0M596.5 158.5h0M586.2 155.6h0M580.9 155.9h0M591.7 157.7h0M586.9 156.8h0M590.0 157.5h0M588.8 156.5h0M589.7 155.5h0M591.4 157.8h0M555.5 156.8h0M583.1 157.2h0M584.6 154.0h0M584.8 155.6h0M582.0 155.1h0M589.7 155.6h0M584.9 155.4h0M590.2 155.9h0M595.5 159.1h0M586.4 155.0h0M567.4 155.2h0M588.2 156.1h0M579.7 154.5h0M594.3 160.2h0M588.1 156.9h0M587.5 154.8h0M570.7 156.2h0M558.5 156.7h0M600.6 163.4h0M582.8 155.0h0M584.1 154.1h0M580.3 156.2h0" stroke="#70f8f0"/><path d="M589.9 154.3h0M593.7 157.7h0M600.2 158.6h0M576.1 154.8h0M594.7 159.9h0M587.1 152.9h0M583.7 153.8h0M567.8 156.4h0M582.1 154.6h0M587.5 154.1h0M586.7 156.2h0M590.6 156.8h0M591.2 156.5h0M588.7 154.7h0M578.0 154.9h0M586.5 156.3h0M556.2 154.3h0M579.0 154.7h0M589.7 154.1h0M589.9 155.6h0M591.6 156.1h0M596.1 158.7h0M576.8 155.9h0M607.1 157.5h0" stroke="#70f8e0"/><path d="M597.3 156.6h0M597.9 159.1h0M590.6 155.1h0M592.0 155.5h0M586.8 154.2h0M571.6 153.0h0M582.8 153.4h0M584.1 155.0h0M588.3 154.8h0M588.7 155.4h0M592.8 155.9h0M586.5 154.9h0M602.6 160.8h0M596.9 156.8h0M588.3 154.9h0M589.6 154.4h0M589.8 153.6h0M589.6 154.4h0M577.6 152.4h0M578.9 154.0h0M592.5 157.0h0M587.1 152.5h0M600.3 157.9h0" stroke="#70f8c8"/><path d="M598.1 157.6h0M594.5 154.7h0M587.9 154.3h0M587.8 154.3h0M577.9 154.0h0M566.1 153.7h0M594.0 156.1h0M603.2 159.7h0M590.5 155.0h0M601.0 158.7h0M592.0 155.2h0M589.8 153.9h0M585.3 153.5h0M587.0 152.7h0M585.0 151.8h0M582.2 155.0h0M598.7 157.3h0M600.3 158.6h0M584.9 152.6h0M587.2 152.9h0M593.8 157.3h0" stroke="#68f8b0"/><path d="M592.9 154.2h0M567.1 154.1h0M594.0 155.6h0M587.5 151.9h0M591.4 153.8h0M594.5 154.0h0M597.9 155.9h0M580.4 152.7h0M591.7 153.9h0M595.1 155.2h0M596.5 155.4h0M576.2 151.6h0M591.4 153.5h0M594.3 155.9h0M600.0 157.6h0M575.5 152.3h0M599.2 156.7h0M597.5 157.0h0" stroke="#60f8a0"/><path d="M585.3 152.1h0M585.4 151.3h0M589.2 152.8h0M594.5 154.9h0M602.6 156.9h0M599.7 156.3h0M597.1 155.7h0M592.2 152.1h0M594.4 154.8h0M590.3 152.0h0M594.4 154.0h0M594.5 153.5h0M596.3 154.4h0M565.8 151.2h0M589.4 153.0h0M594.8 154.1h0M592.9 153.3h0M590.9 152.9h0M588.5 151.8h0M596.6 154.4h0" stroke="#58f880"/><path d="M591.2 151.6h0M567.3 150.1h0M587.8 152.0h0M589.1 150.5h0M597.0 154.1h0M586.8 150.5h0M588.2 152.0h0M595.8 154.0h0M588.4 151.8h0M586.3 150.7h0M594.1 153.7h0M590.6 151.9h0M591.7 151.2h0M591.4 151.6h0M595.5 154.2h0M587.4 152.3h0M589.0 152.3h0M581.1 149.5h0M595.3 154.1h0M588.6 151.2h0M557.3 150.5h0M595.5 153.9h0" stroke="#50f860"/><path d="M592.7 152.7h0M598.0 155.9h0M592.3 152.5h0M588.8 151.1h0M578.0 151.1h0M595.8 152.8h0M602.1 154.8h0M598.4 155.1h0M564.9 151.3h0M604.4 154.2h0M596.6 152.4h0M599.2 155.3h0M596.0 153.9h0M609.9 152.8h0" stroke="#40f840"/><path d="M591.0 150.6h0M593.4 152.2h0M600.0 154.2h0M596.5 152.9h0M602.0 154.4h0M599.2 155.6h0M603.2 157.2h0M590.9 149.9h0M596.3 155.0h0M597.0 154.6h0M592.4 150.6h0M615.7 148.8h0" stroke="#30f820"/><path d="M589.3 148.8h0M599.6 152.2h0M592.0 151.1h0M581.8 149.9h0M601.3 154.0h0M596.8 152.7h0M595.3 151.3h0M607.6 156.2h0M607.7 156.4h0M617.5 147.4h0M611.0 151.1h0" stroke="#38f818"/><path d="M597.7 152.6h0M596.2 152.5h0M593.7 150.8h0M600.4 154.1h0M599.2 152.2h0M590.8 149.4h0M607.2 155.5h0M587.9 149.0h0M609.6 159.4h0M592.0 150.3h0M591.6 150.2h0M597.0 151.7h0M595.4 151.2h0M593.9 150.6h0M589.3 149.1h0M601.5 153.7h0M603.8 153.7h0M593.7 147.4h0M601.1 152.9h0M618.7 145.5h0M614.1 142.8h0M611.9 149.9h0" stroke="#48f818"/><path d="M593.9 148.7h0M602.4 154.1h0M594.5 151.1h0M601.7 153.6h0M590.3 149.0h0M599.5 152.8h0M593.1 148.0h0M589.0 149.6h0M588.7 147.7h0M604.2 152.4h0M593.5 149.9h0M596.8 150.7h0M605.3 154.9h0M595.2 150.9h0M589.1 148.3h0M593.2 149.9h0M597.5 150.0h0M589.5 147.6h0M599.3 151.0h0M600.9 150.1h0M598.9 151.0h0M616.5 142.9h0M618.4 146.3h0" stroke="#60f018"/><path d="M597.0 150.6h0M602.6 152.0h0M604.5 153.2h0M597.4 148.7h0M596.1 149.1h0M607.5 153.6h0M597.7 150.1h0M596.1 148.5h0M589.5 148.8h0M599.5 152.2h0M593.4 149.6h0" stroke="#88f020"/><path d="M599.0 149.8h0M594.0 146.3h0M603.3 152.7h0M598.2 148.9h0M598.9 150.3h0M590.6 146.8h0M598.1 150.1h0M603.4 152.4h0M602.5 152.9h0M599.3 149.4h0M604.0 152.6h0M591.9 149.7h0M595.1 148.4h0M589.3 146.4h0M602.7 150.3h0M594.9 148.7h0M600.9 152.7h0M608.8 156.4h0" stroke="#a8f028"/><path d="M602.9 150.5h0M595.3 148.3h0M603.5 151.8h0M605.4 150.5h0M600.0 150.2h0M601.6 151.5h0M597.7 149.3h0M594.1 148.5h0M600.8 151.6h0M601.2 149.6h0M594.8 146.2h0M595.7 148.8h0M604.3 149.6h0M596.7 147.5h0M597.3 149.3h0M597.6 149.4h0M596.6 149.1h0M600.6 148.3h0M605.4 153.8h0M604.8 149.4h0M622.0 143.1h0M619.8 143.5h0M608.0 154.7h0" stroke="#c8f030"/><path d="M597.6 148.9h0M593.5 147.7h0M603.4 148.9h0M595.5 147.2h0M605.6 150.9h0M605.9 151.5h0M606.9 150.6h0M598.5 146.2h0M599.2 150.9h0M602.7 150.5h0M596.5 148.3h0M604.1 150.9h0M602.8 147.8h0M598.5 148.0h0M620.8 141.9h0" stroke="#f0f838"/><path d="M601.7 148.0h0M597.0 146.1h0M602.1 149.3h0M601.0 146.9h0M599.1 148.4h0M595.2 145.9h0M599.6 147.3h0M601.2 147.8h0M604.9 150.4h0M604.0 151.5h0M598.2 146.5h0M600.8 149.8h0M606.0 150.8h0M604.4 149.8h0M606.3 150.5h0M598.3 146.2h0M601.1 146.0h0M596.2 146.4h0M598.0 148.4h0M596.8 147.2h0M619.3 141.6h0" stroke="#f0e040"/><path d="M602.0 148.1h0M601.7 148.9h0M608.4 149.3h0M609.0 150.3h0M601.0 147.1h0M599.1 147.0h0M604.8 149.6h0M599.2 146.2h0M608.4 149.9h0M622.3 140.8h0" stroke="#e8c038"/><path d="M608.1 148.5h0M610.5 149.1h0M609.3 149.5h0M604.6 147.6h0M597.8 145.1h0M609.6 149.3h0M599.5 146.5h0M604.1 147.4h0M603.7 147.8h0M610.4 150.6h0M599.6 144.7h0M607.0 149.9h0M604.5 148.2h0M605.4 150.3h0M597.7 146.1h0M606.0 147.7h0M600.4 146.7h0M599.7 147.2h0M598.8 146.7h0M604.3 148.9h0" stroke="#f0a030"/><path d="M605.2 147.0h0M610.6 148.1h0M604.6 146.2h0M607.1 148.6h0M597.9 144.7h0M608.5 149.3h0M596.8 144.8h0M601.8 147.1h0M604.0 147.1h0M605.4 146.3h0M598.3 146.7h0M610.7 150.3h0M599.8 148.9h0M602.7 145.6h0M602.9 147.5h0M598.3 145.7h0M605.0 147.4h0M603.5 146.5h0M606.5 147.8h0M604.6 145.8h0" stroke="#f08a28"/><path d="M602.0 145.2h0M607.4 147.3h0M599.3 145.4h0M608.4 147.1h0M602.0 144.8h0M607.9 145.1h0M603.7 145.0h0M608.8 148.7h0M602.1 145.2h0M609.6 148.5h0M602.6 145.1h0M608.9 145.8h0M604.2 144.5h0M606.3 146.1h0M603.7 146.3h0M602.8 145.2h0M600.8 145.1h0M600.8 144.7h0M621.0 140.0h0" stroke="#f06a20"/><path d="M608.2 145.8h0M609.8 145.2h0M610.4 147.7h0M604.7 145.7h0M607.1 146.9h0M603.9 145.6h0M608.9 146.2h0M607.9 147.5h0M599.5 144.7h0M602.3 146.0h0M595.5 146.2h0M607.8 145.2h0M613.5 145.5h0M593.3 144.9h0M593.4 145.1h0M625.8 138.6h0" stroke="#f04c18"/><path d="M606.7 146.0h0M604.5 144.7h0M612.0 146.8h0M610.1 147.3h0M591.8 144.8h0M582.6 145.8h0M584.1 144.9h0M588.1 145.3h0M589.8 144.9h0M619.5 138.1h0M623.6 138.0h0M624.7 136.8h0M612.7 148.8h0" stroke="#f0300e"/><path d="M599.8 145.4h0M607.4 145.2h0M606.3 145.0h0M605.2 145.1h0M608.8 144.8h0M604.8 144.7h0M604.0 146.4h0M588.8 145.3h0M620.9 137.5h0M627.1 139.3h0" stroke="#e8200c"/></g>
<line x1="546.7" y1="188.2" x2="627.2" y2="129.9" stroke="#ff1010" stroke-width="1.2"/>
<line x1="516.3" y1="208.4" x2="632.8" y2="125.5" stroke="#555" stroke-width="0.75" stroke-dasharray="1 0.9"/>
<rect x="515.5" y="125.5" width="117.3" height="82.9" fill="none" stroke="#111" stroke-width="1.2"/>
<path d="M515.6 208.4v1.0M519.8 208.4v1.0M515.5 205.9h-1.0M523.1 208.4v1.0M515.5 203.5h-1.0M525.8 208.4v1.0M515.5 201.6h-1.0M528.1 208.4v1.0M515.5 200.0h-1.0M530.1 208.4v1.0M515.5 198.6h-1.0M531.8 208.4v1.0M515.5 197.3h-1.0M533.4 208.4v1.8M515.5 196.2h-1.8M543.7 208.4v1.0M515.5 188.9h-1.0M549.7 208.4v1.0M515.5 184.6h-1.0M553.9 208.4v1.0M515.5 181.6h-1.0M557.2 208.4v1.0M515.5 179.2h-1.0M559.9 208.4v1.0M515.5 177.3h-1.0M562.2 208.4v1.0M515.5 175.7h-1.0M564.2 208.4v1.0M515.5 174.3h-1.0M565.9 208.4v1.0M515.5 173.1h-1.0M567.5 208.4v1.8M515.5 171.9h-1.8M577.8 208.4v1.0M515.5 164.6h-1.0M583.8 208.4v1.0M515.5 160.4h-1.0M588.0 208.4v1.0M515.5 157.3h-1.0M591.3 208.4v1.0M515.5 155.0h-1.0M594.0 208.4v1.0M515.5 153.1h-1.0M596.3 208.4v1.0M515.5 151.4h-1.0M598.3 208.4v1.0M515.5 150.0h-1.0M600.0 208.4v1.0M515.5 148.8h-1.0M601.6 208.4v1.8M515.5 147.7h-1.8M611.9 208.4v1.0M515.5 140.4h-1.0M617.9 208.4v1.0M515.5 136.1h-1.0M622.1 208.4v1.0M515.5 133.1h-1.0M625.4 208.4v1.0M515.5 130.7h-1.0M628.1 208.4v1.0M515.5 128.8h-1.0M630.4 208.4v1.0M515.5 127.2h-1.0M632.4 208.4v1.0M515.5 125.8h-1.0" stroke="#111" stroke-width="0.8" fill="none"/>
<text x="527.6" y="219.9" font-size="9.6" fill="#222">10<tspan font-size="6.8" dy="-4.4">5</tspan></text>
<text x="500.6" y="199.7" font-size="9.6" fill="#222">10<tspan font-size="6.8" dy="-4.4">5</tspan></text>
<text x="561.7" y="219.9" font-size="9.6" fill="#222">10<tspan font-size="6.8" dy="-4.4">6</tspan></text>
<text x="500.6" y="175.4" font-size="9.6" fill="#222">10<tspan font-size="6.8" dy="-4.4">6</tspan></text>
<text x="595.8" y="219.9" font-size="9.6" fill="#222">10<tspan font-size="6.8" dy="-4.4">7</tspan></text>
<text x="500.6" y="151.2" font-size="9.6" fill="#222">10<tspan font-size="6.8" dy="-4.4">7</tspan></text>
<text transform="translate(497.1,167.5) rotate(-90)" text-anchor="middle" font-size="11.4" fill="#222">Estimation</text>
<text x="573.4" y="120.4" text-anchor="middle" font-size="9.5" font-weight="bold" fill="#111">D<tspan font-size="6.8" dy="2.4">NL4-PM</tspan></text>
<text x="518.7" y="135.0" font-size="9.5" fill="#222">R=0.87</text>
<text x="518.7" y="147.5" font-size="9.5" fill="#222">RE=0.42</text>
<text x="571.9" y="191.9" font-size="9.4" fill="#f00">Slope=1.02</text>
<text x="571.9" y="203.2" font-size="9.4" fill="#f00">Intercept=-0.17</text>
<text x="520.8" y="194.0" font-size="9.5" fill="#222" clip-path="url(#cp13)">1:1</text>
<clipPath id="cp20"><rect x="26.5" y="238.5" width="117.3" height="82.9"/></clipPath>
<g stroke-width="1.8" stroke-linecap="square" fill="none"><path d="M80.8 287.0h0M72.1 289.6h0M78.9 283.9h0M79.7 282.9h0M71.3 289.2h0M78.6 297.9h0M85.4 295.9h0M70.5 282.5h0M78.9 287.5h0M95.1 286.2h0M76.2 286.2h0M82.5 290.5h0M85.4 290.5h0M75.1 299.0h0M77.4 289.2h0M82.4 289.5h0M88.0 293.4h0M78.5 291.8h0M82.1 290.6h0M75.1 294.4h0M73.0 297.3h0M92.9 285.2h0M75.9 299.2h0M84.0 291.1h0M80.1 289.9h0M83.7 284.7h0M84.9 286.7h0M77.6 293.1h0M76.7 291.2h0M84.4 287.6h0M77.4 296.8h0M69.3 302.6h0M78.2 292.2h0M72.9 298.9h0M80.7 288.8h0M92.3 282.0h0M77.5 290.5h0M85.7 283.6h0M74.0 302.9h0M72.7 293.2h0M70.3 291.3h0M78.9 294.3h0M81.5 287.7h0M71.7 293.8h0M72.7 287.5h0M77.5 284.6h0M75.2 294.5h0M78.3 294.0h0M81.8 290.4h0M78.1 295.6h0M72.7 290.3h0M89.4 289.4h0M74.4 287.9h0M83.5 287.0h0M73.8 289.8h0M77.9 292.0h0M77.6 293.7h0M76.2 298.8h0M84.4 281.9h0M85.2 288.2h0M77.4 289.9h0M82.4 294.8h0M66.3 293.5h0M85.0 289.4h0M83.2 292.3h0M81.9 291.0h0M81.5 289.4h0M86.3 285.7h0M74.6 300.1h0M82.7 288.8h0M77.8 295.6h0M86.4 284.8h0M76.2 289.1h0M78.5 297.8h0M80.7 292.8h0M78.8 287.6h0M70.4 288.3h0M70.9 293.2h0M80.1 295.1h0M83.2 286.5h0M84.6 293.3h0M98.4 288.7h0M89.8 287.5h0M73.4 285.6h0M80.5 287.8h0M79.0 292.9h0M65.7 287.5h0M76.6 286.4h0M90.1 285.6h0M78.6 291.3h0M78.6 282.0h0M81.2 286.7h0M76.8 302.1h0M75.6 296.8h0M80.1 292.6h0M81.0 283.3h0M77.0 292.1h0M80.4 292.5h0M83.9 284.2h0M81.4 289.4h0M88.0 292.5h0M74.6 300.3h0M80.4 290.5h0M80.4 290.7h0M86.6 284.8h0M82.0 283.4h0M75.4 294.8h0M80.8 288.9h0M70.2 303.4h0M77.0 290.9h0M84.4 286.7h0M84.0 296.8h0M76.7 285.6h0M86.4 292.7h0M73.6 292.4h0M71.6 291.8h0M92.3 287.2h0M71.8 289.4h0M78.1 294.0h0M74.0 295.0h0M76.5 300.7h0M75.8 293.7h0M73.5 295.2h0M71.6 302.0h0M83.0 295.9h0M80.3 287.0h0M79.6 297.0h0M79.4 288.5h0M72.8 293.1h0M78.3 283.6h0M73.7 301.5h0M85.3 283.1h0M76.8 286.5h0M66.4 309.0h0M68.4 299.0h0M88.9 291.6h0M76.3 298.5h0M70.2 293.7h0M79.1 286.7h0M80.1 288.6h0M73.4 297.3h0M76.7 290.6h0M81.0 287.7h0M68.2 306.1h0M75.6 287.3h0M77.4 285.3h0M72.8 289.2h0M73.7 299.0h0M64.7 304.6h0M73.7 294.0h0M77.2 283.2h0M70.9 306.6h0M91.5 286.2h0M75.2 296.1h0M76.6 296.8h0M78.1 287.4h0M75.9 297.7h0M76.7 292.2h0M78.8 289.8h0M78.1 287.7h0M94.6 288.9h0M65.9 301.1h0M80.8 283.4h0M68.5 288.4h0M73.5 289.3h0M72.4 302.4h0M76.4 300.2h0M78.3 290.8h0M77.1 301.1h0M74.0 307.2h0M77.7 288.2h0M74.8 303.0h0M72.9 303.4h0M78.7 297.8h0M75.4 288.8h0M86.2 289.3h0M79.6 289.0h0M76.3 286.4h0M76.3 290.6h0M78.2 294.6h0M75.3 295.7h0M71.7 294.5h0M93.9 286.1h0M74.3 288.0h0M73.9 284.3h0M82.3 286.6h0M76.8 297.0h0M77.1 283.2h0M86.8 289.0h0M68.3 286.1h0M78.2 291.6h0M99.6 288.0h0M68.6 288.3h0M81.6 287.6h0M95.8 284.4h0M77.1 284.6h0M84.7 289.3h0M78.8 296.1h0M77.3 294.8h0M85.3 291.6h0M73.0 284.3h0M91.2 294.2h0M90.0 291.0h0M71.7 292.1h0M75.9 296.2h0M85.4 284.4h0M78.8 286.4h0M78.7 285.0h0M78.0 289.6h0M74.2 293.4h0M75.9 289.2h0M94.2 279.3h0M74.5 298.0h0M76.5 293.0h0M79.1 288.0h0M73.1 297.1h0M76.7 286.7h0M71.8 291.9h0M71.4 305.0h0M74.3 292.3h0M74.4 296.6h0M70.5 301.2h0M78.1 294.5h0M81.6 284.5h0M79.8 288.5h0M90.5 286.2h0M71.5 291.7h0M81.8 287.6h0M77.0 292.8h0M85.2 281.8h0M84.9 281.2h0M75.4 296.9h0M81.8 300.0h0M78.7 289.6h0M68.9 286.1h0M75.6 293.4h0M71.1 297.3h0M65.9 296.8h0M81.1 290.4h0M81.5 282.7h0M80.2 287.3h0M66.4 302.8h0M68.8 288.9h0M100.1 285.4h0M78.1 287.5h0M89.7 284.0h0M80.2 291.8h0M73.5 286.9h0M74.8 303.4h0M87.1 292.1h0M78.2 286.3h0M73.4 292.0h0M76.1 296.2h0M81.5 290.0h0M74.6 296.8h0M81.3 290.3h0M75.0 291.9h0M94.5 283.6h0M81.0 286.0h0M82.5 293.9h0M82.9 290.8h0M82.0 284.9h0M73.2 291.0h0M78.8 289.6h0M71.9 295.1h0M83.9 288.3h0M80.1 291.3h0M70.8 295.8h0M83.9 286.5h0M80.8 289.3h0M82.2 285.1h0M91.4 282.5h0M88.0 286.7h0M83.0 293.0h0M77.3 292.9h0M78.6 290.3h0M91.5 291.2h0M77.8 289.4h0M76.2 296.1h0M87.0 288.1h0M73.7 291.3h0M73.4 299.9h0M75.4 292.1h0M81.1 289.7h0M81.4 284.3h0M77.4 293.8h0M76.5 295.2h0M75.4 301.2h0M75.7 300.8h0M74.5 301.7h0M79.6 295.3h0M86.9 282.7h0M75.9 294.6h0M81.4 284.3h0M81.7 285.6h0M75.8 290.4h0M81.3 300.4h0M76.8 287.4h0M89.2 287.8h0M78.1 291.2h0M84.2 287.5h0M77.4 286.6h0M86.5 288.7h0M79.1 289.8h0M79.9 293.3h0M80.6 292.5h0M78.7 283.2h0M82.3 291.1h0M73.2 294.8h0M85.3 288.7h0M79.6 291.9h0M86.9 289.4h0M66.3 287.5h0M78.2 294.7h0M76.4 294.9h0M69.2 303.5h0M86.3 288.5h0M78.5 293.0h0M73.2 304.6h0M87.6 285.4h0M77.0 286.2h0M75.6 296.8h0M68.6 285.3h0M73.8 287.5h0M70.0 291.2h0M79.0 288.6h0M69.2 306.4h0M92.2 293.4h0M86.9 283.2h0M73.7 292.1h0M75.4 283.8h0M76.4 302.0h0M77.8 285.4h0M76.1 287.6h0M74.4 309.5h0M82.1 285.2h0M66.8 293.8h0M74.1 296.8h0M66.8 291.3h0M80.0 285.5h0M78.1 289.9h0M93.3 286.5h0M76.4 289.0h0M85.1 288.6h0M76.8 294.2h0M74.2 298.7h0M89.6 282.4h0M82.9 288.2h0M98.2 291.2h0M93.7 290.5h0M75.1 284.7h0M72.7 290.7h0M76.5 293.3h0M83.0 295.2h0M75.0 286.4h0M72.6 291.3h0M79.0 291.6h0M76.0 293.8h0M89.1 295.0h0M68.6 306.0h0M69.7 301.4h0M75.7 301.2h0M69.0 285.1h0M71.9 289.1h0M74.7 281.4h0M73.6 291.9h0M84.2 284.4h0M72.5 294.1h0M68.8 294.4h0M74.3 286.3h0M72.9 298.7h0M75.9 287.4h0M77.4 292.4h0M88.5 290.3h0M81.3 283.8h0M74.9 297.7h0M87.4 282.8h0M73.3 293.6h0M79.2 289.1h0M73.6 308.0h0M77.7 291.3h0M87.3 284.6h0M75.7 285.0h0M72.9 296.7h0M78.2 293.5h0M80.5 285.1h0M82.2 297.8h0M79.1 295.4h0M77.1 294.8h0M75.8 293.3h0M90.7 286.8h0M77.1 295.2h0M74.0 297.8h0M73.9 290.5h0M70.6 291.1h0M73.6 292.0h0M75.5 287.6h0M74.8 298.2h0M79.0 290.9h0M70.5 297.1h0M63.7 290.9h0M70.8 307.1h0M84.1 280.7h0M71.3 297.5h0M86.0 288.2h0M72.2 303.9h0M67.4 297.5h0M80.8 290.0h0M77.7 288.7h0M76.3 292.6h0M85.9 284.3h0M79.9 291.4h0M76.2 294.2h0M80.1 287.4h0M68.4 293.8h0M75.3 293.8h0M98.4 286.1h0M74.1 296.6h0M71.4 299.5h0M76.8 295.0h0M81.7 297.2h0M73.7 300.2h0M78.5 302.6h0M71.9 297.1h0M79.5 289.2h0M83.4 287.9h0M76.9 288.0h0M81.3 295.8h0M69.7 293.8h0M71.6 292.6h0M70.9 288.1h0M72.4 299.8h0M84.7 283.4h0M75.6 295.6h0M79.2 291.8h0M75.6 291.7h0M86.9 285.7h0M74.9 303.5h0M85.2 284.5h0M71.6 291.8h0M70.9 297.2h0M80.4 301.1h0M69.6 290.1h0M77.5 288.8h0M81.7 288.3h0M78.6 286.9h0M73.6 294.9h0M73.7 287.5h0M69.0 292.5h0M94.3 290.4h0M68.7 288.1h0M76.6 289.3h0M72.2 294.9h0M72.6 293.5h0M66.0 286.1h0M75.0 291.0h0M79.2 286.1h0M76.3 297.6h0M80.0 289.2h0M85.6 289.6h0M78.6 289.9h0M87.0 285.6h0M67.4 298.8h0M71.8 293.2h0M78.1 286.8h0M84.4 289.9h0M77.4 303.3h0M89.1 296.2h0M87.7 286.3h0M89.1 284.3h0M88.4 285.5h0M74.0 287.5h0M71.5 295.7h0M70.3 291.9h0M79.7 285.3h0M78.1 288.2h0M85.5 282.1h0M77.6 291.5h0M80.6 293.8h0M83.3 286.2h0M88.1 287.2h0M66.1 293.4h0M81.1 290.9h0M73.3 292.3h0M73.1 292.8h0M73.6 291.2h0M76.6 296.3h0M77.6 292.0h0M73.6 287.1h0M82.1 292.8h0M79.7 296.6h0M75.5 294.5h0M88.2 289.4h0M78.0 288.5h0M88.0 288.5h0M70.2 292.8h0M83.6 293.2h0M88.8 284.1h0M77.4 283.6h0M74.0 303.1h0M67.6 298.8h0M71.1 293.9h0M75.3 292.0h0M77.3 301.4h0M77.0 285.6h0M75.3 294.3h0M76.8 286.9h0M77.9 298.0h0M78.9 285.3h0M68.3 289.6h0M71.2 290.9h0M80.0 289.9h0M89.2 288.4h0M75.2 298.8h0M87.1 287.5h0M84.9 293.1h0M95.6 292.0h0M80.6 288.5h0M84.8 282.8h0M70.8 287.2h0M91.0 285.1h0M86.7 296.7h0M79.2 292.7h0M67.8 293.7h0M88.6 286.7h0M79.5 287.6h0M78.9 290.7h0M76.0 300.5h0M75.1 297.8h0M77.4 296.3h0M76.0 297.5h0M72.6 290.7h0M92.1 288.2h0M71.6 292.3h0M74.1 285.8h0M95.9 283.3h0M77.1 299.8h0M69.7 298.4h0M69.4 288.6h0M75.1 288.5h0M81.4 296.2h0M83.6 286.6h0M77.9 294.9h0M82.4 288.9h0M86.1 293.4h0M93.9 280.2h0M74.5 292.1h0M71.0 302.2h0M72.8 293.6h0M86.9 285.6h0M89.5 291.1h0M79.0 291.8h0M72.6 293.4h0M76.0 293.0h0M75.2 293.6h0M81.9 291.4h0M87.6 277.0h0M74.9 289.2h0M75.7 295.5h0M74.5 298.0h0M72.6 285.4h0M83.3 291.7h0M78.9 287.9h0M78.8 291.1h0M92.7 293.0h0M70.5 286.0h0M74.8 298.0h0M95.3 291.6h0M79.6 295.2h0M79.9 290.6h0M77.0 289.4h0M88.1 283.7h0M76.3 299.0h0M75.6 289.3h0M70.4 308.1h0M83.2 292.9h0M65.0 290.8h0M81.3 284.8h0M65.3 303.1h0M89.2 282.1h0M83.8 290.6h0M74.9 289.0h0M71.5 301.6h0M77.3 288.4h0M77.7 291.9h0M79.1 288.9h0M75.9 287.3h0M77.5 289.4h0M73.5 291.9h0M77.1 292.0h0M73.2 290.7h0M69.4 302.5h0M65.0 309.3h0M92.1 290.6h0M66.1 294.7h0M72.2 310.0h0M76.3 284.9h0M73.2 295.7h0M79.6 292.6h0M75.0 288.2h0M78.2 290.6h0M74.1 290.8h0M78.9 283.2h0M91.5 288.6h0M83.8 286.8h0M78.7 285.4h0M80.3 295.9h0M75.8 293.6h0M85.7 290.2h0M99.0 286.5h0M80.6 293.8h0M70.6 298.5h0M70.3 301.3h0M66.3 296.4h0M76.2 283.5h0M100.1 289.8h0M69.2 305.2h0M78.7 294.1h0M83.2 289.0h0M80.8 290.7h0M87.9 285.8h0M77.9 292.4h0M81.1 293.6h0M74.0 299.5h0M70.0 298.9h0M76.2 294.0h0M64.3 300.2h0M75.8 294.2h0M75.0 287.4h0M81.0 290.4h0M87.5 292.9h0M83.4 290.5h0M70.5 299.0h0M75.2 296.1h0M75.8 306.5h0M83.1 290.0h0M77.1 294.6h0M75.1 289.0h0M81.4 287.3h0M80.5 295.5h0M76.4 294.5h0M70.0 292.6h0M71.9 287.9h0M74.3 293.0h0M94.0 281.9h0M71.3 282.7h0M80.4 296.5h0M73.9 298.2h0M92.4 290.1h0M80.6 287.6h0M78.5 297.1h0M74.0 297.0h0M77.1 287.3h0M80.9 287.1h0M73.9 287.1h0M72.7 306.7h0M78.9 290.5h0M84.0 291.9h0M72.6 296.8h0M80.0 286.2h0M77.9 291.2h0M74.7 288.2h0M68.2 301.2h0M78.5 291.9h0M78.5 297.5h0M76.7 293.5h0M86.7 283.5h0M73.6 302.7h0M70.2 301.0h0M85.3 283.4h0M74.9 292.1h0M74.6 298.8h0M73.4 287.7h0M83.9 285.9h0M73.7 292.9h0M81.9 288.9h0M78.0 290.7h0M77.5 294.5h0M77.5 293.7h0M82.5 287.6h0M74.4 292.8h0M83.9 282.7h0M72.1 300.5h0M84.1 285.0h0M101.7 294.7h0M71.1 298.7h0M81.8 282.0h0M77.0 297.1h0M82.6 284.8h0M73.9 290.5h0M92.4 284.6h0M73.8 293.5h0M84.5 284.1h0M68.2 296.9h0M87.0 284.7h0M83.1 286.0h0M72.4 295.5h0M74.5 295.3h0M92.1 287.1h0M76.6 295.9h0M72.0 304.7h0M81.5 299.4h0M70.5 296.5h0M69.4 294.5h0M80.2 296.0h0M89.0 278.0h0M71.9 293.5h0M83.3 285.5h0M78.6 293.2h0M74.6 295.5h0M76.1 301.9h0M68.7 301.3h0M73.8 297.8h0M82.7 289.0h0M93.9 293.1h0M74.2 286.3h0M77.7 292.2h0M73.8 294.4h0M69.4 302.5h0M80.7 282.8h0M79.8 288.2h0M76.4 292.5h0M82.6 296.2h0M81.5 285.9h0M77.0 285.4h0M83.7 283.3h0M73.8 301.4h0M76.5 287.3h0M90.8 288.7h0M80.2 295.2h0M70.5 294.8h0M85.1 279.8h0M92.5 283.6h0M98.1 285.5h0M80.6 294.8h0M88.9 287.4h0M85.3 285.1h0M69.8 298.6h0M70.2 308.4h0M78.5 296.4h0M74.1 295.1h0M74.8 296.0h0M74.6 303.3h0M90.9 289.5h0M77.4 291.0h0M83.5 287.4h0M74.0 292.5h0M73.0 300.7h0M68.7 305.5h0M69.3 292.4h0M75.3 288.0h0M70.3 292.6h0M79.6 284.6h0M75.2 302.6h0M86.5 284.7h0M79.6 291.9h0M77.4 292.3h0M85.9 284.4h0M71.0 296.7h0M77.3 295.9h0M76.2 297.5h0M76.4 285.8h0M75.2 303.9h0M83.4 293.5h0M74.1 288.5h0M85.7 288.1h0M85.5 286.0h0M76.8 293.6h0M78.0 293.1h0M92.6 279.3h0M71.0 294.6h0M73.3 290.5h0M104.5 294.9h0M75.1 294.6h0M85.2 285.4h0M81.7 292.5h0M74.4 285.3h0M81.0 290.4h0M70.2 297.5h0M80.4 301.5h0M75.3 291.8h0M77.3 292.2h0M80.4 290.9h0M76.5 304.4h0M79.8 288.3h0M77.2 290.3h0M72.6 301.0h0M73.8 289.8h0M86.0 290.5h0M72.1 297.6h0M82.2 293.6h0M88.1 291.7h0M76.4 293.7h0M69.2 298.4h0M84.7 295.3h0M80.7 302.7h0M66.0 288.9h0M82.7 297.7h0M84.0 288.0h0M79.4 293.2h0M71.1 295.1h0M72.1 291.7h0M68.9 294.1h0M96.0 287.5h0M89.7 286.2h0M79.3 290.6h0M86.1 295.9h0M75.2 295.0h0M68.6 301.4h0M75.1 294.0h0M79.4 289.9h0M79.9 295.1h0M73.5 289.8h0M68.7 293.6h0M83.0 292.5h0M73.3 291.6h0M79.5 291.9h0M73.5 298.1h0M71.7 285.0h0M72.0 283.6h0M86.9 285.5h0M89.5 287.8h0M77.4 292.1h0M87.0 284.4h0M70.0 304.3h0M78.5 295.5h0M81.6 287.6h0M77.9 299.1h0M82.9 297.8h0M73.5 294.6h0M77.1 289.8h0M79.8 293.2h0M74.4 289.9h0M71.3 297.8h0M77.7 288.5h0M70.5 297.5h0M88.1 285.1h0M86.9 285.5h0M77.9 285.8h0M69.0 294.4h0M81.7 290.2h0M74.1 289.6h0M68.7 301.5h0M83.0 284.2h0M90.2 284.9h0M74.1 299.2h0M82.8 284.8h0M78.1 284.1h0M86.4 288.1h0M73.2 302.1h0M93.3 288.9h0M83.5 292.4h0M94.6 282.7h0M81.4 296.0h0M82.5 295.9h0M81.9 290.8h0M82.8 286.0h0M80.7 292.0h0M78.4 289.2h0M92.9 282.7h0M73.1 299.1h0M74.3 293.7h0M79.9 283.4h0M77.7 294.3h0M74.9 289.8h0M79.6 295.6h0M75.0 286.7h0M71.7 297.2h0M70.8 288.4h0M68.5 304.6h0M75.2 283.7h0M68.4 301.0h0M70.5 298.6h0M70.6 290.8h0M85.6 286.4h0M92.4 290.6h0M73.8 300.4h0M82.5 290.7h0M84.5 287.8h0M102.6 288.2h0M79.7 290.6h0M85.3 287.4h0M77.7 288.1h0M98.7 288.6h0M68.2 295.2h0M80.3 290.3h0M77.0 291.3h0M70.1 297.8h0M65.8 297.9h0M64.6 300.6h0M82.5 285.7h0M77.5 287.6h0M87.4 285.6h0M78.2 293.3h0M80.1 284.2h0M84.3 283.9h0M74.7 285.5h0M75.6 304.6h0M69.5 299.3h0M76.2 296.1h0M78.0 291.8h0M68.5 289.1h0M75.2 299.5h0M78.5 291.0h0M90.8 290.5h0M78.3 290.7h0M80.2 281.8h0M74.7 297.8h0M74.8 293.1h0M63.9 299.9h0M83.8 289.5h0M75.2 295.2h0M70.0 295.2h0M80.2 286.3h0M82.4 285.7h0M76.7 299.5h0M87.8 290.7h0M81.5 290.0h0M89.2 285.3h0M81.8 291.1h0M81.0 286.4h0M80.1 287.4h0M78.1 289.9h0M81.6 288.6h0M74.8 284.2h0M82.1 291.2h0M68.9 306.2h0M67.2 313.5h0M71.3 307.6h0M74.4 309.5h0M77.2 313.4h0M68.9 310.3h0" stroke="#1000f0"/><path d="M95.2 281.8h0M83.9 284.2h0M92.0 280.6h0M90.4 283.5h0M73.2 281.4h0M91.2 283.8h0M72.3 286.5h0M100.6 280.0h0M88.8 280.0h0M88.6 281.5h0M76.3 290.3h0M93.9 279.7h0M69.0 282.8h0M87.3 276.2h0M72.9 279.1h0M100.0 280.5h0M77.8 284.0h0M87.4 282.8h0M81.4 287.5h0M98.6 278.2h0M81.4 283.5h0M86.6 280.5h0M77.5 277.8h0M81.7 283.9h0M96.7 281.9h0M83.6 283.5h0M92.6 275.3h0M92.0 275.8h0M106.8 281.6h0M75.6 282.7h0M79.0 284.6h0M89.8 272.2h0M83.1 283.4h0M85.4 282.0h0M98.5 283.2h0M89.6 282.5h0M75.6 282.3h0M83.1 276.4h0M89.1 281.0h0M82.3 281.8h0M105.6 284.0h0M80.0 288.9h0M79.4 284.6h0M82.9 278.1h0M88.0 281.1h0M93.2 279.2h0M82.6 282.1h0M81.5 279.3h0M92.9 280.1h0M96.2 279.5h0M76.8 280.8h0M90.7 285.8h0M78.3 281.8h0M80.9 289.3h0M101.9 278.2h0M92.1 280.3h0M72.4 284.1h0M84.6 282.7h0M85.7 282.2h0M81.0 282.2h0M88.8 283.5h0M84.8 278.7h0M103.1 281.4h0M81.4 282.0h0M95.5 282.7h0M75.9 277.9h0M82.2 275.8h0M84.3 282.8h0M71.0 279.3h0M84.8 281.1h0M80.8 282.7h0M99.7 281.9h0M94.8 282.1h0M86.8 284.1h0M87.4 277.8h0M73.7 284.9h0M92.7 283.1h0M81.8 284.1h0M99.6 286.1h0M84.3 285.9h0M87.1 279.9h0M76.7 282.6h0M77.6 282.4h0M82.7 280.3h0M79.6 282.5h0M79.2 283.0h0M77.1 283.9h0M95.0 281.8h0M77.8 283.0h0M76.7 282.8h0M103.6 279.7h0M101.3 283.4h0M77.4 283.6h0M76.7 281.7h0M99.0 281.1h0M85.4 280.0h0M82.9 278.4h0M79.1 282.1h0M73.9 282.7h0M78.0 285.0h0M86.4 283.4h0M91.6 281.1h0M86.1 278.5h0M79.8 280.3h0M103.4 282.0h0M77.3 287.7h0M89.3 278.4h0M88.8 283.6h0M85.0 281.6h0M106.3 282.0h0M96.7 278.3h0M92.6 279.5h0M87.1 276.8h0M86.0 284.7h0M94.1 283.2h0M89.1 284.5h0M83.3 278.2h0M76.1 288.2h0M83.6 278.6h0M86.8 281.1h0M84.4 277.2h0M87.1 280.3h0M87.2 280.6h0M82.9 281.7h0M90.8 286.1h0M87.1 283.8h0M88.1 282.3h0M80.8 279.2h0M87.9 282.6h0M95.8 278.5h0M73.9 286.7h0M89.8 280.7h0M83.9 279.3h0M76.1 299.6h0M74.8 285.7h0M70.5 284.4h0M73.7 285.2h0M86.2 281.9h0M97.3 280.7h0M75.1 280.7h0M90.7 276.5h0M86.6 282.2h0M89.3 279.0h0M86.3 280.7h0M83.6 280.0h0M85.3 279.6h0M67.4 282.8h0M89.8 280.4h0M79.6 285.6h0M92.8 277.6h0M93.3 277.9h0M82.5 281.2h0M96.4 280.2h0M74.2 281.6h0M84.1 276.7h0M86.4 282.6h0M92.5 281.4h0M84.5 284.4h0M95.2 283.3h0M80.8 279.5h0M72.6 280.8h0M82.3 283.1h0M92.7 281.3h0M87.6 287.1h0M76.0 280.0h0M94.2 282.0h0M76.8 281.2h0M73.5 282.5h0M88.5 284.2h0M79.0 282.1h0M80.1 289.5h0M93.2 277.4h0M78.7 282.7h0M89.4 283.3h0M82.7 281.9h0M81.2 282.3h0M93.4 283.1h0M76.9 278.8h0M86.0 278.3h0M90.9 281.7h0M80.4 284.9h0M105.2 287.3h0M85.5 278.3h0M84.3 283.1h0M85.9 281.3h0M83.0 288.7h0M85.8 284.8h0M63.8 281.4h0M81.9 281.1h0M85.0 282.1h0M82.9 279.7h0M79.5 281.3h0M81.0 279.9h0M73.0 283.7h0M97.4 279.0h0M71.0 282.6h0M93.6 280.5h0M73.1 281.4h0M89.4 275.4h0M84.2 281.3h0M82.5 283.0h0M85.0 280.2h0M80.8 281.2h0M81.2 277.1h0M75.4 278.9h0M79.8 271.7h0M83.9 277.1h0M90.5 282.9h0M75.8 283.7h0M85.0 277.7h0M80.6 284.1h0M77.0 282.2h0M96.8 281.5h0M83.9 279.7h0M74.9 282.2h0M92.1 276.5h0M87.5 280.5h0M81.1 285.8h0M74.5 283.6h0M82.5 283.2h0M85.7 286.9h0M93.7 278.6h0M81.6 283.2h0M85.6 277.4h0M88.6 277.2h0M85.2 283.6h0M81.4 281.1h0M83.1 284.3h0M88.5 280.2h0M77.3 282.5h0M92.4 277.7h0M83.1 279.5h0M91.7 281.8h0M74.7 281.4h0M80.9 285.4h0M79.7 285.3h0M82.3 282.8h0M75.4 280.5h0M77.9 283.2h0M83.7 280.7h0M92.5 275.8h0M81.2 284.3h0M77.7 284.3h0M78.9 282.4h0M96.4 279.7h0M94.8 280.7h0M96.3 279.8h0M86.7 283.9h0M79.1 282.5h0M83.6 283.1h0M66.6 283.1h0M74.1 283.9h0M81.1 285.1h0M94.1 280.1h0M79.6 279.6h0M98.6 275.6h0M82.8 284.3h0M79.8 282.5h0M88.6 283.9h0M82.5 279.9h0M98.8 277.5h0M80.3 276.9h0M78.4 280.4h0" stroke="#1808f0"/><path d="M98.5 277.8h0M87.1 275.2h0M88.1 274.8h0M89.5 275.1h0M101.7 281.3h0M80.4 277.7h0M80.9 278.7h0M96.7 276.9h0M88.5 275.7h0M91.1 279.3h0M79.5 277.9h0M85.7 276.9h0M101.1 280.4h0M88.2 280.1h0M99.1 277.1h0M90.1 278.1h0M89.2 273.5h0M81.2 280.4h0M112.4 281.8h0M99.4 280.2h0M80.7 276.8h0M80.9 283.9h0M82.1 279.6h0M79.2 278.5h0M90.1 277.1h0M82.3 276.6h0M78.3 276.2h0M82.6 276.0h0M85.3 275.3h0M89.3 277.5h0M95.5 276.7h0M98.3 276.5h0M98.6 277.4h0M87.2 277.3h0M86.3 279.3h0M103.8 279.6h0M89.0 277.1h0M102.0 273.9h0M85.1 280.7h0M86.6 277.3h0M87.8 273.6h0M93.1 278.9h0M99.6 277.7h0M77.9 278.0h0M91.5 277.5h0M88.0 276.2h0M99.5 278.0h0M86.7 278.0h0M89.9 275.8h0M71.2 275.8h0M91.8 279.3h0M85.1 274.1h0M84.2 276.3h0M98.0 278.1h0M94.0 276.3h0M93.5 274.6h0M78.1 276.3h0M79.4 278.2h0M86.8 276.9h0M105.0 281.4h0M97.0 277.2h0M82.4 277.8h0M82.6 279.7h0M97.9 278.2h0M78.3 277.9h0M85.8 280.5h0M92.9 275.4h0M82.8 278.4h0M77.2 277.3h0M102.5 278.8h0M81.1 279.2h0M83.7 277.8h0M90.2 276.0h0M79.3 277.8h0M104.9 283.2h0M80.2 275.2h0M90.3 275.2h0M88.8 274.8h0M106.7 283.6h0M86.9 275.3h0M76.7 274.9h0M83.2 277.9h0M76.8 274.1h0M96.9 272.2h0M89.2 277.2h0M81.5 276.8h0M94.5 275.9h0M83.0 277.4h0M83.8 276.5h0M83.5 274.8h0" stroke="#3040f0"/><path d="M101.3 277.9h0M100.0 275.6h0M89.2 274.2h0M106.4 280.1h0M91.5 272.3h0M92.3 272.4h0M106.4 280.0h0M90.3 270.8h0M82.0 275.0h0M96.0 271.8h0M102.4 279.4h0M89.9 276.3h0M89.2 273.2h0M99.1 273.7h0M89.3 271.4h0M105.7 276.4h0M91.0 272.5h0M81.8 275.3h0M72.7 275.5h0M99.7 274.2h0M91.4 275.3h0M106.1 280.0h0M99.2 273.1h0M100.2 273.9h0M92.7 275.1h0M94.1 272.7h0M89.6 277.0h0M85.7 271.1h0M97.5 274.4h0M101.5 276.6h0M91.4 275.5h0M103.3 278.1h0M84.8 273.7h0M100.8 273.7h0M72.9 272.7h0M97.6 272.0h0M86.7 273.3h0M86.5 275.3h0M93.0 273.3h0M99.5 274.9h0M87.6 275.8h0M98.8 275.8h0M93.7 274.6h0M92.5 275.4h0M101.5 276.3h0M103.1 274.4h0M75.6 274.5h0M93.8 273.7h0M81.3 272.2h0M105.5 274.0h0M87.0 273.5h0M99.2 274.8h0M103.6 275.7h0M99.3 274.9h0M93.3 272.8h0M79.6 273.6h0M84.0 276.9h0M79.5 274.6h0M82.4 275.2h0M85.2 276.8h0M107.8 277.7h0M90.2 271.4h0M104.3 275.3h0M92.9 273.0h0M91.9 270.9h0M69.4 278.0h0" stroke="#4070f8"/><path d="M81.9 273.3h0M103.2 276.6h0M103.8 272.7h0M91.4 273.5h0M98.6 271.8h0M97.3 272.8h0M87.2 274.5h0M94.8 270.3h0M92.6 272.1h0M91.9 271.8h0M96.2 271.2h0M98.9 273.2h0M101.5 275.8h0M83.3 273.5h0M102.1 272.4h0M100.7 274.8h0M104.1 276.0h0M95.4 272.4h0M104.4 275.4h0M82.3 271.8h0M90.9 273.9h0M84.9 272.2h0M92.6 274.6h0M93.0 272.5h0M90.0 273.4h0M90.0 272.2h0M95.4 270.9h0M96.5 268.5h0M85.6 272.2h0M81.2 272.2h0M86.0 274.2h0M100.4 273.8h0M99.2 272.7h0M106.0 274.6h0M84.0 274.4h0M83.1 273.4h0" stroke="#4890f8"/><path d="M95.1 271.1h0M105.0 275.1h0M98.7 271.7h0M86.6 273.3h0M104.4 270.6h0M105.7 276.9h0M95.3 270.3h0M97.9 270.6h0M97.4 269.0h0M109.1 274.5h0M92.2 271.7h0M97.1 270.4h0M89.6 272.0h0M96.6 270.2h0M93.8 273.9h0M100.7 273.5h0M90.3 273.2h0M84.2 271.4h0M83.6 272.6h0M87.7 270.0h0M97.5 270.1h0M94.7 271.4h0M94.2 271.5h0" stroke="#50a8f8"/><path d="M103.9 269.1h0M99.7 269.4h0M100.4 272.0h0M101.4 268.4h0M103.2 271.4h0M96.4 271.7h0M107.8 274.3h0M81.5 270.7h0M97.4 269.6h0M89.9 270.1h0M102.2 270.3h0M107.3 275.5h0M107.2 272.0h0M108.5 276.3h0M81.9 272.2h0M89.8 270.7h0M85.6 270.1h0M94.1 268.0h0M96.5 270.5h0M101.0 273.0h0M97.5 269.6h0M101.3 270.0h0M98.1 271.3h0M99.3 272.5h0M102.1 272.3h0M103.4 273.5h0M98.6 270.2h0M103.0 272.6h0M74.6 269.1h0" stroke="#58c8f8"/><path d="M102.8 269.0h0M107.7 269.9h0M100.8 268.1h0M107.5 271.8h0M111.2 272.0h0M92.6 269.4h0M102.7 270.8h0M84.9 268.0h0M100.7 268.3h0M108.8 273.3h0M94.5 270.6h0M98.2 270.4h0M97.1 267.8h0M100.8 268.5h0M98.5 267.7h0M96.7 270.4h0M101.2 268.7h0M106.5 272.4h0M95.8 267.7h0M96.2 269.6h0M91.7 268.1h0M81.2 268.0h0M93.5 271.0h0M107.1 272.0h0M94.6 268.5h0M94.2 269.8h0M95.4 267.0h0M98.5 269.5h0M96.6 267.6h0M96.8 269.6h0M92.1 269.8h0" stroke="#68e8f8"/><path d="M100.9 267.0h0M107.2 274.3h0M100.8 269.2h0M104.7 270.8h0M108.3 269.6h0M88.3 268.7h0M105.7 273.2h0M97.3 268.4h0M97.9 269.8h0M101.0 270.5h0M99.8 269.3h0M102.4 270.8h0M93.7 267.9h0M101.6 269.7h0M102.2 269.4h0M95.8 266.7h0M96.0 268.5h0M93.6 268.4h0M96.0 268.2h0M113.6 274.5h0M89.7 268.3h0M107.9 269.8h0M97.4 267.7h0M99.2 268.9h0M105.3 273.6h0M100.7 266.8h0M99.1 269.9h0M98.6 267.6h0M100.9 268.4h0M102.6 268.9h0M111.6 277.4h0M89.1 270.0h0M111.3 271.1h0" stroke="#70f8f0"/><path d="M108.9 272.4h0M80.2 268.8h0M82.2 266.2h0M101.6 267.9h0M90.2 267.9h0M103.0 268.3h0M98.3 265.6h0M95.0 266.6h0M95.6 268.2h0M98.6 266.7h0M97.8 269.0h0M112.0 272.1h0M103.8 268.8h0M99.8 267.4h0M97.5 269.1h0M100.6 267.1h0M90.5 267.9h0M100.6 267.0h0M109.7 270.5h0M89.4 265.6h0M90.5 267.1h0M111.3 271.9h0M103.5 270.0h0M118.1 270.9h0" stroke="#70f8e0"/><path d="M109.1 270.8h0M105.5 267.5h0M98.9 267.1h0M97.9 266.8h0M113.6 270.1h0M105.0 269.1h0M94.1 266.1h0M114.2 273.3h0M110.7 269.4h0M101.5 267.8h0M108.9 268.9h0M99.4 267.6h0M99.8 268.2h0M103.0 268.0h0M100.8 266.6h0M79.6 267.5h0M97.7 267.7h0M106.1 268.0h0M107.5 268.3h0M96.7 266.4h0M99.4 267.7h0M107.3 267.2h0M100.9 266.2h0M111.0 270.8h0M87.9 266.0h0M110.2 269.8h0M96.5 265.8h0M98.2 265.0h0M108.5 270.1h0M98.3 265.5h0M104.8 270.3h0M107.6 267.2h0" stroke="#70f8c8"/><path d="M103.9 266.9h0M99.0 267.0h0M105.5 267.7h0M105.0 268.5h0M102.4 266.5h0M108.1 268.7h0M105.4 267.6h0M105.5 266.7h0M92.3 266.1h0M102.7 266.6h0M105.5 266.2h0M88.0 264.6h0M115.4 267.1h0M102.4 266.1h0M98.1 265.3h0M96.3 264.3h0M105.3 268.9h0M93.6 268.0h0M105.8 266.8h0M103.9 266.0h0" stroke="#68f8b0"/><path d="M102.2 264.0h0M108.0 266.9h0M106.8 265.5h0M106.8 266.7h0M98.7 264.5h0M103.3 264.5h0M113.1 267.8h0M101.4 264.5h0M105.1 266.4h0M113.0 267.4h0M105.4 266.7h0M106.5 267.0h0M107.6 265.0h0M100.4 265.6h0M110.2 268.3h0M106.3 266.9h0M101.9 265.5h0M107.0 266.6h0M106.5 266.6h0" stroke="#60f8a0"/><path d="M103.7 265.2h0M109.0 268.9h0M96.8 265.0h0M98.9 264.5h0M100.3 262.9h0M110.6 264.8h0M100.3 265.4h0M111.0 267.1h0M99.4 264.1h0M107.5 265.5h0M109.4 268.0h0M112.3 266.9h0M110.2 268.6h0M101.6 264.3h0M114.2 270.5h0M102.8 263.6h0M102.4 264.0h0M98.6 264.9h0M100.0 264.8h0M92.6 262.0h0M118.6 269.5h0M118.7 269.7h0M108.0 267.4h0M99.7 263.6h0M99.6 264.2h0" stroke="#58f880"/><path d="M108.7 265.3h0M103.3 265.0h0M99.8 263.4h0M96.5 263.6h0M102.0 262.8h0M98.0 263.0h0M104.5 264.7h0M99.2 264.4h0M89.7 264.0h0M110.2 264.9h0M113.4 267.0h0M118.2 268.7h0M97.9 263.6h0M115.2 265.2h0M107.8 265.3h0M112.5 266.6h0M116.3 267.9h0M107.3 267.8h0M114.8 266.6h0M111.9 262.5h0M103.4 262.9h0M112.1 265.6h0" stroke="#50f860"/><path d="M107.2 265.1h0M104.8 263.2h0M111.4 267.0h0M103.0 263.5h0M112.7 266.4h0M115.5 266.1h0M120.6 273.0h0M108.0 264.2h0M118.5 266.6h0M106.4 263.6h0M106.3 263.8h0M101.9 262.2h0M110.3 263.5h0M109.9 263.4h0M120.9 265.8h0" stroke="#40f840"/><path d="M100.6 261.1h0M114.3 265.5h0M105.5 263.5h0M114.4 265.2h0M113.6 264.6h0M101.9 261.7h0M103.0 262.5h0M102.6 262.4h0M110.5 265.5h0M93.9 263.3h0M108.7 262.5h0M105.0 263.0h0M115.0 265.4h0M107.8 263.1h0M110.5 264.8h0M106.2 263.3h0M108.5 262.3h0M113.7 262.8h0M104.7 259.3h0M126.7 261.5h0" stroke="#30f820"/><path d="M113.9 263.0h0M104.9 260.8h0M110.0 262.2h0M108.0 263.0h0M116.4 263.1h0M109.2 261.1h0M109.9 262.7h0M109.1 262.5h0M112.6 264.2h0M99.2 261.3h0M108.4 260.9h0M107.1 261.3h0M111.8 264.2h0M116.9 264.3h0M104.1 260.1h0M112.2 262.0h0M117.9 263.2h0M113.5 265.7h0M110.3 261.7h0M100.3 261.3h0M104.5 262.1h0M115.3 262.0h0M107.1 260.7h0M104.2 262.2h0M116.4 266.7h0M115.8 261.8h0M111.9 265.4h0M128.5 260.0h0M122.0 263.9h0" stroke="#38f818"/><path d="M114.5 264.5h0M111.0 262.7h0M114.4 261.2h0M108.7 261.6h0M101.3 261.0h0M116.6 263.5h0M115.9 263.0h0M100.2 261.9h0M117.0 263.4h0M113.7 263.0h0M115.1 263.5h0M111.6 260.6h0M100.3 260.4h0M100.6 259.7h0M104.4 261.8h0M129.7 257.8h0M125.1 254.8h0M122.9 262.6h0" stroke="#48f818"/><path d="M121.5 261.7h0M105.0 258.2h0M106.3 260.4h0M112.7 260.2h0M120.3 262.1h0M113.1 261.6h0M101.8 258.9h0M108.6 261.1h0M119.4 261.8h0M115.0 264.2h0M110.2 263.4h0M99.7 259.6h0M115.4 262.3h0M106.7 260.9h0M117.3 263.2h0M120.0 263.0h0M102.9 261.9h0M107.8 259.7h0M106.1 260.5h0M108.3 261.6h0M100.5 260.8h0M108.6 261.6h0M115.8 262.1h0M107.6 261.3h0M119.4 262.5h0M105.9 260.9h0M113.8 260.0h0M109.5 260.2h0M127.5 255.0h0M129.4 258.8h0" stroke="#60f018"/><path d="M119.1 260.9h0M121.6 260.5h0M112.0 259.0h0M112.7 261.2h0M110.1 260.6h0M106.5 259.2h0M105.1 260.6h0M120.6 261.9h0M112.2 260.0h0M105.8 258.0h0M109.5 258.2h0M121.4 263.3h0M111.8 262.2h0M118.0 262.4h0M119.5 261.8h0M116.4 262.8h0M107.5 260.4h0M121.7 262.9h0M100.3 258.1h0" stroke="#88f020"/><path d="M108.0 258.0h0M113.0 260.4h0M115.6 259.9h0M104.5 259.7h0M110.6 259.4h0M114.7 260.0h0M109.2 258.4h0M115.5 260.6h0M109.3 258.1h0M112.1 258.0h0M112.0 259.3h0M120.6 261.0h0M110.2 258.2h0M107.2 258.4h0M109.0 260.6h0M117.0 260.0h0M107.8 259.2h0M115.3 261.3h0M119.8 269.7h0" stroke="#a8f028"/><path d="M118.4 259.6h0M116.2 259.2h0M106.2 257.7h0M118.1 261.1h0M115.1 259.6h0M119.8 261.2h0M116.4 258.5h0M110.1 259.0h0M111.4 258.8h0M110.7 259.3h0M116.0 259.6h0M117.5 260.1h0M115.6 257.8h0M133.0 255.3h0M130.8 255.7h0M119.0 267.8h0" stroke="#c8f030"/><path d="M105.3 255.9h0M119.4 259.4h0M115.6 258.3h0M121.4 260.1h0M118.1 259.2h0M108.8 256.9h0M110.5 258.5h0M118.9 259.9h0M110.6 256.5h0M108.7 258.1h0M112.8 259.3h0M115.0 259.3h0M110.8 261.2h0M113.7 257.5h0M97.5 255.6h0M113.9 259.7h0M109.8 258.7h0M114.5 258.6h0M112.1 255.4h0M131.8 254.0h0" stroke="#f0f838"/><path d="M112.7 255.2h0M113.0 257.1h0M113.0 256.6h0M114.9 257.7h0M119.3 255.8h0M118.9 257.2h0M119.9 258.4h0M114.7 256.9h0M108.9 256.5h0M115.5 255.9h0M107.8 256.5h0M113.1 255.8h0M113.6 257.1h0M109.3 258.7h0M109.2 255.3h0M119.9 258.0h0M121.1 259.6h0M109.3 257.5h0M115.2 256.4h0M117.3 258.3h0M114.7 258.4h0M130.3 253.5h0" stroke="#f0e040"/><path d="M110.8 255.8h0M119.2 257.9h0M110.3 257.3h0M118.9 256.1h0M120.8 257.3h0M110.1 256.1h0M115.7 257.8h0M117.7 258.2h0M108.0 256.1h0M113.3 258.1h0M123.0 259.2h0M111.9 256.2h0M111.8 255.2h0M133.3 252.7h0" stroke="#e8c038"/><path d="M116.0 256.2h0M105.4 255.4h0M103.1 255.0h0M117.5 255.9h0M110.3 255.1h0M110.5 255.5h0M115.9 256.1h0M113.1 256.0h0M118.1 255.5h0M117.6 255.1h0M118.5 255.9h0M112.1 256.2h0" stroke="#f0a030"/><path d="M109.8 255.3h0M114.1 256.1h0M111.5 255.2h0M115.8 255.5h0M119.8 256.8h0M121.5 255.7h0M119.9 255.4h0M115.0 258.5h0M115.1 255.6h0M113.8 255.1h0M121.8 255.7h0" stroke="#f08a28"/><path d="M113.6 257.9h0M115.4 255.0h0M132.0 251.8h0" stroke="#f06a20"/><path d="M114.4 257.6h0M124.5 257.5h0M104.3 257.1h0M104.4 257.3h0M136.8 250.4h0" stroke="#f04c18"/><path d="M112.8 257.2h0M115.8 257.3h0M110.7 257.0h0M106.5 257.5h0M102.8 257.0h0M93.6 258.0h0M95.1 257.1h0M99.1 257.5h0M100.8 257.1h0M130.5 249.7h0M134.6 249.7h0M135.7 248.3h0M123.7 261.4h0" stroke="#f0300e"/><path d="M117.3 257.5h0M107.2 257.3h0M120.6 257.8h0M99.8 257.5h0M131.9 249.1h0M138.1 251.1h0" stroke="#e8200c"/></g>
<line x1="57.7" y1="306.1" x2="138.2" y2="243.1" stroke="#ff1010" stroke-width="1.2"/>
<line x1="27.3" y1="321.4" x2="143.8" y2="238.5" stroke="#000" stroke-width="1.0" stroke-dasharray="1.5 1.2"/>
<rect x="26.5" y="238.5" width="117.3" height="82.9" fill="none" stroke="#111" stroke-width="1.2"/>
<path d="M26.6 321.4v1.0M30.8 321.4v1.0M26.5 318.9h-1.0M34.1 321.4v1.0M26.5 316.5h-1.0M36.8 321.4v1.0M26.5 314.6h-1.0M39.1 321.4v1.0M26.5 313.0h-1.0M41.1 321.4v1.0M26.5 311.6h-1.0M42.8 321.4v1.0M26.5 310.3h-1.0M44.4 321.4v1.8M26.5 309.2h-1.8M54.7 321.4v1.0M26.5 301.9h-1.0M60.7 321.4v1.0M26.5 297.6h-1.0M64.9 321.4v1.0M26.5 294.6h-1.0M68.2 321.4v1.0M26.5 292.2h-1.0M70.9 321.4v1.0M26.5 290.3h-1.0M73.2 321.4v1.0M26.5 288.7h-1.0M75.2 321.4v1.0M26.5 287.3h-1.0M76.9 321.4v1.0M26.5 286.1h-1.0M78.5 321.4v1.8M26.5 284.9h-1.8M88.8 321.4v1.0M26.5 277.6h-1.0M94.8 321.4v1.0M26.5 273.4h-1.0M99.0 321.4v1.0M26.5 270.3h-1.0M102.3 321.4v1.0M26.5 268.0h-1.0M105.0 321.4v1.0M26.5 266.1h-1.0M107.3 321.4v1.0M26.5 264.4h-1.0M109.3 321.4v1.0M26.5 263.0h-1.0M111.0 321.4v1.0M26.5 261.8h-1.0M112.6 321.4v1.8M26.5 260.7h-1.8M122.9 321.4v1.0M26.5 253.4h-1.0M128.9 321.4v1.0M26.5 249.1h-1.0M133.1 321.4v1.0M26.5 246.1h-1.0M136.4 321.4v1.0M26.5 243.7h-1.0M139.1 321.4v1.0M26.5 241.8h-1.0M141.4 321.4v1.0M26.5 240.2h-1.0M143.4 321.4v1.0M26.5 238.8h-1.0" stroke="#111" stroke-width="0.8" fill="none"/>
<text x="38.6" y="332.9" font-size="9.6" fill="#222">10<tspan font-size="6.8" dy="-4.4">5</tspan></text>
<text x="11.6" y="312.7" font-size="9.6" fill="#222">10<tspan font-size="6.8" dy="-4.4">5</tspan></text>
<text x="72.7" y="332.9" font-size="9.6" fill="#222">10<tspan font-size="6.8" dy="-4.4">6</tspan></text>
<text x="11.6" y="288.4" font-size="9.6" fill="#222">10<tspan font-size="6.8" dy="-4.4">6</tspan></text>
<text x="106.8" y="332.9" font-size="9.6" fill="#222">10<tspan font-size="6.8" dy="-4.4">7</tspan></text>
<text x="11.6" y="264.2" font-size="9.6" fill="#222">10<tspan font-size="6.8" dy="-4.4">7</tspan></text>
<text transform="translate(8.1,280.6) rotate(-90)" text-anchor="middle" font-size="11.4" fill="#222">Estimation</text>
<text x="85.2" y="347.9" text-anchor="middle" font-size="11.6" fill="#222">Measurement</text>
<text x="84.4" y="231.8" text-anchor="middle" font-size="9.5" font-weight="bold" fill="#111">D<tspan font-size="6.8" dy="2.4">L3</tspan></text>
<text x="31.1" y="249.6" font-size="9.5" fill="#222">R=0.85</text>
<text x="31.1" y="262.1" font-size="9.5" fill="#222">RE=0.46</text>
<text x="81.8" y="305.2" font-size="9.4" fill="#f00">Slope=1.10</text>
<text x="81.8" y="316.5" font-size="9.4" fill="#f00">Intercept=-0.80</text>
<text x="45.0" y="317.3" font-size="9.5" fill="#222" clip-path="url(#cp20)">1:1</text>
<clipPath id="cp21"><rect x="189.5" y="238.5" width="117.3" height="82.9"/></clipPath>
<g stroke-width="1.8" stroke-linecap="square" fill="none"><path d="M243.8 283.4h0M234.9 285.5h0M241.7 280.8h0M234.0 285.2h0M241.6 292.2h0M248.4 290.4h0M241.8 283.8h0M258.1 282.5h0M248.4 286.1h0M238.1 293.1h0M240.4 285.2h0M245.4 285.3h0M251.0 288.3h0M241.5 287.3h0M245.1 286.2h0M238.1 289.4h0M236.0 291.8h0M255.9 281.7h0M238.9 293.3h0M247.0 286.6h0M243.1 285.8h0M247.9 283.0h0M240.6 288.3h0M239.7 286.9h0M247.4 283.8h0M240.4 291.3h0M232.3 296.1h0M241.2 287.6h0M235.9 293.1h0M243.7 284.8h0M240.5 286.2h0M248.7 280.5h0M237.0 296.2h0M235.6 288.5h0M233.3 287.0h0M241.9 289.3h0M244.5 283.9h0M234.5 289.0h0M235.6 283.9h0M240.1 281.3h0M238.2 289.5h0M241.3 289.1h0M244.8 286.1h0M241.1 290.3h0M235.3 286.0h0M252.4 285.1h0M237.2 284.1h0M246.5 283.4h0M236.7 285.7h0M240.9 287.4h0M240.6 288.9h0M239.2 292.9h0M248.2 284.3h0M240.4 285.7h0M245.4 289.6h0M229.3 288.9h0M248.0 285.2h0M246.2 287.6h0M244.9 286.6h0M244.5 285.3h0M249.3 282.3h0M237.6 294.0h0M245.7 284.8h0M240.8 290.3h0M249.4 281.5h0M239.2 285.1h0M241.5 292.1h0M243.7 288.0h0M241.7 283.9h0M233.7 288.5h0M243.1 289.9h0M247.6 288.3h0M261.4 284.4h0M252.8 283.6h0M236.0 282.2h0M243.5 284.0h0M242.0 288.1h0M227.9 283.6h0M253.1 282.1h0M241.6 286.9h0M239.8 295.5h0M238.6 291.4h0M243.1 287.9h0M243.8 280.2h0M240.0 287.6h0M243.4 287.8h0M244.4 285.3h0M251.0 287.6h0M237.6 294.1h0M243.4 286.2h0M243.4 286.4h0M244.9 280.4h0M238.4 289.7h0M243.8 284.9h0M233.2 296.7h0M240.0 286.6h0M247.4 283.1h0M247.0 291.2h0M236.5 287.8h0M234.5 287.4h0M255.3 283.3h0M234.6 285.4h0M241.1 289.0h0M237.0 289.9h0M239.5 294.5h0M238.8 288.8h0M236.5 290.1h0M234.6 295.6h0M246.0 290.5h0M243.3 283.4h0M242.6 291.4h0M242.4 284.6h0M235.8 288.5h0M236.7 295.2h0M239.6 282.9h0M229.4 301.3h0M231.4 293.2h0M251.9 286.9h0M239.3 292.7h0M233.2 289.0h0M242.1 283.2h0M243.1 284.7h0M236.4 291.8h0M239.7 286.4h0M244.0 283.9h0M231.2 299.0h0M238.5 283.7h0M240.2 281.9h0M235.4 285.0h0M236.7 293.2h0M227.7 297.8h0M236.7 289.1h0M240.2 280.4h0M233.9 299.3h0M254.5 282.5h0M238.2 290.8h0M239.6 291.3h0M240.9 283.7h0M238.9 292.1h0M239.7 287.6h0M241.8 285.7h0M241.1 284.0h0M257.6 284.6h0M228.9 295.0h0M243.6 280.3h0M231.3 284.7h0M236.3 285.3h0M235.4 295.9h0M239.4 294.0h0M241.3 286.5h0M240.1 294.7h0M237.0 299.7h0M240.6 284.3h0M237.8 296.3h0M235.9 296.6h0M241.7 292.1h0M238.3 284.9h0M249.2 285.1h0M242.6 285.0h0M239.3 286.4h0M241.2 289.6h0M238.3 290.4h0M234.7 289.6h0M256.9 282.4h0M237.2 284.3h0M236.6 281.3h0M239.8 291.5h0M239.6 280.1h0M231.3 282.9h0M241.2 287.1h0M262.6 283.8h0M231.3 284.6h0M244.6 283.9h0M258.8 281.0h0M247.7 285.1h0M241.8 290.7h0M240.3 289.7h0M248.3 287.0h0M235.6 281.3h0M254.2 288.9h0M253.0 286.4h0M234.6 287.6h0M238.9 290.9h0M248.4 281.2h0M241.7 282.9h0M241.0 285.5h0M237.1 288.6h0M238.8 285.2h0M237.5 292.3h0M239.5 288.3h0M242.1 284.2h0M236.1 291.6h0M239.4 283.1h0M234.7 287.5h0M234.4 298.0h0M237.3 287.7h0M237.4 291.2h0M233.5 294.9h0M241.1 289.4h0M244.6 281.3h0M242.8 284.6h0M253.5 282.5h0M234.4 287.3h0M244.8 283.9h0M240.0 288.1h0M248.2 279.1h0M238.4 291.5h0M244.8 293.8h0M241.7 285.5h0M231.6 282.8h0M238.6 288.6h0M234.0 291.8h0M228.7 291.5h0M244.1 286.1h0M243.2 283.6h0M229.4 296.3h0M231.6 285.1h0M263.1 281.7h0M241.1 283.8h0M243.2 287.3h0M236.4 283.4h0M237.8 296.6h0M250.1 287.3h0M236.3 287.5h0M239.1 290.9h0M244.5 285.8h0M237.6 291.3h0M244.3 286.0h0M238.0 287.4h0M245.5 288.9h0M245.9 286.4h0M236.2 286.8h0M241.8 285.5h0M234.9 290.0h0M246.9 284.4h0M243.1 286.8h0M233.8 290.6h0M246.9 282.9h0M243.8 285.3h0M254.4 279.6h0M251.0 283.0h0M246.0 288.2h0M240.3 288.2h0M241.6 286.1h0M254.5 286.5h0M240.8 285.3h0M239.2 290.8h0M250.0 284.1h0M236.6 286.9h0M236.4 293.9h0M238.4 287.6h0M244.1 285.5h0M240.4 288.9h0M239.5 290.0h0M238.4 294.9h0M238.7 294.5h0M237.5 295.3h0M242.6 290.1h0M238.9 289.6h0M244.7 282.3h0M238.8 286.2h0M244.3 294.1h0M239.6 283.6h0M252.2 283.8h0M241.1 286.8h0M247.2 283.7h0M240.2 283.0h0M249.5 284.6h0M242.1 285.7h0M242.9 288.5h0M243.6 287.8h0M245.3 286.6h0M236.2 289.8h0M248.3 284.6h0M242.6 287.3h0M249.9 285.2h0M229.3 284.1h0M241.2 289.6h0M239.4 289.8h0M232.2 296.8h0M249.3 284.5h0M241.5 288.2h0M236.2 297.7h0M250.6 282.0h0M239.7 282.7h0M238.6 291.3h0M236.7 283.9h0M233.0 287.0h0M242.0 284.7h0M232.2 299.1h0M255.2 288.3h0M236.6 287.6h0M239.4 295.4h0M240.6 282.1h0M238.9 283.8h0M237.4 301.5h0M245.1 281.9h0M229.6 289.1h0M237.1 291.4h0M243.0 282.2h0M241.1 285.8h0M256.3 282.7h0M239.4 285.1h0M248.1 284.6h0M239.8 289.3h0M237.2 292.9h0M245.9 284.3h0M261.2 286.4h0M256.7 285.9h0M235.7 286.5h0M239.5 288.5h0M246.0 289.9h0M235.5 287.0h0M242.0 287.1h0M239.0 288.9h0M252.1 289.6h0M231.6 298.9h0M232.7 295.1h0M238.7 294.9h0M231.2 281.5h0M234.5 285.0h0M235.5 289.2h0M231.8 289.5h0M236.9 282.7h0M235.9 292.9h0M240.4 287.8h0M251.5 285.9h0M237.9 292.1h0M250.4 279.9h0M236.3 288.8h0M236.6 300.3h0M240.7 286.9h0M238.7 281.9h0M235.9 291.3h0M241.2 288.6h0M243.5 281.9h0M245.2 292.0h0M242.1 290.2h0M240.1 289.7h0M238.8 288.6h0M253.7 283.1h0M240.1 290.0h0M237.0 292.2h0M236.8 286.3h0M233.5 286.8h0M236.5 287.5h0M238.3 283.9h0M237.8 292.5h0M242.0 286.6h0M233.5 291.7h0M226.7 286.9h0M233.8 299.7h0M246.9 278.0h0M234.3 292.0h0M249.0 284.2h0M235.2 297.1h0M230.4 292.1h0M243.8 285.8h0M240.6 284.8h0M239.3 288.0h0M248.9 281.1h0M242.9 286.9h0M239.2 289.2h0M243.1 283.7h0M231.3 289.1h0M238.3 288.9h0M261.4 282.3h0M237.1 291.2h0M234.4 293.6h0M239.8 289.9h0M244.7 291.6h0M236.7 294.1h0M241.5 295.9h0M234.8 291.6h0M242.5 285.2h0M246.4 284.1h0M239.8 284.3h0M244.3 290.4h0M232.6 289.0h0M234.5 288.0h0M235.4 293.8h0M247.7 280.5h0M238.6 290.4h0M242.2 287.2h0M238.6 287.2h0M249.9 282.2h0M237.9 296.7h0M248.2 281.3h0M234.4 287.3h0M233.9 291.7h0M243.4 294.6h0M232.2 285.9h0M240.5 284.9h0M244.7 284.4h0M241.5 283.3h0M236.6 289.9h0M236.7 283.9h0M231.7 287.8h0M257.3 285.8h0M231.2 284.3h0M239.6 285.2h0M235.1 289.9h0M235.6 288.8h0M238.0 286.7h0M239.3 291.9h0M243.0 285.2h0M248.6 285.4h0M241.6 285.7h0M250.0 282.1h0M230.4 293.1h0M234.7 288.5h0M240.9 283.1h0M247.4 285.6h0M240.4 296.5h0M252.1 290.6h0M252.1 281.0h0M251.4 282.0h0M236.6 283.7h0M234.4 290.5h0M233.3 287.6h0M241.1 284.4h0M240.6 287.0h0M243.6 288.9h0M246.3 282.7h0M251.1 283.4h0M228.8 288.7h0M244.1 286.5h0M236.3 287.8h0M236.1 288.2h0M236.6 286.9h0M239.6 291.0h0M240.6 287.5h0M236.6 283.7h0M245.1 288.0h0M242.7 291.1h0M238.5 289.5h0M251.2 285.2h0M240.9 284.6h0M251.0 284.5h0M233.2 288.2h0M246.6 288.3h0M251.8 280.9h0M240.0 280.5h0M237.0 296.4h0M230.6 293.1h0M234.1 289.1h0M238.3 287.5h0M240.3 295.0h0M238.3 289.3h0M239.5 283.3h0M240.9 292.2h0M231.2 285.7h0M233.9 286.6h0M243.0 285.7h0M252.2 284.4h0M238.2 292.9h0M250.1 283.7h0M247.9 288.1h0M258.6 287.0h0M243.6 284.6h0M247.8 279.9h0M233.3 283.5h0M249.7 291.0h0M242.2 288.0h0M230.8 289.0h0M251.6 283.0h0M242.5 283.9h0M241.9 286.4h0M239.0 294.3h0M238.1 292.2h0M240.4 290.9h0M239.0 291.9h0M235.5 286.5h0M255.1 284.1h0M234.4 287.8h0M240.1 293.7h0M232.6 292.7h0M232.4 284.9h0M238.1 284.7h0M244.4 290.8h0M246.6 283.0h0M240.9 289.7h0M245.4 284.9h0M249.1 288.4h0M256.9 277.6h0M237.4 287.6h0M234.0 295.8h0M235.7 288.8h0M252.5 286.5h0M235.6 288.6h0M239.0 288.3h0M238.2 288.8h0M244.9 286.9h0M238.7 290.3h0M237.5 292.3h0M246.3 287.1h0M241.9 284.1h0M241.8 286.7h0M255.7 287.9h0M232.9 282.4h0M237.8 292.3h0M258.3 286.8h0M242.6 290.0h0M242.9 286.3h0M240.0 285.3h0M251.1 280.6h0M239.3 293.1h0M238.5 285.3h0M233.4 300.5h0M246.2 288.1h0M228.0 286.8h0M244.3 281.6h0M228.3 296.6h0M252.2 279.3h0M246.8 286.2h0M237.6 284.9h0M234.5 295.3h0M240.3 284.6h0M240.7 287.4h0M242.1 284.9h0M238.6 283.5h0M240.5 285.3h0M236.5 287.4h0M240.1 287.5h0M232.4 296.0h0M228.0 301.5h0M255.1 286.0h0M229.1 289.9h0M235.2 302.0h0M236.2 290.5h0M242.6 287.9h0M237.7 284.3h0M241.2 286.3h0M237.0 286.5h0M254.5 284.4h0M246.8 283.2h0M241.5 282.0h0M243.3 290.5h0M238.8 288.8h0M248.7 285.8h0M262.0 282.6h0M243.6 288.8h0M233.6 292.8h0M233.3 295.1h0M229.3 291.2h0M239.0 280.5h0M263.1 285.2h0M232.2 298.2h0M241.7 289.1h0M246.2 285.0h0M243.8 286.4h0M250.9 282.3h0M240.9 287.8h0M244.1 288.6h0M237.0 293.6h0M233.0 293.1h0M239.2 289.1h0M227.3 294.3h0M238.8 289.3h0M237.6 283.6h0M244.0 286.1h0M250.5 288.0h0M246.4 286.1h0M233.5 293.2h0M238.2 290.8h0M238.8 299.1h0M246.1 285.7h0M240.1 289.5h0M237.8 284.9h0M244.4 283.6h0M243.5 290.2h0M239.4 289.5h0M233.0 288.1h0M234.7 284.2h0M237.3 288.4h0M257.0 279.1h0M243.4 291.0h0M236.9 292.5h0M255.4 285.6h0M243.6 283.8h0M241.5 291.5h0M237.0 291.6h0M240.0 283.7h0M243.9 283.4h0M236.8 283.6h0M235.7 299.3h0M241.9 286.2h0M247.0 287.3h0M235.6 291.4h0M243.0 282.7h0M240.9 286.8h0M237.6 284.4h0M231.2 295.0h0M241.5 287.4h0M241.5 291.8h0M239.7 288.7h0M249.7 280.5h0M236.6 296.1h0M233.2 294.8h0M248.3 280.4h0M237.9 287.6h0M237.6 293.0h0M236.4 284.1h0M246.9 282.5h0M236.7 288.2h0M244.9 284.9h0M241.0 286.4h0M240.5 289.4h0M240.5 288.8h0M245.5 283.8h0M237.4 288.1h0M246.8 279.8h0M235.1 294.4h0M247.1 281.7h0M264.7 289.1h0M234.1 293.0h0M244.4 279.0h0M240.0 291.5h0M245.6 281.6h0M236.8 286.3h0M236.7 288.7h0M247.5 281.0h0M231.2 291.6h0M250.0 281.4h0M235.4 290.4h0M237.5 290.2h0M239.6 290.6h0M235.0 297.7h0M244.5 293.3h0M233.4 291.1h0M232.4 289.6h0M243.2 290.6h0M251.9 275.9h0M234.8 288.8h0M241.6 288.4h0M237.6 290.3h0M239.1 295.4h0M231.7 295.1h0M236.8 292.2h0M256.9 288.0h0M236.9 282.8h0M240.7 287.6h0M236.8 289.4h0M232.4 296.0h0M243.4 279.8h0M239.4 287.9h0M245.6 290.7h0M244.5 282.5h0M239.6 281.9h0M246.7 280.3h0M236.8 295.1h0M239.2 283.5h0M253.8 284.5h0M243.2 290.0h0M233.5 289.9h0M247.8 277.3h0M261.1 281.8h0M243.6 289.6h0M251.9 283.5h0M248.3 281.8h0M232.8 292.9h0M233.2 300.7h0M241.5 290.9h0M237.1 290.0h0M237.8 290.7h0M237.6 296.6h0M253.9 285.2h0M240.4 286.6h0M246.5 283.6h0M237.0 287.9h0M236.0 294.5h0M231.7 298.5h0M232.3 287.9h0M238.0 284.0h0M233.3 288.1h0M238.2 296.0h0M249.5 281.4h0M242.6 287.4h0M240.4 287.7h0M234.0 291.4h0M240.3 290.6h0M239.2 291.8h0M239.3 282.5h0M238.2 297.1h0M246.4 288.5h0M236.9 284.6h0M248.7 284.2h0M248.5 282.5h0M239.8 288.7h0M241.0 288.4h0M234.0 289.7h0M236.1 286.2h0M267.5 289.2h0M238.1 289.6h0M244.7 287.8h0M244.0 286.1h0M233.2 292.0h0M243.4 295.0h0M238.3 287.3h0M240.3 287.7h0M243.4 286.5h0M239.5 297.4h0M242.8 284.4h0M240.2 286.1h0M235.6 294.8h0M236.7 285.7h0M249.0 286.0h0M235.1 292.0h0M245.2 288.6h0M251.1 287.0h0M239.4 288.9h0M232.2 292.8h0M247.7 290.0h0M243.7 295.9h0M228.5 285.0h0M245.7 291.9h0M247.0 284.1h0M242.4 288.3h0M234.1 290.1h0M235.1 287.4h0M231.7 289.2h0M252.7 282.6h0M249.1 290.4h0M238.2 289.9h0M231.6 295.2h0M238.1 289.1h0M242.4 285.7h0M242.9 289.9h0M236.5 285.8h0M231.7 288.9h0M246.0 287.7h0M236.1 287.1h0M242.5 287.3h0M236.5 292.4h0M234.2 280.3h0M249.9 282.1h0M252.5 283.9h0M233.0 297.5h0M241.5 290.2h0M244.6 283.9h0M240.9 293.2h0M245.9 292.0h0M236.5 289.7h0M240.1 285.7h0M242.8 288.4h0M237.3 285.8h0M234.3 292.3h0M240.7 284.7h0M233.5 292.0h0M251.1 281.7h0M249.9 282.1h0M240.8 282.5h0M232.0 289.6h0M244.7 285.9h0M237.0 285.6h0M231.7 295.2h0M246.0 281.1h0M253.2 281.5h0M237.1 293.3h0M245.8 281.6h0M249.4 284.2h0M236.2 295.7h0M256.3 284.6h0M246.5 287.6h0M257.6 279.6h0M244.4 290.6h0M245.5 290.4h0M244.9 286.4h0M245.8 282.5h0M243.7 287.4h0M241.4 285.2h0M236.1 293.2h0M237.3 288.9h0M242.5 280.2h0M240.7 289.3h0M237.7 285.7h0M242.6 290.3h0M234.7 291.7h0M231.5 297.7h0M231.4 294.9h0M233.4 292.9h0M233.3 286.4h0M248.6 282.8h0M255.4 286.0h0M236.8 294.3h0M245.5 286.3h0M265.6 283.9h0M242.7 286.3h0M248.3 283.6h0M240.7 284.4h0M261.7 284.3h0M231.2 290.2h0M243.3 286.1h0M240.0 286.9h0M233.1 292.3h0M228.6 292.3h0M227.6 294.6h0M245.5 282.3h0M241.2 288.5h0M242.9 281.1h0M237.3 282.1h0M238.6 297.6h0M232.5 293.5h0M239.2 290.8h0M241.0 287.2h0M231.4 285.2h0M238.2 293.5h0M241.5 286.6h0M253.8 286.0h0M241.3 286.4h0M243.0 279.1h0M237.7 292.1h0M237.8 288.4h0M226.9 294.1h0M246.8 285.3h0M238.2 290.1h0M233.0 290.2h0M243.2 282.8h0M245.4 282.3h0M239.7 293.5h0M250.8 286.2h0M244.5 285.8h0M244.8 286.7h0M244.0 282.9h0M243.1 283.7h0M241.1 285.8h0M244.6 284.7h0M245.1 286.8h0M231.9 299.0h0M230.2 304.9h0M234.3 300.1h0M237.4 301.5h0M240.2 304.6h0M231.9 302.3h0" stroke="#1000f0"/><path d="M242.5 280.0h0M232.8 279.5h0M239.1 282.8h0M245.5 286.1h0M246.9 281.1h0M255.0 278.0h0M246.7 281.5h0M253.4 280.4h0M254.2 280.6h0M255.3 279.2h0M235.0 283.0h0M263.6 277.4h0M251.8 277.7h0M251.6 278.8h0M247.4 279.2h0M239.3 286.1h0M256.9 277.3h0M231.0 279.6h0M234.4 275.9h0M263.0 277.8h0M240.3 280.6h0M250.4 279.9h0M244.4 283.8h0M233.4 284.7h0M246.2 283.0h0M244.2 280.4h0M239.3 282.8h0M241.1 279.0h0M244.2 283.1h0M239.4 275.1h0M244.6 280.8h0M259.7 279.0h0M246.9 281.1h0M246.6 280.5h0M249.6 281.5h0M255.5 273.7h0M239.6 282.4h0M254.9 274.2h0M249.4 287.8h0M238.5 280.0h0M241.0 280.5h0M248.3 280.2h0M241.8 281.4h0M246.0 280.4h0M248.4 279.3h0M261.5 280.0h0M252.6 279.6h0M238.3 279.6h0M252.1 278.4h0M244.9 278.9h0M268.6 280.4h0M243.0 284.9h0M239.1 282.8h0M242.2 281.3h0M245.2 275.6h0M251.0 278.5h0M245.3 283.0h0M256.2 276.9h0M249.8 284.8h0M245.3 279.2h0M244.0 276.9h0M239.9 281.5h0M241.5 281.7h0M239.1 277.9h0M257.2 277.0h0M253.7 282.2h0M241.2 279.3h0M243.9 285.2h0M255.1 277.8h0M247.8 278.6h0M234.9 280.9h0M247.6 279.9h0M248.7 279.4h0M243.6 279.2h0M251.8 280.4h0M244.4 279.9h0M252.7 280.8h0M241.0 282.8h0M257.5 280.4h0M244.0 282.6h0M266.1 278.5h0M245.0 281.7h0M244.2 279.2h0M245.2 281.9h0M258.5 279.6h0M237.9 275.5h0M247.3 280.0h0M232.6 276.2h0M247.6 278.5h0M243.6 279.8h0M257.8 279.2h0M244.4 281.2h0M249.9 279.8h0M244.3 281.1h0M249.8 280.9h0M250.1 275.6h0M241.3 280.0h0M236.5 281.8h0M255.7 280.0h0M244.7 281.0h0M262.6 282.2h0M247.3 282.5h0M250.1 277.5h0M239.1 279.5h0M231.1 282.1h0M249.9 280.2h0M237.7 280.3h0M240.0 279.3h0M245.2 277.5h0M242.4 279.7h0M229.4 286.8h0M242.2 280.2h0M239.8 280.8h0M252.6 279.5h0M258.0 278.9h0M240.3 280.0h0M237.5 281.3h0M239.2 279.8h0M266.6 277.1h0M237.8 282.9h0M264.3 280.0h0M237.0 278.6h0M240.0 280.4h0M236.4 287.3h0M247.2 281.2h0M238.9 278.6h0M238.9 283.8h0M262.0 278.3h0M244.1 280.8h0M242.2 285.1h0M248.2 277.5h0M250.3 281.3h0M241.7 279.2h0M236.5 279.8h0M240.7 281.6h0M249.4 280.4h0M254.6 278.5h0M248.8 276.2h0M242.2 277.5h0M266.4 278.9h0M233.3 284.1h0M240.2 284.0h0M251.8 280.5h0M247.9 278.9h0M269.3 278.8h0M228.8 283.0h0M242.1 282.6h0M255.6 277.1h0M250.7 282.7h0M249.0 281.4h0M257.1 280.0h0M252.1 281.2h0M242.5 281.9h0M248.5 279.4h0M238.8 284.3h0M249.8 278.6h0M250.1 277.9h0M250.2 278.1h0M245.7 278.9h0M253.8 282.5h0M250.1 280.7h0M243.1 276.5h0M250.9 279.7h0M258.8 276.3h0M239.8 282.2h0M236.8 283.3h0M252.8 278.2h0M241.7 282.0h0M239.1 293.5h0M237.8 282.5h0M232.8 281.0h0M236.0 281.6h0M254.0 281.6h0M249.2 279.2h0M260.3 278.0h0M236.8 282.3h0M258.9 280.1h0M253.6 274.7h0M249.6 279.4h0M249.3 278.2h0M246.2 277.3h0M249.9 282.1h0M242.0 287.2h0M250.3 274.9h0M237.8 285.2h0M248.0 277.1h0M234.9 281.8h0M229.1 279.3h0M252.8 277.9h0M242.5 282.2h0M255.8 275.6h0M256.3 275.8h0M245.1 278.4h0M259.4 277.6h0M236.3 278.4h0M236.1 286.5h0M249.4 279.8h0M255.5 278.7h0M247.5 281.3h0M239.2 281.8h0M258.2 280.2h0M241.6 280.2h0M245.1 280.1h0M255.7 278.6h0M250.6 283.3h0M238.0 277.0h0M257.2 279.1h0M239.0 278.1h0M235.7 279.4h0M251.5 281.0h0M241.6 279.2h0M243.1 285.4h0M241.2 279.6h0M252.4 280.3h0M245.6 279.2h0M244.0 279.5h0M233.2 279.2h0M239.2 276.4h0M248.7 275.9h0M253.9 278.9h0M243.2 281.6h0M268.2 283.1h0M248.1 275.9h0M247.3 280.2h0M248.8 278.7h0M246.0 284.7h0M248.8 281.5h0M226.6 279.2h0M247.9 279.3h0M245.4 277.2h0M242.0 278.5h0M243.7 277.4h0M235.4 280.5h0M255.4 281.2h0M260.4 276.6h0M246.1 282.6h0M233.5 279.8h0M255.1 283.2h0M235.9 279.0h0M246.3 282.1h0M252.0 273.5h0M245.7 284.9h0M247.0 278.6h0M245.5 280.1h0M242.8 284.4h0M247.8 277.8h0M243.3 278.3h0M255.5 280.4h0M246.4 275.1h0M242.4 281.3h0M253.5 279.9h0M238.3 280.4h0M247.4 275.3h0M243.6 281.0h0M248.9 281.2h0M239.4 279.1h0M259.8 278.6h0M237.4 279.3h0M255.1 274.8h0M250.5 278.0h0M244.1 282.4h0M237.0 280.5h0M255.6 277.0h0M245.4 280.2h0M248.7 283.2h0M256.7 276.4h0M248.2 282.0h0M237.2 282.1h0M244.4 280.2h0M248.2 280.6h0M259.0 283.5h0M244.1 278.5h0M242.3 286.3h0M246.1 281.2h0M251.5 277.8h0M240.0 279.6h0M255.4 275.7h0M234.0 281.5h0M254.7 279.0h0M240.4 287.5h0M237.2 278.7h0M250.0 281.2h0M243.8 282.1h0M242.7 282.0h0M240.7 280.9h0M245.2 279.8h0M237.6 277.8h0M240.4 280.0h0M246.4 278.0h0M255.5 274.1h0M244.1 281.2h0M240.3 280.9h0M255.9 279.7h0M259.4 277.2h0M237.8 283.1h0M233.2 284.4h0M257.8 278.0h0M238.0 280.8h0M249.7 280.8h0M247.5 284.0h0M241.6 279.4h0M246.6 280.2h0M228.7 280.0h0M244.1 281.8h0M257.1 277.5h0M241.9 276.9h0M240.4 283.9h0M250.4 282.1h0M247.3 280.9h0M261.6 273.9h0M245.8 281.2h0M242.4 279.6h0M251.6 280.7h0M245.0 277.2h0M261.8 275.4h0M252.2 281.8h0M237.1 280.7h0" stroke="#1808f0"/><path d="M258.2 278.9h0M249.4 273.2h0M235.9 279.0h0M252.1 273.3h0M249.9 274.2h0M261.6 276.0h0M264.7 278.4h0M249.5 278.0h0M269.8 278.5h0M242.5 275.1h0M252.0 270.5h0M243.5 276.4h0M259.7 274.9h0M245.2 273.9h0M251.2 273.9h0M254.1 277.0h0M255.9 277.6h0M259.2 277.1h0M264.1 277.7h0M251.2 277.7h0M262.1 275.1h0M264.9 275.9h0M253.1 276.1h0M251.5 271.7h0M243.6 277.6h0M247.3 276.2h0M262.4 277.5h0M244.0 273.4h0M242.5 274.1h0M243.8 280.8h0M244.5 276.9h0M242.1 276.6h0M262.7 278.9h0M253.0 275.2h0M252.1 275.5h0M258.5 274.8h0M245.3 275.9h0M261.6 275.3h0M249.8 275.2h0M249.1 276.9h0M251.8 275.1h0M252.3 276.3h0M259.7 276.1h0M247.9 278.1h0M249.2 275.2h0M249.6 274.6h0M245.7 275.7h0M246.0 276.1h0M246.7 274.8h0M256.1 276.6h0M251.1 279.5h0M262.6 275.6h0M246.4 276.7h0M240.0 275.5h0M254.5 275.6h0M237.2 277.7h0M262.5 275.8h0M252.3 276.8h0M249.3 275.7h0M254.8 277.0h0M261.0 275.9h0M257.0 274.5h0M246.4 274.4h0M243.3 276.9h0M234.5 277.7h0M256.2 275.4h0M256.4 280.0h0M241.6 275.8h0M249.3 274.7h0M268.0 278.4h0M244.5 278.2h0M260.0 275.2h0M244.9 275.6h0M245.1 277.1h0M240.2 275.1h0M248.7 278.0h0M255.9 273.9h0M256.6 277.9h0M245.0 275.7h0M239.5 275.3h0M243.2 274.6h0M237.2 275.9h0M246.6 277.2h0M243.6 276.7h0M246.1 275.5h0M248.1 275.1h0M251.3 275.1h0M253.0 274.1h0M267.9 279.8h0M245.9 277.1h0M251.3 272.9h0M269.7 280.1h0M241.4 279.3h0M245.5 275.4h0M238.5 272.2h0M259.3 277.3h0M259.9 271.2h0M236.9 281.0h0M257.5 274.2h0M245.3 275.1h0M246.2 274.4h0M242.5 274.7h0M240.7 277.6h0" stroke="#3040f0"/><path d="M264.3 275.6h0M261.5 275.6h0M263.0 273.9h0M251.7 272.5h0M269.4 277.3h0M250.4 272.8h0M254.8 270.9h0M269.4 277.3h0M258.8 270.7h0M265.4 276.8h0M241.7 275.6h0M252.7 274.4h0M262.1 272.3h0M248.1 274.7h0M275.4 278.5h0M244.3 274.1h0M240.3 274.0h0M262.7 272.7h0M244.6 273.6h0M254.2 273.6h0M247.4 273.1h0M261.3 274.6h0M262.2 271.8h0M263.2 272.5h0M266.8 276.9h0M265.0 272.5h0M256.8 271.4h0M252.5 275.0h0M250.2 272.0h0M254.2 273.8h0M266.3 275.8h0M250.6 274.2h0M252.6 274.0h0M232.5 273.2h0M247.1 272.0h0M246.3 274.0h0M263.8 272.3h0M256.5 273.2h0M239.9 273.7h0M248.8 273.2h0M262.5 273.3h0M260.9 276.0h0M255.4 273.8h0M264.5 274.4h0M241.4 269.8h0M266.1 272.8h0M265.5 276.4h0M256.6 272.3h0M268.5 272.5h0M249.1 271.6h0M262.2 273.3h0M241.2 275.1h0M262.3 273.3h0M256.0 271.5h0M241.7 272.7h0M253.0 273.4h0M246.3 274.6h0M249.3 273.3h0M238.0 272.3h0M252.1 275.3h0M267.3 273.6h0M255.6 271.6h0M243.5 274.4h0M231.0 275.4h0M245.3 272.4h0" stroke="#4070f8"/><path d="M253.8 270.7h0M252.4 269.4h0M266.8 271.5h0M251.4 271.4h0M251.4 269.8h0M268.7 274.4h0M260.3 271.6h0M253.4 270.9h0M243.6 272.9h0M234.2 273.1h0M261.9 271.9h0M269.1 277.2h0M264.5 274.0h0M255.6 273.5h0M265.1 271.2h0M263.7 273.2h0M267.1 274.1h0M260.5 273.0h0M264.5 274.6h0M246.7 271.6h0M258.2 271.3h0M267.4 273.6h0M260.6 271.0h0M248.8 271.5h0M255.7 271.8h0M250.1 273.9h0M255.6 271.1h0M261.8 274.0h0M256.6 273.1h0M237.2 272.6h0M266.6 273.8h0M241.4 271.6h0M241.2 272.3h0M244.3 273.0h0M247.5 274.5h0M270.8 275.4h0M252.3 269.8h0M262.2 271.6h0M254.1 269.5h0M269.0 272.9h0" stroke="#4890f8"/><path d="M268.0 273.3h0M261.7 270.7h0M243.5 271.2h0M268.7 274.8h0M266.2 274.6h0M243.8 272.6h0M254.0 271.9h0M261.6 270.8h0M249.4 272.5h0M260.8 269.8h0M257.2 269.2h0M260.0 268.3h0M255.1 270.7h0M272.1 272.8h0M254.3 270.4h0M259.8 269.5h0M258.9 270.1h0M259.3 269.3h0M256.7 272.5h0M247.3 269.2h0M253.5 272.2h0M233.9 270.3h0M263.7 272.1h0M255.4 273.0h0M252.6 271.5h0M252.4 271.7h0M252.2 270.6h0M258.1 269.8h0M258.9 267.7h0M242.7 270.1h0M242.4 269.9h0M248.1 272.2h0M263.4 272.4h0M245.8 272.1h0M244.8 271.3h0" stroke="#50a8f8"/><path d="M257.7 270.0h0M262.6 268.8h0M248.5 271.3h0M263.4 270.9h0M267.4 269.7h0M264.3 268.0h0M257.8 269.3h0M259.2 270.7h0M254.6 270.2h0M270.3 273.6h0M271.5 274.2h0M245.0 271.4h0M259.2 269.6h0M264.0 271.7h0M260.1 268.8h0M264.3 269.3h0M244.1 270.2h0M246.5 270.2h0M261.1 270.5h0M262.3 271.4h0M265.1 271.1h0M247.4 270.4h0M266.4 272.1h0M260.3 269.3h0M261.5 269.5h0M257.3 270.3h0M256.8 270.3h0" stroke="#58c8f8"/><path d="M265.8 268.5h0M266.9 268.6h0M270.7 269.1h0M263.7 267.7h0M270.5 270.7h0M274.2 270.7h0M266.2 270.4h0M270.8 272.6h0M260.0 268.8h0M263.6 267.9h0M251.7 268.6h0M265.2 269.6h0M270.2 270.8h0M271.8 271.8h0M251.8 270.4h0M261.1 269.7h0M263.7 268.1h0M261.1 267.2h0M259.4 269.5h0M264.2 268.3h0M258.8 268.7h0M245.7 269.5h0M255.9 269.7h0M245.2 270.4h0M249.3 268.3h0M261.3 268.9h0M266.0 271.4h0" stroke="#68e8f8"/><path d="M270.2 272.6h0M263.8 268.7h0M267.7 269.9h0M271.3 268.9h0M259.8 267.7h0M265.7 269.9h0M260.7 269.0h0M243.2 269.1h0M264.0 269.7h0M262.7 268.8h0M265.4 270.0h0M243.3 270.2h0M257.0 269.5h0M251.7 269.2h0M264.6 269.1h0M265.2 268.9h0M259.5 267.1h0M247.0 268.2h0M258.3 267.7h0M256.2 267.0h0M258.4 267.4h0M269.5 271.2h0M258.0 266.9h0M262.0 268.4h0M253.5 266.9h0M268.3 272.2h0M262.0 269.2h0M261.1 267.1h0M265.6 268.5h0M270.1 270.9h0M274.6 275.0h0M256.8 267.5h0M256.5 268.7h0M259.0 266.9h0M259.4 268.8h0M254.2 268.5h0" stroke="#70f8f0"/><path d="M263.7 266.8h0M271.9 271.1h0M268.7 271.8h0M264.5 267.6h0M254.7 268.2h0M266.0 268.0h0M246.0 266.3h0M261.1 266.3h0M260.4 268.4h0M275.0 270.8h0M257.9 266.0h0M255.7 267.3h0M266.8 268.4h0M262.5 267.0h0M276.6 272.7h0M270.9 269.1h0M260.2 268.4h0M259.9 267.1h0M263.4 266.5h0M263.9 268.0h0M272.7 269.6h0M251.0 268.5h0M266.5 269.3h0M257.4 266.1h0M235.2 267.1h0M274.3 270.1h0M281.1 269.7h0" stroke="#70f8e0"/><path d="M272.1 269.8h0M249.8 267.1h0M268.5 267.3h0M260.5 265.2h0M260.3 266.4h0M268.0 268.5h0M277.2 271.7h0M257.0 265.8h0M257.8 267.3h0M264.4 267.5h0M255.7 266.8h0M262.1 267.1h0M262.6 267.7h0M266.0 267.7h0M263.5 266.3h0M269.1 267.7h0M251.3 266.8h0M270.5 267.9h0M262.0 267.2h0M263.4 266.8h0M252.1 266.5h0M263.5 266.1h0M263.4 266.8h0M242.2 266.4h0M274.3 270.7h0M273.2 269.0h0M267.8 269.5h0M270.6 267.0h0" stroke="#70f8c8"/><path d="M266.9 266.9h0M261.5 266.6h0M261.5 266.6h0M251.8 266.6h0M268.5 267.4h0M268.0 268.0h0M276.6 269.2h0M265.3 266.4h0M256.0 265.3h0M273.7 268.7h0M271.1 268.2h0M268.4 267.4h0M268.5 266.7h0M271.9 268.3h0M265.6 266.5h0M268.5 266.2h0M260.1 267.0h0M278.4 266.8h0M265.3 266.1h0M270.3 267.0h0M268.3 268.3h0M274.0 269.8h0M250.5 264.3h0M252.0 265.8h0M268.8 266.7h0M258.6 265.1h0M266.9 266.0h0M260.4 264.7h0M271.5 269.3h0M260.6 265.1h0" stroke="#68f8b0"/><path d="M240.8 266.5h0M242.8 264.6h0M271.0 266.8h0M269.8 265.6h0M269.8 266.6h0M266.0 264.7h0M276.1 267.4h0M263.9 264.5h0M268.1 266.4h0M276.0 267.0h0M268.4 266.6h0M258.8 265.7h0M269.5 266.8h0M260.4 265.0h0M270.6 265.2h0M255.5 266.9h0M263.0 265.4h0M273.2 267.8h0M269.3 266.8h0M270.0 266.5h0M269.5 266.6h0" stroke="#60f8a0"/><path d="M266.5 265.3h0M272.0 268.3h0M264.8 264.2h0M273.6 265.0h0M262.8 265.2h0M260.9 264.2h0M274.0 266.8h0M253.8 265.0h0M270.5 265.6h0M272.4 267.6h0M275.3 266.6h0M240.1 265.4h0M273.2 268.1h0M264.1 264.3h0M277.2 269.4h0M265.3 263.7h0M265.1 264.1h0M270.8 265.4h0M258.2 263.9h0M248.9 264.5h0M281.6 268.6h0M281.7 268.7h0M271.0 267.2h0M264.6 265.4h0M261.9 264.1h0" stroke="#58f880"/><path d="M271.7 265.4h0M258.7 264.4h0M261.2 264.3h0M262.4 262.9h0M266.0 265.1h0M264.4 263.1h0M267.3 264.9h0M261.6 264.3h0M273.2 265.1h0M281.2 268.0h0M261.7 264.1h0M271.0 264.5h0M278.2 265.2h0M248.8 263.2h0M269.2 264.2h0M275.5 266.4h0M279.3 267.4h0M260.8 264.6h0M262.5 264.7h0M270.3 267.5h0M277.8 266.3h0M262.0 263.6h0M274.9 263.1h0M266.0 263.2h0M275.1 265.6h0" stroke="#50f860"/><path d="M270.2 265.3h0M262.1 263.4h0M267.5 263.6h0M274.4 266.8h0M258.4 263.3h0M259.9 262.8h0M276.4 266.7h0M265.6 263.7h0M275.7 266.2h0M278.5 265.9h0M281.5 266.3h0M259.8 263.2h0M269.4 264.1h0M264.3 262.4h0M271.5 263.0h0M273.3 264.0h0M272.9 263.9h0M283.9 265.5h0" stroke="#40f840"/><path d="M271.0 263.6h0M277.3 265.5h0M279.4 263.5h0M268.4 263.9h0M277.4 265.2h0M276.6 264.8h0M283.6 271.4h0M265.2 262.9h0M273.5 265.5h0M271.7 263.2h0M267.6 263.4h0M273.3 262.6h0M278.0 265.4h0M270.8 263.7h0M273.5 265.0h0M253.7 261.4h0M269.1 263.8h0M276.7 263.3h0M267.1 260.1h0M278.8 262.5h0M289.7 262.0h0" stroke="#30f820"/><path d="M276.9 263.5h0M267.5 261.5h0M262.5 261.3h0M273.0 262.9h0M250.6 262.8h0M277.5 264.7h0M272.1 262.0h0M272.9 263.4h0M272.1 263.2h0M264.2 262.0h0M275.6 264.4h0M271.3 261.8h0M269.8 262.0h0M265.7 262.9h0M279.6 263.8h0M274.8 264.5h0M279.9 264.4h0M266.5 260.7h0M275.2 262.7h0M280.9 263.5h0M276.5 265.7h0M262.4 261.5h0M267.2 262.6h0M278.3 262.7h0M269.9 261.5h0M266.9 262.7h0M279.4 266.4h0M274.9 265.5h0M291.5 260.7h0M285.0 264.0h0" stroke="#38f818"/><path d="M284.5 262.3h0M276.1 262.4h0M274.0 263.3h0M277.4 262.1h0M271.6 262.4h0M261.0 261.3h0M263.5 261.4h0M282.4 262.4h0M278.9 263.4h0M278.0 264.4h0M255.3 262.5h0M262.2 262.0h0M280.0 263.7h0M283.0 263.4h0M276.7 263.5h0M271.1 262.4h0M278.1 263.9h0M274.6 261.6h0M266.9 262.3h0M276.8 261.1h0M292.7 259.0h0M288.1 256.7h0M285.9 263.0h0" stroke="#48f818"/><path d="M267.4 259.2h0M268.9 261.2h0M275.7 261.3h0M283.3 262.6h0M275.0 260.3h0M271.4 262.0h0M283.6 262.4h0M275.2 261.1h0M274.8 262.9h0M273.2 263.9h0M278.4 262.9h0M269.4 261.7h0M280.3 263.5h0M265.3 262.2h0M270.3 260.5h0M270.3 261.3h0M268.8 261.3h0M262.7 261.3h0M271.5 262.4h0M278.8 262.7h0M270.4 262.1h0M262.2 260.7h0M262.4 260.1h0M282.4 263.0h0M268.5 261.6h0M272.4 261.2h0M290.5 256.8h0M292.4 259.8h0" stroke="#60f018"/><path d="M282.1 261.7h0M276.0 261.4h0M278.6 261.0h0M284.6 261.3h0M275.7 262.1h0M273.0 261.6h0M263.7 259.4h0M269.1 260.2h0M267.7 261.3h0M273.5 260.6h0M268.1 259.0h0M272.4 259.6h0M284.4 263.5h0M281.0 262.9h0M261.6 260.0h0M282.5 262.4h0M279.4 263.3h0M275.1 259.5h0M275.0 260.5h0M284.7 263.3h0M271.9 261.5h0M280.0 261.0h0M278.3 262.1h0" stroke="#88f020"/><path d="M270.7 259.3h0M267.1 260.6h0M281.1 261.8h0M278.1 260.8h0M277.7 261.1h0M271.9 259.6h0M282.8 261.9h0M278.5 261.5h0M272.1 259.4h0M283.6 261.8h0M279.4 259.8h0M272.9 259.5h0M269.7 259.5h0M262.1 258.7h0M270.5 260.3h0M273.6 260.6h0M280.5 261.1h0M282.8 268.7h0" stroke="#a8f028"/><path d="M281.4 260.7h0M282.4 260.5h0M279.2 260.4h0M278.6 259.7h0M268.4 258.7h0M281.9 260.9h0M273.5 258.2h0M275.8 260.5h0M278.0 260.5h0M272.9 260.2h0M273.8 262.1h0M274.3 260.1h0M276.9 260.9h0M279.0 260.7h0M277.5 259.9h0M278.6 259.3h0M296.0 256.9h0M293.8 257.3h0M282.0 267.2h0" stroke="#c8f030"/><path d="M275.6 257.2h0M267.6 257.3h0M269.4 256.7h0M284.4 261.0h0M281.1 260.3h0M271.3 258.2h0M273.4 259.8h0M282.9 259.6h0M277.7 258.6h0M276.0 257.6h0M271.4 259.3h0M276.6 258.7h0M272.1 259.9h0M272.0 257.2h0M276.7 259.1h0M282.9 259.3h0M284.1 260.6h0M272.1 259.0h0M278.2 258.1h0M280.3 259.6h0M277.7 259.7h0M272.7 259.9h0M275.1 257.5h0M294.8 255.9h0" stroke="#f0f838"/><path d="M282.2 259.3h0M276.0 258.8h0M273.1 258.8h0M281.9 257.9h0M283.8 258.8h0M272.8 257.7h0M275.8 258.2h0M278.7 259.2h0M277.9 259.2h0M282.3 257.6h0M281.9 258.7h0M278.8 257.0h0M271.6 258.2h0M278.4 257.8h0M270.6 257.6h0M270.4 258.0h0M276.2 259.5h0M286.0 260.2h0M258.6 256.2h0M274.9 258.1h0M274.8 257.3h0M293.3 255.6h0" stroke="#f0e040"/><path d="M278.9 258.0h0M273.6 257.7h0M280.5 257.7h0M280.7 259.5h0M278.9 257.9h0M276.6 257.0h0M276.7 256.8h0M281.1 257.4h0M280.6 257.0h0M281.5 257.7h0M275.1 258.1h0M296.3 254.8h0" stroke="#e8c038"/><path d="M267.4 256.6h0M281.4 256.2h0M282.2 256.3h0M272.5 257.2h0M265.1 256.3h0M280.3 256.3h0M277.1 257.9h0M274.1 256.8h0M269.6 256.3h0M272.8 256.6h0M273.0 256.9h0M282.8 258.4h0M273.3 257.3h0M284.5 257.5h0M278.8 256.9h0M276.0 257.8h0M282.9 257.3h0M273.3 255.7h0M278.0 259.8h0M278.1 257.5h0M281.7 256.3h0M287.5 256.7h0M278.3 256.5h0M277.0 256.3h0M276.6 256.1h0M280.2 256.9h0M270.6 256.8h0" stroke="#f0a030"/><path d="M276.5 256.2h0M279.1 256.4h0M278.8 257.4h0M275.1 256.0h0M283.6 255.3h0M276.7 257.0h0M275.1 255.6h0M267.8 255.8h0M284.8 257.4h0M274.8 256.1h0M272.3 255.3h0" stroke="#f08a28"/><path d="M284.9 255.4h0M274.8 256.1h0M276.5 256.1h0M278.3 256.9h0M270.8 255.5h0M281.2 255.5h0M295.0 254.1h0" stroke="#f06a20"/><path d="M282.5 255.5h0M281.7 255.3h0M279.2 258.0h0M267.3 257.1h0M267.4 257.3h0M299.8 252.9h0" stroke="#f04c18"/><path d="M265.8 257.0h0M256.6 258.0h0M258.1 257.1h0M262.1 257.5h0M263.8 257.1h0M293.5 252.5h0M297.6 252.4h0M298.7 251.3h0M286.7 262.0h0" stroke="#f0300e"/><path d="M262.8 257.5h0M294.9 251.9h0M301.1 253.5h0" stroke="#e8200c"/></g>
<line x1="220.7" y1="297.2" x2="301.2" y2="245.1" stroke="#ff1010" stroke-width="1.2"/>
<line x1="190.3" y1="321.4" x2="306.8" y2="238.5" stroke="#000" stroke-width="1.0" stroke-dasharray="1.5 1.2"/>
<rect x="189.5" y="238.5" width="117.3" height="82.9" fill="none" stroke="#111" stroke-width="1.2"/>
<path d="M189.6 321.4v1.0M193.8 321.4v1.0M189.5 318.9h-1.0M197.1 321.4v1.0M189.5 316.5h-1.0M199.8 321.4v1.0M189.5 314.6h-1.0M202.1 321.4v1.0M189.5 313.0h-1.0M204.1 321.4v1.0M189.5 311.6h-1.0M205.8 321.4v1.0M189.5 310.3h-1.0M207.4 321.4v1.8M189.5 309.2h-1.8M217.7 321.4v1.0M189.5 301.9h-1.0M223.7 321.4v1.0M189.5 297.6h-1.0M227.9 321.4v1.0M189.5 294.6h-1.0M231.2 321.4v1.0M189.5 292.2h-1.0M233.9 321.4v1.0M189.5 290.3h-1.0M236.2 321.4v1.0M189.5 288.7h-1.0M238.2 321.4v1.0M189.5 287.3h-1.0M239.9 321.4v1.0M189.5 286.1h-1.0M241.5 321.4v1.8M189.5 284.9h-1.8M251.8 321.4v1.0M189.5 277.6h-1.0M257.8 321.4v1.0M189.5 273.4h-1.0M262.0 321.4v1.0M189.5 270.3h-1.0M265.3 321.4v1.0M189.5 268.0h-1.0M268.0 321.4v1.0M189.5 266.1h-1.0M270.3 321.4v1.0M189.5 264.4h-1.0M272.3 321.4v1.0M189.5 263.0h-1.0M274.0 321.4v1.0M189.5 261.8h-1.0M275.6 321.4v1.8M189.5 260.7h-1.8M285.9 321.4v1.0M189.5 253.4h-1.0M291.9 321.4v1.0M189.5 249.1h-1.0M296.1 321.4v1.0M189.5 246.1h-1.0M299.4 321.4v1.0M189.5 243.7h-1.0M302.1 321.4v1.0M189.5 241.8h-1.0M304.4 321.4v1.0M189.5 240.2h-1.0M306.4 321.4v1.0M189.5 238.8h-1.0" stroke="#111" stroke-width="0.8" fill="none"/>
<text x="201.6" y="332.9" font-size="9.6" fill="#222">10<tspan font-size="6.8" dy="-4.4">5</tspan></text>
<text x="174.6" y="312.7" font-size="9.6" fill="#222">10<tspan font-size="6.8" dy="-4.4">5</tspan></text>
<text x="235.7" y="332.9" font-size="9.6" fill="#222">10<tspan font-size="6.8" dy="-4.4">6</tspan></text>
<text x="174.6" y="288.4" font-size="9.6" fill="#222">10<tspan font-size="6.8" dy="-4.4">6</tspan></text>
<text x="269.8" y="332.9" font-size="9.6" fill="#222">10<tspan font-size="6.8" dy="-4.4">7</tspan></text>
<text x="174.6" y="264.2" font-size="9.6" fill="#222">10<tspan font-size="6.8" dy="-4.4">7</tspan></text>
<text transform="translate(171.1,280.6) rotate(-90)" text-anchor="middle" font-size="11.4" fill="#222">Estimation</text>
<text x="248.2" y="347.9" text-anchor="middle" font-size="11.6" fill="#222">Measurement</text>
<text x="247.3" y="231.8" text-anchor="middle" font-size="9.5" font-weight="bold" fill="#111">D<tspan font-size="6.8" dy="2.4">NL3</tspan></text>
<text x="194.1" y="249.6" font-size="9.5" fill="#222">R=0.87</text>
<text x="194.1" y="262.1" font-size="9.5" fill="#222">RE=0.42</text>
<text x="248.6" y="304.5" font-size="9.4" fill="#f00">Slope=0.91</text>
<text x="248.6" y="315.8" font-size="9.4" fill="#f00">Intercept=0.59</text>
<text x="207.1" y="318.9" font-size="9.5" fill="#222" clip-path="url(#cp21)">1:1</text>
<clipPath id="cp22"><rect x="352.5" y="238.5" width="117.3" height="82.9"/></clipPath>
<g stroke-width="1.8" stroke-linecap="square" fill="none"><path d="M406.8 286.5h0M397.9 289.0h0M404.7 283.6h0M405.5 282.7h0M397.0 288.6h0M404.6 296.4h0M411.4 294.2h0M395.8 282.3h0M404.8 286.9h0M421.1 285.2h0M402.1 285.9h0M408.5 289.5h0M411.4 289.4h0M401.1 297.5h0M403.4 288.6h0M408.4 288.6h0M414.0 291.9h0M404.5 290.9h0M408.1 289.6h0M401.1 293.3h0M399.0 296.1h0M418.9 284.3h0M401.9 297.7h0M410.0 290.0h0M406.1 289.1h0M409.7 284.3h0M410.9 286.0h0M403.6 292.0h0M402.7 290.4h0M410.4 286.8h0M403.4 295.4h0M395.3 300.9h0M404.2 291.3h0M398.9 297.5h0M406.7 288.1h0M418.3 281.5h0M403.5 289.7h0M411.7 283.1h0M400.0 301.0h0M398.6 292.3h0M396.3 290.7h0M404.9 293.1h0M407.5 287.0h0M397.5 292.9h0M398.6 287.2h0M403.1 284.2h0M401.2 293.4h0M404.3 292.9h0M407.8 289.4h0M404.1 294.3h0M398.3 289.5h0M415.4 288.2h0M400.2 287.4h0M409.5 286.4h0M399.7 289.2h0M403.9 291.1h0M403.6 292.7h0M402.2 297.3h0M410.4 281.7h0M411.2 287.4h0M403.4 289.2h0M408.4 293.4h0M392.3 292.9h0M411.0 288.4h0M409.2 291.2h0M407.9 290.0h0M407.5 288.6h0M412.3 285.1h0M400.6 298.5h0M408.7 288.0h0M403.8 294.3h0M412.4 284.3h0M402.2 288.5h0M404.5 296.3h0M406.7 291.7h0M404.7 287.1h0M396.4 288.1h0M396.7 292.4h0M406.1 293.8h0M409.2 285.9h0M410.6 291.9h0M424.4 287.2h0M415.8 286.5h0M399.0 285.3h0M406.5 287.2h0M405.0 291.8h0M390.9 287.0h0M402.3 285.8h0M416.1 284.8h0M404.6 290.4h0M407.2 286.1h0M402.8 300.2h0M401.6 295.5h0M406.1 291.5h0M406.8 282.8h0M403.0 291.2h0M406.4 291.4h0M409.9 283.8h0M407.4 288.6h0M414.0 291.1h0M400.6 298.7h0M406.4 289.6h0M406.4 289.8h0M412.6 284.2h0M407.9 283.1h0M401.4 293.7h0M406.8 288.1h0M396.2 301.6h0M403.0 290.1h0M410.4 286.0h0M410.0 295.2h0M402.6 285.4h0M412.4 291.3h0M399.5 291.6h0M397.5 291.1h0M418.3 286.1h0M397.6 288.9h0M404.1 292.8h0M400.0 293.9h0M402.5 299.0h0M401.8 292.7h0M399.5 294.1h0M397.6 300.4h0M409.0 294.4h0M406.3 286.5h0M405.6 295.5h0M405.4 287.9h0M398.8 292.3h0M404.0 283.3h0M399.7 299.8h0M411.3 282.8h0M402.6 286.0h0M392.4 306.8h0M394.4 297.7h0M414.9 290.3h0M402.3 297.0h0M396.2 293.0h0M405.1 286.3h0M406.1 287.9h0M399.4 296.0h0M402.7 289.9h0M407.0 287.1h0M394.2 304.2h0M401.5 286.9h0M403.2 284.9h0M398.4 288.5h0M399.7 297.6h0M390.7 303.0h0M399.7 293.0h0M403.2 283.2h0M396.9 304.5h0M417.5 285.3h0M401.2 294.9h0M402.6 295.5h0M403.9 286.8h0M401.9 296.3h0M402.7 291.3h0M404.8 289.1h0M404.1 287.2h0M420.6 287.5h0M391.9 299.8h0M406.6 283.0h0M394.3 288.1h0M399.3 288.7h0M398.4 300.7h0M402.4 298.5h0M404.3 290.0h0M403.1 299.3h0M400.0 304.9h0M403.6 287.6h0M400.8 301.1h0M398.9 301.5h0M404.7 296.3h0M401.3 288.3h0M412.2 288.3h0M405.6 288.3h0M402.1 285.9h0M402.3 289.9h0M404.2 293.4h0M401.3 294.5h0M397.7 293.6h0M419.9 285.1h0M400.2 287.6h0M399.6 284.2h0M408.3 286.0h0M402.8 295.6h0M402.6 282.8h0M412.8 288.0h0M394.3 286.1h0M404.2 290.7h0M425.6 286.5h0M394.3 288.0h0M407.6 287.0h0M421.8 283.4h0M410.7 288.3h0M404.8 294.7h0M403.3 293.6h0M411.3 290.4h0M398.6 284.2h0M417.2 292.5h0M416.0 289.7h0M397.6 291.4h0M401.9 294.9h0M411.4 283.9h0M404.7 285.9h0M404.0 288.9h0M400.1 292.4h0M401.8 288.6h0M420.2 279.0h0M400.5 296.6h0M402.5 292.1h0M405.1 287.4h0M399.1 295.9h0M402.4 286.2h0M397.7 291.2h0M397.4 303.0h0M400.3 291.5h0M400.4 295.4h0M396.5 299.6h0M404.1 293.3h0M407.6 284.1h0M405.8 287.8h0M416.5 285.3h0M397.4 291.0h0M407.8 287.0h0M403.0 291.9h0M411.2 281.5h0M410.8 280.9h0M401.4 295.6h0M407.8 298.1h0M404.7 288.9h0M394.6 286.0h0M401.6 292.5h0M397.0 296.1h0M391.7 295.8h0M407.1 289.5h0M407.4 282.5h0M406.2 286.7h0M392.4 301.3h0M394.6 288.6h0M426.1 284.2h0M404.1 287.0h0M406.2 290.8h0M399.4 286.6h0M400.8 301.4h0M413.1 290.7h0M404.0 285.9h0M399.3 291.2h0M402.1 295.0h0M407.5 289.1h0M400.6 295.5h0M407.3 289.4h0M401.0 291.1h0M420.5 282.9h0M407.0 285.5h0M408.5 292.6h0M408.9 289.8h0M408.0 284.5h0M399.2 290.4h0M404.8 288.9h0M397.9 294.1h0M409.9 287.5h0M406.1 290.4h0M396.8 294.8h0M409.9 285.9h0M406.8 288.6h0M408.2 284.7h0M417.4 282.0h0M414.0 285.9h0M409.0 291.8h0M403.3 291.9h0M404.6 289.6h0M417.5 289.8h0M403.8 288.7h0M402.2 294.9h0M413.0 287.1h0M399.6 290.5h0M399.4 298.4h0M401.4 291.3h0M407.1 288.9h0M407.4 284.0h0M403.4 292.7h0M402.5 294.0h0M401.4 299.5h0M401.7 299.1h0M400.5 299.9h0M405.6 294.0h0M412.9 282.3h0M401.9 293.5h0M407.3 283.8h0M407.7 285.2h0M401.8 289.7h0M407.3 298.5h0M402.6 286.8h0M415.2 286.8h0M404.1 290.4h0M410.2 286.7h0M403.2 286.1h0M412.5 287.7h0M405.1 289.1h0M405.9 292.2h0M406.6 291.4h0M408.3 290.1h0M399.2 293.8h0M411.3 287.8h0M405.6 290.9h0M412.9 288.4h0M392.3 287.5h0M404.2 293.5h0M402.4 293.7h0M395.2 301.8h0M412.3 287.6h0M404.5 291.9h0M399.2 302.7h0M413.6 284.8h0M402.7 285.7h0M401.6 295.5h0M394.1 285.3h0M399.7 287.2h0M396.0 290.7h0M405.0 288.0h0M395.2 304.4h0M418.2 291.8h0M399.6 291.3h0M400.7 283.1h0M402.4 300.1h0M403.6 285.0h0M401.9 287.0h0M400.4 307.0h0M408.1 284.8h0M392.6 293.1h0M400.1 295.6h0M392.4 290.6h0M406.0 285.2h0M404.1 289.2h0M419.3 285.4h0M402.4 288.4h0M411.1 287.7h0M402.8 293.1h0M400.2 297.3h0M415.6 282.0h0M408.9 287.4h0M424.2 289.5h0M419.7 289.0h0M400.5 284.2h0M398.7 290.1h0M402.5 292.3h0M409.0 293.7h0M400.8 286.0h0M398.5 290.7h0M405.0 290.7h0M402.0 292.8h0M415.1 293.3h0M394.6 304.1h0M395.7 299.9h0M401.7 299.5h0M394.2 284.6h0M397.5 288.5h0M399.4 291.0h0M410.2 284.0h0M398.5 293.2h0M394.8 293.6h0M399.9 285.9h0M398.9 297.3h0M401.9 287.0h0M403.4 291.4h0M414.5 289.1h0M407.1 283.5h0M400.9 296.4h0M413.4 282.4h0M399.3 292.7h0M405.2 288.4h0M399.6 305.7h0M403.7 290.5h0M413.3 284.0h0M401.7 284.9h0M398.9 295.5h0M404.2 292.4h0M406.5 284.8h0M408.2 296.1h0M405.1 294.1h0M403.1 293.6h0M401.8 292.4h0M416.7 285.9h0M403.1 294.0h0M400.0 296.5h0M399.8 289.8h0M396.5 290.5h0M399.5 291.3h0M401.3 287.1h0M400.8 296.8h0M405.0 290.1h0M396.5 296.0h0M389.7 290.7h0M396.8 304.9h0M409.9 280.4h0M397.3 296.3h0M412.0 287.3h0M398.2 302.0h0M393.4 296.5h0M406.8 289.1h0M403.6 288.1h0M402.3 291.7h0M411.9 283.8h0M405.9 290.5h0M402.2 293.1h0M406.1 286.9h0M394.3 293.1h0M401.3 292.8h0M424.4 284.9h0M400.1 295.4h0M397.4 298.1h0M402.8 293.9h0M407.7 295.6h0M399.7 298.6h0M404.5 300.6h0M397.8 295.9h0M405.5 288.5h0M409.4 287.2h0M402.8 287.5h0M407.3 294.4h0M395.6 293.0h0M397.5 291.8h0M398.4 298.3h0M410.7 283.1h0M401.6 294.4h0M405.2 290.8h0M401.6 290.9h0M412.9 285.0h0M400.9 301.6h0M411.2 284.0h0M397.4 291.1h0M396.9 296.0h0M406.4 299.1h0M395.2 289.5h0M403.5 288.2h0M407.7 287.6h0M404.5 286.4h0M399.6 293.9h0M399.7 287.2h0M394.7 291.7h0M420.3 289.0h0M394.2 287.7h0M402.6 288.6h0M398.1 293.9h0M398.6 292.7h0M391.8 286.3h0M401.0 290.3h0M405.1 285.7h0M402.3 296.2h0M406.0 288.5h0M411.6 288.6h0M404.6 289.1h0M413.0 284.9h0M393.4 297.6h0M397.7 292.3h0M403.9 286.2h0M410.4 288.9h0M403.4 301.3h0M415.1 294.4h0M413.7 285.6h0M415.1 283.7h0M414.4 284.8h0M399.6 286.9h0M397.4 294.7h0M396.3 291.3h0M405.5 284.8h0M404.1 287.6h0M411.5 281.8h0M403.6 290.6h0M406.6 292.6h0M409.3 285.6h0M414.1 286.4h0M391.8 292.7h0M407.1 289.9h0M399.3 291.5h0M399.1 292.0h0M399.6 290.5h0M402.6 295.0h0M403.6 291.1h0M399.6 286.9h0M408.1 291.6h0M405.7 295.2h0M401.5 293.4h0M414.2 288.3h0M403.9 287.9h0M414.0 287.5h0M396.2 292.1h0M409.6 291.9h0M414.8 283.5h0M403.0 283.3h0M400.0 301.2h0M393.6 297.6h0M397.1 293.1h0M401.3 291.2h0M403.3 299.5h0M402.8 285.2h0M401.3 293.2h0M402.5 286.4h0M403.9 296.5h0M394.2 289.3h0M396.9 290.3h0M406.0 289.1h0M415.2 287.4h0M401.2 297.3h0M413.1 286.6h0M410.9 291.7h0M421.6 290.3h0M406.6 287.8h0M410.8 282.5h0M396.3 286.8h0M417.0 284.3h0M412.7 294.9h0M405.2 291.7h0M393.8 293.0h0M414.6 285.9h0M405.5 287.0h0M404.9 289.8h0M402.0 298.8h0M401.1 296.4h0M403.4 295.0h0M402.0 296.1h0M398.5 290.1h0M418.1 287.0h0M397.4 291.6h0M399.8 285.4h0M421.9 282.5h0M403.1 298.2h0M395.6 297.2h0M395.4 288.3h0M401.1 288.1h0M407.4 294.7h0M409.6 286.0h0M403.9 293.7h0M408.4 288.1h0M412.1 292.0h0M419.9 279.8h0M400.4 291.3h0M397.0 300.6h0M398.7 292.7h0M412.9 284.9h0M415.5 289.8h0M405.0 290.8h0M398.6 292.5h0M402.0 292.0h0M401.2 292.6h0M407.9 290.3h0M400.8 288.6h0M401.7 294.3h0M400.5 296.6h0M409.3 290.5h0M404.9 287.3h0M404.8 290.2h0M418.7 291.3h0M395.9 285.6h0M400.8 296.6h0M421.3 290.0h0M405.6 293.9h0M405.9 289.7h0M403.0 288.7h0M414.1 283.2h0M402.3 297.5h0M401.5 288.7h0M396.4 305.8h0M409.2 291.7h0M391.0 290.6h0M407.3 284.4h0M391.3 301.6h0M415.2 281.7h0M409.8 289.5h0M400.6 288.3h0M397.5 300.0h0M403.3 287.9h0M403.7 291.0h0M405.1 288.2h0M401.6 286.7h0M403.5 288.7h0M399.5 291.1h0M403.1 291.1h0M399.1 290.1h0M395.4 300.9h0M391.0 307.2h0M418.1 289.2h0M392.1 294.0h0M398.2 307.5h0M402.2 284.7h0M399.2 294.6h0M405.6 291.6h0M400.7 287.6h0M404.2 289.8h0M400.0 290.1h0M417.5 287.4h0M409.8 286.2h0M404.5 284.9h0M406.3 294.5h0M401.8 292.6h0M411.7 289.1h0M425.0 285.3h0M406.6 292.5h0M396.6 297.2h0M396.3 299.8h0M392.3 295.6h0M402.0 283.3h0M426.1 288.1h0M395.2 303.4h0M404.7 292.9h0M409.2 288.2h0M406.8 289.8h0M413.9 285.1h0M403.9 291.4h0M407.1 292.3h0M400.0 298.0h0M396.0 297.6h0M402.2 292.9h0M390.3 299.0h0M401.8 293.2h0M400.6 286.8h0M407.0 289.5h0M413.5 291.5h0M409.4 289.5h0M396.5 297.7h0M401.2 294.9h0M401.8 304.2h0M409.1 289.1h0M403.1 293.5h0M400.8 288.3h0M407.4 286.7h0M406.5 294.1h0M402.4 293.4h0M396.0 292.0h0M397.7 287.5h0M400.3 292.2h0M420.0 281.3h0M406.4 295.0h0M399.9 296.8h0M418.4 288.7h0M406.6 287.0h0M404.5 295.6h0M400.0 295.8h0M403.0 286.8h0M406.9 286.5h0M399.8 286.8h0M398.7 304.5h0M404.9 289.7h0M410.0 290.8h0M398.6 295.6h0M406.0 285.7h0M403.9 290.3h0M400.6 287.7h0M394.2 299.8h0M404.5 291.0h0M404.5 296.0h0M402.7 292.5h0M412.7 283.1h0M399.6 300.9h0M396.2 299.5h0M411.3 283.0h0M400.9 291.3h0M400.6 297.3h0M399.4 287.4h0M409.9 285.4h0M399.7 292.0h0M407.9 288.1h0M404.0 289.9h0M403.5 293.3h0M403.5 292.7h0M408.5 286.9h0M400.4 291.9h0M409.8 282.4h0M398.1 299.0h0M410.1 284.5h0M427.7 292.5h0M397.1 297.4h0M407.4 281.5h0M403.0 295.7h0M408.6 284.4h0M399.8 289.8h0M399.7 292.6h0M410.5 283.7h0M394.2 295.9h0M413.0 284.1h0M409.1 285.5h0M398.4 294.5h0M400.5 294.2h0M418.1 286.1h0M402.6 294.6h0M398.0 302.8h0M407.5 297.6h0M396.4 295.4h0M395.4 293.7h0M406.2 294.6h0M414.9 277.9h0M397.8 292.7h0M404.6 292.2h0M400.6 294.4h0M402.1 300.0h0M394.7 299.9h0M399.8 296.5h0M408.7 288.2h0M419.9 291.4h0M399.9 285.9h0M403.7 291.3h0M399.8 293.4h0M395.4 300.9h0M406.4 282.4h0M405.8 287.6h0M402.4 291.6h0M408.6 294.7h0M407.5 285.4h0M402.6 284.8h0M409.7 283.0h0M399.8 299.8h0M402.2 286.7h0M416.8 287.5h0M406.2 293.9h0M396.5 293.9h0M410.8 279.5h0M418.5 282.9h0M424.1 284.3h0M406.6 293.5h0M414.9 286.4h0M411.3 284.5h0M395.8 297.4h0M396.2 306.1h0M404.5 295.0h0M400.1 294.0h0M400.8 294.8h0M400.6 301.4h0M416.9 288.3h0M403.4 290.2h0M409.5 286.7h0M400.0 291.7h0M399.0 299.1h0M394.7 303.6h0M395.3 291.8h0M401.0 287.3h0M396.3 291.9h0M405.4 284.1h0M401.2 300.7h0M412.5 284.1h0M405.6 290.9h0M403.4 291.4h0M411.9 283.9h0M397.0 295.6h0M403.3 294.6h0M402.2 296.1h0M402.3 285.6h0M401.2 301.9h0M409.4 292.2h0M399.9 288.0h0M411.7 287.2h0M411.5 285.4h0M402.8 292.5h0M404.0 292.1h0M397.0 293.7h0M399.1 289.7h0M430.5 292.6h0M401.1 293.5h0M411.2 284.8h0M407.7 291.4h0M400.2 285.1h0M407.0 289.5h0M396.2 296.4h0M406.4 299.5h0M401.3 291.0h0M403.3 291.3h0M406.4 290.0h0M402.5 302.3h0M405.8 287.6h0M403.2 289.5h0M398.6 299.4h0M399.7 289.2h0M412.0 289.3h0M398.1 296.3h0M408.2 292.3h0M414.1 290.3h0M402.4 292.7h0M395.2 297.2h0M410.7 293.8h0M406.7 300.6h0M391.5 288.5h0M408.7 296.0h0M410.0 287.3h0M405.4 292.1h0M397.1 294.2h0M398.1 291.1h0M394.7 293.2h0M422.0 286.3h0M415.7 285.4h0M405.3 289.8h0M412.1 294.3h0M401.2 293.9h0M394.6 299.9h0M401.1 293.0h0M405.4 289.1h0M405.9 293.7h0M399.5 289.3h0M394.7 292.9h0M409.0 291.3h0M399.1 290.8h0M405.5 290.9h0M399.5 296.7h0M397.0 284.5h0M397.2 283.2h0M412.9 284.9h0M415.5 286.8h0M403.4 291.2h0M413.0 283.8h0M396.0 302.5h0M404.5 294.2h0M407.6 287.0h0M403.9 297.5h0M408.9 296.1h0M399.5 293.6h0M403.1 289.1h0M405.8 292.1h0M400.3 289.3h0M397.3 296.6h0M403.7 288.0h0M396.5 296.3h0M414.1 284.4h0M412.9 284.9h0M403.8 285.5h0M395.0 293.7h0M407.7 289.3h0M400.0 289.0h0M394.7 300.0h0M409.0 283.9h0M416.2 284.2h0M400.1 297.8h0M408.8 284.4h0M403.7 283.7h0M412.4 287.2h0M399.2 300.4h0M419.3 287.6h0M409.5 291.2h0M420.6 282.0h0M407.4 294.5h0M408.5 294.4h0M407.9 289.8h0M408.8 285.4h0M406.7 291.0h0M404.4 288.5h0M399.1 297.7h0M400.3 292.8h0M405.5 282.9h0M403.7 293.1h0M400.7 289.2h0M405.6 294.3h0M400.8 286.3h0M397.7 296.0h0M396.2 287.8h0M394.5 302.8h0M401.0 283.7h0M394.4 299.6h0M396.4 297.3h0M396.3 290.1h0M411.6 285.7h0M418.4 289.2h0M399.8 298.8h0M408.5 289.7h0M410.5 287.0h0M428.6 286.6h0M405.7 289.8h0M411.3 286.6h0M403.7 287.6h0M424.7 287.1h0M394.2 294.3h0M406.3 289.5h0M403.0 290.5h0M396.1 296.6h0M391.6 296.8h0M390.6 299.4h0M408.5 285.2h0M403.4 287.0h0M413.4 284.9h0M404.2 292.3h0M405.9 283.9h0M410.3 283.5h0M400.3 285.2h0M401.6 302.5h0M395.5 298.0h0M402.2 294.9h0M404.0 290.8h0M394.4 288.8h0M401.2 297.9h0M404.5 290.1h0M416.8 289.2h0M404.3 289.9h0M406.0 281.6h0M400.7 296.4h0M400.8 292.2h0M389.9 298.8h0M409.8 288.6h0M401.2 294.1h0M396.0 294.3h0M406.2 285.8h0M408.4 285.3h0M402.7 297.9h0M413.8 289.5h0M407.5 289.2h0M407.8 290.1h0M407.0 285.9h0M406.1 286.8h0M404.1 289.2h0M407.6 287.9h0M400.1 283.6h0M408.1 290.2h0M394.9 304.3h0M393.2 310.9h0M397.3 305.4h0M400.4 306.9h0M403.2 310.3h0M394.9 308.0h0" stroke="#1000f0"/><path d="M409.9 283.8h0M418.0 280.2h0M416.4 282.9h0M398.9 281.6h0M417.2 283.1h0M398.0 286.2h0M426.6 279.3h0M414.8 279.9h0M414.6 281.2h0M402.3 289.6h0M419.9 279.3h0M394.0 282.5h0M412.9 276.1h0M397.4 278.3h0M426.0 279.8h0M403.3 283.3h0M413.4 282.4h0M407.4 286.9h0M407.2 283.1h0M412.5 280.3h0M404.1 281.6h0M402.4 277.2h0M407.6 283.6h0M422.7 281.2h0M409.6 283.1h0M418.5 275.3h0M417.9 275.9h0M432.8 280.4h0M401.5 282.8h0M404.8 284.3h0M409.0 283.0h0M411.4 281.7h0M424.5 282.3h0M415.6 282.0h0M401.3 282.3h0M415.1 280.7h0M407.9 281.4h0M431.6 282.7h0M406.0 288.2h0M405.2 284.1h0M408.2 277.7h0M414.0 280.8h0M419.2 278.9h0M408.3 281.7h0M407.0 279.1h0M402.9 284.4h0M422.2 279.1h0M404.5 284.6h0M402.1 280.3h0M416.7 284.9h0M404.2 281.9h0M406.9 288.5h0M427.9 277.6h0M418.1 279.9h0M397.9 283.8h0M410.6 282.4h0M411.7 281.9h0M406.6 281.7h0M414.8 283.0h0M415.7 283.4h0M410.3 278.3h0M429.1 280.5h0M407.2 281.8h0M421.5 281.9h0M400.9 277.7h0M410.3 282.5h0M395.6 278.6h0M410.6 280.9h0M406.6 282.4h0M425.7 281.1h0M420.8 281.5h0M412.8 283.6h0M413.1 277.6h0M404.3 282.7h0M399.5 284.8h0M418.7 282.4h0M407.7 283.7h0M425.6 284.8h0M410.3 285.3h0M413.1 279.7h0M402.1 282.1h0M412.9 282.8h0M403.0 281.9h0M408.2 279.8h0M405.4 282.3h0M405.2 282.9h0M402.8 283.7h0M421.0 281.1h0M403.3 282.7h0M402.2 282.5h0M429.6 278.9h0M427.3 282.3h0M400.0 281.2h0M403.0 283.2h0M401.9 281.1h0M425.0 280.4h0M411.2 279.7h0M408.3 278.0h0M404.7 281.8h0M399.5 282.6h0M403.7 284.6h0M412.4 283.0h0M417.6 280.7h0M411.8 278.3h0M405.2 279.9h0M429.4 281.0h0M396.3 287.4h0M403.2 287.2h0M415.3 278.3h0M414.8 283.0h0M410.9 281.3h0M432.3 280.9h0M422.7 278.0h0M418.6 279.2h0M412.6 276.5h0M412.0 284.1h0M420.1 282.4h0M415.1 283.8h0M408.7 277.8h0M401.8 287.5h0M412.8 280.9h0M409.7 276.8h0M413.1 280.1h0M413.2 280.4h0M408.7 281.3h0M416.8 285.2h0M413.1 283.3h0M414.1 281.9h0M406.1 278.7h0M413.9 282.2h0M421.8 278.2h0M399.8 286.4h0M415.8 280.4h0M409.4 278.9h0M404.7 284.9h0M402.1 298.0h0M400.8 285.5h0M395.8 284.0h0M399.0 284.6h0M412.2 281.6h0M423.3 280.0h0M400.2 280.1h0M416.6 276.4h0M412.6 281.9h0M412.3 280.5h0M409.2 279.6h0M413.3 276.8h0M411.0 279.3h0M397.9 284.9h0M392.1 282.1h0M415.8 280.1h0M405.5 285.1h0M418.8 277.4h0M419.3 277.7h0M408.1 280.8h0M422.4 279.7h0M399.3 281.0h0M412.4 282.3h0M418.5 280.9h0M410.5 284.0h0M421.2 282.5h0M406.3 279.2h0M404.6 282.9h0M408.1 282.7h0M418.7 280.8h0M413.6 286.2h0M401.0 279.4h0M420.2 281.3h0M402.0 280.6h0M398.7 282.2h0M414.5 283.6h0M404.6 281.8h0M406.1 288.8h0M419.2 277.3h0M404.2 282.2h0M415.4 282.8h0M408.6 281.7h0M407.0 282.1h0M419.4 282.4h0M396.2 281.9h0M402.2 278.7h0M411.7 278.0h0M416.9 281.3h0M406.2 284.5h0M431.2 285.7h0M411.1 278.0h0M410.3 282.8h0M411.8 281.0h0M409.0 287.9h0M411.8 284.3h0M389.6 282.0h0M407.5 280.6h0M410.9 281.8h0M408.4 279.4h0M405.0 281.0h0M406.7 279.7h0M398.4 283.3h0M418.4 283.8h0M423.4 278.6h0M396.5 282.6h0M419.6 280.0h0M398.9 281.6h0M409.3 285.0h0M415.0 275.2h0M410.0 281.0h0M408.5 282.8h0M410.8 280.1h0M406.3 280.8h0M409.4 277.1h0M416.5 282.4h0M401.3 283.2h0M410.4 277.3h0M406.6 283.8h0M402.4 281.7h0M422.8 280.8h0M409.6 279.4h0M400.4 282.0h0M418.1 276.5h0M413.5 280.3h0M407.1 285.3h0M400.0 283.3h0M418.6 279.0h0M408.4 282.9h0M411.7 286.2h0M419.7 278.4h0M407.4 282.8h0M414.3 277.0h0M411.2 283.2h0M407.1 281.0h0M409.1 283.9h0M414.5 280.0h0M403.0 282.3h0M418.4 277.6h0M408.9 279.4h0M417.7 281.3h0M400.2 281.3h0M406.8 285.0h0M405.7 285.0h0M408.2 282.4h0M400.6 280.3h0M403.4 282.7h0M409.4 280.3h0M418.5 275.8h0M407.1 284.0h0M403.3 283.7h0M404.4 281.9h0M418.9 282.1h0M422.4 279.2h0M420.8 280.2h0M422.3 279.4h0M412.7 283.4h0M404.6 282.0h0M409.6 282.8h0M391.7 282.9h0M399.9 283.9h0M407.1 284.7h0M420.1 279.6h0M404.9 279.1h0M424.6 275.4h0M408.8 283.9h0M405.4 282.2h0M414.6 283.3h0M408.0 279.5h0M424.8 277.1h0M415.2 284.5h0M405.5 276.7h0" stroke="#1808f0"/><path d="M421.2 281.2h0M424.5 277.4h0M412.4 274.9h0M415.1 274.9h0M424.6 277.8h0M427.7 280.4h0M405.5 277.1h0M415.0 271.8h0M406.5 278.6h0M422.7 276.6h0M408.2 275.8h0M414.2 275.7h0M417.1 279.1h0M404.7 277.7h0M418.9 279.7h0M427.1 279.7h0M414.2 279.9h0M425.1 276.7h0M416.1 278.0h0M414.5 273.2h0M406.6 279.9h0M425.4 279.5h0M407.0 275.3h0M405.5 276.1h0M406.8 283.6h0M407.5 279.1h0M405.1 278.8h0M416.0 277.1h0M407.3 276.0h0M407.6 275.5h0M415.1 277.4h0M421.5 276.6h0M424.3 276.2h0M424.6 277.0h0M412.8 277.1h0M412.1 279.0h0M429.8 278.8h0M414.8 276.9h0M428.0 273.8h0M410.9 280.4h0M412.2 277.1h0M409.0 278.2h0M413.2 273.5h0M419.1 278.6h0M425.6 277.3h0M403.0 277.7h0M417.5 277.5h0M413.6 276.0h0M425.5 277.6h0M415.3 278.9h0M412.3 277.7h0M417.8 279.0h0M409.3 275.9h0M424.0 277.7h0M420.0 276.2h0M409.4 276.3h0M397.5 280.2h0M419.5 274.7h0M404.6 277.9h0M412.3 276.6h0M431.0 280.4h0M423.0 277.0h0M407.9 277.7h0M408.1 279.3h0M423.9 277.8h0M403.2 277.2h0M411.7 280.3h0M418.9 275.5h0M408.0 277.8h0M402.5 277.4h0M406.2 276.6h0M400.2 278.2h0M428.5 278.2h0M406.6 279.0h0M409.1 277.5h0M411.1 277.1h0M416.0 275.9h0M430.9 282.0h0M416.0 275.0h0M414.3 274.5h0M432.7 282.3h0M412.3 275.0h0M408.5 277.5h0M401.5 274.0h0M422.9 272.4h0M415.1 277.2h0M406.5 276.3h0M420.5 275.9h0M408.3 277.1h0M409.2 276.3h0M403.7 280.0h0" stroke="#3040f0"/><path d="M427.3 277.4h0M426.0 275.4h0M414.7 274.1h0M432.4 279.2h0M416.8 272.0h0M413.4 274.4h0M417.8 272.2h0M432.4 279.1h0M415.4 270.5h0M421.8 271.9h0M428.4 278.7h0M415.7 276.2h0M425.1 273.7h0M411.1 276.6h0M431.7 275.9h0M438.4 280.4h0M403.3 275.9h0M425.7 274.1h0M417.2 275.2h0M410.4 274.8h0M432.1 279.0h0M425.2 273.1h0M426.2 273.9h0M418.6 275.2h0M419.8 272.7h0M415.5 276.9h0M423.5 274.4h0M417.2 275.4h0M429.3 277.5h0M409.7 273.1h0M415.6 275.7h0M395.5 275.2h0M410.1 273.6h0M426.8 273.6h0M423.6 272.2h0M402.9 275.7h0M411.8 274.9h0M418.7 273.2h0M425.5 274.7h0M413.1 275.6h0M419.6 274.7h0M418.4 275.4h0M427.5 276.0h0M404.4 271.2h0M429.1 274.1h0M419.6 273.7h0M431.5 273.7h0M412.1 273.1h0M425.2 274.7h0M404.2 277.2h0M429.6 275.3h0M425.3 274.7h0M419.0 272.8h0M404.7 274.4h0M409.3 276.5h0M404.2 274.0h0M410.5 276.4h0M401.0 274.1h0M430.3 275.0h0M418.6 273.0h0M394.0 277.8h0M408.3 274.1h0" stroke="#4070f8"/><path d="M429.2 276.2h0M406.8 274.4h0M429.8 272.6h0M414.4 272.8h0M414.4 271.0h0M417.0 273.4h0M424.6 272.0h0M423.3 272.9h0M412.4 274.1h0M420.2 270.3h0M416.4 272.3h0M406.6 274.7h0M397.2 275.0h0M421.9 271.3h0M424.9 273.2h0M427.5 275.5h0M428.1 272.4h0M426.7 274.6h0M430.1 275.6h0M427.5 276.2h0M421.2 272.5h0M430.4 275.0h0M418.4 274.6h0M411.8 273.0h0M418.6 272.4h0M424.8 275.6h0M415.4 273.2h0M415.2 271.9h0M400.2 274.4h0M405.7 271.5h0M411.1 273.8h0M404.4 273.3h0M407.3 274.8h0M433.8 276.9h0M426.4 273.8h0M415.3 271.1h0M425.2 272.8h0M417.1 270.6h0M432.0 274.2h0" stroke="#4890f8"/><path d="M431.0 274.7h0M424.7 271.9h0M411.5 272.8h0M406.5 272.8h0M426.4 272.1h0M430.4 270.6h0M431.7 276.3h0M420.8 270.3h0M423.8 270.8h0M423.0 269.1h0M418.1 272.0h0M435.1 274.0h0M417.6 271.5h0M417.3 271.6h0M422.8 270.5h0M422.3 270.3h0M408.0 272.9h0M419.7 273.9h0M410.3 270.4h0M407.1 271.6h0M416.5 273.7h0M409.5 271.5h0M396.9 271.9h0M426.7 273.4h0M415.6 272.9h0M421.1 270.9h0M421.9 268.5h0M410.4 271.8h0M405.4 271.4h0M423.3 270.3h0M424.5 270.5h0M420.3 271.4h0M419.8 271.5h0M408.8 273.8h0M407.8 272.8h0" stroke="#50a8f8"/><path d="M429.9 269.4h0M420.7 271.1h0M425.6 269.7h0M427.3 268.8h0M429.2 271.4h0M422.2 271.8h0M433.8 273.8h0M423.0 269.7h0M428.2 270.5h0M433.3 274.9h0M433.2 271.8h0M434.5 275.6h0M414.8 271.7h0M422.2 270.6h0M427.0 273.0h0M423.1 269.7h0M427.3 270.3h0M424.1 271.6h0M425.3 272.6h0M408.2 271.9h0M428.1 272.3h0M429.4 273.4h0M429.0 272.5h0" stroke="#58c8f8"/><path d="M428.8 269.3h0M433.7 269.9h0M426.7 268.5h0M433.5 271.6h0M437.2 271.7h0M428.7 270.9h0M406.2 270.4h0M426.6 268.6h0M414.7 269.6h0M434.8 272.9h0M406.3 271.6h0M414.7 270.3h0M424.1 270.7h0M410.0 269.3h0M426.7 268.8h0M419.2 267.8h0M424.1 267.9h0M422.4 270.6h0M427.2 269.1h0M432.5 272.2h0M421.8 269.7h0M408.7 270.8h0M418.9 270.9h0M412.3 269.3h0M424.3 269.8h0M422.0 267.7h0M422.4 269.7h0" stroke="#68e8f8"/><path d="M426.7 267.4h0M433.2 273.9h0M426.8 269.6h0M430.7 270.8h0M434.3 269.7h0M431.7 273.0h0M422.8 268.5h0M417.7 269.1h0M423.7 270.0h0M427.0 270.7h0M425.7 269.7h0M428.4 271.0h0M420.0 270.5h0M427.6 270.0h0M428.2 269.7h0M422.5 267.8h0M421.3 268.5h0M429.8 269.1h0M421.4 268.2h0M433.9 269.9h0M422.9 267.8h0M421.0 267.6h0M425.0 269.2h0M416.5 267.7h0M431.3 273.4h0M426.4 267.1h0M425.0 270.2h0M424.1 267.8h0M426.9 268.8h0M428.6 269.3h0M433.1 271.9h0M437.6 276.5h0M419.8 268.4h0M419.5 269.7h0M420.4 266.8h0M398.2 268.3h0M437.3 270.9h0M417.2 269.6h0" stroke="#70f8f0"/><path d="M434.9 272.1h0M412.8 268.1h0M431.5 267.9h0M427.5 268.3h0M429.0 268.7h0M423.5 265.7h0M409.0 267.1h0M418.7 267.6h0M424.1 266.9h0M423.4 269.2h0M438.0 271.8h0M420.9 266.7h0M418.7 268.1h0M425.5 267.7h0M439.6 273.8h0M423.2 269.3h0M426.4 267.4h0M426.4 267.4h0M435.7 270.4h0M405.2 267.4h0M437.3 271.6h0M414.0 269.5h0M429.5 270.2h0M444.1 270.4h0" stroke="#70f8e0"/><path d="M435.1 270.6h0M424.5 267.2h0M414.8 267.4h0M423.3 267.0h0M439.6 269.8h0M431.0 269.3h0M440.2 272.7h0M436.7 269.3h0M420.0 266.5h0M420.8 268.1h0M427.4 268.2h0M431.5 267.2h0M434.9 269.0h0M425.1 267.8h0M425.6 268.5h0M429.0 268.4h0M426.5 266.9h0M423.1 267.8h0M432.1 268.3h0M414.3 267.7h0M433.5 268.5h0M425.0 267.9h0M433.3 267.5h0M415.1 267.4h0M426.5 266.6h0M436.2 269.8h0M423.4 265.1h0M434.5 270.1h0M430.8 270.4h0M433.6 267.5h0" stroke="#70f8c8"/><path d="M429.9 267.4h0M405.8 265.3h0M424.5 267.2h0M431.5 268.1h0M431.0 268.7h0M428.3 266.9h0M419.0 265.9h0M434.1 268.8h0M431.4 268.0h0M428.6 267.0h0M431.4 267.1h0M431.5 266.6h0M421.8 266.3h0M441.4 267.1h0M428.3 266.6h0M433.6 265.5h0M431.3 269.1h0M437.0 270.6h0M413.5 264.8h0M415.0 266.5h0M431.8 267.2h0M421.6 265.6h0M429.9 266.5h0M423.6 265.6h0" stroke="#68f8b0"/><path d="M403.8 267.5h0M434.0 267.2h0M432.8 266.0h0M432.8 267.1h0M429.0 265.0h0M439.1 267.8h0M426.9 264.8h0M416.8 265.6h0M431.1 266.9h0M433.5 266.0h0M439.0 267.4h0M432.5 267.3h0M423.4 265.4h0M421.2 264.3h0M418.5 267.7h0M411.9 265.1h0M426.0 265.9h0M436.2 268.4h0M432.3 267.3h0M427.6 265.9h0M433.0 267.0h0M432.5 267.0h0" stroke="#60f8a0"/><path d="M429.5 265.7h0M435.0 269.0h0M427.8 264.4h0M425.4 263.1h0M436.6 265.2h0M425.8 265.6h0M423.9 264.6h0M437.0 267.3h0M424.7 264.4h0M435.4 268.2h0M438.3 267.0h0M403.1 266.3h0M436.2 268.7h0M427.1 264.7h0M440.2 270.1h0M428.3 264.0h0M428.1 264.4h0M433.8 265.8h0M425.5 265.1h0M433.3 268.1h0M444.6 269.1h0M444.7 269.2h0M434.0 267.7h0M425.0 263.8h0M424.9 264.4h0" stroke="#58f880"/><path d="M434.7 265.7h0M421.7 264.8h0M424.2 264.6h0M429.0 265.5h0M427.4 263.2h0M430.3 265.2h0M424.6 264.7h0M436.2 265.3h0M439.4 267.1h0M444.2 268.4h0M434.0 264.8h0M441.2 265.3h0M411.8 263.7h0M432.2 264.4h0M438.5 266.7h0M442.3 267.8h0M423.8 265.0h0M440.8 266.6h0M437.9 263.1h0M429.0 263.3h0M438.1 265.9h0" stroke="#50f860"/><path d="M433.2 265.6h0M425.1 263.6h0M430.5 263.7h0M437.4 267.2h0M421.4 263.6h0M422.9 263.0h0M428.6 263.9h0M438.7 266.5h0M441.5 266.2h0M436.5 265.8h0M444.5 266.5h0M422.8 263.4h0M432.4 264.3h0M427.3 262.5h0M434.5 263.0h0M436.3 264.1h0M435.9 264.0h0M446.9 265.6h0" stroke="#40f840"/><path d="M434.0 263.7h0M440.3 265.7h0M442.4 263.5h0M431.4 264.1h0M440.4 265.4h0M439.6 264.9h0M446.6 272.2h0M428.7 263.0h0M428.2 263.0h0M434.7 263.2h0M430.6 263.5h0M436.3 262.5h0M441.0 265.6h0M433.8 263.8h0M436.5 265.2h0M416.7 261.5h0M432.1 263.9h0M439.7 263.2h0M430.1 259.8h0M441.8 262.3h0M452.7 261.5h0" stroke="#30f820"/><path d="M439.9 263.4h0M430.5 261.4h0M425.5 261.2h0M436.0 262.9h0M413.6 263.1h0M440.5 264.8h0M435.1 261.9h0M435.9 263.4h0M435.1 263.2h0M427.2 262.0h0M438.6 264.5h0M434.3 261.6h0M432.8 261.9h0M442.6 263.8h0M437.8 264.6h0M442.9 264.4h0M429.5 260.5h0M438.2 262.6h0M443.9 263.4h0M439.5 265.9h0M425.4 261.5h0M430.2 262.7h0M441.3 262.5h0M432.9 261.3h0M429.9 262.8h0M442.4 266.7h0M437.9 265.7h0M454.5 260.1h0M448.0 263.9h0" stroke="#38f818"/><path d="M439.1 262.2h0M437.0 263.3h0M440.4 261.8h0M434.6 262.3h0M424.0 261.3h0M426.5 261.3h0M441.9 263.3h0M441.0 264.5h0M418.3 262.8h0M425.2 262.0h0M443.0 263.7h0M439.7 263.5h0M434.1 262.3h0M441.1 263.9h0M437.6 261.3h0M429.9 262.3h0M439.8 260.7h0M455.7 258.1h0M451.1 255.6h0M448.9 262.7h0" stroke="#48f818"/><path d="M447.5 261.9h0M431.9 261.0h0M438.7 261.0h0M446.3 262.3h0M434.4 261.8h0M446.6 262.1h0M438.2 260.8h0M445.4 262.1h0M437.8 262.8h0M436.2 264.0h0M441.4 262.8h0M432.4 261.6h0M443.3 263.4h0M446.0 263.2h0M428.3 262.3h0M433.3 260.2h0M431.8 261.2h0M434.5 262.3h0M441.8 262.5h0M433.4 262.0h0M425.2 260.6h0M425.4 259.9h0M445.4 262.8h0M431.5 261.4h0M435.4 261.0h0M453.5 255.6h0M455.4 259.0h0" stroke="#60f018"/><path d="M445.1 261.4h0M430.4 258.8h0M439.0 261.1h0M441.6 260.6h0M447.6 260.9h0M438.0 259.9h0M438.7 261.9h0M436.0 261.4h0M426.7 259.1h0M432.1 259.8h0M430.7 261.2h0M436.5 260.3h0M431.1 258.5h0M435.4 259.2h0M447.4 263.4h0M444.0 262.7h0M424.6 259.8h0M445.5 262.1h0M442.4 263.2h0M438.1 259.0h0M438.0 260.1h0M433.3 261.1h0M425.7 261.2h0M447.7 263.1h0M443.0 260.6h0" stroke="#88f020"/><path d="M433.7 258.8h0M430.1 260.4h0M444.1 261.5h0M441.1 260.4h0M440.7 260.8h0M434.9 259.1h0M445.8 261.5h0M441.5 261.2h0M435.1 258.9h0M446.6 261.4h0M435.9 259.0h0M432.7 259.1h0M434.9 261.3h0M425.1 258.4h0M433.5 260.0h0M436.6 260.2h0M441.3 261.9h0M445.8 269.2h0" stroke="#a8f028"/><path d="M444.4 260.2h0M445.4 260.0h0M442.2 259.9h0M441.6 259.2h0M431.4 258.2h0M441.0 260.0h0M442.4 259.3h0M435.9 259.8h0M436.8 262.0h0M437.3 259.7h0M442.0 260.3h0M440.5 259.4h0M443.5 260.7h0M441.6 258.7h0M459.0 255.7h0M456.8 256.1h0M445.0 267.5h0" stroke="#c8f030"/><path d="M438.6 256.4h0M430.6 256.6h0M432.4 256.0h0M447.4 260.5h0M444.1 259.8h0M434.3 257.6h0M436.4 259.4h0M440.7 257.9h0M444.9 260.4h0M436.5 257.6h0M439.0 256.8h0M434.4 258.9h0M438.8 260.1h0M439.6 258.1h0M435.1 259.5h0M439.7 258.5h0M445.9 258.7h0M439.9 260.5h0M435.1 258.5h0M443.3 259.0h0M435.7 259.5h0M438.1 256.7h0M457.8 254.5h0" stroke="#f0f838"/><path d="M445.2 258.6h0M439.0 258.1h0M446.8 258.0h0M435.8 257.0h0M438.8 257.5h0M441.7 258.6h0M440.9 258.6h0M445.3 256.8h0M444.9 258.0h0M445.9 259.0h0M434.6 257.6h0M441.4 257.0h0M433.4 257.4h0M439.2 259.0h0M435.0 256.4h0M449.0 259.6h0M421.6 255.5h0M447.1 260.1h0M441.2 257.4h0M440.7 259.2h0M437.9 257.4h0M437.8 256.5h0M456.3 254.2h0" stroke="#f0e040"/><path d="M441.9 257.2h0M436.6 257.0h0M436.1 258.3h0M444.9 257.0h0M443.7 258.9h0M441.8 256.1h0M433.6 256.9h0M441.9 257.2h0M439.6 256.2h0M439.7 255.9h0M438.1 257.4h0M459.3 253.4h0" stroke="#e8c038"/><path d="M430.4 255.8h0M444.4 255.2h0M435.5 256.4h0M428.1 255.6h0M443.3 255.4h0M440.1 257.2h0M443.5 256.9h0M432.6 255.6h0M436.0 256.1h0M445.8 257.6h0M436.3 256.6h0M441.8 256.0h0M439.0 257.1h0M441.0 259.3h0M444.1 256.5h0M444.7 255.3h0M450.5 255.6h0M443.6 256.1h0M441.3 255.5h0M444.5 256.9h0M440.0 255.3h0M443.2 255.9h0M433.6 256.1h0" stroke="#f0a030"/><path d="M445.2 255.3h0M439.5 255.2h0M437.1 256.0h0M435.8 255.8h0M441.8 256.5h0M438.1 255.1h0M447.5 256.6h0M445.9 256.4h0M441.1 256.7h0M439.7 256.2h0M430.8 255.0h0M447.8 256.5h0M439.6 255.2h0M437.8 255.2h0" stroke="#f08a28"/><path d="M442.1 255.5h0M439.5 255.2h0M442.2 257.4h0M441.3 256.0h0M458.0 252.6h0" stroke="#f06a20"/><path d="M437.8 255.1h0M430.3 257.1h0M430.4 257.3h0M462.8 251.1h0" stroke="#f04c18"/><path d="M445.5 257.3h0M446.6 257.3h0M428.8 257.0h0M419.6 258.0h0M421.1 257.1h0M425.1 257.5h0M426.8 257.1h0M456.5 250.7h0M460.6 250.6h0M461.7 249.3h0M449.7 261.6h0" stroke="#f0300e"/><path d="M430.4 257.3h0M438.1 257.4h0M425.8 257.5h0M457.9 250.1h0M464.1 251.7h0" stroke="#e8200c"/></g>
<line x1="383.7" y1="302.4" x2="464.2" y2="242.3" stroke="#ff1010" stroke-width="1.2"/>
<line x1="353.3" y1="321.4" x2="469.8" y2="238.5" stroke="#000" stroke-width="1.0" stroke-dasharray="1.5 1.2"/>
<rect x="352.5" y="238.5" width="117.3" height="82.9" fill="none" stroke="#111" stroke-width="1.2"/>
<path d="M352.6 321.4v1.0M356.8 321.4v1.0M352.5 318.9h-1.0M360.1 321.4v1.0M352.5 316.5h-1.0M362.8 321.4v1.0M352.5 314.6h-1.0M365.1 321.4v1.0M352.5 313.0h-1.0M367.1 321.4v1.0M352.5 311.6h-1.0M368.8 321.4v1.0M352.5 310.3h-1.0M370.4 321.4v1.8M352.5 309.2h-1.8M380.7 321.4v1.0M352.5 301.9h-1.0M386.7 321.4v1.0M352.5 297.6h-1.0M390.9 321.4v1.0M352.5 294.6h-1.0M394.2 321.4v1.0M352.5 292.2h-1.0M396.9 321.4v1.0M352.5 290.3h-1.0M399.2 321.4v1.0M352.5 288.7h-1.0M401.2 321.4v1.0M352.5 287.3h-1.0M402.9 321.4v1.0M352.5 286.1h-1.0M404.5 321.4v1.8M352.5 284.9h-1.8M414.8 321.4v1.0M352.5 277.6h-1.0M420.8 321.4v1.0M352.5 273.4h-1.0M425.0 321.4v1.0M352.5 270.3h-1.0M428.3 321.4v1.0M352.5 268.0h-1.0M431.0 321.4v1.0M352.5 266.1h-1.0M433.3 321.4v1.0M352.5 264.4h-1.0M435.3 321.4v1.0M352.5 263.0h-1.0M437.0 321.4v1.0M352.5 261.8h-1.0M438.6 321.4v1.8M352.5 260.7h-1.8M448.9 321.4v1.0M352.5 253.4h-1.0M454.9 321.4v1.0M352.5 249.1h-1.0M459.1 321.4v1.0M352.5 246.1h-1.0M462.4 321.4v1.0M352.5 243.7h-1.0M465.1 321.4v1.0M352.5 241.8h-1.0M467.4 321.4v1.0M352.5 240.2h-1.0M469.4 321.4v1.0M352.5 238.8h-1.0" stroke="#111" stroke-width="0.8" fill="none"/>
<text x="364.6" y="332.9" font-size="9.6" fill="#222">10<tspan font-size="6.8" dy="-4.4">5</tspan></text>
<text x="337.6" y="312.7" font-size="9.6" fill="#222">10<tspan font-size="6.8" dy="-4.4">5</tspan></text>
<text x="398.7" y="332.9" font-size="9.6" fill="#222">10<tspan font-size="6.8" dy="-4.4">6</tspan></text>
<text x="337.6" y="288.4" font-size="9.6" fill="#222">10<tspan font-size="6.8" dy="-4.4">6</tspan></text>
<text x="432.8" y="332.9" font-size="9.6" fill="#222">10<tspan font-size="6.8" dy="-4.4">7</tspan></text>
<text x="337.6" y="264.2" font-size="9.6" fill="#222">10<tspan font-size="6.8" dy="-4.4">7</tspan></text>
<text transform="translate(334.1,280.6) rotate(-90)" text-anchor="middle" font-size="11.4" fill="#222">Estimation</text>
<text x="411.1" y="347.9" text-anchor="middle" font-size="11.6" fill="#222">Measurement</text>
<text x="410.3" y="231.8" text-anchor="middle" font-size="9.5" font-weight="bold" fill="#111">D<tspan font-size="6.8" dy="2.4">NL6</tspan></text>
<text x="357.1" y="249.6" font-size="9.5" fill="#222">R=0.85</text>
<text x="357.1" y="262.1" font-size="9.5" fill="#222">RE=0.45</text>
<text x="407.8" y="304.9" font-size="9.4" fill="#f00">Slope=1.05</text>
<text x="407.8" y="316.2" font-size="9.4" fill="#f00">Intercept=-0.38</text>
<text x="368.0" y="321.2" font-size="9.5" fill="#222" clip-path="url(#cp22)">1:1</text>
<clipPath id="cp23"><rect x="515.5" y="238.5" width="117.3" height="82.9"/></clipPath>
<g stroke-width="1.8" stroke-linecap="square" fill="none"><path d="M569.8 286.8h0M558.4 287.7h0M566.4 282.8h0M557.2 286.8h0M567.6 296.6h0M574.4 294.7h0M567.6 287.0h0M584.1 285.9h0M571.5 289.9h0M574.4 289.9h0M564.1 297.7h0M566.1 288.6h0M571.4 289.0h0M577.0 292.4h0M567.5 291.1h0M571.1 290.0h0M564.1 293.5h0M561.6 296.0h0M581.9 285.0h0M564.9 297.9h0M573.0 290.4h0M569.1 289.4h0M572.7 284.7h0M573.9 286.4h0M566.6 292.3h0M565.7 290.6h0M573.4 287.2h0M566.4 295.6h0M557.2 300.6h0M567.2 291.5h0M561.9 297.6h0M569.7 288.4h0M581.3 282.1h0M566.5 290.0h0M574.7 283.6h0M563.0 301.2h0M560.3 291.8h0M557.5 290.2h0M567.9 293.3h0M570.5 287.4h0M559.5 292.2h0M558.9 286.1h0M564.6 283.2h0M564.2 293.6h0M567.3 293.1h0M570.8 289.8h0M567.1 294.6h0M559.9 288.5h0M578.4 288.8h0M561.2 286.3h0M572.5 286.8h0M561.2 288.7h0M566.9 291.3h0M566.6 292.9h0M565.2 297.4h0M573.4 282.1h0M574.2 287.8h0M566.3 289.3h0M571.4 293.7h0M552.1 291.9h0M574.0 288.8h0M572.2 291.5h0M570.9 290.4h0M570.5 288.9h0M575.3 285.5h0M563.6 298.6h0M571.7 288.4h0M566.8 294.5h0M575.4 284.7h0M564.3 288.2h0M567.5 296.5h0M569.7 292.0h0M567.5 287.1h0M557.4 291.3h0M569.1 294.1h0M572.2 286.3h0M573.6 292.4h0M587.4 288.1h0M578.8 287.1h0M559.2 283.2h0M569.5 287.5h0M568.0 292.1h0M579.1 285.4h0M567.6 290.7h0M570.2 286.5h0M565.8 300.4h0M564.6 295.7h0M569.1 291.8h0M569.2 282.6h0M566.0 291.4h0M569.4 291.7h0M572.9 284.2h0M570.4 288.9h0M577.0 291.6h0M563.6 298.8h0M569.4 289.9h0M569.4 290.1h0M575.6 284.7h0M570.5 283.0h0M564.4 293.8h0M569.8 288.4h0M558.7 301.5h0M566.0 290.3h0M573.4 286.4h0M573.0 295.6h0M564.3 285.0h0M575.4 291.8h0M561.4 291.2h0M558.3 290.2h0M581.3 286.7h0M557.7 287.6h0M567.1 293.1h0M562.8 294.0h0M565.5 299.2h0M564.8 292.8h0M562.0 294.0h0M560.4 300.4h0M572.0 294.8h0M569.3 286.8h0M568.6 295.8h0M568.4 288.2h0M560.5 291.8h0M562.7 299.9h0M574.3 283.2h0M564.8 285.4h0M554.4 306.5h0M555.6 296.9h0M577.9 290.8h0M565.3 297.2h0M557.0 292.2h0M568.0 286.5h0M569.1 288.2h0M562.4 296.1h0M565.7 290.1h0M570.0 287.4h0M556.3 303.9h0M562.9 286.3h0M564.7 284.0h0M559.6 287.1h0M562.7 297.7h0M551.8 302.3h0M562.0 292.9h0M565.3 283.1h0M559.9 304.5h0M580.5 285.9h0M564.2 295.0h0M565.6 295.7h0M566.5 286.7h0M564.9 296.5h0M565.7 291.5h0M567.8 289.3h0M566.6 287.1h0M583.6 288.2h0M552.3 298.9h0M569.0 282.8h0M552.8 286.1h0M560.6 287.6h0M561.4 300.7h0M565.4 298.7h0M567.3 290.2h0M566.1 299.5h0M563.0 305.1h0M566.1 287.4h0M563.8 301.3h0M561.9 301.6h0M567.7 296.5h0M563.1 287.9h0M575.2 288.8h0M568.6 288.6h0M565.3 290.0h0M567.2 293.7h0M564.3 294.6h0M559.3 293.0h0M582.9 285.8h0M561.1 286.7h0M559.3 282.6h0M571.3 286.4h0M565.8 295.8h0M563.6 281.5h0M575.8 288.4h0M552.9 284.5h0M567.2 291.0h0M588.6 287.4h0M552.8 286.0h0M570.6 287.3h0M584.8 284.2h0M573.7 288.8h0M567.8 295.0h0M566.3 293.9h0M574.3 290.9h0M580.2 293.1h0M579.0 290.2h0M558.6 290.5h0M564.9 295.1h0M574.4 284.4h0M567.1 285.7h0M567.0 289.1h0M562.4 292.2h0M563.8 288.2h0M583.2 279.7h0M563.5 296.7h0M565.5 292.2h0M568.0 287.6h0M562.1 295.9h0M564.1 285.4h0M558.6 290.3h0M560.4 303.1h0M562.8 291.4h0M563.4 295.5h0M558.9 299.5h0M567.1 293.5h0M570.4 284.3h0M568.8 288.1h0M579.5 285.9h0M558.0 290.0h0M570.8 287.3h0M566.0 292.1h0M574.1 281.9h0M573.6 281.1h0M564.4 295.8h0M570.8 298.4h0M567.7 289.1h0M552.6 283.7h0M564.6 292.6h0M558.9 295.7h0M551.1 294.1h0M570.1 289.9h0M569.7 282.3h0M569.2 287.0h0M553.7 300.7h0M553.4 286.6h0M589.1 285.1h0M566.6 286.9h0M578.7 283.9h0M569.2 291.1h0M559.7 285.5h0M563.8 301.6h0M576.1 291.2h0M560.9 290.7h0M565.1 295.1h0M570.5 289.4h0M563.6 295.6h0M570.3 289.7h0M563.5 290.9h0M583.5 283.6h0M570.0 285.8h0M571.5 292.9h0M571.9 290.2h0M571.0 284.9h0M561.1 290.2h0M567.8 289.1h0M559.8 293.8h0M572.9 287.9h0M569.1 290.6h0M558.8 294.5h0M572.9 286.3h0M569.8 288.9h0M571.2 285.1h0M580.4 282.6h0M577.0 286.4h0M572.0 292.2h0M566.3 292.1h0M567.6 289.8h0M580.5 290.4h0M566.8 288.9h0M565.2 295.0h0M576.0 287.6h0M561.2 289.9h0M562.4 298.5h0M564.0 291.3h0M570.1 289.2h0M570.0 284.0h0M566.4 292.9h0M565.5 294.2h0M564.4 299.7h0M564.7 299.2h0M563.5 300.1h0M568.6 294.3h0M575.9 282.8h0M564.9 293.7h0M570.0 283.9h0M570.7 285.5h0M564.1 289.6h0M570.3 298.8h0M564.7 286.3h0M578.2 287.3h0M567.1 290.6h0M573.2 287.2h0M565.1 285.5h0M575.5 288.2h0M568.1 289.3h0M568.9 292.5h0M569.6 291.7h0M571.3 290.4h0M561.4 293.5h0M574.3 288.2h0M568.6 291.2h0M575.9 288.9h0M567.2 293.8h0M565.4 293.9h0M557.4 301.5h0M575.3 288.1h0M567.5 292.2h0M562.2 302.8h0M576.6 285.3h0M564.4 285.0h0M564.6 295.6h0M560.5 286.3h0M556.3 289.6h0M568.0 288.2h0M558.0 304.3h0M581.2 292.4h0M575.9 283.3h0M561.3 290.8h0M565.4 300.3h0M565.3 284.2h0M563.7 286.3h0M563.4 307.1h0M571.1 285.1h0M551.8 291.3h0M563.1 295.7h0M569.0 285.4h0M567.1 289.4h0M582.3 286.1h0M564.6 288.3h0M574.1 288.2h0M565.8 293.3h0M563.2 297.4h0M578.6 282.5h0M571.9 287.8h0M587.2 290.3h0M582.7 289.7h0M559.9 289.4h0M565.5 292.5h0M572.0 294.1h0M559.5 289.8h0M568.0 290.9h0M565.0 293.0h0M578.1 293.8h0M556.8 303.8h0M557.8 299.6h0M564.7 299.6h0M558.3 286.8h0M561.6 290.5h0M573.2 284.4h0M560.4 292.7h0M555.6 292.9h0M561.8 297.4h0M566.4 291.7h0M577.5 289.6h0M563.9 296.5h0M576.4 282.9h0M561.6 292.6h0M568.2 288.7h0M562.6 305.8h0M566.7 290.7h0M576.3 284.5h0M562.8 284.2h0M561.5 295.4h0M567.2 292.6h0M569.5 285.1h0M571.2 296.5h0M568.1 294.4h0M566.1 293.8h0M564.8 292.5h0M579.7 286.5h0M566.1 294.2h0M563.0 296.6h0M561.6 289.1h0M556.8 289.3h0M561.2 290.8h0M562.9 286.2h0M563.8 297.0h0M568.0 290.3h0M558.3 295.6h0M547.3 288.6h0M559.8 305.0h0M572.4 280.4h0M559.2 296.1h0M575.0 287.7h0M561.2 302.1h0M554.7 295.9h0M569.8 289.5h0M566.2 288.0h0M565.3 291.9h0M574.9 284.2h0M568.9 290.7h0M565.2 293.3h0M569.1 287.1h0M554.4 291.8h0M564.3 293.0h0M587.4 285.7h0M563.1 295.5h0M559.8 298.0h0M565.8 294.1h0M570.7 296.0h0M562.7 298.7h0M567.5 300.8h0M560.0 295.6h0M568.5 288.8h0M572.4 287.6h0M565.1 287.4h0M570.3 294.7h0M556.2 291.9h0M558.7 291.0h0M561.1 298.3h0M573.7 283.5h0M564.6 294.6h0M568.2 291.1h0M564.2 290.9h0M575.9 285.5h0M563.9 301.7h0M574.2 284.5h0M558.9 289.9h0M558.6 295.6h0M569.4 299.4h0M555.4 287.4h0M566.3 288.2h0M570.7 287.9h0M567.1 286.3h0M562.2 293.9h0M561.4 286.9h0M555.1 289.9h0M583.3 289.7h0M552.9 284.9h0M565.0 288.4h0M560.0 293.5h0M560.6 292.5h0M563.2 290.1h0M567.5 285.5h0M565.3 296.3h0M569.0 288.8h0M574.6 289.0h0M567.6 289.4h0M576.0 285.4h0M554.0 296.8h0M558.9 291.5h0M566.4 286.0h0M573.4 289.3h0M566.4 301.5h0M578.1 294.9h0M576.7 286.1h0M578.1 284.2h0M577.4 285.3h0M560.7 285.6h0M559.0 294.1h0M557.7 290.9h0M567.9 284.6h0M566.8 287.6h0M574.5 282.3h0M566.6 290.9h0M569.6 292.9h0M572.3 286.0h0M577.1 286.9h0M550.4 290.6h0M570.1 290.2h0M561.1 291.2h0M560.8 291.5h0M561.3 290.1h0M565.6 295.2h0M566.6 291.3h0M560.5 286.2h0M571.1 292.0h0M568.7 295.4h0M564.5 293.6h0M577.2 288.8h0M566.6 287.8h0M577.0 288.1h0M556.9 291.2h0M572.6 292.3h0M577.8 284.0h0M563.0 301.3h0M554.3 296.9h0M558.3 292.6h0M563.8 291.1h0M566.3 299.7h0M564.3 293.4h0M564.4 285.7h0M566.9 296.7h0M553.2 287.4h0M557.7 288.8h0M569.0 289.4h0M578.2 287.9h0M564.2 297.4h0M576.1 287.1h0M573.9 292.2h0M584.6 291.0h0M569.6 288.1h0M573.8 282.9h0M580.0 284.9h0M575.7 295.4h0M568.2 291.9h0M553.6 291.6h0M577.6 286.4h0M568.5 287.3h0M567.9 290.1h0M565.0 298.9h0M564.1 296.6h0M566.4 295.2h0M565.0 296.3h0M559.4 289.2h0M581.1 287.7h0M558.2 290.5h0M584.9 283.2h0M566.1 298.4h0M557.7 296.6h0M554.8 287.0h0M562.8 287.7h0M570.4 295.1h0M572.6 286.4h0M566.9 293.9h0M571.4 288.4h0M575.1 292.5h0M582.9 280.4h0M562.6 291.1h0M559.7 300.5h0M560.5 292.3h0M575.9 285.4h0M578.5 290.3h0M568.0 291.1h0M560.2 292.0h0M565.0 292.2h0M564.2 292.8h0M570.9 290.7h0M562.5 288.2h0M564.7 294.5h0M563.5 296.7h0M572.3 290.9h0M567.9 287.6h0M567.8 290.4h0M581.7 292.0h0M555.2 282.8h0M563.8 296.7h0M584.3 290.7h0M568.6 294.2h0M568.9 290.0h0M565.6 288.6h0M577.1 283.7h0M565.3 297.7h0M563.6 288.1h0M559.4 305.9h0M572.2 292.1h0M549.1 288.7h0M570.3 284.8h0M552.4 300.9h0M578.2 282.2h0M572.8 289.9h0M562.5 287.5h0M560.1 300.0h0M565.8 287.9h0M566.7 291.2h0M568.1 288.5h0M563.7 286.0h0M566.4 288.9h0M561.8 291.0h0M566.1 291.3h0M560.4 289.4h0M557.7 300.6h0M552.6 306.6h0M581.1 289.9h0M551.4 292.4h0M561.2 307.6h0M563.5 284.1h0M561.6 294.4h0M568.6 291.9h0M562.3 286.7h0M567.2 290.1h0M561.5 289.6h0M580.5 288.0h0M572.8 286.6h0M566.9 284.6h0M569.3 294.8h0M564.8 292.8h0M574.7 289.6h0M588.0 286.1h0M569.6 292.8h0M558.5 296.9h0M558.8 299.6h0M552.0 294.5h0M589.1 289.0h0M557.7 303.2h0M567.7 293.1h0M572.2 288.6h0M569.8 290.1h0M576.9 285.6h0M566.9 291.7h0M570.1 292.7h0M563.0 298.1h0M557.9 297.1h0M565.2 293.1h0M549.9 297.9h0M564.8 293.3h0M562.1 285.7h0M570.0 289.9h0M576.5 292.0h0M572.4 289.9h0M558.7 297.5h0M564.2 295.0h0M564.8 304.4h0M572.1 289.4h0M566.1 293.7h0M562.7 287.6h0M570.4 287.0h0M569.5 294.4h0M565.4 293.5h0M556.6 291.2h0M557.7 286.2h0M562.8 292.1h0M583.0 282.0h0M569.4 295.3h0M562.9 296.9h0M581.4 289.4h0M569.6 287.3h0M567.5 295.9h0M563.0 295.9h0M564.9 286.4h0M569.9 286.8h0M560.7 286.0h0M561.7 304.6h0M567.9 289.9h0M573.0 291.2h0M561.1 295.5h0M569.0 286.0h0M566.9 290.6h0M561.8 287.0h0M556.0 299.4h0M567.5 291.2h0M567.5 296.2h0M565.7 292.7h0M575.7 283.5h0M562.6 301.0h0M558.3 299.3h0M574.3 283.4h0M563.3 291.2h0M563.6 297.5h0M560.1 286.4h0M572.9 285.8h0M562.0 291.9h0M570.9 288.4h0M567.0 290.1h0M566.5 293.5h0M566.5 292.9h0M571.5 287.3h0M562.9 291.9h0M572.6 282.6h0M560.9 299.0h0M573.1 284.9h0M590.7 293.4h0M559.2 297.2h0M570.1 281.5h0M566.0 295.9h0M571.6 284.8h0M561.4 289.1h0M561.9 292.3h0M573.5 284.1h0M555.6 295.4h0M576.0 284.6h0M572.1 285.9h0M560.7 294.4h0M563.5 294.3h0M581.1 286.7h0M565.6 294.8h0M561.0 302.8h0M570.5 297.9h0M557.7 294.6h0M556.0 292.8h0M569.2 294.9h0M577.8 278.3h0M559.2 292.0h0M572.3 285.3h0M567.6 292.4h0M563.6 294.5h0M565.1 300.2h0M556.3 299.4h0M562.8 296.6h0M571.7 288.5h0M582.9 292.0h0M560.6 284.3h0M566.7 291.5h0M562.4 293.3h0M557.6 300.6h0M568.7 282.0h0M568.8 287.9h0M565.4 291.8h0M571.6 295.0h0M570.5 285.7h0M564.7 284.1h0M572.7 283.4h0M562.8 299.9h0M564.3 286.0h0M579.8 288.1h0M569.2 294.2h0M557.7 293.3h0M573.3 279.5h0M581.5 283.5h0M587.1 285.1h0M569.6 293.8h0M577.9 287.0h0M574.3 285.0h0M557.8 297.1h0M559.2 306.2h0M567.5 295.2h0M562.9 294.1h0M563.8 295.0h0M563.6 301.5h0M579.9 288.9h0M566.4 290.4h0M572.5 287.1h0M562.4 291.6h0M562.0 299.2h0M557.0 303.4h0M555.9 291.1h0M563.1 286.6h0M556.9 290.9h0M564.2 300.9h0M575.5 284.6h0M568.6 291.2h0M566.4 291.6h0M574.9 284.3h0M559.7 295.4h0M566.3 294.8h0M565.2 296.2h0M563.9 285.1h0M564.2 302.1h0M572.4 292.6h0M560.9 286.9h0M574.7 287.7h0M574.5 285.8h0M565.8 292.7h0M567.0 292.3h0M581.6 279.7h0M558.4 293.3h0M560.7 288.8h0M593.5 293.5h0M564.1 293.6h0M574.2 285.3h0M570.7 291.7h0M570.0 289.8h0M557.9 296.0h0M569.4 299.8h0M563.9 291.0h0M566.3 291.5h0M569.4 290.3h0M565.5 302.4h0M568.8 287.9h0M566.1 289.7h0M561.6 299.5h0M561.0 288.5h0M575.0 289.8h0M560.5 296.2h0M571.2 292.6h0M577.1 290.9h0M565.4 292.9h0M556.7 296.8h0M573.7 294.2h0M569.7 300.9h0M549.2 285.2h0M571.7 296.3h0M573.0 287.6h0M568.4 292.3h0M558.6 293.5h0M559.3 290.5h0M554.9 291.7h0M585.0 287.0h0M578.7 285.9h0M568.3 290.1h0M575.1 294.7h0M564.2 294.1h0M556.2 299.5h0M564.0 293.1h0M568.4 289.4h0M568.9 294.0h0M561.6 289.1h0M555.3 292.2h0M572.0 291.6h0M560.9 290.1h0M568.5 291.2h0M562.5 296.8h0M556.6 280.5h0M575.9 285.4h0M578.5 287.4h0M566.4 291.4h0M576.0 284.3h0M558.5 302.3h0M567.5 294.5h0M570.6 287.3h0M566.9 297.7h0M571.9 296.4h0M561.9 293.5h0M565.8 289.1h0M568.8 292.4h0M561.8 288.8h0M560.1 296.5h0M566.6 288.2h0M558.2 295.8h0M577.1 284.9h0M575.9 285.3h0M566.0 285.3h0M555.9 293.0h0M570.7 289.6h0M561.5 288.5h0M556.6 299.7h0M572.0 284.2h0M579.2 284.7h0M563.1 297.9h0M571.8 284.8h0M575.4 287.7h0M562.2 300.5h0M582.3 288.3h0M572.5 291.6h0M583.6 282.7h0M570.4 294.9h0M571.5 294.7h0M570.9 290.1h0M571.8 285.8h0M569.7 291.3h0M567.4 288.7h0M581.9 282.8h0M562.1 297.8h0M562.7 292.6h0M568.0 282.7h0M566.7 293.4h0M562.5 288.6h0M568.6 294.5h0M560.5 296.0h0M556.6 302.5h0M556.3 299.2h0M558.4 296.9h0M557.1 288.4h0M574.6 286.2h0M581.4 289.8h0M562.8 298.9h0M571.5 290.1h0M573.5 287.4h0M591.6 287.6h0M568.7 290.1h0M574.3 287.0h0M566.7 287.8h0M587.7 287.9h0M554.5 293.3h0M569.3 289.8h0M566.0 290.7h0M558.0 296.3h0M583.1 280.3h0M551.6 295.0h0M550.6 298.4h0M571.5 285.6h0M576.4 285.4h0M567.2 292.5h0M568.1 283.5h0M573.3 283.9h0M561.0 283.5h0M564.6 302.7h0M557.2 297.6h0M565.2 295.0h0M567.0 291.1h0M553.4 286.9h0M564.2 298.1h0M567.5 290.4h0M579.8 289.8h0M567.3 290.1h0M563.7 296.5h0M563.4 292.2h0M550.3 297.8h0M572.8 289.0h0M564.2 294.2h0M557.6 293.9h0M569.1 286.0h0M571.4 285.6h0M565.7 298.1h0M576.8 290.0h0M570.5 289.5h0M578.2 285.1h0M570.8 290.5h0M570.0 286.2h0M569.1 287.1h0M567.1 289.4h0M570.6 288.2h0M571.1 290.6h0M557.9 304.2h0M556.2 310.8h0M560.3 305.4h0M563.4 307.1h0M566.2 310.5h0M557.9 307.9h0" stroke="#1000f0"/><path d="M567.1 281.9h0M584.2 281.9h0M554.1 278.8h0M563.6 285.4h0M572.9 284.2h0M581.0 280.8h0M579.4 283.5h0M580.2 283.7h0M557.6 284.5h0M589.6 280.2h0M577.8 280.4h0M577.6 281.7h0M565.2 289.7h0M582.9 280.0h0M558.1 276.0h0M589.0 280.7h0M565.5 282.8h0M576.4 282.9h0M570.4 287.2h0M557.3 287.4h0M587.6 278.6h0M569.8 282.9h0M575.5 280.8h0M549.0 283.1h0M564.0 285.0h0M565.7 280.4h0M570.2 283.6h0M585.7 281.9h0M572.6 283.5h0M581.5 276.0h0M580.9 276.5h0M595.8 281.5h0M562.2 281.9h0M565.4 282.3h0M566.7 283.8h0M578.4 272.8h0M571.8 283.2h0M574.4 282.2h0M587.5 283.1h0M578.6 282.5h0M561.1 280.7h0M578.1 281.2h0M570.6 281.4h0M594.6 283.7h0M569.0 288.5h0M563.6 285.0h0M567.6 283.8h0M570.5 277.3h0M577.0 281.4h0M582.2 279.5h0M571.1 281.9h0M568.3 278.1h0M564.1 283.5h0M581.9 280.4h0M585.2 279.8h0M557.9 282.2h0M566.4 284.0h0M579.7 285.5h0M565.6 281.4h0M569.9 288.8h0M590.9 278.5h0M581.1 280.6h0M557.3 281.2h0M573.6 282.9h0M574.7 282.3h0M569.0 281.4h0M577.8 283.5h0M566.1 285.4h0M573.1 278.4h0M592.1 281.4h0M569.2 281.3h0M584.5 282.7h0M573.3 282.9h0M573.4 281.1h0M568.6 282.0h0M588.7 281.9h0M583.8 282.2h0M575.8 284.0h0M576.1 278.0h0M566.2 281.9h0M559.4 283.5h0M581.7 283.1h0M551.2 286.2h0M570.4 283.8h0M588.6 285.7h0M573.3 285.7h0M576.0 280.2h0M563.2 280.5h0M551.7 282.5h0M562.3 281.9h0M564.6 280.6h0M570.9 279.9h0M566.9 281.4h0M551.8 287.9h0M567.5 282.9h0M563.8 282.3h0M584.0 281.8h0M564.5 281.5h0M561.2 282.6h0M562.9 280.9h0M592.6 279.9h0M561.6 284.7h0M590.3 283.2h0M552.9 281.4h0M559.5 278.7h0M564.2 282.0h0M563.4 279.7h0M560.6 284.2h0M563.6 286.6h0M588.0 281.2h0M569.6 283.4h0M574.1 280.0h0M565.9 280.7h0M558.8 280.2h0M565.5 283.8h0M575.4 283.4h0M580.6 281.3h0M574.4 278.3h0M566.7 278.6h0M592.4 281.9h0M556.5 285.3h0M565.6 287.2h0M578.3 278.9h0M577.8 283.6h0M573.9 281.7h0M595.3 281.9h0M585.7 278.7h0M549.2 283.6h0M581.6 279.8h0M575.7 277.0h0M575.0 284.6h0M583.1 283.1h0M578.1 284.4h0M564.0 287.0h0M575.8 281.4h0M572.2 276.6h0M576.0 280.6h0M576.2 280.9h0M564.1 282.0h0M571.2 281.2h0M579.8 285.8h0M576.1 283.8h0M577.1 282.4h0M576.9 282.7h0M584.8 278.9h0M564.2 284.3h0M560.3 285.4h0M578.8 281.0h0M571.9 278.8h0M566.9 284.5h0M565.1 298.1h0M562.4 285.2h0M554.6 280.9h0M559.7 282.7h0M556.1 284.3h0M575.2 282.1h0M586.3 280.8h0M560.3 283.6h0M579.6 277.0h0M575.6 282.3h0M578.3 279.4h0M575.2 281.0h0M571.8 279.6h0M575.9 276.9h0M573.6 279.3h0M557.9 282.7h0M578.8 280.7h0M567.9 284.9h0M581.8 278.1h0M582.3 278.4h0M570.6 280.6h0M585.4 280.5h0M560.0 278.8h0M575.4 282.7h0M581.5 281.6h0M573.5 284.4h0M584.2 283.3h0M566.2 282.1h0M570.8 282.7h0M581.7 281.5h0M576.6 286.7h0M562.4 281.8h0M583.2 282.0h0M563.4 279.2h0M577.5 284.2h0M565.8 280.7h0M569.1 289.1h0M582.2 277.9h0M565.9 281.2h0M578.4 283.4h0M571.0 281.6h0M568.9 281.6h0M582.4 283.0h0M556.8 279.4h0M561.7 276.3h0M574.5 278.2h0M579.9 281.9h0M568.9 284.4h0M594.2 286.7h0M573.9 278.3h0M573.3 283.2h0M574.8 281.5h0M572.0 288.3h0M574.8 284.7h0M570.4 280.8h0M573.9 282.2h0M570.4 278.7h0M567.9 278.7h0M557.9 280.8h0M581.4 284.4h0M586.4 279.3h0M582.6 280.7h0M578.0 275.7h0M572.9 281.2h0M571.1 282.8h0M573.4 280.1h0M568.2 279.9h0M570.8 276.1h0M567.7 283.8h0M579.5 283.0h0M562.6 281.7h0M573.1 277.4h0M569.0 283.7h0M563.8 280.3h0M585.8 281.6h0M581.1 277.2h0M576.5 280.8h0M570.1 285.6h0M560.0 281.2h0M571.1 282.9h0M574.7 286.6h0M582.7 279.0h0M560.4 283.8h0M569.9 282.6h0M577.2 277.4h0M574.2 283.6h0M568.8 280.3h0M572.1 284.3h0M577.5 280.5h0M563.5 280.7h0M581.4 278.2h0M556.6 282.0h0M580.7 282.0h0M559.5 278.6h0M569.7 285.2h0M568.5 285.2h0M565.2 282.8h0M570.8 282.4h0M560.3 277.9h0M565.0 281.6h0M572.0 280.3h0M581.5 276.5h0M569.7 284.0h0M565.4 283.0h0M585.4 280.0h0M561.7 285.1h0M556.5 285.7h0M583.8 280.9h0M585.3 280.1h0M561.4 282.6h0M575.7 283.9h0M566.6 281.2h0M572.5 283.1h0M569.9 284.8h0M565.6 286.7h0M587.6 276.2h0M571.8 284.3h0M567.5 280.7h0M567.1 281.4h0M577.6 283.9h0M570.3 279.2h0M587.8 278.0h0M561.3 281.9h0" stroke="#1808f0"/><path d="M590.3 278.3h0M587.5 278.2h0M575.1 275.0h0M557.6 279.7h0M581.1 273.2h0M578.1 275.5h0M552.1 278.7h0M575.3 275.9h0M590.7 281.3h0M563.1 275.1h0M567.3 277.3h0M584.8 272.7h0M585.7 277.4h0M570.7 275.6h0M576.6 275.5h0M580.1 279.7h0M578.7 276.8h0M590.1 280.5h0M562.8 278.3h0M577.2 280.4h0M588.1 277.6h0M579.1 278.6h0M577.5 273.8h0M568.7 279.3h0M601.4 281.6h0M588.4 280.4h0M560.2 274.8h0M569.2 274.7h0M567.7 275.5h0M555.1 275.1h0M569.1 283.4h0M570.1 279.0h0M566.0 278.1h0M579.0 277.6h0M578.1 277.9h0M584.5 277.3h0M587.3 277.0h0M570.3 277.4h0M587.6 277.8h0M575.4 277.2h0M575.0 279.4h0M592.8 279.7h0M577.8 277.5h0M591.0 274.7h0M573.8 280.7h0M574.6 277.0h0M570.7 277.2h0M571.4 278.0h0M582.1 279.3h0M568.0 277.9h0M588.6 278.2h0M580.5 278.1h0M560.6 277.7h0M576.3 276.2h0M588.5 278.4h0M575.2 278.0h0M550.3 278.0h0M578.6 276.3h0M580.8 279.7h0M587.0 278.5h0M583.0 276.9h0M571.5 275.8h0M567.5 277.9h0M562.1 277.6h0M558.3 279.6h0M582.5 275.4h0M575.2 277.0h0M594.0 281.4h0M544.9 278.4h0M566.3 279.8h0M586.0 277.7h0M569.0 276.6h0M570.4 279.0h0M586.9 278.6h0M554.5 279.5h0M574.6 280.6h0M581.9 276.2h0M570.7 277.8h0M557.7 279.8h0M568.2 275.8h0M561.2 276.3h0M591.5 279.1h0M571.8 279.0h0M560.1 279.6h0M567.8 277.7h0M571.0 276.8h0M573.8 277.2h0M578.9 276.4h0M593.9 283.0h0M570.7 278.9h0M579.0 275.6h0M577.3 275.1h0M595.7 283.3h0M574.9 275.1h0M566.4 281.1h0M570.7 277.0h0M585.9 273.2h0M577.9 277.6h0M548.7 278.3h0M559.7 282.5h0M566.3 277.8h0M583.5 276.6h0M569.9 276.0h0M565.9 274.7h0M564.5 278.3h0" stroke="#3040f0"/><path d="M589.0 276.3h0M577.3 274.2h0M595.4 280.2h0M580.1 272.9h0M576.7 275.2h0M595.4 280.1h0M578.2 270.8h0M567.1 276.0h0M591.4 279.6h0M565.1 275.7h0M588.1 274.5h0M573.7 276.6h0M594.7 276.9h0M569.7 275.7h0M588.7 275.0h0M569.5 274.7h0M580.3 275.9h0M573.2 275.0h0M595.1 280.1h0M588.2 274.0h0M589.2 274.7h0M581.6 275.8h0M582.8 273.3h0M578.4 277.4h0M586.5 275.2h0M574.7 272.6h0M590.5 277.1h0M580.2 276.0h0M563.2 275.3h0M592.3 278.5h0M572.8 273.6h0M571.7 275.7h0M557.0 277.1h0M589.8 274.5h0M586.6 273.0h0M574.6 275.1h0M565.1 276.0h0M581.6 273.8h0M588.5 275.6h0M587.8 276.4h0M564.5 275.7h0M561.6 274.7h0M582.7 275.4h0M581.4 276.0h0M590.5 276.9h0M592.1 275.1h0M582.7 274.5h0M594.5 274.7h0M574.7 273.1h0M588.2 275.5h0M565.7 276.0h0M592.6 276.2h0M588.3 275.6h0M582.1 273.6h0M566.7 273.6h0M571.6 276.2h0M573.1 276.4h0M596.8 278.0h0M593.3 275.9h0M581.6 273.6h0M580.3 271.4h0M568.2 275.3h0M570.7 275.2h0M571.2 274.4h0" stroke="#4070f8"/><path d="M587.7 272.7h0M592.2 277.1h0M592.8 273.6h0M577.7 273.6h0M577.2 271.3h0M580.1 274.1h0M587.6 272.8h0M586.3 273.7h0M575.1 274.2h0M586.8 271.7h0M583.6 271.3h0M586.3 270.2h0M579.3 272.7h0M568.7 274.1h0M580.5 272.4h0M585.1 272.2h0M587.9 274.0h0M590.5 276.4h0M591.1 273.3h0M582.8 274.7h0M589.7 275.5h0M593.1 276.6h0M572.1 272.9h0M584.3 273.4h0M593.4 276.0h0M579.5 274.3h0M581.5 275.3h0M573.9 272.6h0M563.7 273.7h0M575.6 275.6h0M581.6 273.0h0M578.4 273.8h0M578.6 272.9h0M584.3 271.9h0M585.2 269.6h0M573.7 273.8h0M562.0 272.2h0M589.4 274.6h0M578.1 271.4h0M588.2 273.7h0M595.0 275.2h0" stroke="#4890f8"/><path d="M583.9 272.0h0M594.0 275.7h0M574.4 273.1h0M589.4 273.0h0M594.7 277.3h0M569.0 273.9h0M584.2 271.4h0M585.3 272.7h0M581.1 272.6h0M598.1 275.1h0M580.8 272.4h0M563.0 273.2h0M586.0 271.5h0M585.4 271.2h0M573.2 270.7h0M585.3 271.5h0M586.4 270.7h0M572.4 271.8h0M589.7 274.3h0M578.9 273.9h0M586.4 271.2h0M565.2 272.2h0M568.9 273.6h0M587.5 271.4h0M583.4 272.2h0M560.2 270.3h0M583.0 272.4h0M571.3 273.6h0M569.6 272.0h0" stroke="#50a8f8"/><path d="M588.7 270.6h0M568.1 271.6h0M593.4 271.6h0M590.4 269.7h0M586.2 270.8h0M578.5 271.0h0M596.3 276.0h0M597.5 276.7h0M577.9 272.4h0M587.2 271.6h0M569.9 272.2h0M587.5 269.0h0M585.6 271.5h0M590.0 273.8h0M590.3 271.2h0M585.2 270.8h0M587.1 272.4h0M564.3 268.4h0M582.1 271.8h0M588.3 273.5h0M575.9 270.5h0M591.1 273.2h0M567.3 270.3h0M572.2 270.9h0M592.4 274.3h0M567.6 270.7h0M585.5 269.0h0" stroke="#58c8f8"/><path d="M592.9 270.3h0M589.8 269.5h0M596.5 272.7h0M592.2 272.4h0M596.8 274.9h0M589.7 269.6h0M591.2 271.4h0M555.5 270.7h0M596.2 272.9h0M597.8 274.0h0M583.1 271.3h0M578.2 271.4h0M586.0 269.1h0M584.6 268.1h0M573.2 270.0h0M584.8 269.7h0M589.7 269.8h0M582.4 268.6h0M584.9 269.5h0M590.2 270.0h0M554.1 270.7h0M584.6 268.9h0M579.7 268.5h0M558.5 270.6h0M570.8 271.8h0M564.4 270.4h0M583.0 270.9h0M584.1 268.2h0M587.5 270.8h0M592.0 273.5h0M585.6 270.7h0M551.0 273.2h0" stroke="#68e8f8"/><path d="M596.2 274.9h0M591.8 270.2h0M589.8 270.5h0M593.7 271.8h0M596.7 270.9h0M600.2 272.8h0M586.2 269.7h0M580.9 269.9h0M591.7 271.8h0M586.9 270.9h0M590.0 271.6h0M588.8 270.6h0M591.4 271.9h0M582.1 268.7h0M590.6 270.9h0M591.2 270.7h0M582.0 269.2h0M586.5 270.4h0M595.5 273.3h0M586.4 269.1h0M567.4 269.1h0M588.2 270.2h0M594.3 274.4h0M589.7 268.2h0M588.1 271.1h0M587.5 268.9h0M570.7 270.1h0M596.1 272.9h0M600.6 277.7h0M582.8 269.1h0M580.3 270.3h0" stroke="#70f8f0"/><path d="M589.9 268.5h0M597.3 270.7h0M576.1 268.8h0M594.7 274.0h0M590.6 269.2h0M587.1 267.0h0M586.8 268.3h0M571.6 267.0h0M582.8 267.4h0M583.7 267.9h0M584.1 269.1h0M567.8 270.4h0M587.5 268.2h0M586.7 270.3h0M592.8 270.1h0M588.7 268.8h0M602.6 275.0h0M578.0 269.0h0M556.2 268.2h0M579.0 268.8h0M589.9 269.7h0M591.6 270.2h0M577.6 266.5h0M578.9 268.0h0M576.8 269.9h0M592.5 271.2h0M607.1 271.7h0" stroke="#70f8e0"/><path d="M597.9 273.2h0M587.8 268.4h0M577.9 268.1h0M592.0 269.7h0M588.3 268.9h0M601.0 272.9h0M588.7 269.5h0M589.8 268.1h0M586.5 269.0h0M596.9 270.9h0M585.3 267.6h0M588.3 269.0h0M589.6 268.5h0M589.8 267.8h0M582.2 269.0h0M589.6 268.5h0M598.7 271.5h0M584.9 266.7h0M587.1 266.6h0M600.3 272.1h0M587.2 267.0h0M593.8 271.4h0" stroke="#70f8c8"/><path d="M567.1 268.0h0M598.1 271.7h0M594.5 268.9h0M587.9 268.4h0M566.1 267.6h0M591.4 267.9h0M594.0 270.3h0M603.2 273.9h0M590.5 269.1h0M580.4 266.8h0M592.0 269.3h0M595.1 269.3h0M596.5 269.6h0M576.2 265.6h0M587.0 266.8h0M585.0 265.9h0M575.5 266.3h0M600.3 272.8h0M597.5 271.2h0" stroke="#68f8b0"/><path d="M592.9 268.4h0M594.5 269.1h0M594.0 269.7h0M587.5 266.1h0M599.7 270.5h0M594.4 269.0h0M594.5 268.2h0M597.9 270.1h0M590.3 266.1h0M591.7 268.0h0M594.5 267.7h0M591.4 267.6h0M596.3 268.6h0M594.3 270.1h0M600.0 271.8h0M565.8 265.2h0M589.4 267.1h0M594.8 268.2h0M599.2 270.9h0M592.9 267.5h0M596.6 268.6h0" stroke="#60f8a0"/><path d="M591.2 265.8h0M585.3 266.2h0M587.8 266.1h0M589.1 264.7h0M585.4 265.4h0M589.2 266.9h0M602.6 271.1h0M595.8 268.1h0M597.1 269.9h0M592.2 266.2h0M588.4 265.9h0M594.4 268.2h0M591.4 265.7h0M587.4 266.4h0M589.0 266.5h0M581.1 263.6h0M595.3 268.3h0M588.6 265.3h0M590.9 267.1h0M588.5 265.9h0M557.3 264.4h0M595.5 268.1h0" stroke="#58f880"/><path d="M592.7 266.8h0M598.0 270.1h0M567.3 264.1h0M597.0 268.3h0M586.8 264.6h0M588.2 266.2h0M578.0 265.1h0M595.8 267.0h0M586.3 264.8h0M594.1 267.9h0M564.9 265.3h0M590.6 266.0h0M591.7 265.3h0M595.5 268.4h0M596.6 266.6h0M599.2 269.5h0M596.0 268.1h0" stroke="#50f860"/><path d="M592.3 266.7h0M588.8 265.2h0M591.0 264.7h0M593.4 266.3h0M602.1 269.1h0M596.5 267.0h0M598.4 269.3h0M602.0 268.6h0M599.2 269.8h0M603.2 271.4h0M604.4 268.4h0M596.3 269.1h0M597.0 268.8h0M609.9 267.1h0" stroke="#40f840"/><path d="M599.6 266.4h0M592.0 265.2h0M600.0 268.4h0M581.8 264.0h0M596.8 266.8h0M590.9 264.1h0M607.6 270.5h0M607.7 270.6h0M592.4 264.7h0M615.7 263.2h0" stroke="#30f820"/><path d="M597.7 266.8h0M596.2 266.7h0M589.3 263.0h0M593.7 265.0h0M599.2 266.4h0M590.8 263.6h0M587.9 263.1h0M609.6 273.6h0M591.6 264.3h0M597.0 265.8h0M601.3 268.2h0M595.4 265.4h0M589.3 263.3h0M595.3 265.5h0M601.5 268.0h0M601.1 267.1h0M617.5 261.8h0M611.0 265.4h0" stroke="#38f818"/><path d="M600.4 268.3h0M602.4 268.3h0M594.5 265.3h0M607.2 269.8h0M592.0 264.4h0M590.3 263.1h0M593.1 262.2h0M589.0 263.7h0M604.2 266.6h0M593.9 264.8h0M593.5 264.0h0M605.3 269.1h0M589.1 262.5h0M603.8 267.9h0M599.3 265.2h0M593.7 261.5h0M600.9 264.3h0M598.9 265.2h0M618.7 259.8h0M614.1 257.1h0M611.9 264.2h0" stroke="#48f818"/><path d="M593.9 262.8h0M597.0 264.8h0M601.7 267.8h0M604.5 267.5h0M599.5 267.0h0M607.5 267.9h0M597.7 264.3h0M588.7 261.8h0M589.5 262.9h0M596.8 264.9h0M599.5 266.4h0M595.2 265.1h0M593.2 264.1h0M597.5 264.1h0M589.5 261.8h0M616.5 257.3h0M618.4 260.6h0" stroke="#60f018"/><path d="M599.0 264.0h0M603.3 267.0h0M598.2 263.1h0M590.6 261.0h0M602.6 266.2h0M597.4 262.9h0M596.1 263.2h0M602.5 267.1h0M599.3 263.6h0M604.0 266.9h0M591.9 263.8h0M596.1 262.7h0M589.3 260.5h0M602.7 264.5h0M594.9 262.9h0M593.4 263.7h0M600.9 266.9h0" stroke="#88f020"/><path d="M594.0 260.5h0M595.3 262.5h0M598.9 264.5h0M598.1 264.3h0M603.4 266.7h0M601.6 265.7h0M597.7 263.5h0M600.8 265.8h0M601.2 263.8h0M595.1 262.6h0M597.3 263.5h0M605.4 268.0h0M608.8 270.6h0" stroke="#a8f028"/><path d="M602.9 264.7h0M603.5 266.0h0M605.4 264.8h0M597.6 263.1h0M600.0 264.4h0M593.5 261.8h0M603.4 263.1h0M595.5 261.4h0M594.1 262.6h0M605.9 265.8h0M594.8 260.3h0M595.7 262.9h0M604.3 263.8h0M596.7 261.6h0M596.5 262.4h0M597.6 263.5h0M596.6 263.3h0M604.1 265.1h0M600.6 262.5h0M586.3 258.1h0M604.8 263.6h0M598.5 262.2h0M622.0 257.5h0M619.8 257.9h0M608.0 268.9h0" stroke="#c8f030"/><path d="M601.7 262.2h0M597.0 260.3h0M602.1 263.5h0M601.0 261.1h0M595.2 260.0h0M605.6 265.1h0M604.9 264.6h0M606.9 264.8h0M604.0 265.8h0M598.5 260.4h0M606.0 265.0h0M599.2 265.1h0M602.7 264.7h0M596.2 260.6h0M596.8 261.4h0M602.8 262.0h0M620.8 256.3h0" stroke="#f0f838"/><path d="M594.3 258.4h0M601.7 263.1h0M599.1 262.6h0M599.6 261.5h0M601.2 262.0h0M598.2 260.7h0M600.8 264.0h0M604.4 264.1h0M606.3 264.8h0M609.0 264.6h0M598.3 260.3h0M601.1 260.2h0M601.0 261.3h0M604.8 263.8h0M599.2 260.4h0M598.0 262.6h0M619.3 255.9h0" stroke="#f0e040"/><path d="M610.5 263.4h0M609.3 263.8h0M602.0 262.3h0M604.6 261.9h0M597.8 259.2h0M608.4 263.5h0M605.4 264.5h0M599.1 261.2h0M606.0 262.0h0M608.4 264.2h0M599.7 261.4h0M604.3 263.2h0M622.3 255.2h0" stroke="#e8c038"/><path d="M601.7 257.7h0M608.1 262.8h0M610.6 262.4h0M609.6 263.6h0M599.5 260.7h0M604.1 261.6h0M603.7 262.0h0M610.4 264.8h0M599.6 258.9h0M607.0 264.1h0M608.5 263.5h0M604.5 262.5h0M596.8 258.9h0M597.7 260.3h0M605.4 260.6h0M598.3 260.9h0M610.7 264.5h0M598.2 257.8h0M599.8 263.1h0M600.4 261.0h0M598.3 259.9h0M598.8 260.9h0M601.1 257.9h0" stroke="#f0a030"/><path d="M594.4 258.0h0M605.2 261.3h0M599.1 258.5h0M592.1 257.7h0M604.6 260.5h0M603.7 259.2h0M607.1 262.9h0M597.9 258.9h0M604.5 258.3h0M608.8 262.9h0M597.0 258.6h0M602.1 258.2h0M601.8 261.3h0M609.6 262.8h0M604.0 261.3h0M602.6 259.4h0M602.7 259.8h0M602.9 261.7h0M604.2 258.7h0M605.0 261.6h0M603.5 260.7h0M606.5 262.1h0M604.6 260.0h0M600.8 257.7h0" stroke="#f08a28"/><path d="M599.8 258.3h0M602.0 259.4h0M607.4 261.6h0M599.3 259.6h0M607.9 258.4h0M608.4 261.4h0M602.0 259.0h0M607.1 261.2h0M603.9 259.9h0M608.3 258.2h0M607.9 259.4h0M608.9 260.4h0M607.9 261.8h0M602.9 257.9h0M602.3 260.3h0M608.9 260.1h0M606.3 260.4h0M603.7 260.5h0M600.9 258.6h0M621.0 254.3h0" stroke="#f06a20"/><path d="M605.0 258.5h0M608.2 260.0h0M609.8 259.5h0M598.8 257.8h0M610.4 262.0h0M604.7 259.9h0M601.2 258.0h0M606.5 258.2h0M600.5 257.7h0M599.1 258.3h0M599.3 257.6h0M599.5 258.0h0M604.9 258.5h0M602.1 258.4h0M607.1 257.8h0M610.1 261.6h0M607.5 258.3h0M593.3 257.9h0M593.4 258.1h0M600.8 258.6h0M601.1 258.6h0M625.8 253.0h0" stroke="#f04c18"/><path d="M607.4 257.9h0M603.1 258.5h0M606.7 260.3h0M604.8 257.9h0M610.5 258.1h0M608.9 257.8h0M604.1 258.0h0M607.7 258.1h0M612.0 261.1h0M602.8 257.6h0M605.3 257.7h0M591.8 257.8h0M582.6 258.8h0M584.1 257.9h0M588.1 258.3h0M589.8 257.9h0M619.5 252.5h0M623.6 252.4h0M624.7 251.2h0M612.7 263.1h0" stroke="#f0300e"/><path d="M602.1 258.6h0M601.3 258.4h0M608.8 259.1h0M604.0 260.6h0M613.5 257.9h0M610.8 258.0h0M588.8 258.3h0M620.9 251.9h0M627.1 253.7h0" stroke="#e8200c"/></g>
<line x1="546.7" y1="302.1" x2="627.2" y2="244.3" stroke="#ff1010" stroke-width="1.2"/>
<line x1="516.3" y1="321.4" x2="632.8" y2="238.5" stroke="#555" stroke-width="0.75" stroke-dasharray="1 0.9"/>
<rect x="515.5" y="238.5" width="117.3" height="82.9" fill="none" stroke="#111" stroke-width="1.2"/>
<path d="M515.6 321.4v1.0M519.8 321.4v1.0M515.5 318.9h-1.0M523.1 321.4v1.0M515.5 316.5h-1.0M525.8 321.4v1.0M515.5 314.6h-1.0M528.1 321.4v1.0M515.5 313.0h-1.0M530.1 321.4v1.0M515.5 311.6h-1.0M531.8 321.4v1.0M515.5 310.3h-1.0M533.4 321.4v1.8M515.5 309.2h-1.8M543.7 321.4v1.0M515.5 301.9h-1.0M549.7 321.4v1.0M515.5 297.6h-1.0M553.9 321.4v1.0M515.5 294.6h-1.0M557.2 321.4v1.0M515.5 292.2h-1.0M559.9 321.4v1.0M515.5 290.3h-1.0M562.2 321.4v1.0M515.5 288.7h-1.0M564.2 321.4v1.0M515.5 287.3h-1.0M565.9 321.4v1.0M515.5 286.1h-1.0M567.5 321.4v1.8M515.5 284.9h-1.8M577.8 321.4v1.0M515.5 277.6h-1.0M583.8 321.4v1.0M515.5 273.4h-1.0M588.0 321.4v1.0M515.5 270.3h-1.0M591.3 321.4v1.0M515.5 268.0h-1.0M594.0 321.4v1.0M515.5 266.1h-1.0M596.3 321.4v1.0M515.5 264.4h-1.0M598.3 321.4v1.0M515.5 263.0h-1.0M600.0 321.4v1.0M515.5 261.8h-1.0M601.6 321.4v1.8M515.5 260.7h-1.8M611.9 321.4v1.0M515.5 253.4h-1.0M617.9 321.4v1.0M515.5 249.1h-1.0M622.1 321.4v1.0M515.5 246.1h-1.0M625.4 321.4v1.0M515.5 243.7h-1.0M628.1 321.4v1.0M515.5 241.8h-1.0M630.4 321.4v1.0M515.5 240.2h-1.0M632.4 321.4v1.0M515.5 238.8h-1.0" stroke="#111" stroke-width="0.8" fill="none"/>
<text x="527.6" y="332.9" font-size="9.6" fill="#222">10<tspan font-size="6.8" dy="-4.4">5</tspan></text>
<text x="500.6" y="312.7" font-size="9.6" fill="#222">10<tspan font-size="6.8" dy="-4.4">5</tspan></text>
<text x="561.7" y="332.9" font-size="9.6" fill="#222">10<tspan font-size="6.8" dy="-4.4">6</tspan></text>
<text x="500.6" y="288.4" font-size="9.6" fill="#222">10<tspan font-size="6.8" dy="-4.4">6</tspan></text>
<text x="595.8" y="332.9" font-size="9.6" fill="#222">10<tspan font-size="6.8" dy="-4.4">7</tspan></text>
<text x="500.6" y="264.2" font-size="9.6" fill="#222">10<tspan font-size="6.8" dy="-4.4">7</tspan></text>
<text transform="translate(497.1,280.6) rotate(-90)" text-anchor="middle" font-size="11.4" fill="#222">Estimation</text>
<text x="574.1" y="347.9" text-anchor="middle" font-size="11.6" fill="#222">Measurement</text>
<text x="573.4" y="231.8" text-anchor="middle" font-size="9.5" font-weight="bold" fill="#111">D<tspan font-size="6.8" dy="2.4">NL5-PM</tspan></text>
<text x="518.7" y="248.0" font-size="9.5" fill="#222">R=0.87</text>
<text x="518.7" y="260.5" font-size="9.5" fill="#222">RE=0.42</text>
<text x="571.7" y="304.9" font-size="9.4" fill="#f00">Slope=1.01</text>
<text x="571.7" y="316.2" font-size="9.4" fill="#f00">Intercept=-0.15</text>
<text x="519.4" y="306.1" font-size="9.5" fill="#222" clip-path="url(#cp23)">1:1</text>
<rect x="650.5" y="281.03" width="11" height="7.27" fill="#1000f0"/>
<rect x="650.5" y="274.06" width="11" height="7.27" fill="#1808f0"/>
<rect x="650.5" y="267.09" width="11" height="7.27" fill="#3040f0"/>
<rect x="650.5" y="260.12" width="11" height="7.27" fill="#4070f8"/>
<rect x="650.5" y="253.16" width="11" height="7.27" fill="#4890f8"/>
<rect x="650.5" y="246.19" width="11" height="7.27" fill="#50a8f8"/>
<rect x="650.5" y="239.22" width="11" height="7.27" fill="#58c8f8"/>
<rect x="650.5" y="232.25" width="11" height="7.27" fill="#68e8f8"/>
<rect x="650.5" y="225.28" width="11" height="7.27" fill="#70f8f0"/>
<rect x="650.5" y="218.31" width="11" height="7.27" fill="#70f8e0"/>
<rect x="650.5" y="211.34" width="11" height="7.27" fill="#70f8c8"/>
<rect x="650.5" y="204.38" width="11" height="7.27" fill="#68f8b0"/>
<rect x="650.5" y="197.41" width="11" height="7.27" fill="#60f8a0"/>
<rect x="650.5" y="190.44" width="11" height="7.27" fill="#58f880"/>
<rect x="650.5" y="183.47" width="11" height="7.27" fill="#50f860"/>
<rect x="650.5" y="176.50" width="11" height="7.27" fill="#40f840"/>
<rect x="650.5" y="169.53" width="11" height="7.27" fill="#30f820"/>
<rect x="650.5" y="162.56" width="11" height="7.27" fill="#38f818"/>
<rect x="650.5" y="155.59" width="11" height="7.27" fill="#48f818"/>
<rect x="650.5" y="148.62" width="11" height="7.27" fill="#60f018"/>
<rect x="650.5" y="141.66" width="11" height="7.27" fill="#88f020"/>
<rect x="650.5" y="134.69" width="11" height="7.27" fill="#a8f028"/>
<rect x="650.5" y="127.72" width="11" height="7.27" fill="#c8f030"/>
<rect x="650.5" y="120.75" width="11" height="7.27" fill="#f0f838"/>
<rect x="650.5" y="113.78" width="11" height="7.27" fill="#f0e040"/>
<rect x="650.5" y="106.81" width="11" height="7.27" fill="#e8c038"/>
<rect x="650.5" y="99.84" width="11" height="7.27" fill="#f0a030"/>
<rect x="650.5" y="92.88" width="11" height="7.27" fill="#f08a28"/>
<rect x="650.5" y="85.91" width="11" height="7.27" fill="#f06a20"/>
<rect x="650.5" y="78.94" width="11" height="7.27" fill="#f04c18"/>
<rect x="650.5" y="71.97" width="11" height="7.27" fill="#f0300e"/>
<rect x="650.5" y="65.00" width="11" height="7.27" fill="#e8200c"/>
<rect x="650.5" y="65.0" width="11" height="223.0" fill="none" stroke="#333" stroke-width="1"/>
<path d="M661.5 257.8h1.5" stroke="#333" stroke-width="0.8"/>
<text x="665.8" y="260.8" font-size="8.6" fill="#222">100</text>
<path d="M661.5 224.1h1.5" stroke="#333" stroke-width="0.8"/>
<text x="665.8" y="227.1" font-size="8.6" fill="#222">200</text>
<path d="M661.5 190.5h1.5" stroke="#333" stroke-width="0.8"/>
<text x="665.8" y="193.5" font-size="8.6" fill="#222">300</text>
<path d="M661.5 156.8h1.5" stroke="#333" stroke-width="0.8"/>
<text x="665.8" y="159.8" font-size="8.6" fill="#222">400</text>
<path d="M661.5 123.2h1.5" stroke="#333" stroke-width="0.8"/>
<text x="665.8" y="126.2" font-size="8.6" fill="#222">500</text>
<path d="M661.5 89.5h1.5" stroke="#333" stroke-width="0.8"/>
<text x="665.8" y="92.5" font-size="8.6" fill="#222">600</text>
<text x="640.8" y="53.6" font-size="9.9" fill="#111">SR (W/m<tspan font-size="6.8" dy="-4">2</tspan><tspan dy="4">)</tspan></text>
</svg></body></html>
